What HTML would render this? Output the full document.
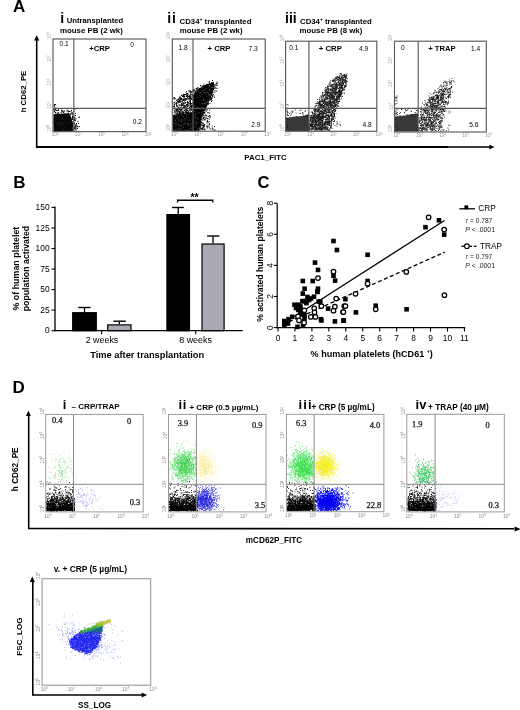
<!DOCTYPE html>
<html><head><meta charset="utf-8"><style>html,body{margin:0;padding:0;background:#fff;width:520px;height:710px;overflow:hidden}svg{display:block;filter:blur(0.3px)}</style></head>
<body>
<svg width="520" height="710" viewBox="0 0 520 710">
<rect width="520" height="710" fill="#fff"/>
<text x="13" y="12.4" font-family="Liberation Sans" font-size="17" font-weight="bold" text-anchor="start" fill="#000">A</text>
<line x1="36.7" y1="40" x2="36.7" y2="147.4" stroke="#000" stroke-width="1.6"/>
<polygon points="36.7,35.3 34.1,40.5 39.3,40.5" fill="#000"/>
<line x1="36" y1="147.0" x2="448" y2="147.0" stroke="#000" stroke-width="1.9"/>
<line x1="447.5" y1="147.0" x2="490" y2="147.0" stroke="#000" stroke-width="1.3"/>
<polygon points="494.5,147.1 489.3,144.7 489.3,149.5" fill="#000"/>
<text x="26" y="91.5" font-family="Liberation Sans" font-size="7.8" font-weight="bold" text-anchor="middle" fill="#000" transform="rotate(-90 26 91.5)">h CD62_PE</text>
<text x="265.5" y="159.6" font-family="Liberation Sans" font-size="7.9" font-weight="bold" text-anchor="middle" fill="#000">PAC1_FITC</text>
<text x="55.2" y="136.4" font-family="Liberation Sans" font-size="4.6" text-anchor="middle" fill="#999">10<tspan font-size="3.2" dy="-1.6">0</tspan></text>
<text x="78.5" y="136.4" font-family="Liberation Sans" font-size="4.6" text-anchor="middle" fill="#999">10<tspan font-size="3.2" dy="-1.6">1</tspan></text>
<text x="101.7" y="136.4" font-family="Liberation Sans" font-size="4.6" text-anchor="middle" fill="#999">10<tspan font-size="3.2" dy="-1.6">2</tspan></text>
<text x="125.0" y="136.4" font-family="Liberation Sans" font-size="4.6" text-anchor="middle" fill="#999">10<tspan font-size="3.2" dy="-1.6">3</tspan></text>
<text x="148.2" y="136.4" font-family="Liberation Sans" font-size="4.6" text-anchor="middle" fill="#999">10<tspan font-size="3.2" dy="-1.6">4</tspan></text>
<text x="51.0" y="128.3" font-family="Liberation Sans" font-size="4.6" text-anchor="middle" fill="#999" transform="rotate(-90 51.0 128.3)">10<tspan font-size="3.2" dy="-1.6">0</tspan></text>
<text x="51.0" y="105.1" font-family="Liberation Sans" font-size="4.6" text-anchor="middle" fill="#999" transform="rotate(-90 51.0 105.1)">10<tspan font-size="3.2" dy="-1.6">1</tspan></text>
<text x="51.0" y="82.0" font-family="Liberation Sans" font-size="4.6" text-anchor="middle" fill="#999" transform="rotate(-90 51.0 82.0)">10<tspan font-size="3.2" dy="-1.6">2</tspan></text>
<text x="51.0" y="58.9" font-family="Liberation Sans" font-size="4.6" text-anchor="middle" fill="#999" transform="rotate(-90 51.0 58.9)">10<tspan font-size="3.2" dy="-1.6">3</tspan></text>
<text x="51.0" y="35.7" font-family="Liberation Sans" font-size="4.6" text-anchor="middle" fill="#999" transform="rotate(-90 51.0 35.7)">10<tspan font-size="3.2" dy="-1.6">4</tspan></text>
<text x="174.5" y="136.0" font-family="Liberation Sans" font-size="4.6" text-anchor="middle" fill="#999">10<tspan font-size="3.2" dy="-1.6">0</tspan></text>
<text x="197.7" y="136.0" font-family="Liberation Sans" font-size="4.6" text-anchor="middle" fill="#999">10<tspan font-size="3.2" dy="-1.6">1</tspan></text>
<text x="220.9" y="136.0" font-family="Liberation Sans" font-size="4.6" text-anchor="middle" fill="#999">10<tspan font-size="3.2" dy="-1.6">2</tspan></text>
<text x="244.2" y="136.0" font-family="Liberation Sans" font-size="4.6" text-anchor="middle" fill="#999">10<tspan font-size="3.2" dy="-1.6">3</tspan></text>
<text x="267.4" y="136.0" font-family="Liberation Sans" font-size="4.6" text-anchor="middle" fill="#999">10<tspan font-size="3.2" dy="-1.6">4</tspan></text>
<text x="170.3" y="127.9" font-family="Liberation Sans" font-size="4.6" text-anchor="middle" fill="#999" transform="rotate(-90 170.3 127.9)">10<tspan font-size="3.2" dy="-1.6">0</tspan></text>
<text x="170.3" y="104.8" font-family="Liberation Sans" font-size="4.6" text-anchor="middle" fill="#999" transform="rotate(-90 170.3 104.8)">10<tspan font-size="3.2" dy="-1.6">1</tspan></text>
<text x="170.3" y="81.8" font-family="Liberation Sans" font-size="4.6" text-anchor="middle" fill="#999" transform="rotate(-90 170.3 81.8)">10<tspan font-size="3.2" dy="-1.6">2</tspan></text>
<text x="170.3" y="58.8" font-family="Liberation Sans" font-size="4.6" text-anchor="middle" fill="#999" transform="rotate(-90 170.3 58.8)">10<tspan font-size="3.2" dy="-1.6">3</tspan></text>
<text x="170.3" y="35.7" font-family="Liberation Sans" font-size="4.6" text-anchor="middle" fill="#999" transform="rotate(-90 170.3 35.7)">10<tspan font-size="3.2" dy="-1.6">4</tspan></text>
<text x="287.8" y="136.1" font-family="Liberation Sans" font-size="4.6" text-anchor="middle" fill="#999">10<tspan font-size="3.2" dy="-1.6">0</tspan></text>
<text x="310.6" y="136.1" font-family="Liberation Sans" font-size="4.6" text-anchor="middle" fill="#999">10<tspan font-size="3.2" dy="-1.6">1</tspan></text>
<text x="333.4" y="136.1" font-family="Liberation Sans" font-size="4.6" text-anchor="middle" fill="#999">10<tspan font-size="3.2" dy="-1.6">2</tspan></text>
<text x="356.2" y="136.1" font-family="Liberation Sans" font-size="4.6" text-anchor="middle" fill="#999">10<tspan font-size="3.2" dy="-1.6">3</tspan></text>
<text x="379.0" y="136.1" font-family="Liberation Sans" font-size="4.6" text-anchor="middle" fill="#999">10<tspan font-size="3.2" dy="-1.6">4</tspan></text>
<text x="283.6" y="128.0" font-family="Liberation Sans" font-size="4.6" text-anchor="middle" fill="#999" transform="rotate(-90 283.6 128.0)">10<tspan font-size="3.2" dy="-1.6">0</tspan></text>
<text x="283.6" y="105.5" font-family="Liberation Sans" font-size="4.6" text-anchor="middle" fill="#999" transform="rotate(-90 283.6 105.5)">10<tspan font-size="3.2" dy="-1.6">1</tspan></text>
<text x="283.6" y="83.0" font-family="Liberation Sans" font-size="4.6" text-anchor="middle" fill="#999" transform="rotate(-90 283.6 83.0)">10<tspan font-size="3.2" dy="-1.6">2</tspan></text>
<text x="283.6" y="60.4" font-family="Liberation Sans" font-size="4.6" text-anchor="middle" fill="#999" transform="rotate(-90 283.6 60.4)">10<tspan font-size="3.2" dy="-1.6">3</tspan></text>
<text x="283.6" y="37.9" font-family="Liberation Sans" font-size="4.6" text-anchor="middle" fill="#999" transform="rotate(-90 283.6 37.9)">10<tspan font-size="3.2" dy="-1.6">4</tspan></text>
<text x="396.7" y="136.8" font-family="Liberation Sans" font-size="4.6" text-anchor="middle" fill="#999">10<tspan font-size="3.2" dy="-1.6">0</tspan></text>
<text x="419.6" y="136.8" font-family="Liberation Sans" font-size="4.6" text-anchor="middle" fill="#999">10<tspan font-size="3.2" dy="-1.6">1</tspan></text>
<text x="442.6" y="136.8" font-family="Liberation Sans" font-size="4.6" text-anchor="middle" fill="#999">10<tspan font-size="3.2" dy="-1.6">2</tspan></text>
<text x="465.6" y="136.8" font-family="Liberation Sans" font-size="4.6" text-anchor="middle" fill="#999">10<tspan font-size="3.2" dy="-1.6">3</tspan></text>
<text x="488.5" y="136.8" font-family="Liberation Sans" font-size="4.6" text-anchor="middle" fill="#999">10<tspan font-size="3.2" dy="-1.6">4</tspan></text>
<text x="392.5" y="128.7" font-family="Liberation Sans" font-size="4.6" text-anchor="middle" fill="#999" transform="rotate(-90 392.5 128.7)">10<tspan font-size="3.2" dy="-1.6">0</tspan></text>
<text x="392.5" y="106.0" font-family="Liberation Sans" font-size="4.6" text-anchor="middle" fill="#999" transform="rotate(-90 392.5 106.0)">10<tspan font-size="3.2" dy="-1.6">1</tspan></text>
<text x="392.5" y="83.3" font-family="Liberation Sans" font-size="4.6" text-anchor="middle" fill="#999" transform="rotate(-90 392.5 83.3)">10<tspan font-size="3.2" dy="-1.6">2</tspan></text>
<text x="392.5" y="60.6" font-family="Liberation Sans" font-size="4.6" text-anchor="middle" fill="#999" transform="rotate(-90 392.5 60.6)">10<tspan font-size="3.2" dy="-1.6">3</tspan></text>
<text x="392.5" y="37.9" font-family="Liberation Sans" font-size="4.6" text-anchor="middle" fill="#999" transform="rotate(-90 392.5 37.9)">10<tspan font-size="3.2" dy="-1.6">4</tspan></text>
<polygon points="53.5,115 60,114 66,113.5 70,114.5 71.5,118 72.5,124 73,131.5 53.5,131.5" fill="#111" fill-opacity="1.0"/>
<path d="M67 120h1m7 9h1m-4.5 0h1m-13.5 -8h1m1 7h1m12 -7.5h1m-3 3h1m-1 -7h1m-9 2h1m-4 7h1m-0.5 2h1m-1.5 -13.5h1m1.5 12h1m1 2h1m0 -7.5h1m3 4.5h1m-5 -8h1m-9.5 2h1m-2 5.5h1m8.5 -9h1m-14 4h1m-1 4h1m10.5 1.5h1m-2.5 -9h1m4 3h1m-4 -1h1m-2 -0.5h1m-6.5 -3.5h1m-6.5 7.5h1m2 5.5h1m13 -1.5h1m-14 -10h1m2.5 -0.5h1m-6.5 4h1m15.5 7.5h1m-16 -4h1m1 7h1m15 -4h1m-11 -2.5h1m6 3.5h1m-6.5 0.5h1m3 -8h1m-14.5 -1h1m7.5 3h1m0 0h1m-6.5 -0.5h1m4.5 5h1m-5 -11h1m-2.5 1h1m-5 3h1m9 -3h1m0 5h1m-1 -7.5h1m0.5 7.5h1m-12 -3.5h1m3 0.5h1m-2.5 10.5h1m1 -12.5h1m-8.5 8.5h1m1.5 -3.5h1m10 7h1m-10.5 -12.5h1m13 15h1m-4.5 -0.5h1m-14 -4h1m18 -0.5h1m-2.5 -0.5h1m-9.5 3.5h1m-10 -12.5h1m-0.5 14.5h1m17 -1.5h1m-9 -15h1m-12.5 4h1m10 10.5h1m-0.5 2.5h1m-4 -6.5h1m-6.5 2h1m-3.5 0.5h1m16.5 -3h1m-10 6.5h1m-0.5 -6h1m-6 -5.5h1m9.5 5.5h1m-10.5 2h1m-8.5 0h1m2 -6h1m17.5 7.5h1m-8.5 -0.5h1m-5.5 -9h1m1 -4.5h1m-4.5 1.5h1m4 1.5h1m0.5 5.5h1m-9.5 8h1m5 -13h1m4 12.5h1m3 -4.5h1m-20.5 3.5h1m14 -1.5h1m1 -9.5h1m-16 -3h1m5.5 14h1m8.5 -2h1m-21 -10.5h1m14.5 0h1m2.5 14h1m-8 -14h1m3.5 9.5h1m-11.5 -10h1m-2.5 12h1m2.5 -13h1m-5 8h1m4.5 -10h1m2 15.5h1m-6.5 -15.5h1m-0.5 5h1m12.5 10h1m-10.5 -4h1m-1 0.5h1m0 -2.5h1m8.5 8.5h1m-4.5 -11h1m-5.5 6.5h1m-5 -1h1m9.5 2.5h1m-12 -8.5h1m12.5 8h1m-22 0h1m8 -6.5h1m-2 -8h1m11 18h1m-17 -3h1m11.5 -12h1m-2 11h1m-2.5 -8.5h1m-2 3h1m7.5 8h1m-17.5 -7.5h1m2 -4h1m-6 1h1m-2.5 -5h1m1.5 3h1m12.5 0h1m-17 -2h1m10 6.5h1m-4.5 -4h1m2.5 11h1m-7 -10h1m0.5 3.5h1m2.5 -6.5h1m-0.5 1h1m-12.5 5.5h1m6 7h1m7.5 -15h1m0 12h1m-4 4h1m-15 0h1m16.5 -7h1m0.5 -4h1m-9 8.5h1m-12.5 -9h1m-2 5h1m4.5 -1.5h1m-1 -2.5h1m6 -7h1m-12.5 10.5h1m12 -6h1m-11 -3h1m11.5 9h1m-10 1.5h1m13.5 0.5h1m-12 -5.5h1m6 3.5h1m-5 4.5h1m-2.5 -4h1m-11 5.5h1m10 -3.5h1m4.5 -1.5h1m-19.5 2.5h1m5.5 1.5h1m-2 -12h1m-4.5 6.5h1m10 5h1m4 -7h1m-12 -2h1m10 1.5h1m-1 3h1m-18.5 3h1m16 -1h1m-16.5 6h1m12 -15h1m-2.5 1h1m-12.5 -1h1m14 4.5h1m-10 -2.5h1m7 3h1m2 8h1m-18.5 -12.5h1m11.5 8.5h1m-10 2.5h1m7 -6.5h1m-6.5 -0.5h1m0 7h1m6.5 -13h1m-15.5 13.5h1m4.5 -10h1m-4.5 12h1m10.5 -17.5h1m3 17h1m-11.5 -13h1m-1.5 6h1m2 3h1m-9.5 -3h1m0 -6.5h1m1.5 0h1m3 1.5h1m-10.5 -4h1m16 5h1m-5 -3h1m-7.5 5.5h1m-6 -1.5h1m11.5 7h1m-12 -9h1m-2.5 2h1m-2 7h1m3 -5h1m0.5 7h1m11 -5.5h1m-6.5 7.5h1m-12 -0.5h1m7.5 -11.5h1m8.5 9h1m-14 -10h1m7.5 -2h1m0 -2.5h1m1.5 -0.5h1m-8 -1.5h1m-6 2h1m-1 -2h1m5 4h1m3.5 0h1m-12 -3.5h1m-4 -2h1m-5 6h1m2 -4h1m14 2.5h1m-6 1h1m7 -0.5h1m-20.5 0.5h1m5 -2.5h1m8 2.5h1m-3.5 -2.5h1m-13.5 -1.5h1m6 1.5h1m4 -1h1m0 3h1m-6 0.5h1m-6.5 -4.5h1m15.5 0h1m-11.5 1.5h1m4 0.5h1m-5 3h1m-10.5 0h1m2.5 0.5h1m-4.5 -2h1m1.5 0h1m-1 -2.5h1m3.5 0.5h1m-2.5 -2.5h1m-0.5 5.5h1m8.5 -3.5h1m-17.5 -1.5h1m0.5 1.5h1m14 0h1m5 18h1m-8 -0.5h1m1.5 -2.5h1m5.5 1h1m-1.5 -9h1m-3 8.5h1m-2 -7h1m-4.5 0h1m6 -2h1m-2.5 4.5h1m-3.5 -6h1m-4.5 10h1m-0.5 1.5h1m1 0.5h1m-1.5 -10.5h1m-4 8.5h1m2.5 3h1m-0.5 -13h1m-2.5 2.5h1m0 1.5h1m-1.5 3h1m-0.5 -4.5h1m1 5.5h1m-2 -3h1m-4 5h1m5 -2h1m-4 2.5h1m-1.5 -7h1m1.5 7.5h1m-0.5 0.5h1m-24 -2.5h1m-2 -2.5h1m0.5 -17.5h1m-1.5 5.5h1m-1.5 8h1m-1 5h1m-0.5 -8.5h1m-1 1.5h1m-1.5 10.5h1m-1 -22h1m-1 7h1m-0.5 0.5h1m-2 -2h1m-0.5 -4.5h1m-1 9.5h1m-1.5 6.5h1m0.5 -13.5h1m-2 18.5h1m-0.5 -17h1m-1.5 13.5h1m-1.5 -14.5h1m0.5 19.5h1m-1 -18.5h1m-2 14h1m-1 3h1m-1 -15.5h1m-1 -4.5h1m-0.5 13.5h1m-1 -2.5h1" stroke="#000" stroke-width="1" stroke-opacity="0.9" fill="none"/>
<polygon points="172.8,115 182,114.5 193,112 193,95 199,88.5 207,84 213.5,82.5 214.5,88 211,97 206,107 202,117 199,131 172.8,131" fill="#1c1c1c" fill-opacity="1.0"/>
<path d="M205.5 93.5h1m-13 35h1m-3 -2h1m-11 2.5h1m12 -9h1m-2 -17.5h1m-4 25h1m9 -25h1m-5 6h1m14 -14h1m-22.5 25.5h1m6.5 -24h1m-9.5 22h1m21 -31.5h1m-4.5 8.5h1m-26 28.5h1m3.5 -1h1m-6.5 6h1m-6 -8h1m33 -22.5h1m-10 -5h1m-16.5 32h1m11.5 4.5h1m-12.5 -15h1m-0.5 1.5h1m-12.5 0.5h1m32.5 -28h1m-10 6.5h1m-4.5 33h1m-6 -14h1m13.5 -17h1m0 5.5h1m-29.5 21.5h1m17 -22.5h1m-2 -4h1m-11.5 25h1m2 2.5h1m12 -27h1m-14.5 24h1m8 0h1m5.5 -26h1m2 -7h1m-5 21.5h1m-19 4.5h1m9 14.5h1m-20 -9h1m14.5 5h1m13.5 -19.5h1m-23.5 17h1m1.5 6h1m21 -38.5h1m1.5 -2.5h1m-25 35h1m18.5 -23h1m-2.5 2.5h1m-5.5 -13.5h1m-2 5.5h1m-4 16h1m16 -27h1m-18.5 46h1m11 -30.5h1m-5.5 13.5h1m3.5 -14h1m-12.5 5h1m11 1h1m-7.5 -8.5h1m4 0.5h1m-20.5 20.5h1m-10 11h1m25.5 -41h1m-15 34.5h1m5.5 -18.5h1m-9 20.5h1m3 6.5h1m4.5 -5h1m-3 -18h1m-2.5 2h1m17 -21h1m-19.5 8.5h1m9.5 0h1m1.5 7h1m-8.5 19.5h1m-0.5 -23.5h1m-3 29h1m-2.5 -15h1m-0.5 1h1m12.5 -27h1m-4.5 -2h1m-4.5 18h1m6.5 -15h1m-6.5 3.5h1m-2.5 12.5h1m-31 11.5h1m9 11h1m10.5 -0.5h1m3.5 -24.5h1m3 -2h1m-5.5 -1.5h1m9.5 -11.5h1m-19 41h1m-13 -11.5h1m23.5 -20.5h1m-20.5 20.5h1m11 -14.5h1m-4 4h1m8 -14h1m5 -1.5h1m-16.5 4.5h1m-18.5 22h1m15.5 11h1m8.5 -37.5h1m-2.5 4h1m-2 3h1m-9 19h1m-8 12h1m9.5 -7h1m2 3.5h1m-5 -7.5h1m10.5 -27h1m-21 38h1m21 -33.5h1m-35 20.5h1m8.5 0.5h1m-3.5 10.5h1m2 -12h1m12.5 -22.5h1m4 18.5h1m2 -7.5h1m-30.5 16.5h1m17 5.5h1m9 -18.5h1m-8.5 -6.5h1m5 -3.5h1m-4 3h1m5.5 -11.5h1m-7 36h1m10.5 -34.5h1m-14 16.5h1m8.5 -16h1m-9.5 26.5h1m1 -13.5h1m-23 12h1m18.5 -9h1m-14 14.5h1m7.5 3h1m-6 -10h1m5.5 -12h1m-23.5 27.5h1m31.5 -39.5h1m-31 39h1m24 -15h1m-11 0.5h1m7.5 0.5h1m4.5 -23h1m-11.5 4.5h1m5.5 -5h1m2 1h1m-6.5 17h1m-7.5 8h1m-15 7h1m25 -19.5h1m-9.5 4h1m7 2.5h1m3 -13h1m-7 -3.5h1m3 14h1m-2 1.5h1m-10 -2.5h1m5 -9.5h1m-8.5 32h1m4.5 -24.5h1m-6.5 20.5h1m13 -41.5h1m-13.5 26h1m8 -21.5h1m-11.5 25.5h1m9.5 -11.5h1m3.5 -4h1m-15.5 17.5h1m-16 8.5h1m18.5 -12.5h1m-16 13h1m17.5 -32h1m-6 21h1m-15 2h1m19 -24h1m-17 35.5h1m19.5 -41.5h1m1.5 0.5h1m-10.5 24h1m-5.5 -15h1m-19 30.5h1m-0.5 -8h1m17.5 -27h1m7 4h1m-19 26h1m16 -14h1m-17 12h1m-13 9h1m22.5 -11h1m4.5 -30.5h1m6 5h1m-1 4.5h1m-4 -6h1m-8 9h1m-1 -5h1m-7.5 31.5h1m-2 2.5h1m9.5 -20.5h1m-9.5 13.5h1m0.5 -5.5h1m-14 1h1m24.5 -26.5h1m-18.5 34h1m15.5 -36.5h1m-35 32h1m34 -24.5h1m-17.5 27.5h1m0.5 -4h1m-9 6h1m24 -35.5h1m-40.5 30h1m29.5 -9.5h1m-15 15h1m7 -13.5h1m2.5 -22h1m0.5 15.5h1m-10.5 6h1m3 -1.5h1m4 3.5h1m9.5 -23.5h1m-18 17.5h1m-18.5 19.5h1m26 -38h1m-30 27.5h1m25.5 -7h1m-30 19h1m26 -17.5h1m2.5 -17h1m-2.5 4h1m-5.5 6.5h1m-26 12.5h1m21.5 -23.5h1m-19.5 32.5h1m26 -33h1m1 -3.5h1m-13.5 23h1m1.5 -1h1m-14.5 7h1m30 -30h1m-13.5 15.5h1m-16.5 21.5h1m13.5 -31h1m-24.5 32.5h1m16 -9h1m6 4h1m0.5 -33h1m4.5 9h1m-25.5 21.5h1m8 9h1m6 -21.5h1m-10 14h1m13.5 -11.5h1m-10.5 12h1m-0.5 -8.5h1m-11.5 4.5h1m14 9h1m1.5 -36.5h1m-1.5 6h1m2 -7h1m-7.5 27.5h1m1.5 -14.5h1m8.5 -6h1m-36 32h1m28 -42h1m-21.5 38h1m-9 2.5h1m26 -16h1m5 -16.5h1m0 0h1m-9.5 21h1m2 -20.5h1m4.5 -1.5h1m0.5 -1.5h1m-28 33.5h1m14.5 -27h1m-27.5 26h1m30.5 -24.5h1m-4.5 17.5h1m5 -13.5h1m-29.5 20.5h1m17.5 -17.5h1m-6 15h1m4 -21h1m12 -10.5h1m-27.5 26.5h1m20.5 -22.5h1m4.5 -10.5h1m-23.5 45.5h1m20 -44.5h1m-14 12.5h1m-16 27.5h1m1.5 -1h1m-1 4.5h1m6.5 -5h1m-14.5 -4h1m17 7.5h1m-1 -1.5h1m12 -39.5h1m-4 22h1m1 -3h1m-7.5 -4.5h1m-0.5 6.5h1m3.5 -20.5h1m-26 42.5h1m13.5 -35h1m9.5 -4h1m-13 8h1m6 9.5h1m3.5 -6.5h1m-20.5 18.5h1m10 -24.5h1m7.5 -5h1m-6.5 12.5h1m1.5 -1h1m-21 15.5h1m-8.5 9.5h1m33.5 -30.5h1m-11 2.5h1m1 -8.5h1m-4.5 37h1m-11.5 -9.5h1m-6.5 0h1m10 -12.5h1m-20.5 11h1m24.5 8h1m6 -32.5h1m-9 15h1m1 -14h1m-3 -2h1m-19 27h1m17 6.5h1m-2 -16.5h1m12 -17.5h1m-28.5 35.5h1m16.5 -22.5h1m-19.5 23.5h1m20 -33h1m-21 34.5h1m18 -34h1m3.5 -6h1m-8.5 15h1m-22.5 19.5h1m24 -33.5h1m6.5 6h1m-11.5 24h1m-5 6.5h1m11 -21h1m-14 -3h1m14.5 -14.5h1m1.5 -3.5h1m-22.5 43.5h1m-13 4h1m26.5 -38.5h1m-17 36h1m-9.5 -0.5h1m16 -32.5h1m-1 29h1m-14 -1h1m22 -34h1m-5.5 0.5h1m-2.5 13.5h1m-5.5 -3.5h1m-15.5 27h1m6.5 -11.5h1m3.5 -16h1m-6.5 24h1m17.5 -26h1m-4.5 0h1m4 -2h1m-34.5 26h1m22 -28.5h1m-12.5 29h1m1 -1h1m-2 10h1m-16 -8h1m25.5 -25.5h1m-15.5 24h1m24.5 -36h1m-14 26.5h1m4.5 -1.5h1m7 -23h1m-20 9h1m-12 33h1m30 -44h1m-5 0h1m-12.5 41.5h1m-0.5 -10h1m-13 11.5h1m8 0h1m7 -18.5h1m-17.5 15.5h1m0 -8.5h1m5.5 12.5h1m15 -31.5h1m-1.5 1h1m-13 -1.5h1m-1 7.5h1m-20 18.5h1m-6 6h1m38 -43h1m-4 11h1m-16.5 12.5h1m1.5 -4h1m15 -19h1m-3.5 8h1m-33 29.5h1m15 6.5h1m-18 -10h1m7 8.5h1m16 -15h1m-0.5 -4h1m-3.5 3.5h1m-5 -10h1m-21.5 14h1m27 -21h1m-10 1.5h1m5 -1.5h1m-2 17.5h1m0.5 -23.5h1m-2 28.5h1m-5.5 6h1m5 -31h1m5.5 4.5h1m-33.5 17.5h1m15.5 9h1m5 1h1m3.5 -23h1m-12 21.5h1m14.5 -26.5h1m-21.5 29.5h1m3 1h1m-15.5 -5h1m23.5 -15h1m-16.5 7.5h1m14.5 1h1m-5.5 7h1m-15 4.5h1m16 -4.5h1m-14 6.5h1m4.5 -10h1m2.5 3.5h1m3 -6h1m-4 8h1m-4 -15h1m-1.5 -8.5h1m9 -1h1m-7 9h1m-20.5 17h1m14.5 -13.5h1m-18 11.5h1m21.5 -6.5h1m7.5 -24.5h1m-34.5 32.5h1m24.5 -2h1m-3 -8.5h1m-3.5 8h1m-6.5 -3h1m-1 4.5h1m-6 2h1m-2 2h1m11.5 -16h1m6.5 -1.5h1m-4.5 5h1m-13.5 7.5h1m22 -28h1m-11 25.5h1m-2 -2h1m-5 3h1m-19 -8h1m4 8h1m16 -1.5h1m-5.5 -10.5h1m-4 8.5h1m-3.5 2h1m14.5 -24.5h1m-2.5 -9h1m-8 31h1m2 -3.5h1m-3 -19.5h1m13.5 -12h1m-4 8.5h1m-3.5 6.5h1m-9 -6.5h1m-18 31h1m7 1.5h1m6 -10.5h1m-22 9.5h1m22 -27h1m0 15h1m-6 -17h1m1.5 9.5h1m2 -13h1m-14.5 36.5h1m22.5 -28h1m-35.5 17h1m26 -28h1m3.5 2.5h1m-32 28.5h1m25 -23.5h1m3 7.5h1m-13 -0.5h1m15.5 -7h1m-21.5 26h1m14.5 -14.5h1m-5 -9.5h1m-11 31h1m11 -36h1m-15 29h1m0 -8.5h1m16.5 -19.5h1m-7.5 -0.5h1m-5 20.5h1m0 -13h1m5.5 -3.5h1m6.5 -13.5h1m-13.5 38.5h1m-6 5.5h1m-5.5 -5h1m4.5 -26h1m4.5 1.5h1m-25.5 29h1m23.5 -10.5h1m1.5 -28.5h1m-11.5 28.5h1m-12.5 1h1m6.5 1.5h1m20.5 -28h1m-18.5 12h1m-19.5 23.5h1m2 -8.5h1m16 -16h1m-19.5 14h1m32 -24h1m-29 35h1m18.5 -37h1m-1 30h1m-15.5 5h1m10.5 -28h1m-1.5 16h1m-4.5 -14.5h1m-21.5 20h1m21 10.5h1m3 -37h1m-18.5 37h1m0.5 -14.5h1m5.5 -2.5h1m11 -10h1m-5 1.5h1m-2 17.5h1m-0.5 -21.5h1m-15.5 29.5h1m5 -3.5h1m10 -2.5h1m2.5 -12h1m-18.5 16.5h1m-8.5 -6.5h1m12 3h1m2 -10h1m-15.5 12h1m11 -4h1m0.5 -20.5h1m11 -9h1m-29 27h1m25 -15h1m-29.5 22.5h1m19 -31h1m5.5 7h1m-1.5 5h1m-6 6.5h1m-12 2h1m12.5 -6h1m-0.5 -5h1m-14.5 21h1m3.5 0h1m5 -11.5h1m-9.5 12.5h1m14 -33h1m9.5 -10h1m-7 10h1m-24 33h1m14 -33h1m8.5 1.5h1m-13 3.5h1m-6.5 17h1m11.5 -27h1m0.5 13.5h1m2.5 -6h1m-27 27h1m15.5 -8.5h1m-14.5 4.5h1m-5 -2.5h1m29.5 -33h1m-2 8h1m-10 21.5h1m0.5 -24h1m-9.5 24.5h1m-10.5 10h1m11.5 -26h1m-14 29.5h1m24 -40h1m-33.5 30h1m16.5 0.5h1m3 -12h1m-15 18.5h1m20.5 -41h1m-13.5 19h1m-12 11h1m10 15h1m-14.5 -6.5h1m15.5 -13h1m6 -13.5h1m-7 -7h1m-9 30.5h1m-16.5 3.5h1m1 3h1m23 -30.5h1m-13 31.5h1m9 -24h1m0 -13.5h1m-9.5 32.5h1m-8.5 -3h1m5 7h1m14 -32.5h1m-22 27.5h1m25.5 -26.5h1m-24 24h1m19.5 -33.5h1m-1 1.5h1m-26.5 42.5h1m1 -0.5h1m5.5 -12h1m3 -5h1m4 -10.5h1m-25 18h1m4.5 -3h1m-2.5 1h1m20.5 -28.5h1m11.5 -5h1m-14 28.5h1m-11.5 9.5h1m-5 7h1m20 -41h1m-1 12h1m-14.5 2.5h1m7 8h1m-19 4h1m22.5 -28h1m-27.5 31.5h1m19 -29.5h1m-26.5 30h1m29.5 -33h1m-31.5 37h1m20.5 7h1m1.5 -4h1m3.5 -17h1m-23 17h1m14 -4h1m2.5 -22.5h1m0.5 19.5h1m7 -30.5h1m-13 34h1m6 -16.5h1m-12 18.5h1m-20.5 -7.5h1m25 -22.5h1m-20 34h1m-1.5 -12.5h1m7.5 8.5h1m15.5 -35.5h1m-9 26h1m-13 11.5h1m7 -2h1m6.5 -2h1m-21 5h1m22.5 -30.5h1m-21.5 23.5h1m10.5 -11h1m1 18.5h1m0.5 -3.5h1m12.5 -40.5h1m-27 38h1m20 -34h1m-12 16.5h1m-20.5 16h1m15.5 4.5h1m9 -22.5h1m4 -4h1m-5.5 -5.5h1m-18.5 22.5h1m16 -25h1m0.5 6h1m6.5 -6.5h1m-16.5 21.5h1m3 13h1m-15 -2h1m-10 -1h1m20.5 -2.5h1m11 -33.5h1m-14 38h1m-2.5 -1h1m2 -9h1m8.5 -28.5h1m-8 14h1m-26.5 28.5h1m26 -35h1m-10 30.5h1m4 -24h1m2 -3h1m-7 20h1m-9 11.5h1m16.5 -24.5h1m1 -16h1m-6 15.5h1m-5 -3.5h1m-26.5 30h1m-0.5 -7h1m17 -5.5h1m13 -21.5h1m-18.5 22h1m4.5 -8.5h1m-1 -14.5h1m-0.5 2h1m-1.5 29h1m-14.5 -10h1m21 -17h1m-25 29h1m32.5 -42h1m-14 37.5h1m0.5 -4h1m-26 3h1m27.5 -30.5h1m6 -6.5h1m-18.5 34.5h1m8 -11h1m-2 5.5h1m-4 -1.5h1m5 -18.5h1m-16 36h1m-6.5 -1h1m14 -29h1m6.5 -2h1m-28 25.5h1m12 -3h1m16.5 -34h1m-6.5 0.5h1m-30.5 38.5h1m20 -8h1m1.5 -5.5h1m-4 3h1m1 -2.5h1m-15.5 11.5h1m21.5 -29.5h1m-28 21.5h1m18.5 3.5h1m9 -32h1m-24 31h1m-0.5 8.5h1m11.5 -36h1m-4 3h1m-0.5 30.5h1m-1.5 -25.5h1m-11.5 23.5h1m28 -33.5h1m-27.5 33h1m11 0h1m0.5 -19.5h1m7.5 -14h1m-5 0.5h1m-13 18.5h1m6.5 -15.5h1m-2 30h1m1 -31h1m2 5h1m-16.5 25.5h1m10.5 -11h1m-2.5 9h1m10 -24h1m-16.5 3h1m-1.5 31.5h1m-1 -12.5h1m12.5 -19h1m-35 23.5h1m2.5 4.5h1m13 3h1m-13.5 -8.5h1m14 -10.5h1m-6 4.5h1m15 -11.5h1m-13 27h1m1 -13.5h1m8.5 -15.5h1m7.5 -12.5h1m-13 11h1m-18 26h1m13 4h1m-7.5 -8.5h1m-16.5 4h1m8 -7.5h1m11 -24.5h1m0 36h1m4 -36.5h1m-14 21.5h1m5 -4.5h1m10 -15h1m-28.5 24.5h1m18 -21.5h1m-5 32h1m12.5 -35h1m-4 0h1m-5 5h1m-18.5 28h1m-4.5 -5h1m32 -38h1m-4.5 5.5h1m-18 25h1m15.5 -16.5h1m-23.5 24.5h1m12 -1h1m-21 -2h1m26 -16h1m-3.5 -10.5h1m-27.5 22h1m9 12.5h1m3.5 -14h1m13.5 -19.5h1m-8.5 1.5h1m2.5 4h1m-8 4.5h1m0.5 10h1m-14 13h1m5.5 -5h1m18.5 -22.5h1m-2 -9.5h1m-13.5 20.5h1m12 -26h1m3 4h1m-14 18.5h1m-28 21.5h1m15.5 -12h1m1.5 11.5h1m19.5 -43.5h1m-31.5 45h1m11 -7.5h1m-10 3.5h1m-12 -10.5h1m28.5 -26h1m-31 30h1m23 -22.5h1m1.5 -1.5h1m-4 0.5h1m-4.5 29.5h1m3.5 2h1m3.5 -32h1m-17 21h1m5.5 -15.5h1m-18.5 26h1m23.5 -29h1m-24.5 22h1m22 -27.5h1m-25 27.5h1m10.5 -1.5h1m0 10h1m11.5 -31h1m-18 12.5h1m7.5 -10.5h1m-8 12.5h1m8 -13h1m-8 5.5h1m-1.5 -8h1m-13.5 15.5h1m14 -8h1m-13 8h1m-2 -2h1m-1 1h1m1.5 -12.5h1m9.5 -2.5h1m-8.5 5.5h1m2 4.5h1m-6 12.5h1m0.5 -9h1m-1.5 -5h1m0.5 -8h1m-1.5 8.5h1m11 -9h1m-10.5 -1.5h1m10 5.5h1m-10.5 -7h1m7.5 18h1m-8.5 4h1m8 -16h1m-17.5 16.5h1m5.5 -21h1m6 0.5h1m-7.5 10h1m11 -11h1m-20 22h1m8.5 -25.5h1m-0.5 10.5h1m-0.5 -0.5h1m-10.5 17h1m4 0h1m-3.5 -10h1m-6 -6h1m17.5 -0.5h1m-14 12.5h1m13 -21.5h1m-13.5 8h1m8 -1h1m-9 13h1m6.5 -21h1m0.5 4.5h1m-8.5 13.5h1m-10 5h1m8.5 -8h1m-4.5 -8h1m-1.5 1.5h1m-6 16h1m5 -12h1m-1 -6.5h1m-4 5h1m2.5 -7.5h1m-10 15.5h1m6.5 -4h1m3 9h1m8.5 -23.5h1m-18.5 9.5h1m12.5 7.5h1m-12 7h1m1 -12.5h1m-3.5 1h1m8 -5.5h1m2.5 0.5h1m-13.5 14.5h1m1 -14.5h1m2 13.5h1m-7.5 -13h1m-1.5 0.5h1m3.5 1h1m1 -9.5h1m7 18.5h1m-12 -15.5h1m9 12h1m-14.5 -4h1m4.5 4.5h1m-10 8h1m6 -7.5h1m5 0.5h1m-2 -5.5h1m-3.5 15.5h1m-7 -5.5h1m14 -21h1m-19.5 9h1m-1 15h1m10.5 -21h1m-7.5 24h1m-2.5 -9h1m12 -6.5h1m-3.5 -11h1m2 5h1m-0.5 5h1m-18.5 1h1m17.5 -0.5h1m-6 7.5h1m-5 0.5h1m-8.5 4.5h1m-0.5 -13h1m10.5 15h1m-9.5 -8h1m3.5 4.5h1m-3.5 2h1m-1 -10h1m3 -10.5h1m2.5 14.5h1m-16 -3.5h1m12.5 3.5h1m2.5 7.5h1m0.5 -24h1m-13 12.5h1m1 -5h1m-5 14.5h1m5 -18.5h1m0 9.5h1m2 10.5h1m0 -21.5h1m-5.5 19h1m-12 -10h1m-1 1h1m20.5 -17h1m-6.5 23.5h1m-15.5 -4.5h1m6 -1.5h1m-7 6.5h1m14.5 -10.5h1m-4 -3h1m-2 3.5h1m-7.5 4h1m11 -14h1m-5 0h1m-13 19.5h1m0.5 6h1m6.5 -1h1m-8.5 -13h1m15 -6.5h1m-9.5 18h1m-2.5 -19h1m-10 5h1m3 10h1m9.5 -4.5h1m-9 6h1m-6.5 0.5h1m13 2.5h1m-10 -8.5h1m8 6h1m-12.5 -7.5h1m7 -1.5h1m-11.5 -2.5h1m9.5 -10.5h1m-11.5 21.5h1m16.5 -19.5h1m-8.5 5h1m2 15h1m-10 -12.5h1m-8.5 12.5h1m9 -14h1m2 18.5h1m-9 -19h1m10.5 1h1m0 11.5h1m-16 -8.5h1m11 3.5h1m-8 10h1m6 -13h1m-14.5 12h1m3 -2h1m9.5 -7.5h1m-8 -10.5h1m8.5 17h1m-4 -3.5h1m-8.5 -8h1m1 2h1m-3.5 9.5h1m8.5 5h1m-6 -23.5h1m-6 24h1m-5 -10h1m-3 -3.5h1m0 -2.5h1m13 5h1m-9 6h1m3.5 0.5h1m-11 -1h1m-3 2.5h1m11 -11.5h1m-0.5 10.5h1m-11 1.5h1m17.5 -25h1m-20 9.5h1m8.5 3h1m1.5 3h1m-16 10.5h1m11.5 -11h1m2 -2.5h1m-0.5 -11h1m-0.5 17h1m-16.5 1h1m18 -19h1m-18 12.5h1m3.5 14h1m12 -18.5h1m-6 18h1m-8 -13.5h1m3 2.5h1m5.5 -16h1m-15.5 24.5h1m-1 -12h1m5.5 7.5h1m7 3.5h1m-10 -1h1m-1.5 -1.5h1m1.5 -11.5h1m2.5 -4h1m-4 11.5h1m-5 -9.5h1m5.5 21h1m3.5 -21.5h1m-17 12h1m0 -8h1m13.5 11.5h1m-12.5 3.5h1m2.5 -3.5h1m-7.5 0.5h1m16 -24h1m-12.5 19h1m-2.5 10.5h1m12 -28h1m-20 19.5h1m16 -12h1m-8 6.5h1m-7.5 6h1m11.5 -18h1m-16 7.5h1m7 10.5h1m-2.5 -1.5h1m12 -21h1m-14.5 18.5h1m2 0.5h1m-7 -11h1m8 8h1m3.5 -4h1m-4 11h1m2 -14h1m-10 6h1m0.5 -5.5h1m3.5 18.5h1m-0.5 1.5h1m-3 -26h1m-13 11h1m17 -4.5h1m-17.5 0h1m13 6h1m-10 7.5h1m1 -4h1m-8 7.5h1m2 -9h1m6 7h1m0 4h1m-10 -3h1m-4 -8.5h1m12.5 -8h1m-12.5 8.5h1m-1.5 4.5h1m0.5 -0.5h1m-2.5 -10.5h1m-3.5 12h1m4.5 -14.5h1m5 21h1m-13 -2h1m4.5 -15h1m-3.5 -3.5h1m11.5 9h1m3.5 -14.5h1m-7.5 16.5h1m-14 11h1m14 -10h1m-0.5 -3h1m-3.5 0.5h1m1 -11.5h1m-13.5 3.5h1m12 7.5h1m-8 -9.5h1m-7 5h1m13.5 -3.5h1m-10 1.5h1m-10 14h1m3 -2h1m-1.5 -13h1m-1.5 18h1m9 -20h1m-9.5 12h1m2 8h1m5.5 -1.5h1m-10 -16h1m-5.5 10h1m4.5 -4h1m-2 -10h1m11.5 8.5h1m-7.5 13h1m2.5 -10.5h1m-14 10.5h1m-2 -7.5h1m10 3.5h1m-3 -2.5h1m0 -7.5h1m-5.5 9h1m4.5 2h1m-8.5 -13h1m-0.5 8h1m-4.5 -9.5h1m13 6.5h1m-4 10h1m2.5 -9.5h1m-10 -11.5h1m-6 13h1m1.5 -9.5h1m6 1h1m-4.5 9.5h1m-2 5h1m5.5 -2.5h1m-2 -12.5h1m2.5 -1h1m-5 5h1m-3 -9h1m-8.5 15.5h1m1.5 5.5h1m9.5 -23h1m-12 16.5h1m2.5 7h1m9.5 -16.5h1m-2 11.5h1m-19.5 0h1m4.5 0h1m8 -8.5h1m0 -2.5h1m-0.5 14.5h1m-4 -17h1m-1 8.5h1m-3 7h1m6 -22h1m-5 9h1m0 -0.5h1m-14.5 16.5h1m8.5 -10.5h1m8.5 -7.5h1m-15.5 2h1m8.5 -3h1m-1 3.5h1m-12.5 -1.5h1m3 -3h1m-4.5 4.5h1m5 0.5h1m-8 9h1m9 9h1m-3.5 -6h1m7.5 -7h1m-14 -6h1m9 13.5h1m-5 -3.5h1m-5.5 -13.5h1m9.5 -0.5h1m-10 14h1m-9 -9h1m13 10h1m-2 -3h1m-2 -10.5h1m-2.5 10h1m2.5 -13.5h1m-9 22h1m5.5 -17.5h1m-3 13h1m-1 -9h1m1 1.5h1m-8.5 1h1m8.5 -0.5h1m-3.5 12h1m5 -23.5h1m-12.5 7.5h1m-4 11h1m16 -21.5h1m-6 29.5h1m-11 -14.5h1m-4 5.5h1m13.5 -8.5h1m-8.5 7h1m3 -13h1m-1 -2h1m-13.5 23.5h1m8 -17.5h1m-11 6.5h1m16.5 -15.5h1m1.5 7h1m-16.5 8.5h1m1 -1.5h1m-5 9.5h1m6 -14.5h1m0 18.5h1m9.5 -28.5h1m-10.5 23h1m5 -3h1m-7 5h1m-6 -11h1m5 5h1m7 -13h1m-22.5 22.5h1m5.5 -5h1m3 -4.5h1m7.5 -6.5h1m-4.5 -2.5h1m-13.5 12.5h1m7 -17h1m-3 19h1m-8 1h1m17 -21h1m-1.5 2h1m-6.5 13.5h1m-9.5 2h1m-0.5 2h1m7.5 -1h1m-2.5 2.5h1m-1.5 2h1m7 -24h1m-9 22.5h1m3.5 -1h1m-14.5 -9h1m1.5 11.5h1m-3.5 -19.5h1m9.5 20h1m-3.5 -4h1m-10.5 -4h1m13 3.5h1m1 -14.5h1m-6 -6.5h1m4.5 23h1m-5 -10h1m-2.5 -11.5h1m3.5 12.5h1m-4.5 10.5h1m-5.5 0.5h1m-9 -8h1m12 -5.5h1m-7.5 1h1m5.5 2.5h1m-4 -11h1m-4 0.5h1m-6.5 4h1m15 -5.5h1m-15.5 19h1m8 -14.5h1m-11.5 18.5h1m6.5 -12.5h1m6.5 -9h1m-15 19h1m9.5 -8.5h1m-7.5 0.5h1m-6.5 4h1m-0.5 -3.5h1m8 -4h1m2 -6.5h1m-4 14.5h1m-10 3.5h1m2.5 -1h1m0.5 -15h1m-9.5 18.5h1m-1 -1h1m6 -16.5h1m-2 -1h1m10.5 6.5h1m-11 7.5h1m-4 1.5h1m-4 -1.5h1m16 -12.5h1m-4.5 -3h1m-15 13.5h1m14.5 -3h1m2 -12.5h1m-19 7.5h1m16.5 10h1m-6.5 -16h1m2 -3h1m-17 17h1m2.5 0.5h1m15.5 -23h1m-9 26.5h1m-5.5 2h1m8.5 -14h1m-3.5 -2h1m-14.5 15.5h1m7 -16h1m5.5 7h1m-11.5 5h1m10 -18h1m-16 15.5h1m14.5 -20h1m3 11h1m-9 11h1m4 -0.5h1m0.5 -16.5h1m-1 13h1m-2.5 -3.5h1m-17 6h1m15.5 -15h1m-4.5 20h1m-9 -13.5h1m1 -5.5h1m-9.5 7h1m5.5 14h1m8.5 -9h1m4 -12.5h1m-17.5 12h1m-1 8.5h1m11 -12.5h1m-18 9h1m9.5 -6.5h1m-7 -0.5h1m9 -9h1m-7.5 11h1m8 8.5h1m-16 -10.5h1m2.5 12h1m7 -3.5h1m-12 -1.5h1m14 -17.5h1m-9 19h1m2 3.5h1m0 -7.5h1m-8.5 -3.5h1m8 -6h1m-6 14h1m-9.5 -9h1m8 3h1m4 -12h1m6 -7h1m-9.5 24h1m1.5 -4h1m-7.5 -11.5h1m-1 14h1m5 -8.5h1m-5 -6.5h1m1 10.5h1m-1 -12.5h1m-14 7h1m6.5 -8h1m1.5 1h1m2.5 11.5h1m-14 6.5h1m1 -3.5h1m2.5 -14h1m5 3h1m-12 2h1m15 15.5h1m-3.5 -24h1m2 19h1m-8 1.5h1m7 -22.5h1m3 2.5h1m14 -6h1m-14 29h1m-7.5 -14.5h1m19.5 -15.5h1m-19 33h1m3.5 -25h1m-0.5 3.5h1m9.5 0.5h1m-10 28h1m2.5 -21h1m-11 13h1m16.5 -20.5h1m-11 0.5h1m-4.5 27h1m-5.5 -30.5h1m2.5 31.5h1m-0.5 -37.5h1m12.5 7.5h1m-14 -6h1m9.5 8h1m-2.5 0h1m4 -6h1m-18.5 26h1m0.5 -15h1m10 -10h1m1.5 3.5h1m-4.5 -10.5h1m-8.5 21.5h1m-0.5 -11.5h1m-2 -4h1m-1.5 -0.5h1m-2 34.5h1m1 -8h1m4.5 -28h1m-8 20h1m13.5 -24h1m-14.5 25h1m1.5 7.5h1m-4.5 -12.5h1m11.5 -22.5h1m-8.5 12h1m3 -8h1m-0.5 -6h1m-7 13.5h1m-1 -9h1m-3 2h1m6.5 13h1m-10.5 -3.5h1m3 -4h1m-3.5 -5h1m6.5 20h1m-13.5 -11h1m20 -12h1m-19 13h1m6 -10h1m0.5 30h1m-5 -9.5h1m-9 4.5h1m2 5.5h1m2 4h1m-8 -13.5h1m11 6h1m-9 -19h1m0 33.5h1m-2.5 -38.5h1m-2.5 21.5h1m6 4.5h1m1 -2.5h1m-11 4h1m9.5 -13h1m-1 -11h1m-9 8.5h1m18 -21.5h1m-21 18h1m5.5 13h1m0.5 -18.5h1m0.5 10.5h1m-12 -4.5h1m16 -17h1m-9 7.5h1m2.5 12h1m-6.5 17h1m0.5 9h1m2 -13h1m9 -31h1m-19.5 25.5h1m-3.5 2h1m8 -13.5h1m-2 -10.5h1m-3 16.5h1m1 -18h1m2 12.5h1m-11 27.5h1m6.5 -28h1m-3.5 2h1m-4.5 -5h1m10 -6.5h1m-4.5 21.5h1m0.5 -12.5h1m-13.5 31h1m6 -27h1m4 -10.5h1m1.5 7h1m-12.5 1h1m-4 9.5h1m2.5 -4h1m-2.5 -10.5h1m4.5 -9h1m-6 11.5h1m4.5 -8.5h1m-5 10.5h1m13 -16.5h1m-16 35h1m8 -16.5h1m-12.5 7.5h1m5.5 -21.5h1m-2.5 9.5h1m-5 2h1m-0.5 1h1m-0.5 13.5h1m6 -0.5h1m10.5 -29h1m-16.5 19h1m15 -12h1m-8 -7h1m-2 14.5h1m2 -10.5h1m-15 10h1m-0.5 2h1m2.5 -3.5h1m-0.5 18h1m-6 -17h1m-1.5 11.5h1m2 8h1m9.5 -17.5h1m-7.5 1.5h1m3.5 -11h1m0 -8h1m-5.5 22.5h1m1 -7h1m-5.5 -10.5h1m-6.5 16h1m0 -12h1m3 23.5h1m2.5 -19h1m-8 14h1m-2.5 -3.5h1m-4 -9h1m17 -11h1m0 -5.5h1m-1.5 6.5h1m0 2h1m-2.5 -6h1m-15 38h1m6.5 -21h1m6.5 -10.5h1m-7.5 21.5h1m-9 -10.5h1m17 -15.5h1m-13.5 42h1m-9.5 -25h1m5.5 1.5h1m-5 -4.5h1m-5 3.5h1m3.5 14.5h1m-1.5 3.5h1m4 7h1m-4 -19.5h1m13.5 -15.5h1m-17.5 8h1m3.5 -2h1m-5 2h1m16 -15.5h1m-15 34.5h1m4.5 -21.5h1m2.5 5.5h1m-11.5 16.5h1m7.5 -27h1m-5.5 3.5h1m-2.5 33h1m0.5 -2.5h1m1.5 -21h1m-4.5 17h1m-5 -24.5h1m1.5 -12.5h1m6.5 2h1m-1.5 4.5h1m8.5 -9.5h1m-17 39.5h1m-5.5 -20.5h1m5.5 8.5h1m-4 5h1m3 -20.5h1m-9.5 13h1m15 -7.5h1m-13 25.5h1m6.5 -35h1m5 -4.5h1m-17.5 32h1m11.5 -35.5h1m-11.5 7h1m1 28h1m7 -18.5h1m-12 -7.5h1m7 9h1m-10 22.5h1m8 -30.5h1m-8.5 30h1m17 -39.5h1m-17 21h1m2.5 0.5h1m10 -14.5h1m-11.5 0.5h1m3 -5h1m-12 38h1m4.5 -27.5h1m-4 28.5h1m-3 2.5h1m2.5 -22h1m-0.5 -7.5h1m12.5 -10h1m-9.5 -3.5h1m-3 32.5h1m6 -23.5h1m-13.5 6.5h1m5 -3h1m-8 3.5h1m-2.5 6.5h1m5 -15h1m-5 37.5h1m7 -31h1m-11 30h1m13.5 -27h1m-2 -11.5h1m-7.5 27.5h1m1 -8h1m4 -24.5h1m-8.5 33h1m0.5 -2.5h1m3.5 -28h1m-0.5 11h1m2.5 -4h1m-11.5 34.5h1m-6.5 -10.5h1m13 -20h1m-6.5 3.5h1m9 -14h1m-19.5 7.5h1m-2.5 27h1m6.5 -33.5h1m-2 9.5h1m5.5 -0.5h1m-6.5 8.5h1m-9 1h1m2 13.5h1m11 -33h1m-9 37.5h1m6 -36h1m-10 -4h1m4 4h1m5 3h1m-8.5 -8.5h1m0 1.5h1m-4 25.5h1m-2.5 -5h1m-4.5 15.5h1m5 -18.5h1m5 -16h1m-10 2.5h1m-3 10h1m-1.5 10h1m10.5 -17h1m-4 3.5h1m6.5 -13h1m-9 19h1m-3.5 9.5h1m-1 -23.5h1m-8.5 5h1m8.5 14.5h1m6.5 -12h1m-9.5 24.5h1m-6 -28h1m3.5 9.5h1m-4.5 22.5h1m-1.5 -19h1m-3.5 13.5h1m2.5 -8h1m-2 -22h1m4.5 -0.5h1m5.5 11.5h1m-7 7.5h1m10.5 -18.5h1m-16.5 30.5h1m4 -34.5h1m2.5 15h1m-10 28.5h1m-2.5 -29h1m2 5.5h1m1 -6h1m-6.5 18h1m3 -1.5h1m-9 2h1m8 -31.5h1m-8.5 22.5h1m3 -1h1m-1.5 17.5h1m-0.5 -2.5h1m-0.5 -15.5h1m-7 -9h1m8.5 -7.5h1m-7.5 6h1m3.5 14h1m-6.5 -18h1m7 17h1m-1.5 -20.5h1m6 -5.5h1m-5.5 22h1m-0.5 15.5h1m-8 -10h1m3 19.5h1m2 -8.5h1m-5 -6.5h1m-6 8h1m7.5 0h1m1.5 -4h1m-4 -1h1m2 -8h1m-7 15.5h1m-4.5 -16.5h1m1 0.5h1m5 13h1m0.5 5.5h1m-9.5 0.5h1m6 -15.5h1m-1.5 13.5h1m-8 -14.5h1m6.5 0.5h1m-6 6h1m-4.5 2.5h1m4.5 -1h1m-5 9h1m2.5 -9.5h1m4.5 -3h1m-11 2h1m3.5 -6h1m-1.5 12h1m-5.5 -12.5h1m5 7h1m-6 -9h1m8 14.5h1m-2 -8h1m-5 9.5h1m-5 -14h1m-2 7h1m0 9h1m3 -3h1m-0.5 -12h1m-6.5 -2.5h1m6.5 11h1m2 -4h1m-8.5 6.5h1m0 -0.5h1m-1.5 -6h1m3.5 -7.5h1m-4 0.5h1m-6.5 18.5h1m9.5 -16h1m-1.5 8.5h1m-11 1h1m2 6h1m2 -10.5h1m-7 -4h1m2.5 15h1m-5 -7h1m4.5 4h1m4.5 -2.5h1m-2.5 -4.5h1m-8 -11h1m4.5 19h1m2.5 -11h1m-12 -6.5h1m4.5 15.5h1m-4.5 0h1m2 -13h1m-7.5 4h1m5.5 0h1m-3.5 -1h1m-4 8.5h1m5 1h1m-5.5 -10h1m-1 2.5h1m8.5 -1.5h1m-7.5 -1.5h1m-29.5 4h1m-1 -12h1m-1 15h1m-0.5 -19h1m-1 2h1m-1 -5h1m-1.5 30h1m-1.5 -21h1m-0.5 -1h1m-0.5 4.5h1m-2 -6.5h1m-1 23h1m-1.5 -21.5h1m0.5 -8h1m-1.5 27h1m-2 -4h1m-0.5 -18.5h1m-1 7h1m-1 -7.5h1m-1 25h1m0 0.5h1m-2 -29h1m-0.5 5.5h1m-1 6.5h1m-1 7h1m-2 7h1m-0.5 2.5h1m-0.5 1h1m-2 -12h1m-0.5 5.5h1m-0.5 5.5h1m-2 -5.5h1m-0.5 -9h1m0 12h1m-2.5 -6.5h1m-0.5 -12h1m-1.5 -8.5h1m-1 25h1m0 -25.5h1m-1.5 26.5h1m37 2h1m-11 0h1m10 3h1m-6 -4h1m5.5 1.5h1m-16.5 0.5h1m2.5 2.5h1m9 -0.5h1m-6 -1h1m-7.5 2h1m5 -4h1m-3.5 0h1m-0.5 4h1m-5.5 -3h1m7.5 -1h1m2.5 2h1m-8.5 1h1m-2 -1h1m9 2h1m-6 -3h1m5 3h1m-14 -1.5h1m7.5 0.5h1" stroke="#000" stroke-width="1" stroke-opacity="0.9" fill="none"/>
<path d="M196.5 107.5h1m-14.5 17h1m19 -24h1m-14.5 28h1m0.5 -0.5h1m-16.5 -13h1m25 -27.5h1m-19.5 40h1m27 -40h1m-6 7.5h1m-2 -2.5h1m-7.5 -0.5h1m3 19.5h1m-25.5 13.5h1m22.5 -21.5h1m7.5 -9h1m-6 8.5h1m-6 -6.5h1m8.5 -1h1m-6.5 13.5h1m-8 9.5h1m-15 -2h1m17 1h1m-1.5 -9.5h1m-14.5 15h1m7.5 0h1m-19.5 -5h1m31.5 -28.5h1m-22 25h1m12.5 -20h1m-13.5 26h1m10.5 -2h1m-22 10h1m12 -21.5h1m4 -15.5h1m-15 32h1m27 -36h1m-23 36.5h1m15.5 -21.5h1m-12.5 15.5h1m-9.5 12h1m-6.5 -4h1m18.5 -17h1m6.5 -15h1m-34 26.5h1m29.5 -32h1m-2.5 4.5h1m-9.5 29.5h1m5.5 -31.5h1m6 -5.5h1m3.5 2.5h1m-5 7h1m-15.5 20h1m13 -29h1m-11.5 26.5h1m-21.5 7.5h1m28 -18h1m-13.5 15h1m1.5 -9h1m11 -18h1m-19.5 23h1m4 11h1m1 5.5h1m-17.5 -14.5h1m21.5 -25h1m-3.5 23h1m-14 12h1m6.5 -15.5h1m-3 2h1m7.5 -7.5h1m-15.5 20.5h1m5 -18.5h1m10.5 -2h1m-2.5 -12h1m-30 32h1m21.5 -26.5h1m-3.5 0.5h1m-9.5 17.5h1m8 -2h1m-2 -19h1m4.5 1h1m-26.5 27.5h1m22.5 -0.5h1m4.5 -23.5h1m-0.5 -9.5h1m-0.5 14h1m-31.5 26h1m32.5 -37h1m-8 0h1m8.5 6.5h1" stroke="#fff" stroke-width="1" stroke-opacity="0.25" fill="none"/>
<polygon points="286,118 295,116.5 303,116 309,114 309,131 286,131" fill="#383838" fill-opacity="1.0"/>
<path d="M334 112h1m-22.5 6.5h1m11 -17.5h1m6 -16.5h1m-16.5 31h1m24.5 -25.5h1m3 -10h1m-2.5 -3.5h1m-3 1h1m-31.5 51.5h1m20.5 -48h1m-9 39h1m-4.5 -1.5h1m-4.5 -8.5h1m-1 8h1m21.5 -29.5h1m-31 29h1m10.5 -12h1m22 -20h1m-15 30.5h1m-15 9.5h1m7 -31.5h1m6 -1h1m-6.5 19.5h1m-11.5 15.5h1m21.5 -36.5h1m5.5 -14h1m-30.5 31.5h1m15 3h1m-14 17.5h1m7 -36h1m-8 30h1m10 1.5h1m12.5 -36h1m-13.5 5h1m-18.5 36h1m26 -44h1m-14 25h1m-8.5 18.5h1m5.5 -37h1m9 0.5h1m-23.5 31h1m15 -27h1m3 -1h1m-8.5 33.5h1m19 -51h1m-34.5 37h1m-4 3.5h1m15.5 2.5h1m11 -30.5h1m-14.5 36h1m4 -32.5h1m5 1h1m-3.5 -5.5h1m3.5 -13h1m-24 44h1m24.5 -33.5h1m-2 -7.5h1m-17.5 14.5h1m4.5 26h1m2.5 -30h1m-1 0h1m-24.5 35.5h1m26.5 -24.5h1m-8 -8.5h1m8.5 -14.5h1m-19.5 49.5h1m5 -5h1m-10.5 -1.5h1m13 -1h1m-4.5 1.5h1m6.5 -23h1m3.5 -5h1m-29 33.5h1m11.5 -3.5h1m18 -48.5h1m-2.5 10.5h1m-1.5 6h1m-10 19.5h1m-7 -13.5h1m-8 11h1m7.5 -19.5h1m13 -10.5h1m-11 45h1m-22 2h1m30.5 -42.5h1m-16.5 16h1m-1.5 14h1m10 -14h1m-3 7h1m-11 12.5h1m3.5 -18h1m-15.5 20.5h1m2 -1h1m9 -30h1m0.5 7h1m-6 27h1m1.5 -6h1m18 -35.5h1m-15 13h1m9 -11h1m-32.5 33.5h1m19.5 -14h1m-17.5 5.5h1m0.5 8.5h1m7.5 -3.5h1m5 1h1m-14 3.5h1m8.5 0h1m10.5 -31.5h1m-12 42h1m-1 -38h1m2.5 -5.5h1m-5.5 38h1m8.5 -36.5h1m-25 31h1m-0.5 1h1m21.5 -8.5h1m8.5 -26h1m-23.5 7h1m-11.5 36.5h1m19 -14h1m0 -13h1m-9.5 6h1m16.5 -32h1m-10.5 4.5h1m-13 42h1m-9.5 1h1m3.5 -1h1m7.5 -17.5h1m8.5 -7h1m7.5 -17.5h1m-30.5 33.5h1m6 10.5h1m-9 -0.5h1m-1 -3h1m19.5 -42h1m-14.5 25.5h1m-2.5 16h1m-8.5 1h1m34.5 -41h1m-21 49h1m13 -37h1m-13.5 10h1m4 -7.5h1m-3.5 -11.5h1m-1.5 19h1m2.5 -2.5h1m-12.5 28.5h1m-0.5 -28.5h1m7.5 12.5h1m-16.5 9.5h1m13 -21h1m-15.5 19h1m28.5 -30.5h1m-7.5 -12.5h1m0 0h1m-21 27h1m6 24h1m-15.5 -4.5h1m29 -50h1m-22.5 28h1m3 5.5h1m7 -14h1m6.5 2.5h1m-4 -15h1m8.5 0.5h1m-16 24h1m7.5 -20h1m-12.5 13.5h1m-1 23.5h1m13 -27.5h1m-18.5 25h1m0.5 -8.5h1m13 -19h1m-18.5 28.5h1m-8.5 -7h1m26 -22.5h1m-25.5 14.5h1m15 6.5h1m11 -25.5h1m-9 -10h1m0.5 16h1m0.5 -4h1m-12 -3.5h1m-15 22h1m4 -1.5h1m18.5 -11.5h1m-24.5 28h1m-4 -4h1m19 -10h1m-9 20h1m-13 0h1m25.5 -52h1m-8 12h1m-16 11.5h1m8 22.5h1m13 -40h1m4.5 4.5h1m-16.5 10h1m-3.5 -5.5h1m-9.5 21.5h1m14 -3h1m1.5 -24h1m-4 17h1m-6 -13h1m8 9h1m-14.5 -3.5h1m-11 30h1m7 -13.5h1m-15 16.5h1m7 -11h1m12 0h1m-20 9h1m33 -49h1m-17 9.5h1m8.5 8.5h1m-7.5 25.5h1m-19 6.5h1m5.5 -10h1m13 -33h1m-19.5 40.5h1m23.5 -30.5h1m-1 -10h1m-17.5 17.5h1m4.5 -2.5h1m-12 29.5h1m-7.5 -7.5h1m17 -10h1m-17 7.5h1m-5 11.5h1m8.5 -14.5h1m6 -22.5h1m3.5 -3.5h1m-14.5 19h1m0 8.5h1m26 -41h1m-19 15h1m-5 34h1m16.5 -40h1m-26 26h1m-7 14h1m8.5 -20h1m0 22h1m-10 -1h1m20 -10.5h1m0.5 -2.5h1m6.5 -25.5h1m-13 7.5h1m13 -14h1m-2 4.5h1m-7 1.5h1m-12.5 41h1m7.5 -36h1m-10.5 5h1m-2 31.5h1m5.5 -18.5h1m4.5 -9.5h1m-4.5 14h1m-12 2.5h1m10.5 -19.5h1m2.5 -16.5h1m-7.5 40.5h1m5 0h1m-4 -6.5h1m-8 12.5h1m5.5 -5.5h1m-13.5 -11.5h1m16 -23.5h1m8 -0.5h1m0 -9h1m-27 45.5h1m12 -18h1m8.5 -29h1m-28.5 35.5h1m20 -26.5h1m-17.5 40.5h1m11.5 -33.5h1m-22 25.5h1m30 -34.5h1m-13 37h1m0 -27.5h1m-0.5 -7.5h1m-1 14.5h1m-16 6h1m-3.5 21.5h1m14 -31.5h1m12 -10.5h1m-19 29h1m1 -23.5h1m12.5 -5h1m-19 31.5h1m9.5 2.5h1m6.5 -18.5h1m-12.5 2h1m-13 21h1m5 -24h1m-3 3.5h1m13.5 -15.5h1m10 -0.5h1m-31.5 24h1m15.5 -14h1m-9 32.5h1m11 -51.5h1m-7.5 34h1m2 9h1m12 -46h1m-13 32.5h1m-17.5 21h1m5.5 -8.5h1m13 -22h1m-4 -6.5h1m-22.5 35h1m23 -35h1m7.5 -17.5h1m-18 42.5h1m1 8h1m13.5 -42.5h1m-4.5 11.5h1m1 -6.5h1m-25.5 15.5h1m4.5 4.5h1m13.5 -8.5h1m-10 23h1m-6.5 -16.5h1m-3.5 18.5h1m2.5 -20h1m10 1h1m-5 18h1m-10 -19h1m15.5 -9h1m-25 17h1m7 -6h1m9.5 4.5h1m3 -11h1m0 -20.5h1m-3 -0.5h1m-15 16.5h1m11 15h1m-8 18h1m11 -29h1m-16.5 9.5h1m-4.5 -5.5h1m18.5 -27h1m-20 42.5h1m14 -25h1m-12.5 13.5h1m-9.5 4h1m3.5 4h1m0 5.5h1m8 -14h1m-1 -16h1m-14 17.5h1m12.5 15h1m-16 0h1m9 -27h1m1 21h1m-7 6h1m15.5 -21.5h1m-8.5 20.5h1m14 -44.5h1m-8.5 0h1m-7 7.5h1m2 6h1m-5.5 3.5h1m-9.5 20.5h1m-0.5 -8h1m11 -4h1m-11.5 1.5h1m17.5 -23.5h1m1.5 2.5h1m-28 42h1m4.5 -1.5h1m-1.5 -27.5h1m18.5 -15.5h1m-13 21h1m6 1.5h1m-9 15.5h1m0.5 -23h1m-18 15h1m18.5 -30h1m-18 44h1m26 -49.5h1m-14 52h1m1.5 -10.5h1m-22 -3.5h1m28.5 -37h1m-26 39h1m28 -40h1m-4.5 14.5h1m-20.5 23h1m-1.5 8.5h1m8 -13.5h1m8.5 -15h1m-15 14.5h1m5 12h1m-13.5 0h1m8 -7h1m-3 12.5h1m-15.5 -8h1m30.5 -29.5h1m-8 12.5h1m-6 -13h1m-11 43h1m-3 -3.5h1m-4.5 -14.5h1m1.5 -4h1m2 -15.5h1m14.5 -15h1m-12.5 24.5h1m1 2.5h1m7 -17.5h1m5 -8.5h1m-13 20.5h1m6.5 -6h1m-20 32.5h1m23 -46.5h1m-17.5 36h1m-6 -19h1m1 17h1m-15 7h1m8 -17.5h1m-9 23h1m13 -13.5h1m9.5 -2.5h1m1.5 -23h1m-19.5 34.5h1m2 -16.5h1m17.5 -24.5h1m-20 34h1m-3 -16h1m1.5 2h1m4 29.5h1m-3 -12h1m16 -29.5h1m-31 35h1m31 -43.5h1m-18 14h1m11.5 6.5h1m-7 -9h1m9.5 -11.5h1m-20 9.5h1m6 28h1m-10.5 -15.5h1m16.5 -28h1m-1 21.5h1m-18 10.5h1m15 -8.5h1m0 -13.5h1m-12.5 29h1m-21 12h1m15 -18.5h1m12.5 -26h1m-14.5 49h1m-3.5 -28.5h1m4 9h1m4 -16h1m3 20h1m-14 -11h1m2 -11.5h1m5.5 21h1m-2 -9h1m-14.5 4h1m-5 19h1m11.5 -24h1m-9 6h1m-5 11.5h1m-3 -1.5h1m22.5 -40.5h1m-2 28.5h1m-5 -20.5h1m-11 23.5h1m2 21h1m1 -31.5h1m4 -5.5h1m-23 30.5h1m23.5 -28h1m12 -20.5h1m-13.5 10h1m7 -2h1m-1.5 10.5h1m-7.5 -10h1m-11 7h1m-9.5 19h1m2.5 13.5h1m11 -21.5h1m12 -25h1m-15 4h1m12 -4.5h1m-13 36h1m-5 -9h1m-3.5 -15.5h1m-7.5 34h1m25.5 -39h1m-4 5.5h1m2.5 -3h1m-5.5 -10.5h1m-6 11h1m-9.5 42.5h1m11 -33h1m-12 12h1m-4 18h1m-3.5 1h1m13.5 -32.5h1m-20.5 16h1m20.5 -22h1m-26.5 29.5h1m4 -2h1m-9.5 3h1m11 -25h1m-12 30.5h1m7 -23h1m2.5 3h1m11 -14.5h1m-13 16.5h1m-13 18.5h1m34 -47h1m-12.5 29.5h1m5 -13.5h1m-16 30.5h1m7.5 -27h1m-3.5 6h1m-4.5 -1h1m2.5 -16.5h1m-7 37.5h1m2.5 1.5h1m-4.5 -34h1m-4 5.5h1m5.5 34.5h1m1.5 -35h1m-7 15h1m-17.5 18.5h1m11 -24h1m9.5 15.5h1m3 -40h1m-9.5 49.5h1m-0.5 -36.5h1m-7.5 14h1m7 12h1m10 -41h1m-30.5 37.5h1m0 14.5h1m6 -27h1m9.5 -5.5h1m-13.5 18.5h1m13 10h1m12 -49h1m-35.5 50.5h1m8.5 -21.5h1m26.5 -25h1m-14.5 36.5h1m-11.5 -9.5h1m1 -12.5h1m9 4h1m-17 21h1m-0.5 8.5h1m18.5 -47.5h1m-19 38h1m12.5 -33.5h1m-5 43h1m-5 -14h1m5.5 -18.5h1m-0.5 20h1m7 -25.5h1m-15 11.5h1m6 -23h1m-16.5 31h1m11 -7h1m11 -24.5h1m-7 10h1m-22.5 27h1m28 -38.5h1m-15 9h1m-6 23h1m-0.5 -13.5h1m20.5 -21h1m-27.5 36.5h1m23.5 -31.5h1m-3 5.5h1m-17.5 20h1m11 -23h1m-3 1h1m-23 46.5h1m20 -51.5h1m4 10h1m-6.5 5.5h1m-18.5 21h1m5 -6.5h1m12.5 -2.5h1m1.5 -10h1m-5 10h1m-15 14h1m-8 -0.5h1m2.5 -5.5h1m1 -3.5h1m7 -19h1m-1 -4h1m-15 26h1m12.5 -9h1m-3.5 19h1m9.5 -41.5h1m-2 32h1m-23 6.5h1m14 -8.5h1m4.5 -12.5h1m7 -12.5h1m-27.5 27.5h1m6.5 2.5h1m6 13h1m-4.5 -9h1m15.5 -30h1m-26 25h1m22 -32h1m-1 5h1m-29 22.5h1m16 -6h1m-6.5 8h1m-9.5 7.5h1m0 3h1m11 -29h1m3 25h1m-3.5 3.5h1m-9 3.5h1m-8.5 -9h1m29.5 -24.5h1m-18 28h1m8.5 -25h1m-6.5 28.5h1m-5.5 3.5h1m11 -45h1m1.5 3h1m-33 36h1m25.5 -34.5h1m-9.5 15h1m-8 4.5h1m16 -21h1m-6 21h1m-9.5 15h1m14.5 -45h1m-17 28.5h1m17.5 -24.5h1m-5 20.5h1m5.5 -12h1m-16.5 12.5h1m0 -11.5h1m3.5 14.5h1m-3 -9.5h1m10 -6h1m-1 -15h1m-14.5 53.5h1m-3 -22h1m-6 18h1m-6 -22.5h1m2 1.5h1m-10 9h1m13.5 -8h1m-11.5 14h1m10 -17.5h1m-3 -1h1m-3 18h1m2.5 -28h1m-6.5 39.5h1m-5.5 -1.5h1m9.5 -29.5h1m5.5 -9.5h1m-16 28h1m8.5 6h1m5.5 -31.5h1m-14.5 24.5h1m1 10.5h1m18.5 -36h1m1 -15.5h1m-22 41.5h1m9 -35h1m-10.5 25.5h1m5 -8.5h1m-5.5 10h1m1.5 2h1m13.5 -35h1m-15 16.5h1m2 22.5h1m4.5 -28.5h1m-5 27h1m-0.5 -19h1m-3 0.5h1m-7 22h1m11.5 -17h1m-14 -7.5h1m11 4.5h1m-12.5 20.5h1m16.5 -34h1m-9 -2h1m-1.5 30.5h1m-10 11h1m9.5 -22.5h1m6 -11.5h1m-4.5 9.5h1m-12 26h1m3 -36h1m-7 19.5h1m-15 14h1m-1.5 -4h1m3.5 -12h1m12.5 -3.5h1m-1 -7h1m5 -0.5h1m3 2h1m-23.5 11.5h1m12.5 -14.5h1m-2.5 30.5h1m-7 -13h1m4 5h1m3 -23.5h1m-12 37h1m8.5 -2h1m4.5 -43.5h1m-15.5 38h1m2.5 -11h1m5.5 7.5h1m-3 -32.5h1m11.5 -2h1m-16.5 20h1m2 4h1m-7 5h1m11 -36h1m-22 39.5h1m18 -18h1m-9 -6h1m-4.5 25.5h1m16 -27.5h1m-11.5 24.5h1m5 -21h1m-16 29h1m22 -45.5h1m-9 16.5h1m9 -18.5h1m-33 45h1m7.5 -10h1m8.5 -4h1m-17 3h1m-3.5 3h1m-2.5 5.5h1m22 -16.5h1m-4.5 -19.5h1m8 -3h1m-28 40h1m31 -42.5h1m-15 21.5h1m10 -1h1m-14 15.5h1m-13 17h1m2.5 -11h1m4 -18h1m-3 15h1m-1 -8h1m-4.5 -8h1m14 8h1m2 -14.5h1m-17 24.5h1m8 -14.5h1m-8 15.5h1m-3.5 -19.5h1m-1 -2h1m-6.5 12.5h1m29.5 -33.5h1m-8 4.5h1m-3 25h1m-12 10h1m-10.5 13.5h1m14 -38.5h1m-4.5 25h1m4.5 -0.5h1m-10.5 13h1m8.5 -47h1m-8.5 30.5h1m14 -33h1m-6 -0.5h1m-0.5 18.5h1m-4.5 23h1m-4.5 -23.5h1m9 -6h1m-5 18.5h1m2.5 -6.5h1m-3.5 -4.5h1m-20.5 6.5h1m23 -20.5h1m-14.5 32h1m-0.5 -22h1m2 25h1m-14 -2.5h1m12.5 -9h1m4 -20h1m-7.5 15h1m6 -19.5h1m-8.5 13h1m8 -13.5h1m-16 34.5h1m7 -27.5h1m8 -10.5h1m-26.5 48h1m4.5 -21.5h1m16 1h1m-26 19.5h1m16.5 -36h1m3 -5h1m-16 38.5h1m17 -23.5h1m-9 6.5h1m-7 9h1m4 -26h1m-4.5 35.5h1m0.5 -5h1m-7.5 -4h1m18.5 -37.5h1m-27 46.5h1m15 -2h1m3 -9.5h1m-8 -6h1m5.5 -17h1m-5 17.5h1m-12.5 14.5h1m22 -40h1m1.5 6.5h1m-2.5 4h1m-9 -7.5h1m-13.5 16.5h1m-11.5 22h1m-2 4.5h1m13.5 -8h1m12 -15.5h1m-22.5 15.5h1m4.5 -6.5h1m14.5 -10.5h1m0 -18.5h1m-6 1.5h1m-5.5 44h1m-13.5 -4.5h1m-3 -12.5h1m-1 5.5h1m31.5 -38.5h1m-2 2h1m-14.5 33h1m-4.5 -13h1m10.5 -5.5h1m-18.5 10h1m17 -29.5h1m-15.5 47h1m2.5 -3h1m3.5 -9h1m-1 -5h1m-17.5 11h1m-7.5 6.5h1m11 -16.5h1m-5 12.5h1m-9 6h1m26.5 -25h1m1 -5.5h1m-16.5 31.5h1m0 -16.5h1m-12.5 6.5h1m7.5 5.5h1m-0.5 -2.5h1m8.5 -34.5h1m0.5 1h1m-1.5 17h1m-8.5 4.5h1m-14.5 17h1m0.5 -4h1m23 -24.5h1m-20.5 13h1m19.5 -3.5h1m-11 -1h1m3 -8.5h1m-1.5 7h1m-14 19.5h1m19.5 -26h1m-1 -19h1m-22 50h1m14.5 -36.5h1m-17.5 10h1m18 -22h1m-18 36.5h1m19 -25h1m-0.5 8h1m-24 16.5h1m16.5 -29.5h1m-12 22h1m13.5 -11h1m-3.5 -3.5h1m-11 7.5h1m0 21.5h1m-0.5 -35.5h1m-7.5 23.5h1m-10 18h1m17 -16h1m-3.5 13.5h1m7 -8h1m8.5 -31.5h1m-32.5 41h1m16.5 -34h1m-14 5.5h1m25.5 -17.5h1m-15.5 48h1m-5 -30.5h1m14.5 -21h1m-26.5 31.5h1m9 12.5h1m13.5 -33h1m-10 -3.5h1m6 17.5h1m-5 -9.5h1m-14 2h1m0 33h1m18.5 -30h1m-14 20.5h1m2.5 -28h1m-0.5 -10h1m-1 29.5h1m-7.5 17.5h1m9.5 -29h1m-22.5 29.5h1m-1.5 -18h1m7 5.5h1m-10.5 5h1m4.5 -18.5h1m9 -6.5h1m-16.5 19h1m13 -27.5h1m-4 36h1m-11.5 -6h1m12 -28.5h1m-6 18h1m14.5 -14.5h1m-16 13h1m-13.5 23.5h1m8 -15h1m1 3.5h1m19 -25.5h1m-0.5 -19h1m-14.5 18.5h1m8 10.5h1m-10 -13.5h1m-1.5 6h1m1.5 -1h1m12.5 -14h1m-18.5 14h1m4 32h1m2 -15.5h1m-12 7.5h1m-1 -18h1m1 23.5h1m11 -33.5h1m-9 17h1m2.5 0h1m-14.5 3.5h1m5 7h1m-3 10h1m-6 -24h1m17 -4.5h1m-14.5 19h1m12 -24h1m-4 10.5h1m-6 -8.5h1m-1 -1h1m3.5 -10h1m-22.5 44h1m19 -25.5h1m-17 19.5h1m30.5 -41h1m-11 28.5h1m-6.5 13h1m-13 -14.5h1m18 -22.5h1m-7 30h1m10 -35.5h1m-20 44h1m5.5 -14h1m-3.5 -13h1m17 -13h1m-2.5 -1.5h1m-16.5 21.5h1m-8 14h1m2.5 -13h1m-8 22h1m0 -9h1m0.5 2h1m19 -42h1m-12.5 42h1m-2 -32h1m-11 22.5h1m7.5 -18.5h1m-12 16.5h1m3.5 -5.5h1m19 -8h1m-1.5 -1.5h1m-18.5 2.5h1m-1 16h1m-9 -3h1m20 -29.5h1m-20 47.5h1m16.5 -11.5h1m-2 -22h1m-18 26.5h1m19.5 -10.5h1m-6 -2.5h1m1 2.5h1m0.5 -1.5h1m-12.5 2.5h1m9.5 -9.5h1m12 -20.5h1m-11 28.5h1m1 -14.5h1m-1.5 -19h1m-12 34.5h1m1 19h1m-3 -14.5h1m10.5 -35.5h1m-12 24.5h1m6 -16.5h1m-0.5 4h1m-1.5 5h1m-10.5 5.5h1m-3 12.5h1m-9.5 -6h1m16.5 -10h1m-15.5 12.5h1m-2 -8h1m4.5 12.5h1m13 -11h1m2 -8.5h1m-20.5 23h1m-4 0.5h1m13.5 1.5h1m-7 -11h1m18.5 -17.5h1m-22.5 29.5h1m4 -36h1m-9.5 30h1m-9 13.5h1m20.5 -39h1m-14.5 12.5h1m13.5 5.5h1m-1 15h1m-19.5 -11h1m24 -20.5h1m-20 29.5h1m-1.5 -8.5h1m7.5 -10h1m-10.5 -2.5h1m14.5 -14h1m-16.5 32.5h1m-4 -1h1m4.5 0.5h1m-12 6h1m28 -28.5h1m-12.5 -8h1m-1 15h1m-0.5 14.5h1m8 -13h1m-8.5 -2.5h1m3.5 -20.5h1m-16 40.5h1m-1.5 -18h1m-11 25h1m16.5 -32.5h1m7 -2h1m-12.5 1h1m12.5 -17.5h1m-2 14h1m-13 21.5h1m3 -18h1m-5 5h1m-9.5 8h1m19.5 -4.5h1m-7.5 17.5h1m10 -26h1m3.5 -15h1m-33.5 48h1m16.5 -44h1m-0.5 15.5h1m-6.5 5.5h1m5 20.5h1m10.5 -36.5h1m-30.5 31.5h1m15 4h1m3 -20h1m-7.5 -6.5h1m15 -17h1m-26.5 27h1m25.5 -25.5h1m-1.5 6.5h1m-13.5 2.5h1m-5.5 17h1m-14.5 8.5h1m-2.5 2h1m12.5 2h1m0 -14h1m7.5 -18.5h1m-19.5 26.5h1m8.5 -21.5h1m5.5 14.5h1m-7.5 -5h1m7 -5h1m-10 2h1m-9.5 9.5h1m-6 15.5h1m17.5 -14h1m-9 7.5h1m2 -12.5h1m6 1.5h1m-13.5 -6h1m15 -22.5h1m-20.5 47.5h1m8.5 -15.5h1m8.5 2h1m0.5 -20h1m-7 8h1m-5.5 21h1m-2.5 -5.5h1m10.5 -14.5h1m2 -14.5h1m-4 1h1m-16 12h1m12.5 2h1m-14.5 15.5h1m-7 -0.5h1m5.5 -1.5h1m19.5 -31.5h1m-20 12h1m23.5 -12.5h1m-25 36.5h1m11 -17.5h1m-5 2h1m-14 4.5h1m11.5 -22h1m-1 35h1m-4 5h1m-1.5 -39h1m-7 22.5h1m6.5 9.5h1m-3.5 0h1m-2.5 4h1m13 -37h1m-25 36.5h1m7.5 -9.5h1m16 -14h1m-11 16h1m0.5 -11.5h1m-17.5 10.5h1m10 -3h1m4 -18.5h1m-1 32.5h1m-7.5 -6h1m13 -39.5h1m1.5 -7h1m-29 49h1m16.5 -13h1m7.5 -31.5h1m-13 14.5h1m14 -11h1m-22 21.5h1m-0.5 7h1m8.5 -6h1m-9 -9.5h1m16.5 -13.5h1m-29.5 43.5h1m24 -24h1m-27 22.5h1m13.5 0h1m18 -42h1m-1 -7h1m-12 42.5h1m0.5 -3h1m10 -36h1m-16 35h1m-10.5 14h1m-3.5 0.5h1m7 -7.5h1m-12.5 -6h1m17.5 4h1m10.5 -33.5h1m-13.5 5h1m-17.5 15h1m12 0h1m-6.5 10.5h1m7 -2h1m-21.5 8h1m21 -29.5h1m-17.5 36.5h1m2 -14.5h1m0.5 5.5h1m18 -32.5h1m-5 5.5h1m-9.5 12.5h1m-9.5 14.5h1m5 -25h1m6 20.5h1m2.5 -29.5h1m0.5 -8h1m8.5 -2h1m-31.5 48.5h1m19.5 -17h1m-11.5 -18.5h1m-4 19h1m1 4.5h1m13.5 -32h1m-13 12h1m-6.5 32.5h1m7 0.5h1m2 -7.5h1m-8.5 -14.5h1m9 -3.5h1m-3 -3h1m0 23.5h1m-19.5 -10.5h1m5 19h1m14 -28h1m-17.5 5.5h1m1.5 17h1m-3.5 -18h1m5 14h1m-2 8.5h1m14 -42h1m-20.5 15.5h1m12.5 15h1m-19 0.5h1m16.5 -29h1m-10.5 20.5h1m20 -32h1m-18 39.5h1m0.5 -1h1m3 -30.5h1m-15 30h1m2.5 -15.5h1m9.5 -18.5h1m-7 40.5h1m8 -38h1m-10.5 11.5h1m11 -0.5h1m-28.5 28h1m32.5 -40h1m-19.5 14h1m-8.5 17.5h1m12 -16h1m1.5 -11.5h1m-17.5 20h1m23 -13h1m-4.5 1.5h1m1.5 -4h1m-7 -6h1m0 15.5h1m-8 22.5h1m4 -15.5h1m-6.5 15h1m17.5 -40.5h1m-9 14.5h1m-2.5 -11.5h1m-7.5 11h1m-14 29h1m-6.5 0h1m15 -2.5h1m-8 -4.5h1m-6 7h1m20 -25.5h1m-17.5 2.5h1m7.5 0.5h1m-9 24h1m-1.5 -20.5h1m-7.5 1h1m11.5 3h1m-11.5 11h1m11.5 -11h1m-3 11.5h1m8 -34.5h1m-22.5 40h1m23.5 -39h1m-14.5 38.5h1m-15 -9h1m-2.5 9h1m22.5 -17h1m-18.5 20h1m8 -18.5h1m7.5 -10h1m1 -22.5h1m-9 25.5h1m-17 23.5h1m27 -32h1m-22 17h1m22.5 -23.5h1m1.5 -9.5h1m-26.5 29h1m-4.5 17.5h1m3.5 -9h1m7 3h1m12 -27.5h1m-13.5 -7.5h1m8 4.5h1m-23.5 33h1m4 -20.5h1m-0.5 24h1m-1.5 -22.5h1m20.5 -9h1m-12 9.5h1m-6.5 1h1m2 -15h1m5.5 10.5h1m2 6h1m-7.5 13h1m12.5 -38.5h1m-31.5 42h1m19 -14h1m-12.5 -12.5h1m0.5 4h1m-6 16h1m22 -19.5h1m-15 19h1m11.5 -20h1m-9 -7.5h1m12 -10h1m-21 13.5h1m-2 8h1m2 23h1m9.5 -25h1m-25 29.5h1m28 -42.5h1m-1 -7h1m-1.5 5h1m-4.5 2h1m-30 35.5h1m26 -40.5h1m-17 41h1m-7.5 -8.5h1m12.5 7.5h1m6 -27.5h1m-11 5.5h1m18 -17h1m-15 29h1m-9.5 3.5h1m-3 14h1m24.5 -41.5h1m-12.5 17.5h1m-4.5 -13h1m-1.5 -8h1m-6.5 22.5h1m2 -18.5h1m-5.5 40.5h1m-8.5 3.5h1m-5 -8h1m18.5 -12h1m14 -36h1m-13 9h1m-8.5 38h1m-4 -3.5h1m-9.5 -4.5h1m4.5 6.5h1m-2 5.5h1m-0.5 -18h1m-6.5 19.5h1m6 -5.5h1m1.5 -10.5h1m-9.5 12.5h1m11.5 -13.5h1m-14 1h1m24 -31.5h1m-13.5 26.5h1m-11 24.5h1m6 -13.5h1m-3 -22.5h1m14 6h1m-12 -7.5h1m5.5 16h1m-16.5 17.5h1m13 -12.5h1m9.5 -36h1m-21.5 20.5h1m-4 16.5h1m-3.5 -11h1m9 16h1m4.5 -14h1m13.5 -27h1m-24.5 20.5h1m4.5 25h1m6 -44.5h1m-12.5 23.5h1m-5 11h1m12 -12h1m-7.5 -8h1m9.5 -10h1m-10 37.5h1m-2.5 -10h1m19 -29.5h1m-1 0h1m-21 40.5h1m-1.5 -31.5h1m-2.5 1.5h1m8 4.5h1m-10.5 5h1m-5.5 0.5h1m-4.5 24h1m24.5 -34.5h1m-14.5 6h1m-4 19h1m-0.5 -20h1m11 1.5h1m-8.5 24.5h1m-3.5 -23.5h1m-13.5 25.5h1m16.5 -26.5h1m6 -3.5h1m-2 6.5h1m-19 19.5h1m-2 -12.5h1m4.5 16.5h1m-3.5 5h1m11 -27h1m2.5 -18.5h1m-10.5 43h1m16.5 -41h1m-5.5 -1h1m-22.5 17h1m3 10h1m0.5 -3h1m3 15.5h1m-0.5 -28.5h1m9 -2h1m-21 17.5h1m5.5 -7.5h1m-10 11.5h1m16.5 -10.5h1m-6 16.5h1m-3 7.5h1m2 -30h1m-15.5 17.5h1m24 -25.5h1m-14 17.5h1m12.5 -31.5h1m-31 47.5h1m18 -30h1m-5 21h1m3.5 -29.5h1m-3 30h1m6.5 -19.5h1m-4 0h1m-0.5 9.5h1m0 -23.5h1m7.5 5h1m-18 17h1m-5.5 7.5h1m-13.5 15h1m2 -1.5h1m20.5 -45.5h1m-5 2.5h1m14 -5.5h1m-33 49.5h1m20 -19.5h1m5 -20h1m-15 4h1m0 23.5h1m7.5 -10h1m-18 19h1m9.5 -7h1m1 -9.5h1m-21 12.5h1m20 -35.5h1m-10.5 33h1m-8.5 2.5h1m4 5.5h1m-2.5 -16h1m10 -5h1m-17.5 24h1m9 -19.5h1m9.5 -7.5h1m-6.5 22.5h1m7.5 -34h1m1.5 6.5h1m-19 12h1m0.5 17h1m14.5 -33.5h1m-18.5 13h1m7 -12.5h1m11 -4h1m-21 38.5h1m1 -10h1m13 -29.5h1m-20.5 32h1m9 -13.5h1m10.5 -15.5h1m-5.5 23.5h1m-4 7h1m-13 -10h1m10.5 -6.5h1m-2.5 13h1m-6 -18.5h1m-7 13h1m8 7h1m1 -10.5h1m-14.5 18h1m5.5 -7.5h1m12.5 -28.5h1m-4.5 12h1m-6.5 10h1m4 1.5h1m4.5 -19h1m-1.5 -6h1m-14.5 12h1m0 16h1m8 -2.5h1m-18 6.5h1m7.5 -8h1m12.5 -10h1m-14.5 -2h1m4 -8.5h1m10 -12h1m-16.5 30.5h1m7 -18.5h1m5.5 4.5h1m-5.5 9.5h1m-9 8.5h1m8 -29.5h1m-3.5 25h1m-8.5 7h1m5 -9h1m7 -22h1m-24.5 43h1m23.5 -45h1m-4 12.5h1m-9.5 14h1m-7 1h1m-8.5 2h1m11.5 -15.5h1m4.5 0h1m-10.5 26h1m-2.5 -17.5h1m-6 22.5h1m20 -37h1m-14.5 31.5h1m9.5 -23.5h1m-5 -4.5h1m-4 20h1m-0.5 0.5h1m11.5 -37.5h1m-15 29.5h1m4.5 -12h1m2.5 -2.5h1m-14.5 7h1m-10 25.5h1m24 -34h1m-19.5 37.5h1m21 -45h1m-17.5 22.5h1m4.5 -9.5h1m8.5 -7h1m-21 22.5h1m3.5 15h1m-13.5 -8.5h1m23.5 -35h1m-15 25.5h1m17 -24.5h1m-6 18h1m-14 13.5h1m-5 1h1m-7 1h1m11 5h1m3.5 -23h1m3.5 7.5h1m3 -18.5h1m-24.5 29h1m0.5 -2h1m4 -0.5h1m5 -14h1m-2.5 15h1m9 -33.5h1m-19 32.5h1m-5.5 12h1m17 -30.5h1m4 3.5h1m-15.5 11h1m11 -15h1m-6 4.5h1m-1.5 5h1m-11 8.5h1m17 -24.5h1m-12.5 36h1m1.5 -8h1m3 -30h1m6 8.5h1m-7 -8.5h1m-3 10.5h1m-13.5 13h1m-1.5 8h1m14.5 -22h1m-7 24.5h1m0.5 -23.5h1m-1 10h1m8.5 -18h1m-12 3h1m12 -10.5h1m-13.5 25.5h1m2.5 -14h1m-3 23h1m-7 -13.5h1m-6 17h1m23 -36.5h1m-18.5 39.5h1m-7 4.5h1m12 -26.5h1m-5 -6.5h1m-9.5 17.5h1m2 -1.5h1m15.5 -21h1m-18 30.5h1m5 -27h1m-1 24h1m-3.5 -9.5h1m13.5 -25.5h1m1 1.5h1m-26.5 28h1m13.5 -17h1m-16.5 17.5h1m4 4.5h1m4 -8h1m13.5 -25h1m-4 -2h1m-9.5 30h1m10.5 -32h1m-24.5 42.5h1m24 -36.5h1m-23 21.5h1m4 8h1m6 -20.5h1m-3.5 21h1m-13.5 -2.5h1m21 -33.5h1m-23 29h1m13 -9h1m7.5 -10.5h1m-13 22.5h1m1 -20.5h1m-14 35h1m3 -7.5h1m8.5 1h1m4 -23.5h1m-3.5 -2.5h1m-1 12.5h1m-7.5 -5.5h1m-2.5 0h1m4 5h1m-6.5 6.5h1m4 -2.5h1m5.5 -9.5h1m-5.5 0h1m-2.5 13h1m6.5 -27h1m-16.5 32h1m12.5 -26.5h1m-5 9h1m6.5 -10.5h1m-17 13.5h1m5 18.5h1m3 -22h1m-4 6h1m-2 3.5h1m-10 11.5h1m9.5 -20.5h1m-8 22h1m15 -27.5h1m-4.5 5h1m-7.5 17h1m5 -16.5h1m-2.5 4h1m8 -16.5h1m-11.5 26h1m1.5 -14.5h1m-17 9h1m6.5 4.5h1m7 -27.5h1m-9.5 21h1m-2 -2.5h1m10 2.5h1m3 -14h1m-6 5.5h1m-7.5 -3h1m-7 8.5h1m16 -11.5h1m-18.5 17h1m-9 15h1m21.5 -39.5h1m-17 22h1m14.5 -19.5h1m-4 5h1m-11 16.5h1m2.5 6.5h1m6.5 -12h1m-9 1h1m-7.5 10h1m22.5 -37h1m-13.5 22h1m-8 3h1m16 -21h1m-19 46h1m18 -38.5h1m-6.5 12h1m-20 25.5h1m15 -33h1m6.5 1.5h1m-2 -5h1m-7 8h1m-1 2h1m-19 13.5h1m18.5 -27h1m-4.5 23.5h1m4 -6.5h1m-3 1h1m-3 0.5h1m-0.5 5h1m2.5 -23h1m-3.5 9.5h1m-8.5 31.5h1m-11 -5.5h1m13 -2.5h1m1 -34h1m-14.5 40.5h1m21 -32.5h1m-1 -5.5h1m-23 37.5h1m-1 -17h1m-3.5 9h1m2.5 7.5h1m10.5 -33h1m11.5 -14.5h1m-25 37.5h1m4 11.5h1m8.5 -36h1m4 -4.5h1m-18.5 30.5h1m-6 10h1m1.5 -18h1m17.5 -5.5h1m-10 19.5h1m-6.5 -15.5h1m8.5 -11h1m-8.5 3.5h1m-3 -0.5h1m5.5 9h1m5.5 -9.5h1m-10.5 25.5h1m-0.5 -23h1m0.5 20.5h1m-10 -13.5h1m10.5 5h1m-1.5 -17.5h1m2 -10.5h1m-10 21h1m-5.5 18.5h1m5 -3.5h1m-7 -17.5h1m2.5 -0.5h1m0.5 21.5h1m-3 -15h1m0 15.5h1m-2.5 -2.5h1m4 4.5h1m9 -30.5h1m-20 20h1m20.5 -27h1m-6 6.5h1m-6 -3h1m-0.5 -3.5h1m-12.5 35h1m11 -37.5h1m-9.5 19h1m-2 5.5h1m19.5 -28.5h1m-14.5 36.5h1m-4.5 -23.5h1m10 -5h1m-13.5 15h1m4.5 -15.5h1m-2 35h1m5.5 -23h1m-9.5 -2h1m7.5 6.5h1m0.5 -16.5h1m-7 9h1m-0.5 -8h1m-14 24.5h1m21.5 -33.5h1m-24 36.5h1m22 -28.5h1m-8.5 26.5h1m7.5 -24h1m-25 33.5h1m20 -44.5h1m-12.5 42h1m13 -30h1m-19 18h1m0 -4.5h1m-1.5 16.5h1m20 -46.5h1m-26.5 45h1m10.5 -26h1m2.5 11.5h1m-6.5 9h1m-3 -21.5h1m-7 17h1m12 -9h1m-21 22.5h1m21 -19.5h1m3.5 -23h1m-9.5 18.5h1m8.5 -12.5h1m-9.5 22h1m10 -33h1m-20 22h1m16 -9h1m-20.5 23.5h1m4.5 -10.5h1m-14 19.5h1m11.5 -30.5h1m10.5 1.5h1m-6 10.5h1m-12 0.5h1m0 16.5h1m1 1h1m-9 -3h1m24 -37h1m-9.5 22.5h1m-1 -11h1m7 -15.5h1m-0.5 5.5h1m-8.5 3h1m8 -11.5h1m-4.5 13h1m-25 29h1m2.5 6h1m-6 -9.5h1m21 -30h1m3 -2.5h1m-16 38h1m9.5 -33h1m-14 35.5h1m-2 -14.5h1m1.5 13h1m13 -39.5h1m-22.5 44h1m2.5 -21h1m1 -1.5h1m10.5 4.5h1m-0.5 -19h1m-3 14h1m-1 5.5h1m-4 -3h1m-7.5 9.5h1m11 -29h1m-11.5 14.5h1m9.5 -10.5h1m-13.5 19.5h1m0.5 16.5h1m12 -28h1m-2.5 4h1m-1 -8.5h1m-22.5 30.5h1m10.5 -13h1m-11.5 12h1m4.5 -5h1m14.5 -28h1m-6.5 17h1m5.5 -10h1m-9.5 18h1m-11.5 -1h1m13.5 -5.5h1m3.5 -18.5h1m-3 4.5h1m-10.5 32.5h1m15.5 -49.5h1m-12.5 20.5h1m1 17.5h1m-6.5 -19.5h1m-9.5 23.5h1m17 -22h1m-5 -11h1m-9.5 18.5h1m10 -6h1m2 -14h1m-11 35h1m-3.5 -9h1m3.5 -10h1m-13 11h1m7 -11.5h1m9 -14.5h1m-15.5 24.5h1m18 -23.5h1m-11.5 11.5h1m-0.5 1h1m-3 16h1m6.5 -27h1m-14.5 11h1m-8 26h1m6.5 -11.5h1m9.5 -18.5h1m2.5 -5h1m-9 19.5h1m-15 8.5h1m11 6.5h1m11.5 -34h1m-18.5 33h1m-9 -4h1m8 -3.5h1m-2.5 -14h1m5.5 7.5h1m-21 3h1m-8.5 -2h1m-8.5 -1h1m11.5 -1h1m2.5 1h1m-9.5 -2h1m2 2.5h1m3 3.5h1m-17.5 -1.5h1m13.5 1.5h1m-16.5 -3h1m10.5 -3.5h1m6.5 2.5h1m-13 4h1m6 -1.5h1m-12.5 -4h1m-3 6h1m0.5 -3h1m-5 -2h1m4.5 -0.5h1m11.5 -1h1m-18 5h1m13 -3h1m-3.5 1h1m-10 -1.5h1m3.5 -2h1m10.5 5.5h1m-12 -2.5h1m5.5 1h1m1.5 2.5h1m-19 -2h1m-1.5 3h1m0.5 1.5h1m-2.5 4h1m0.5 1.5h1m-1 -12h1m-2 -3.5h1m-0.5 18h1m-1 -16h1m-2 0h1m0.5 -6h1m-2 -0.5h1m-0.5 8.5h1m-2 -5h1m0 18h1m-1 -10.5h1m-1.5 3.5h1m-0.5 8.5h1m-1 -12.5h1m-1.5 13h1m34.5 -5.5h1m-12 -6.5h1m3.5 5.5h1m-7 7.5h1m1 -4h1m2 -7.5h1m-6 12h1m7.5 -14.5h1m0.5 2h1m-4.5 10h1m-6.5 -0.5h1m7 -7.5h1m1 3.5h1m-4.5 -3h1m-8.5 -3.5h1m0 13h1m7 -0.5h1m-0.5 -4.5h1m-7 0h1m1.5 -0.5h1m0.5 0.5h1m3.5 0.5h1m-2.5 5h1m-2 -6h1m-2 5.5h1m-3.5 -11.5h1m5.5 6.5h1m-12.5 -6h1m6.5 7h1m-2 -7h1m-8.5 9h1m10 2h1m-5 1h1m2.5 -7h1m-2 5.5h1m-9.5 -9h1m2.5 1h1m6 9.5h1m-0.5 -1.5h1m-7 -8h1m-5 5h1m3.5 -8h1m0.5 7.5h1m1.5 -5.5h1m-2.5 -4h1m-10 5h1m3.5 2h1m5.5 -5h1m-11 -0.5h1m7.5 13h1m-9 -14.5h1m0 -0.5h1m6.5 3.5h1m-10 -0.5h1m8.5 10h1m-9.5 -2.5h1m8.5 -8.5h1m-1.5 7h1m-6.5 -6h1m4.5 9.5h1m-4.5 -10h1m-6 5h1m7.5 7h1m-3 -8.5h1m-10 -3.5h1m1 8.5h1m0 -1.5h1m8.5 -2.5h1m-2.5 -4.5h1m-6 8h1m4 4.5h1m-2 -12h1m1 10h1m-3 2h1m-8.5 -8h1m6 -3h1m-10.5 1.5h1m3.5 -1.5h1m-3 0h1m2.5 3h1m-7.5 4h1m1 -4h1m5.5 0h1m-1 -4h1m-5.5 3h1m-0.5 -2.5h1m-1.5 -2h1m4 1h1m-8.5 7h1m2 4.5h1m-1.5 -13.5h1m0 4h1m-2.5 9.5h1m6 -12.5h1m-11 8h1m5 -1.5h1m-3 -4.5h1m-3 8h1m6.5 -8.5h1m2 -1h1m-1.5 -1h1m-7 14h1m4 -12h1m-1.5 -0.5h1m-0.5 3.5h1m-6 -3h1m5.5 4.5h1m-4 -6.5h1m1 2.5h1m-5.5 7.5h1m-1.5 -2h1m0.5 5h1m-6 -12.5h1m-3.5 8.5h1m9 -2.5h1m-11 -2.5h1m0.5 1.5h1m-3.5 7h1m5.5 -4h1m-6 0.5h1m1 -9h1m0.5 -0.5h1m3.5 8.5h1m-8.5 -8h1m5 1h1m2 0h1m-12 7.5h1m11.5 -2h1m-11 3h1m6.5 0.5h1m-5.5 -5.5h1m2 -2h1m2 4.5h1m-4.5 -5.5h1m4 5.5h1m-3 5h1m-1 -11.5h1m-0.5 8h1m-12 -9h1m5 12h1m5 -1.5h1m-3 2h1m-3 -0.5h1m18.5 -4.5h1m-1.5 3h1m-4 -10h1m5 6h1m-7 -8h1m5 10.5h1m-4.5 -0.5h1m-5 -4h1m-1.5 -7h1m1.5 2.5h1m-1 -1.5h1m-2 5.5h1m0 -3.5h1m-2 5.5h1m6 4h1m-10 0.5h1m-0.5 2.5h1m2 -11.5h1m-3 1h1m3 3.5h1m0 2.5h1m-4 1.5h1" stroke="#181818" stroke-width="1" stroke-opacity="0.8" fill="none"/>
<polygon points="395,116.5 405,115.5 412,114 418,113.5 418,131.5 395,131.5" fill="#383838" fill-opacity="1.0"/>
<path d="M439 127.5h1m3 -17h1m-21 9h1m3 -12h1m19 -17.5h1m-10 15h1m-19 20.5h1m28.5 -36.5h1m-8 17.5h1m-20 2h1m9 16.5h1m4 -17h1m11.5 -24h1m-11.5 24.5h1m-22 9h1m12.5 -2h1m-7 2h1m-4.5 -13h1m24 -8h1m-7.5 12.5h1m0 2h1m-6 19.5h1m1.5 -45.5h1m-0.5 42h1m-19 -17h1m-3 -3h1m21.5 2.5h1m-13.5 19.5h1m-11.5 1.5h1m23.5 -29h1m-16.5 16.5h1m9.5 8h1m-22 -5h1m4.5 -20.5h1m22.5 -11.5h1m-10 11.5h1m-14 25.5h1m13.5 1.5h1m2 -17h1m-8 4h1m5 -0.5h1m-15 8h1m-4.5 -1.5h1m13 -28.5h1m5.5 -6h1m-4 25.5h1m-20 4.5h1m10 -23.5h1m-1 38.5h1m7 -33.5h1m-14.5 4.5h1m5 19h1m3 0.5h1m-20.5 6.5h1m12.5 -2.5h1m15 -30.5h1m-21 3h1m-8.5 27h1m16 -9h1m-9 6h1m-2 -1h1m9.5 -11h1m-11.5 -12h1m12.5 -8.5h1m-13.5 37.5h1m11.5 -17.5h1m-20 1.5h1m-6.5 17h1m7.5 -2.5h1m-1 -2h1m5.5 -26h1m2 11.5h1m5.5 -5h1m-13.5 17.5h1m9.5 -21.5h1m-11.5 17.5h1m1 -19h1m5.5 17h1m-12.5 -16h1m6 2h1m-7.5 18.5h1m14.5 -15.5h1m-17 7h1m22.5 -25h1m-28 34h1m23 -24h1m-19.5 18.5h1m9.5 -18h1m-16 28.5h1m-1 -23.5h1m16 16.5h1m-19.5 0.5h1m-2 9h1m-6 -12h1m27 -34.5h1m-20 42.5h1m10.5 -23h1m-7.5 6.5h1m-13.5 15h1m15 -22.5h1m12.5 -18.5h1m-7 18h1m-9 16h1m1 -12h1m8 -11.5h1m-1.5 10.5h1m-3 -11h1m-15 6.5h1m0.5 11.5h1m14.5 -7.5h1m-16.5 21.5h1m16 -20.5h1m-6 -8h1m-8 35.5h1m3 -24.5h1m2 9.5h1m-7.5 8h1m14.5 -36.5h1m-23 26.5h1m7 -18h1m-8.5 31h1m-4 -18h1m6 -2h1m-4 -7.5h1m-7 24h1m24 -25.5h1m-13 19.5h1m-2.5 -1h1m1 11h1m2.5 -19h1m-1.5 13h1m-13 -10h1m2 11h1m6.5 -12.5h1m-9 17.5h1m0.5 -11.5h1m-7 -3h1m10.5 2.5h1m-8.5 -13h1m19 -21.5h1m-31 50.5h1m18.5 -33.5h1m-6 0.5h1m0 0.5h1m4 2h1m-6.5 -4h1m9.5 8.5h1m-5.5 -2.5h1m1.5 1.5h1m-18.5 1.5h1m6.5 12.5h1m-3 -2.5h1m17 -34h1m-14 11.5h1m8.5 -1h1m0 3.5h1m-22.5 20.5h1m4 6h1m11.5 -25h1m-13.5 10h1m2 5.5h1m13.5 -30h1m-11.5 4.5h1m4 15.5h1m-6.5 -12h1m2.5 5h1m-10 3.5h1m-5.5 -3h1m19 -7.5h1m-2 8h1m-25 15.5h1m1.5 6.5h1m13 -9h1m-14 4.5h1m-5 13.5h1m24.5 -30.5h1m-22.5 29h1m-4.5 -8h1m8 -3.5h1m-6.5 10h1m20 -27h1m-9.5 -2.5h1m-12 5.5h1m8.5 19h1m-3.5 -8h1m-7.5 4.5h1m6.5 -17.5h1m0.5 7h1m10.5 -11h1m-2.5 6.5h1m-22 3.5h1m10.5 3.5h1m7.5 -11h1m-24 27h1m14 -19.5h1m-12.5 18.5h1m10.5 6h1m-16 -24h1m3 22.5h1m-6 -13.5h1m13 -6h1m5 -10.5h1m-2.5 4h1m4 -19.5h1m-4.5 19.5h1m-4.5 22h1m-11 2.5h1m2.5 -21h1m2.5 -3h1m4.5 25h1m-7.5 1h1m0 -8h1m2.5 -3h1m-1 -23.5h1m-9.5 16.5h1m-6.5 7.5h1m23 -33.5h1m-8 19h1m-1 -10h1m-9 8.5h1m0 4h1m-16.5 12h1m16.5 -2.5h1m-7 9h1m-11 -1.5h1m18.5 -33.5h1m5.5 3h1m-1 5h1m-8 21h1m-5 -19h1m3.5 14.5h1m2 -25.5h1m2 1.5h1m-4.5 11.5h1m-5.5 22.5h1m10 -41h1m-11.5 16.5h1m9 -4.5h1m-18.5 9.5h1m-1.5 25.5h1m-9 -19.5h1m-5 13.5h1m14 -16.5h1m-10.5 20.5h1m13 -1.5h1m-6.5 -21h1m2.5 13.5h1m-3 8h1m0 -21h1m-13.5 6.5h1m23 -10h1m-15.5 5.5h1m-2.5 10h1m-7.5 9h1m16 -35h1m4 1h1m-2.5 -4.5h1m-18.5 37h1m15.5 -23.5h1m-4.5 16.5h1m-18 -10h1m8 12h1m10 -29.5h1m-6.5 22h1m-17.5 13h1m-0.5 -0.5h1m26.5 -44h1m-11.5 41h1m-18 2h1m16 -6h1m-1 -28.5h1m0 22h1m-13 -9.5h1m-8 25.5h1m17.5 -20.5h1m12.5 -25h1m-25 22h1m-11.5 17.5h1m1.5 7.5h1m18.5 -41h1m-7.5 11.5h1m1.5 -2.5h1m-1.5 8h1m-7.5 -6.5h1m-4 14h1m6 -22h1m-2 39h1m5 -4.5h1m10 -37h1m-19.5 23h1m-8.5 8.5h1m27.5 -38.5h1m-21 33h1m2.5 -16h1m0 17h1m0.5 8h1m-10.5 1.5h1m14 -22h1m-2.5 -7.5h1m1.5 6.5h1m-11 20.5h1m-4.5 -15h1m0.5 -3h1m0 -2.5h1m12 -7.5h1m-27.5 22.5h1m14 -17h1m9.5 3.5h1m-17 20.5h1m12.5 -41.5h1m-7 47h1m-14.5 -3h1m14 -31.5h1m-8.5 3.5h1m-9.5 31.5h1m15.5 -43.5h1m2.5 6h1m-25.5 38.5h1m13.5 -20.5h1m-7 -4h1m4 -2h1m-9 12h1m9 9h1m-8.5 2.5h1m-8.5 -7h1m20 1.5h1m0 -31.5h1m-19.5 35h1m25.5 -31.5h1m-12.5 6h1m-16.5 22h1m10 -29h1m4.5 36h1m4.5 -37h1m-10.5 38.5h1m-16 -15.5h1m17.5 2h1m2 -31h1m-13.5 34h1m-1.5 -13.5h1m11.5 -17h1m-2 31h1m-10 -14h1m11 -10.5h1m-24 15.5h1m26 -21.5h1m-25 36h1m16.5 -25h1m-3 16h1m-12.5 -12h1m13.5 -13.5h1m-6.5 26.5h1m11 -20h1m-6.5 -1.5h1m-2 9h1m-13 12h1m8.5 -28h1m1 8h1m-7.5 3h1m12.5 2.5h1m-21.5 -1h1m3 6h1m-12 18h1m19.5 -36.5h1m-4 2.5h1m5 19.5h1m0.5 -17h1m-16 12h1m-11 5h1m28 -21h1m-18 32.5h1m5.5 0.5h1m-13.5 5.5h1m14 -35h1m-21 30.5h1m10.5 -31h1m10.5 -8h1m-7.5 15.5h1m-7.5 -4.5h1m-7 7h1m12.5 7.5h1m0 -11.5h1m0 12.5h1m7.5 -23h1m-21 12.5h1m2 9.5h1m-1.5 -6.5h1m4 4.5h1m8.5 -5h1m-1 -16h1m-11.5 4.5h1m-15 16.5h1m-1.5 1.5h1m14.5 -3.5h1m6 -0.5h1m-11.5 10.5h1m0 -9.5h1m-6.5 -0.5h1m4 22.5h1m15 -35.5h1m-20.5 12.5h1m2 6.5h1m-2 -0.5h1m-7.5 13h1m3.5 -7h1m-11.5 10h1m15.5 -11.5h1m-19.5 13h1m20.5 -20.5h1m-8.5 17h1m12.5 -28.5h1m3 -2h1m-4 -13h1m2 11.5h1m-25 35.5h1m8 -31.5h1m-1.5 23h1m-1.5 -8.5h1m-3 -18.5h1m9 8h1m0.5 -4h1m-15.5 22h1m2.5 -11h1m-14 9.5h1m5 -7h1m0 -7.5h1m-9.5 26h1m22.5 -20.5h1m-7.5 -4h1m-3 9h1m12.5 -31.5h1m-5 11.5h1m5.5 -2.5h1m-20 1h1m-2.5 9h1m2 21.5h1m-1.5 -21h1m3.5 5.5h1m-2 11.5h1m-4 11h1m8 0h1m-14 -15.5h1m7.5 1.5h1m-0.5 -6h1m5 -9h1m-5 1.5h1m-18.5 9h1m27.5 -22.5h1m-3.5 -6h1m-23 37.5h1m-2 -13h1m17.5 10h1m-20.5 -1h1m18.5 -7.5h1m-22.5 -1h1m9.5 -2.5h1m11 -13h1m-8 21h1m4 12.5h1m-11 -17.5h1m-6 15.5h1m-6.5 -15.5h1m27 -14h1m-28 21.5h1m22 -17h1m-16 17.5h1m15.5 -28.5h1m-5.5 32h1m-11.5 5h1m8.5 -7.5h1m-4.5 1h1m-0.5 6h1m-17 -9h1m17 -25h1m6 -6h1m-16 32h1m11.5 -11.5h1m-14 17h1m1.5 3.5h1m7.5 -14.5h1m-10 -8h1m3.5 -6h1m5 -12h1m2.5 5h1m-5 -1.5h1m-23 34.5h1m15 -10.5h1m-4 -7h1m8 3h1m-6.5 -6.5h1m-2.5 23.5h1m-16 -9h1m18.5 -8h1m-11.5 -5h1m-6 24h1m7.5 -18.5h1m6 2h1m1 -21.5h1m-11 8h1m-1 31.5h1m7.5 -10h1m-14 -20.5h1m12 7h1m-4.5 -10.5h1m-16.5 7h1m-6 26.5h1m31 -49.5h1m-5.5 31h1m-8.5 -15h1m-8 12.5h1m-6.5 21.5h1m11 -4h1m-2.5 -26.5h1m-0.5 -4h1m-6 23h1m17.5 -34.5h1m-15 40h1m-6.5 -24.5h1m0 25h1m2 -8h1m1 3h1m5 -21h1m-19.5 31h1m-4 -11.5h1m12.5 -25h1m6 3h1m-10.5 10.5h1m5 -5.5h1m-16.5 24.5h1m-2 -16.5h1m6 -6.5h1m17.5 -4h1m-10 4h1m-11 5.5h1m5 -10h1m-5 3h1m5 5h1m-14 19h1m28.5 -46.5h1m-12.5 36h1m-18 11h1m6.5 -3h1m-6.5 -11.5h1m-5 15.5h1m10.5 -19.5h1m-7.5 6.5h1m12.5 9h1m-14.5 3h1m2 0.5h1m12 -32.5h1m-5 29h1m-14.5 -3h1m18 -13h1m-2.5 -4.5h1m-7.5 21.5h1m-15.5 -5h1m26.5 -22.5h1m-27.5 34.5h1m6.5 -24.5h1m0.5 -3.5h1m-1 -3h1m1.5 2.5h1m6 -5.5h1m-3.5 30h1m-13 -17.5h1m16 -25h1m-6 14h1m-2.5 -3h1m0.5 21.5h1m-18.5 -8.5h1m8 13h1m10.5 -28h1m-0.5 23h1m-24 13.5h1m17.5 -27.5h1m0.5 10h1m-8 -1h1m17 -22.5h1m-21 31h1m12.5 -5h1m-22.5 15h1m-1.5 0h1m14.5 -1h1m-15.5 -10.5h1m14.5 -10.5h1m-6 10h1m-1 -3.5h1m6.5 -2h1m1.5 -17.5h1m-2 15.5h1m7 -27.5h1m-1 0h1m-21.5 30h1m4.5 -7h1m-1.5 6.5h1m11.5 -18h1m-4.5 -11.5h1m-1 4h1m-2.5 11.5h1m-15 26h1m1 -23.5h1m5 9.5h1m15.5 -18h1m-36.5 37h1m11.5 -14h1m1 -5.5h1m2 4h1m-3.5 -15.5h1m5 8h1m-2.5 3.5h1m-5.5 2h1m-2.5 15.5h1m8.5 1h1m-17 -19h1m14 1h1m-16 18h1m25 -39.5h1m-19 34h1m-8 -1.5h1m19.5 -32h1m3.5 3h1m-14 0h1m13 -4.5h1m-21.5 18h1m14.5 -7.5h1m-1 10.5h1m-10 10.5h1m-6 -7.5h1m-2.5 -4h1m14 0.5h1m-2.5 -3.5h1m-13.5 5.5h1m7.5 -5.5h1m-2.5 -2h1m2.5 -15.5h1m-16.5 31.5h1m1.5 3.5h1m-5.5 6h1m12 -27h1m-4 6h1m-3.5 -3h1m-12.5 10.5h1m-2.5 13.5h1m16.5 -14h1m14 -26.5h1m-18 13.5h1m-0.5 -10h1m5 7.5h1m0.5 22.5h1m-19 7h1m6.5 -10h1m-7 5.5h1m8.5 -15.5h1m11.5 -5.5h1m1 -10h1m-29 35.5h1m10 -2.5h1m2 -21.5h1m-14.5 10.5h1m-5 14.5h1m9 -19h1m-3 9h1m9.5 -22h1m-4 31h1m-4 -21.5h1m9 16h1m-15.5 -10.5h1m18 -29.5h1m0.5 2.5h1m-26.5 29h1m16.5 5.5h1m-18 -4.5h1m13 7.5h1m6 -20h1m-6 22h1m-13.5 -12.5h1m0 -7h1m1.5 14.5h1m1 2h1m11 -13h1m-19.5 15h1m1.5 -14h1m22.5 -18h1m-4 11.5h1m-10.5 13.5h1m-1 -28h1m-12 31h1m13.5 -17.5h1m-20.5 24h1m23 -24.5h1m-2 -20.5h1m-12 19.5h1m-8.5 20h1m14.5 -7h1m2 -24.5h1m-13.5 11.5h1m-13.5 20.5h1m8 -3.5h1m14 -23h1m0 12.5h1m-18.5 3.5h1m20.5 -16h1m-20 33.5h1m10 -7h1m-20 -2.5h1m2 -8h1m6.5 9h1m-2 -6h1m3 -10.5h1m-12 26h1m9 -14h1m2.5 -18h1m-13.5 16.5h1m12 -12h1m-13.5 28.5h1m9 -14h1m1 -18.5h1m-17.5 23h1m8 -17h1m-4.5 11.5h1m1 -0.5h1m-4 -6.5h1m-4.5 14h1m3.5 -11.5h1m-0.5 14.5h1m-1.5 -4.5h1m15 -20.5h1m0.5 -8.5h1m-0.5 3.5h1m-24 20.5h1m8 -10h1m4 -2h1m-17.5 24.5h1m13.5 -6.5h1m1 -11.5h1m-3 11h1m-6.5 -3h1m-7 2h1m10 -20.5h1m-0.5 13h1m-7.5 -9.5h1m7 7h1m-6 18.5h1m7 -32.5h1m5.5 -7h1m-21.5 28.5h1m11.5 -10.5h1m4 -12.5h1m-14 22h1m3.5 -10.5h1m6.5 -15.5h1m-6.5 5h1m2.5 2.5h1m-3 20h1m-3.5 -18.5h1m-2 -1h1m-8 30.5h1m5.5 0.5h1m-6.5 -15.5h1m2.5 -14.5h1m-11.5 28.5h1m7 -9h1m-1.5 3.5h1m3 -19.5h1m-0.5 -3h1m-13 28.5h1m17.5 -28h1m-3.5 -3h1m-0.5 8.5h1m-10 18.5h1m7.5 -29.5h1m-4.5 10.5h1m2 -9h1m-2.5 27.5h1m-6 -24h1m2 30.5h1m-8 -23.5h1m8 -10h1m-4.5 20h1m2 8h1m-4.5 -10.5h1m1.5 -15.5h1m-12.5 24h1m2 0h1m10.5 -15.5h1m5.5 -8.5h1m-9.5 29h1m-6.5 -4.5h1m-3 3h1m11 -33.5h1m-0.5 15.5h1m-3.5 9.5h1m0.5 -20.5h1m-9 3.5h1m5.5 5.5h1m-10 1h1m1 7.5h1m9.5 -8h1m-3.5 8.5h1m-12.5 -2h1m-5.5 15h1m8.5 -3h1m4 -9.5h1m6 -25h1m-20.5 23h1m0.5 -3h1m6 -2h1m-1 -3h1m-10 9.5h1m13.5 -13h1m6 -8h1m-8.5 25.5h1m-6.5 5h1m13.5 -35h1m-26 37h1m5.5 3h1m4.5 -6.5h1m-4 6h1m-3.5 -21h1m-3.5 14.5h1m13 -30.5h1m-7 9.5h1m5.5 1h1m-5.5 15h1m6 -18.5h1m-16.5 6.5h1m6.5 11h1m-4.5 -14.5h1m7 10h1m-7.5 -1.5h1m2 17h1m-2.5 -19h1m-7.5 15h1m4 -2h1m5 -24.5h1m-7 27h1m-6 -14h1m10.5 -13.5h1m-1.5 13h1m-8 -12.5h1m7 11h1m2.5 -15.5h1m-20 35h1m8.5 -1h1m-3 -27.5h1m2.5 18.5h1m0.5 -1.5h1m-0.5 -1h1m-7 13h1m9 -29.5h1m-17 11h1m19.5 -16h1m-6 1.5h1m-7.5 1.5h1m-3.5 26h1m-0.5 -18.5h1m3 1h1m-7.5 21.5h1m-0.5 -18h1m11.5 -14.5h1m-14 27h1m-9.5 -1.5h1m20 -24.5h1m-8.5 0.5h1m-8.5 26h1m7 -18.5h1m-8.5 9h1m3.5 -0.5h1m3 8h1m6.5 -23h1m-16 17h1m6.5 1h1m-0.5 -19.5h1m-11.5 24h1m1.5 -3.5h1m-3.5 8.5h1m5 -9h1m-9.5 -3.5h1m14.5 -13h1m-6.5 26h1m1.5 -30h1m1 0h1m-12.5 23.5h1m-1.5 -9.5h1m3.5 10.5h1m-8 9h1m5.5 -18h1m14 -22h1m-20 23.5h1m4 8h1m-5.5 -16h1m4 25.5h1m1.5 -9.5h1m3 -23.5h1m-5.5 29.5h1m6.5 -21.5h1m0 -7.5h1m-4 0h1m-3 1.5h1m2.5 9h1m-0.5 -7h1m-17.5 17h1m-1.5 -7.5h1m-0.5 7.5h1m-2 2h1m8 -4.5h1m-3 11h1m2 -16.5h1m-8.5 0.5h1m0.5 20.5h1m9.5 -35h1m5 -5.5h1m-3.5 13h1m-12 0.5h1m-4 7h1m3.5 13h1m8.5 -30.5h1m-21 38h1m21.5 -33h1m-11.5 2h1m-10 18.5h1m6 10.5h1m-1.5 -1h1m5 -20.5h1m0.5 -3.5h1m-0.5 5h1m-11 2h1m1.5 19h1m1.5 -24.5h1m-10 14.5h1m6 3h1m4.5 -21.5h1m-11.5 21h1m13.5 -19h1m-8.5 -5.5h1m-0.5 20.5h1m4.5 -10.5h1m-7 14.5h1m-4.5 -21.5h1m3 12h1m-11.5 -4h1m-2 19.5h1m7.5 -8h1m6.5 -24h1m-7 29.5h1m-5.5 -0.5h1m-0.5 -2.5h1m3 -23.5h1m0.5 21.5h1m-2 -17.5h1m-14 20h1m8.5 1.5h1m-1.5 -11h1m8 -22h1m-6.5 36.5h1m1.5 -16h1m2 -14h1m0 -2.5h1m-13 33h1m4 -2.5h1m-10.5 -4.5h1m14 -16.5h1m3.5 -10.5h1m-10.5 11.5h1m1 20h1m-7.5 -15.5h1m1.5 16h1m-2.5 -12.5h1m3 -8.5h1m-10.5 14h1m7.5 -6h1m12.5 -24.5h1m-5.5 8.5h1m-17 32h1m0.5 -13h1m10 -21h1m-3 7.5h1m-2.5 5.5h1m-14.5 16h1m1.5 -5.5h1m6 -2h1m1.5 -15.5h1m-5 23.5h1m4.5 2.5h1m-13.5 -9h1m9 -21.5h1m9 2h1m-2 -2h1m3 -6h1m-6.5 8h1m-7 -2.5h1m5 -5h1m-7.5 15h1m-11.5 24h1m12 -5h1m-6.5 -8.5h1m12 -22.5h1m-22 24.5h1m6.5 -0.5h1m-5 -1.5h1m18 -26h1m-23 39h1m-10 -16h1m2 -1.5h1m-9 2.5h1m-1.5 -5.5h1m9 1h1m-12 -0.5h1m-2 0.5h1m-2 1.5h1m-8 0h1m13 3.5h1m-12 -3.5h1m4 -3h1m8.5 3h1m-18.5 2h1m8.5 0h1m-6 -5h1m12 -0.5h1m-14.5 0.5h1m13 5h1m-19.5 -4.5h1m10.5 -1h1m7 1.5h1m-5.5 5h1m5 -5h1m-19.5 3h1m-0.5 2h1m3.5 -2.5h1m5.5 -2h1m5.5 4h1m-7 -3.5h1m-16 13.5h1m-1 -11.5h1m-0.5 15h1m-1 -25h1m-2 -4.5h1m-1.5 20.5h1m0.5 11h1m-2.5 -16.5h1m-1 11h1m-1 -6h1m0.5 -23h1m-1 20h1m-2.5 -5h1m-0.5 2h1m-1 -12.5h1m0 -2.5h1m-1 11h1m-2 -11h1m-1 -1h1m-1 15h1m-1.5 -8h1m0.5 -3h1m-2 26.5h1m-1 -30h1m-1 17.5h1m49 -4h1m-7 5h1m2.5 14h1m2 0.5h1m-2.5 -21.5h1m-4.5 16h1m-2.5 -1h1m7 4h1m0 -15h1m-8 -4h1m-4 17h1m2 3.5h1m-0.5 -20.5h1m6.5 16.5h1m-10.5 1.5h1m2.5 3h1m-6 -9h1m1.5 -12.5h1m2 8.5h1m3 13h1m-1 -5h1m1 -13h1m-11.5 11.5h1m1 7.5h1m6 -20h1" stroke="#181818" stroke-width="1" stroke-opacity="0.8" fill="none"/>
<rect x="53" y="39" width="93" height="92.6" fill="none" stroke="#5a5a5a" stroke-width="1.15"/>
<line x1="73.8" y1="39" x2="73.8" y2="131.6" stroke="#5a5a5a" stroke-width="1.15"/>
<line x1="53" y1="108.4" x2="146" y2="108.4" stroke="#5a5a5a" stroke-width="1.15"/>
<rect x="172.3" y="39" width="92.89999999999998" height="92.19999999999999" fill="none" stroke="#5a5a5a" stroke-width="1.15"/>
<line x1="193" y1="39" x2="193" y2="131.2" stroke="#5a5a5a" stroke-width="1.15"/>
<line x1="172.3" y1="108.4" x2="265.2" y2="108.4" stroke="#5a5a5a" stroke-width="1.15"/>
<rect x="285.6" y="41.2" width="91.19999999999999" height="90.10000000000001" fill="none" stroke="#5a5a5a" stroke-width="1.15"/>
<line x1="308.9" y1="41.2" x2="308.9" y2="131.3" stroke="#5a5a5a" stroke-width="1.15"/>
<line x1="285.6" y1="108.3" x2="376.8" y2="108.3" stroke="#5a5a5a" stroke-width="1.15"/>
<rect x="394.5" y="41.2" width="91.80000000000001" height="90.8" fill="none" stroke="#5a5a5a" stroke-width="1.15"/>
<line x1="418.2" y1="41.2" x2="418.2" y2="132" stroke="#5a5a5a" stroke-width="1.15"/>
<line x1="394.5" y1="108.4" x2="486.3" y2="108.4" stroke="#5a5a5a" stroke-width="1.15"/>
<text x="59.6" y="46.4" font-family="Liberation Sans" font-size="6.6" text-anchor="start" fill="#000">0.1</text>
<text x="130.2" y="47.4" font-family="Liberation Sans" font-size="6.6" text-anchor="start" fill="#000">0</text>
<text x="132.8" y="123.8" font-family="Liberation Sans" font-size="6.6" text-anchor="start" fill="#000">0.2</text>
<text x="89.2" y="50.6" font-family="Liberation Sans" font-size="7.7" font-weight="bold" text-anchor="start" fill="#000">+CRP</text>
<text x="178.6" y="49.8" font-family="Liberation Sans" font-size="6.6" text-anchor="start" fill="#000">1.8</text>
<text x="248.6" y="50.7" font-family="Liberation Sans" font-size="6.6" text-anchor="start" fill="#000">7.3</text>
<text x="251.3" y="126.7" font-family="Liberation Sans" font-size="6.6" text-anchor="start" fill="#000">2.9</text>
<text x="207.5" y="50.6" font-family="Liberation Sans" font-size="7.7" font-weight="bold" text-anchor="start" fill="#000">+ CRP</text>
<text x="289.2" y="49.8" font-family="Liberation Sans" font-size="6.6" text-anchor="start" fill="#000">0.1</text>
<text x="359.1" y="50.7" font-family="Liberation Sans" font-size="6.6" text-anchor="start" fill="#000">4.9</text>
<text x="362.6" y="126.8" font-family="Liberation Sans" font-size="6.6" text-anchor="start" fill="#000">4.8</text>
<text x="318.7" y="50.7" font-family="Liberation Sans" font-size="7.8" font-weight="bold" text-anchor="start" fill="#000">+ CRP</text>
<text x="401" y="49.6" font-family="Liberation Sans" font-size="6.6" text-anchor="start" fill="#000">0</text>
<text x="471.1" y="50.7" font-family="Liberation Sans" font-size="6.6" text-anchor="start" fill="#000">1.4</text>
<text x="469.2" y="126.8" font-family="Liberation Sans" font-size="6.6" text-anchor="start" fill="#000">5.6</text>
<text x="428.2" y="50.7" font-family="Liberation Sans" font-size="7.7" font-weight="bold" text-anchor="start" fill="#000">+ TRAP</text>
<text x="60.2" y="23.2" font-family="Liberation Sans" font-size="14" font-weight="bold" text-anchor="start" fill="#000">i</text>
<text x="66.8" y="23.2" font-family="Liberation Sans" font-size="7.7" font-weight="bold" text-anchor="start" fill="#000">Untransplanted</text>
<text x="60" y="32.8" font-family="Liberation Sans" font-size="7.85" font-weight="bold" text-anchor="start" fill="#000">mouse PB (2 wk)</text>
<text x="167.3" y="23.1" font-family="Liberation Sans" font-size="14" font-weight="bold" text-anchor="start" fill="#000" letter-spacing="0.8">ii</text>
<text x="179.6" y="23.5" font-family="Liberation Sans" font-size="7.8" font-weight="bold" text-anchor="start" fill="#000">CD34<tspan font-size="5" dy="-3">+</tspan><tspan dy="3"> transplanted</tspan></text>
<text x="179.8" y="32.5" font-family="Liberation Sans" font-size="7.85" font-weight="bold" text-anchor="start" fill="#000">mouse PB (2 wk)</text>
<text x="285" y="23.1" font-family="Liberation Sans" font-size="14" font-weight="bold" text-anchor="start" fill="#000">iii</text>
<text x="300" y="23.5" font-family="Liberation Sans" font-size="7.8" font-weight="bold" text-anchor="start" fill="#000">CD34<tspan font-size="5" dy="-3">+</tspan><tspan dy="3"> transplanted</tspan></text>
<text x="299.5" y="32.5" font-family="Liberation Sans" font-size="7.85" font-weight="bold" text-anchor="start" fill="#000">mouse PB (8 wk)</text>
<text x="13.3" y="188" font-family="Liberation Sans" font-size="17" font-weight="bold" text-anchor="start" fill="#000">B</text>
<line x1="55" y1="206.5" x2="55" y2="331.3" stroke="#000" stroke-width="1.3"/>
<line x1="54.4" y1="330.7" x2="242.6" y2="330.7" stroke="#000" stroke-width="1.3"/>
<line x1="51.5" y1="330.7" x2="55" y2="330.7" stroke="#000" stroke-width="1.1"/>
<text x="49.6" y="333.4" font-family="Liberation Sans" font-size="8.4" text-anchor="end" fill="#000">0</text>
<line x1="51.5" y1="310.15" x2="55" y2="310.15" stroke="#000" stroke-width="1.1"/>
<text x="49.6" y="312.8" font-family="Liberation Sans" font-size="8.4" text-anchor="end" fill="#000">25</text>
<line x1="51.5" y1="289.59999999999997" x2="55" y2="289.59999999999997" stroke="#000" stroke-width="1.1"/>
<text x="49.6" y="292.3" font-family="Liberation Sans" font-size="8.4" text-anchor="end" fill="#000">50</text>
<line x1="51.5" y1="269.04999999999995" x2="55" y2="269.04999999999995" stroke="#000" stroke-width="1.1"/>
<text x="49.6" y="271.7" font-family="Liberation Sans" font-size="8.4" text-anchor="end" fill="#000">75</text>
<line x1="51.5" y1="248.5" x2="55" y2="248.5" stroke="#000" stroke-width="1.1"/>
<text x="49.6" y="251.2" font-family="Liberation Sans" font-size="8.4" text-anchor="end" fill="#000">100</text>
<line x1="51.5" y1="227.95" x2="55" y2="227.95" stroke="#000" stroke-width="1.1"/>
<text x="49.6" y="230.6" font-family="Liberation Sans" font-size="8.4" text-anchor="end" fill="#000">125</text>
<line x1="51.5" y1="207.39999999999998" x2="55" y2="207.39999999999998" stroke="#000" stroke-width="1.1"/>
<text x="49.6" y="210.1" font-family="Liberation Sans" font-size="8.4" text-anchor="end" fill="#000">150</text>
<line x1="101.7" y1="330.7" x2="101.7" y2="334.3" stroke="#000" stroke-width="1.1"/>
<line x1="195.7" y1="330.7" x2="195.7" y2="334.3" stroke="#000" stroke-width="1.1"/>
<text x="102" y="342.9" font-family="Liberation Sans" font-size="8.9" text-anchor="middle" fill="#000">2 weeks</text>
<text x="195.6" y="342.9" font-family="Liberation Sans" font-size="8.9" text-anchor="middle" fill="#000">8 weeks</text>
<text x="147.2" y="358.2" font-family="Liberation Sans" font-size="9.3" font-weight="bold" text-anchor="middle" fill="#000">Time after transplantation</text>
<text x="19.5" y="268.6" font-family="Liberation Sans" font-size="8.9" font-weight="bold" text-anchor="middle" fill="#000" transform="rotate(-90 19.5 268.6)">% of human platelet</text>
<text x="28.6" y="268.6" font-family="Liberation Sans" font-size="8.8" font-weight="bold" text-anchor="middle" fill="#000" transform="rotate(-90 28.6 268.6)">population activated</text>
<line x1="84.5" y1="312.1" x2="84.5" y2="307.5" stroke="#000" stroke-width="1.3"/>
<line x1="78.2" y1="307.5" x2="90.5" y2="307.5" stroke="#000" stroke-width="1.4"/>
<rect x="72.69999999999999" y="312.70000000000005" width="23.600000000000012" height="17.999999999999964" fill="#000" stroke="#000" stroke-width="1.2"/>
<line x1="119.35" y1="324.3" x2="119.35" y2="321.2" stroke="#000" stroke-width="1.3"/>
<line x1="113.4" y1="321.2" x2="125.8" y2="321.2" stroke="#000" stroke-width="1.4"/>
<rect x="107.69999999999999" y="324.90000000000003" width="23.3" height="5.799999999999978" fill="#a9a9b3" stroke="#000" stroke-width="1.2"/>
<line x1="178.2" y1="214.0" x2="178.2" y2="207.5" stroke="#000" stroke-width="1.3"/>
<line x1="172.1" y1="207.5" x2="183.8" y2="207.5" stroke="#000" stroke-width="1.4"/>
<rect x="166.9" y="214.6" width="22.599999999999984" height="116.1" fill="#000" stroke="#000" stroke-width="1.2"/>
<line x1="213.05" y1="243.4" x2="213.05" y2="236.0" stroke="#000" stroke-width="1.3"/>
<line x1="207.1" y1="236.0" x2="219.3" y2="236.0" stroke="#000" stroke-width="1.4"/>
<rect x="202.0" y="244.0" width="22.099999999999984" height="86.69999999999999" fill="#a9a9b3" stroke="#000" stroke-width="1.2"/>
<path d="M177.6 202.6V200.3H212.8V202.6" stroke="#000" stroke-width="1.4" fill="none"/>
<text x="194.6" y="201.2" font-family="Liberation Sans" font-size="10.5" font-weight="bold" text-anchor="middle" fill="#000">**</text>
<text x="257.6" y="188.4" font-family="Liberation Sans" font-size="16.5" font-weight="bold" text-anchor="start" fill="#000">C</text>
<line x1="277.2" y1="203.3" x2="277.2" y2="328.2" stroke="#000" stroke-width="1.2"/>
<line x1="276.6" y1="327.6" x2="465.2" y2="327.6" stroke="#000" stroke-width="1.2"/>
<line x1="278.0" y1="327.6" x2="278.0" y2="331.6" stroke="#000" stroke-width="1.1"/>
<text x="278.0" y="340.9" font-family="Liberation Sans" font-size="8.4" text-anchor="middle" fill="#000">0</text>
<line x1="294.95" y1="327.6" x2="294.95" y2="331.6" stroke="#000" stroke-width="1.1"/>
<text x="294.9" y="340.9" font-family="Liberation Sans" font-size="8.4" text-anchor="middle" fill="#000">1</text>
<line x1="311.9" y1="327.6" x2="311.9" y2="331.6" stroke="#000" stroke-width="1.1"/>
<text x="311.9" y="340.9" font-family="Liberation Sans" font-size="8.4" text-anchor="middle" fill="#000">2</text>
<line x1="328.85" y1="327.6" x2="328.85" y2="331.6" stroke="#000" stroke-width="1.1"/>
<text x="328.9" y="340.9" font-family="Liberation Sans" font-size="8.4" text-anchor="middle" fill="#000">3</text>
<line x1="345.8" y1="327.6" x2="345.8" y2="331.6" stroke="#000" stroke-width="1.1"/>
<text x="345.8" y="340.9" font-family="Liberation Sans" font-size="8.4" text-anchor="middle" fill="#000">4</text>
<line x1="362.75" y1="327.6" x2="362.75" y2="331.6" stroke="#000" stroke-width="1.1"/>
<text x="362.8" y="340.9" font-family="Liberation Sans" font-size="8.4" text-anchor="middle" fill="#000">5</text>
<line x1="379.7" y1="327.6" x2="379.7" y2="331.6" stroke="#000" stroke-width="1.1"/>
<text x="379.7" y="340.9" font-family="Liberation Sans" font-size="8.4" text-anchor="middle" fill="#000">6</text>
<line x1="396.65" y1="327.6" x2="396.65" y2="331.6" stroke="#000" stroke-width="1.1"/>
<text x="396.6" y="340.9" font-family="Liberation Sans" font-size="8.4" text-anchor="middle" fill="#000">7</text>
<line x1="413.6" y1="327.6" x2="413.6" y2="331.6" stroke="#000" stroke-width="1.1"/>
<text x="413.6" y="340.9" font-family="Liberation Sans" font-size="8.4" text-anchor="middle" fill="#000">8</text>
<line x1="430.54999999999995" y1="327.6" x2="430.54999999999995" y2="331.6" stroke="#000" stroke-width="1.1"/>
<text x="430.5" y="340.9" font-family="Liberation Sans" font-size="8.4" text-anchor="middle" fill="#000">9</text>
<line x1="447.5" y1="327.6" x2="447.5" y2="331.6" stroke="#000" stroke-width="1.1"/>
<text x="447.5" y="340.9" font-family="Liberation Sans" font-size="8.4" text-anchor="middle" fill="#000">10</text>
<line x1="464.45" y1="327.6" x2="464.45" y2="331.6" stroke="#000" stroke-width="1.1"/>
<text x="464.4" y="340.9" font-family="Liberation Sans" font-size="8.4" text-anchor="middle" fill="#000">11</text>
<line x1="273.8" y1="327.6" x2="277.2" y2="327.6" stroke="#000" stroke-width="1.1"/>
<text x="272.9" y="327.6" font-family="Liberation Sans" font-size="8.4" text-anchor="middle" fill="#000" transform="rotate(-90 272.9 327.6)">0</text>
<line x1="273.8" y1="296.5" x2="277.2" y2="296.5" stroke="#000" stroke-width="1.1"/>
<text x="272.9" y="296.5" font-family="Liberation Sans" font-size="8.4" text-anchor="middle" fill="#000" transform="rotate(-90 272.9 296.5)">2</text>
<line x1="273.8" y1="265.40000000000003" x2="277.2" y2="265.40000000000003" stroke="#000" stroke-width="1.1"/>
<text x="272.9" y="265.4" font-family="Liberation Sans" font-size="8.4" text-anchor="middle" fill="#000" transform="rotate(-90 272.9 265.4)">4</text>
<line x1="273.8" y1="234.3" x2="277.2" y2="234.3" stroke="#000" stroke-width="1.1"/>
<text x="272.9" y="234.3" font-family="Liberation Sans" font-size="8.4" text-anchor="middle" fill="#000" transform="rotate(-90 272.9 234.3)">6</text>
<line x1="273.8" y1="203.20000000000002" x2="277.2" y2="203.20000000000002" stroke="#000" stroke-width="1.1"/>
<text x="272.9" y="203.2" font-family="Liberation Sans" font-size="8.4" text-anchor="middle" fill="#000" transform="rotate(-90 272.9 203.2)">8</text>
<text x="262.6" y="264.2" font-family="Liberation Sans" font-size="8.6" font-weight="bold" text-anchor="middle" fill="#000" transform="rotate(-90 262.6 264.2)">% activated human platelets</text>
<text x="310.6" y="357.2" font-family="Liberation Sans" font-size="9.05" font-weight="bold" text-anchor="start" fill="#000">% human platelets (hCD61 <tspan font-size="5" dy="-4">+</tspan><tspan dy="4">)</tspan></text>
<line x1="283.085" y1="323.71250000000003" x2="444.5" y2="220.5" stroke="#000" stroke-width="1.3"/>
<line x1="283.085" y1="324.49" x2="444.8" y2="252.1" stroke="#000" stroke-width="1.3" stroke-dasharray="4,2.5"/>
<rect x="331.2" y="238.7" width="4.6" height="4.6" fill="#000" stroke="none" stroke-width="1"/>
<rect x="334.6" y="247.7" width="4.6" height="4.6" fill="#000" stroke="none" stroke-width="1"/>
<rect x="312.7" y="260.3" width="4.6" height="4.6" fill="#000" stroke="none" stroke-width="1"/>
<rect x="315.7" y="267.6" width="4.6" height="4.6" fill="#000" stroke="none" stroke-width="1"/>
<rect x="331.2" y="273.4" width="4.6" height="4.6" fill="#000" stroke="none" stroke-width="1"/>
<rect x="332.8" y="278.3" width="4.6" height="4.6" fill="#000" stroke="none" stroke-width="1"/>
<rect x="300.5" y="278.7" width="4.6" height="4.6" fill="#000" stroke="none" stroke-width="1"/>
<rect x="310.4" y="278.7" width="4.6" height="4.6" fill="#000" stroke="none" stroke-width="1"/>
<rect x="302.3" y="286.4" width="4.6" height="4.6" fill="#000" stroke="none" stroke-width="1"/>
<rect x="315.7" y="286.4" width="4.6" height="4.6" fill="#000" stroke="none" stroke-width="1"/>
<rect x="300.5" y="291.3" width="4.6" height="4.6" fill="#000" stroke="none" stroke-width="1"/>
<rect x="315.1" y="289.5" width="4.6" height="4.6" fill="#000" stroke="none" stroke-width="1"/>
<rect x="325.8" y="306.3" width="4.6" height="4.6" fill="#000" stroke="none" stroke-width="1"/>
<rect x="332.6" y="319.1" width="4.6" height="4.6" fill="#000" stroke="none" stroke-width="1"/>
<rect x="341.1" y="318.2" width="4.6" height="4.6" fill="#000" stroke="none" stroke-width="1"/>
<rect x="343.1" y="296.9" width="4.6" height="4.6" fill="#000" stroke="none" stroke-width="1"/>
<rect x="365.3" y="252.5" width="4.6" height="4.6" fill="#000" stroke="none" stroke-width="1"/>
<rect x="365.3" y="278.7" width="4.6" height="4.6" fill="#000" stroke="none" stroke-width="1"/>
<rect x="353.6" y="310.1" width="4.6" height="4.6" fill="#000" stroke="none" stroke-width="1"/>
<rect x="373.4" y="303.4" width="4.6" height="4.6" fill="#000" stroke="none" stroke-width="1"/>
<rect x="404.3" y="307.0" width="4.6" height="4.6" fill="#000" stroke="none" stroke-width="1"/>
<rect x="341.5" y="318.2" width="4.6" height="4.6" fill="#000" stroke="none" stroke-width="1"/>
<rect x="436.7" y="218.0" width="4.6" height="4.6" fill="#000" stroke="none" stroke-width="1"/>
<rect x="423.2" y="224.9" width="4.6" height="4.6" fill="#000" stroke="none" stroke-width="1"/>
<rect x="441.9" y="232.3" width="4.6" height="4.6" fill="#000" stroke="none" stroke-width="1"/>
<rect x="282.0" y="318.7" width="4.6" height="4.6" fill="#000" stroke="none" stroke-width="1"/>
<rect x="282.0" y="323.1" width="4.6" height="4.6" fill="#000" stroke="none" stroke-width="1"/>
<rect x="286.3" y="316.9" width="4.6" height="4.6" fill="#000" stroke="none" stroke-width="1"/>
<rect x="285.7" y="321.2" width="4.6" height="4.6" fill="#000" stroke="none" stroke-width="1"/>
<rect x="289.9" y="314.5" width="4.6" height="4.6" fill="#000" stroke="none" stroke-width="1"/>
<rect x="292.2" y="302.5" width="4.6" height="4.6" fill="#000" stroke="none" stroke-width="1"/>
<rect x="296.1" y="302.5" width="4.6" height="4.6" fill="#000" stroke="none" stroke-width="1"/>
<rect x="296.1" y="307.6" width="4.6" height="4.6" fill="#000" stroke="none" stroke-width="1"/>
<rect x="300.1" y="299.0" width="4.6" height="4.6" fill="#000" stroke="none" stroke-width="1"/>
<rect x="304.1" y="300.8" width="4.6" height="4.6" fill="#000" stroke="none" stroke-width="1"/>
<rect x="308.7" y="296.2" width="4.6" height="4.6" fill="#000" stroke="none" stroke-width="1"/>
<rect x="311.7" y="294.4" width="4.6" height="4.6" fill="#000" stroke="none" stroke-width="1"/>
<rect x="316.4" y="299.3" width="4.6" height="4.6" fill="#000" stroke="none" stroke-width="1"/>
<rect x="302.2" y="312.7" width="4.6" height="4.6" fill="#000" stroke="none" stroke-width="1"/>
<rect x="302.2" y="316.2" width="4.6" height="4.6" fill="#000" stroke="none" stroke-width="1"/>
<rect x="300.7" y="323.2" width="4.6" height="4.6" fill="#000" stroke="none" stroke-width="1"/>
<rect x="295.2" y="324.5" width="4.6" height="4.6" fill="#000" stroke="none" stroke-width="1"/>
<rect x="298.2" y="311.7" width="4.6" height="4.6" fill="#000" stroke="none" stroke-width="1"/>
<rect x="318.6" y="316.9" width="4.6" height="4.6" fill="#000" stroke="none" stroke-width="1"/>
<rect x="318.0" y="299.0" width="4.6" height="4.6" fill="#000" stroke="none" stroke-width="1"/>
<rect x="318.7" y="303.7" width="4.6" height="4.6" fill="#000" stroke="none" stroke-width="1"/>
<rect x="315.1" y="289.5" width="4.6" height="4.6" fill="#000" stroke="none" stroke-width="1"/>
<rect x="319.1" y="318.2" width="4.6" height="4.6" fill="#000" stroke="none" stroke-width="1"/>
<rect x="305.2" y="294.7" width="4.6" height="4.6" fill="#000" stroke="none" stroke-width="1"/>
<rect x="293.7" y="305.7" width="4.6" height="4.6" fill="#000" stroke="none" stroke-width="1"/>
<rect x="298.2" y="304.2" width="4.6" height="4.6" fill="#000" stroke="none" stroke-width="1"/>
<rect x="298.7" y="308.2" width="4.6" height="4.6" fill="#000" stroke="none" stroke-width="1"/>
<rect x="302.2" y="298.7" width="4.6" height="4.6" fill="#000" stroke="none" stroke-width="1"/>
<rect x="306.7" y="297.7" width="4.6" height="4.6" fill="#000" stroke="none" stroke-width="1"/>
<circle cx="333.5" cy="271.6" r="2.25" fill="#fff" stroke="#000" stroke-width="1.25"/>
<circle cx="318" cy="278" r="2.25" fill="#fff" stroke="#000" stroke-width="1.25"/>
<circle cx="336.2" cy="298.5" r="2.25" fill="#fff" stroke="#000" stroke-width="1.25"/>
<circle cx="333.5" cy="310.7" r="2.25" fill="#fff" stroke="#000" stroke-width="1.25"/>
<circle cx="334.9" cy="306.6" r="2.25" fill="#fff" stroke="#000" stroke-width="1.25"/>
<circle cx="343" cy="312" r="2.25" fill="#fff" stroke="#000" stroke-width="1.25"/>
<circle cx="344.3" cy="306" r="2.25" fill="#fff" stroke="#000" stroke-width="1.25"/>
<circle cx="367.6" cy="283.7" r="2.25" fill="#fff" stroke="#000" stroke-width="1.25"/>
<circle cx="355.5" cy="293.8" r="2.25" fill="#fff" stroke="#000" stroke-width="1.25"/>
<circle cx="345.4" cy="306" r="2.25" fill="#fff" stroke="#000" stroke-width="1.25"/>
<circle cx="343.4" cy="312" r="2.25" fill="#fff" stroke="#000" stroke-width="1.25"/>
<circle cx="375.7" cy="309.3" r="2.25" fill="#fff" stroke="#000" stroke-width="1.25"/>
<circle cx="406.3" cy="271.9" r="2.25" fill="#fff" stroke="#000" stroke-width="1.25"/>
<circle cx="428.6" cy="217.3" r="2.25" fill="#fff" stroke="#000" stroke-width="1.25"/>
<circle cx="444.2" cy="229.6" r="2.25" fill="#fff" stroke="#000" stroke-width="1.25"/>
<circle cx="444.4" cy="295.2" r="2.25" fill="#fff" stroke="#000" stroke-width="1.25"/>
<circle cx="304.4" cy="310.3" r="2.25" fill="#fff" stroke="#000" stroke-width="1.25"/>
<circle cx="314.2" cy="308.3" r="2.25" fill="#fff" stroke="#000" stroke-width="1.25"/>
<circle cx="314.5" cy="312.3" r="2.25" fill="#fff" stroke="#000" stroke-width="1.25"/>
<circle cx="310.8" cy="316.9" r="2.25" fill="#fff" stroke="#000" stroke-width="1.25"/>
<circle cx="315.4" cy="316.9" r="2.25" fill="#fff" stroke="#000" stroke-width="1.25"/>
<circle cx="304.1" cy="322.7" r="2.25" fill="#fff" stroke="#000" stroke-width="1.25"/>
<circle cx="298" cy="316.4" r="2.25" fill="#fff" stroke="#000" stroke-width="1.25"/>
<circle cx="299" cy="320.4" r="2.25" fill="#fff" stroke="#000" stroke-width="1.25"/>
<circle cx="321.4" cy="306" r="2.25" fill="#fff" stroke="#000" stroke-width="1.25"/>
<line x1="459.4" y1="208.8" x2="475" y2="208.8" stroke="#000" stroke-width="1.3"/>
<rect x="464.4" y="205.4" width="3.8" height="3.8" fill="#000" stroke="none" stroke-width="1"/>
<text x="478.2" y="210.6" font-family="Liberation Sans" font-size="8.3" text-anchor="start" fill="#000">CRP</text>
<text x="466" y="223.1" font-family="Liberation Sans" font-size="6.6" text-anchor="start" fill="#222">r = 0.787</text>
<text x="465.3" y="231.5" font-family="Liberation Sans" font-size="6.9" text-anchor="start" fill="#222"><tspan font-style="italic">P</tspan> &lt; .0001</text>
<line x1="461.3" y1="246.3" x2="472" y2="246.3" stroke="#000" stroke-width="1.3"/>
<line x1="473.8" y1="246.3" x2="476.5" y2="246.3" stroke="#000" stroke-width="1.3"/>
<circle cx="466.9" cy="246.2" r="2.3" fill="#fff" stroke="#000" stroke-width="1.1"/>
<text x="480" y="248.8" font-family="Liberation Sans" font-size="8.2" text-anchor="start" fill="#000">TRAP</text>
<text x="466" y="258.8" font-family="Liberation Sans" font-size="6.6" text-anchor="start" fill="#222">r = 0.797</text>
<text x="465.3" y="267.5" font-family="Liberation Sans" font-size="6.9" text-anchor="start" fill="#222"><tspan font-style="italic">P</tspan> &lt; .0001</text>
<text x="12.5" y="393.4" font-family="Liberation Sans" font-size="17" font-weight="bold" text-anchor="start" fill="#000">D</text>
<line x1="28.7" y1="415" x2="28.7" y2="528.8" stroke="#000" stroke-width="1.6"/>
<polygon points="28.4,410.8 25.9,416 30.9,416" fill="#000"/>
<line x1="28" y1="528.5" x2="514" y2="528.8" stroke="#000" stroke-width="1.6"/>
<polygon points="520.5,529 514.5,526.6 514.5,531.4" fill="#000"/>
<text x="18.3" y="469.3" font-family="Liberation Sans" font-size="8.2" font-weight="bold" text-anchor="middle" fill="#000" transform="rotate(-90 18.3 469.3)">h CD62_PE</text>
<text x="274" y="542.7" font-family="Liberation Sans" font-size="8.2" font-weight="bold" text-anchor="middle" fill="#000">mCD62P_FITC</text>
<text x="47.9" y="517.5" font-family="Liberation Sans" font-size="4.8" text-anchor="middle" fill="#888">10<tspan font-size="3.4" dy="-1.6">0</tspan></text>
<text x="72.3" y="517.5" font-family="Liberation Sans" font-size="4.8" text-anchor="middle" fill="#888">10<tspan font-size="3.4" dy="-1.6">1</tspan></text>
<text x="96.6" y="517.5" font-family="Liberation Sans" font-size="4.8" text-anchor="middle" fill="#888">10<tspan font-size="3.4" dy="-1.6">2</tspan></text>
<text x="121.0" y="517.5" font-family="Liberation Sans" font-size="4.8" text-anchor="middle" fill="#888">10<tspan font-size="3.4" dy="-1.6">3</tspan></text>
<text x="145.4" y="517.5" font-family="Liberation Sans" font-size="4.8" text-anchor="middle" fill="#888">10<tspan font-size="3.4" dy="-1.6">4</tspan></text>
<text x="43.7" y="508.6" font-family="Liberation Sans" font-size="4.8" text-anchor="middle" fill="#888" transform="rotate(-90 43.7 508.6)">10<tspan font-size="3.4" dy="-1.6">0</tspan></text>
<text x="43.7" y="484.2" font-family="Liberation Sans" font-size="4.8" text-anchor="middle" fill="#888" transform="rotate(-90 43.7 484.2)">10<tspan font-size="3.4" dy="-1.6">1</tspan></text>
<text x="43.7" y="459.8" font-family="Liberation Sans" font-size="4.8" text-anchor="middle" fill="#888" transform="rotate(-90 43.7 459.8)">10<tspan font-size="3.4" dy="-1.6">2</tspan></text>
<text x="43.7" y="435.5" font-family="Liberation Sans" font-size="4.8" text-anchor="middle" fill="#888" transform="rotate(-90 43.7 435.5)">10<tspan font-size="3.4" dy="-1.6">3</tspan></text>
<text x="43.7" y="411.1" font-family="Liberation Sans" font-size="4.8" text-anchor="middle" fill="#888" transform="rotate(-90 43.7 411.1)">10<tspan font-size="3.4" dy="-1.6">4</tspan></text>
<text x="170.7" y="517.5" font-family="Liberation Sans" font-size="4.8" text-anchor="middle" fill="#888">10<tspan font-size="3.4" dy="-1.6">0</tspan></text>
<text x="195.1" y="517.5" font-family="Liberation Sans" font-size="4.8" text-anchor="middle" fill="#888">10<tspan font-size="3.4" dy="-1.6">1</tspan></text>
<text x="219.4" y="517.5" font-family="Liberation Sans" font-size="4.8" text-anchor="middle" fill="#888">10<tspan font-size="3.4" dy="-1.6">2</tspan></text>
<text x="243.8" y="517.5" font-family="Liberation Sans" font-size="4.8" text-anchor="middle" fill="#888">10<tspan font-size="3.4" dy="-1.6">3</tspan></text>
<text x="268.2" y="517.5" font-family="Liberation Sans" font-size="4.8" text-anchor="middle" fill="#888">10<tspan font-size="3.4" dy="-1.6">4</tspan></text>
<text x="166.5" y="508.6" font-family="Liberation Sans" font-size="4.8" text-anchor="middle" fill="#888" transform="rotate(-90 166.5 508.6)">10<tspan font-size="3.4" dy="-1.6">0</tspan></text>
<text x="166.5" y="484.2" font-family="Liberation Sans" font-size="4.8" text-anchor="middle" fill="#888" transform="rotate(-90 166.5 484.2)">10<tspan font-size="3.4" dy="-1.6">1</tspan></text>
<text x="166.5" y="459.8" font-family="Liberation Sans" font-size="4.8" text-anchor="middle" fill="#888" transform="rotate(-90 166.5 459.8)">10<tspan font-size="3.4" dy="-1.6">2</tspan></text>
<text x="166.5" y="435.5" font-family="Liberation Sans" font-size="4.8" text-anchor="middle" fill="#888" transform="rotate(-90 166.5 435.5)">10<tspan font-size="3.4" dy="-1.6">3</tspan></text>
<text x="166.5" y="411.1" font-family="Liberation Sans" font-size="4.8" text-anchor="middle" fill="#888" transform="rotate(-90 166.5 411.1)">10<tspan font-size="3.4" dy="-1.6">4</tspan></text>
<text x="288.6" y="517.3" font-family="Liberation Sans" font-size="4.8" text-anchor="middle" fill="#888">10<tspan font-size="3.4" dy="-1.6">0</tspan></text>
<text x="313.0" y="517.3" font-family="Liberation Sans" font-size="4.8" text-anchor="middle" fill="#888">10<tspan font-size="3.4" dy="-1.6">1</tspan></text>
<text x="337.3" y="517.3" font-family="Liberation Sans" font-size="4.8" text-anchor="middle" fill="#888">10<tspan font-size="3.4" dy="-1.6">2</tspan></text>
<text x="361.7" y="517.3" font-family="Liberation Sans" font-size="4.8" text-anchor="middle" fill="#888">10<tspan font-size="3.4" dy="-1.6">3</tspan></text>
<text x="386.1" y="517.3" font-family="Liberation Sans" font-size="4.8" text-anchor="middle" fill="#888">10<tspan font-size="3.4" dy="-1.6">4</tspan></text>
<text x="284.4" y="508.4" font-family="Liberation Sans" font-size="4.8" text-anchor="middle" fill="#888" transform="rotate(-90 284.4 508.4)">10<tspan font-size="3.4" dy="-1.6">0</tspan></text>
<text x="284.4" y="484.1" font-family="Liberation Sans" font-size="4.8" text-anchor="middle" fill="#888" transform="rotate(-90 284.4 484.1)">10<tspan font-size="3.4" dy="-1.6">1</tspan></text>
<text x="284.4" y="459.7" font-family="Liberation Sans" font-size="4.8" text-anchor="middle" fill="#888" transform="rotate(-90 284.4 459.7)">10<tspan font-size="3.4" dy="-1.6">2</tspan></text>
<text x="284.4" y="435.3" font-family="Liberation Sans" font-size="4.8" text-anchor="middle" fill="#888" transform="rotate(-90 284.4 435.3)">10<tspan font-size="3.4" dy="-1.6">3</tspan></text>
<text x="284.4" y="411.0" font-family="Liberation Sans" font-size="4.8" text-anchor="middle" fill="#888" transform="rotate(-90 284.4 411.0)">10<tspan font-size="3.4" dy="-1.6">4</tspan></text>
<text x="409.0" y="517.5" font-family="Liberation Sans" font-size="4.8" text-anchor="middle" fill="#888">10<tspan font-size="3.4" dy="-1.6">0</tspan></text>
<text x="433.4" y="517.5" font-family="Liberation Sans" font-size="4.8" text-anchor="middle" fill="#888">10<tspan font-size="3.4" dy="-1.6">1</tspan></text>
<text x="457.8" y="517.5" font-family="Liberation Sans" font-size="4.8" text-anchor="middle" fill="#888">10<tspan font-size="3.4" dy="-1.6">2</tspan></text>
<text x="482.1" y="517.5" font-family="Liberation Sans" font-size="4.8" text-anchor="middle" fill="#888">10<tspan font-size="3.4" dy="-1.6">3</tspan></text>
<text x="506.5" y="517.5" font-family="Liberation Sans" font-size="4.8" text-anchor="middle" fill="#888">10<tspan font-size="3.4" dy="-1.6">4</tspan></text>
<text x="404.8" y="508.6" font-family="Liberation Sans" font-size="4.8" text-anchor="middle" fill="#888" transform="rotate(-90 404.8 508.6)">10<tspan font-size="3.4" dy="-1.6">0</tspan></text>
<text x="404.8" y="484.2" font-family="Liberation Sans" font-size="4.8" text-anchor="middle" fill="#888" transform="rotate(-90 404.8 484.2)">10<tspan font-size="3.4" dy="-1.6">1</tspan></text>
<text x="404.8" y="459.8" font-family="Liberation Sans" font-size="4.8" text-anchor="middle" fill="#888" transform="rotate(-90 404.8 459.8)">10<tspan font-size="3.4" dy="-1.6">2</tspan></text>
<text x="404.8" y="435.4" font-family="Liberation Sans" font-size="4.8" text-anchor="middle" fill="#888" transform="rotate(-90 404.8 435.4)">10<tspan font-size="3.4" dy="-1.6">3</tspan></text>
<text x="404.8" y="411.0" font-family="Liberation Sans" font-size="4.8" text-anchor="middle" fill="#888" transform="rotate(-90 404.8 411.0)">10<tspan font-size="3.4" dy="-1.6">4</tspan></text>
<path d="M50 505h1m-2 5.5h1m12 -5h1m-8 2.5h1m-3 -13.5h1m12 9.5h1m-6 6h1m11 -1.5h1m-14.5 -14.5h1m10 15h1m-16 1h1m-2.5 -6h1m-8.5 0h1m12 3h1m4.5 3.5h1m-15.5 -16.5h1m-3 11h1m0 -1.5h1m16.5 4.5h1m0 -8h1m-6 6.5h1m-10 0.5h1m-4.5 3.5h1m7 -1.5h1m4 -1h1m4.5 2h1m-15.5 -6.5h1m8.5 2.5h1m1.5 -0.5h1m-5 2.5h1m10 -5h1m-28 -3h1m14.5 7.5h1m-16 -1h1m1 2h1m7.5 -0.5h1m-7 1.5h1m17 -10h1m1.5 6.5h1m0 -6h1m-21 8.5h1m4.5 -5h1m14.5 5.5h1m-5 -14h1m-19 11.5h1m-5.5 -2.5h1m17.5 5h1m-5.5 -7.5h1m7 -12.5h1m-11.5 0.5h1m-3.5 8.5h1m-7.5 11h1m19 -8.5h1m-3 5h1m3.5 3h1m-7.5 0.5h1m-7.5 -1h1m13 -3h1m-22 2h1m-7.5 1h1m7.5 2h1m2 -0.5h1m15 1h1m-22 -4h1m-4 4.5h1m15 -12.5h1m-15 -1h1m4 13.5h1m-4 -5h1m16 -5.5h1m-3.5 -1h1m-21.5 0h1m3 2h1m21.5 6.5h1m-23 3h1m18.5 -7.5h1m-16 7h1m-4 -7.5h1m18.5 -2.5h1m-23 10h1m15.5 -4h1m-7.5 4.5h1m-1 -1.5h1m-12.5 -4h1m2.5 5h1m-4.5 -6.5h1m9.5 4.5h1m6 -1.5h1m-4.5 -4.5h1m4.5 5h1m-14.5 -0.5h1m16 -2h1m-20.5 5.5h1m0 -9h1m11 5h1m-2 -5.5h1m-11.5 8h1m-5 -9.5h1m20.5 8.5h1m-1 2.5h1m-5 -4h1m-3 4h1m2 -2.5h1m2.5 3h1m-14 -9.5h1m-1 5h1m9.5 3h1m2.5 -2.5h1m-28 -4.5h1m-1 4h1m26 -1.5h1m-2 2h1m-5.5 -6.5h1m3.5 -4h1m-8.5 -5.5h1m-16.5 17.5h1m18.5 -10.5h1m-22 11h1m18.5 -8h1m-2.5 3h1m1 6h1m-15.5 0h1m8.5 -7h1m-12 0.5h1m-0.5 5h1m7 -3h1m0 5h1m-6 -13h1m-0.5 0h1m14 13.5h1m-22.5 -2h1m12 -3h1m-2.5 -0.5h1m-12 -2.5h1m-0.5 2.5h1m2 4.5h1m4 -14.5h1m-1 11.5h1m4.5 -1.5h1m-5 -3.5h1m-4.5 6.5h1m6 0h1m-7 -13.5h1m8 2.5h1m-16.5 6.5h1m-3 6h1m7 -7.5h1m11 -1h1m-23.5 6.5h1m7.5 -5.5h1m-0.5 0h1m6 -2h1m2.5 8.5h1m-8.5 0.5h1m2 0h1m-15.5 -4.5h1m2 3h1m-2 -7h1m-4 10h1m11.5 -11.5h1m-0.5 10h1m1.5 -6.5h1m8.5 -1h1m-15 7.5h1m-10 -5.5h1m17 -7.5h1m4.5 8h1m-24.5 -4h1m7 -4h1m7 13h1m-12 -6h1m10.5 4h1m-0.5 1.5h1m-0.5 -1h1m-13 1h1m7 -10h1m-2 8h1m-8.5 -12.5h1m8.5 9.5h1m-15 -1h1m0 1.5h1m9 3.5h1m-10.5 1.5h1m11.5 -0.5h1m4.5 0.5h1m-16.5 -6.5h1m-1.5 6.5h1m16.5 -7.5h1m-15.5 0.5h1m6 6h1m-6.5 1.5h1m4.5 -0.5h1m-6 0h1m13.5 1h1m-20 -8.5h1m11 7h1m-11.5 -4.5h1m-1.5 5.5h1m2.5 -20.5h1m0 19.5h1m4 -3.5h1m9 -1h1m-14.5 -4.5h1m12 3h1m-3.5 1h1m0 7h1m-20.5 -0.5h1m6.5 -2h1m-3 -2.5h1m-3 -3h1m1 5h1m-10 -6h1m9 -10h1m-5.5 15h1m10.5 0h1m-14 1h1m18 -0.5h1m-17 -6.5h1m13 4.5h1m-14.5 4.5h1m2.5 -2.5h1m-13 2h1m23.5 -3h1m-20.5 1h1m9 -4.5h1m4.5 -3h1m-11.5 9.5h1m7 -4.5h1m6.5 4h1m-23.5 -1h1m8 2.5h1m-1 -7.5h1m-6.5 7.5h1m11 -9.5h1m-7 3.5h1m1 -9.5h1m-7.5 14h1m9 -10.5h1m-8.5 12h1m-7.5 -14h1m6.5 13h1m-0.5 -0.5h1m5 0.5h1m2 -1h1m-13.5 -14h1m-4.5 11h1m19.5 3h1m-6 0h1m-2.5 -3.5h1m-18.5 4h1m1 -7h1m9.5 2.5h1m-14.5 2.5h1m23.5 3h1m-17 -11.5h1m-11 10.5h1m13.5 -1.5h1m-4 -14.5h1m1.5 14h1m3 -2.5h1m-16.5 2.5h1m8.5 -9h1m1 9.5h1m-15 -1.5h1m-1 -7h1m19 11.5h1m-1.5 -5h1m-10 3.5h1m-9 -11h1m2 5.5h1m17.5 -6.5h1m-10.5 2.5h1m8.5 3.5h1m-9.5 2.5h1m10 -4h1m-6 0.5h1m-9 5h1m3 2.5h1m-17 -6.5h1m-2.5 3h1m9 -1h1m7.5 -1.5h1m-16.5 0h1m3 3h1m17 4h1m-26.5 -7h1m22.5 -2.5h1m-15.5 3h1m16 -3.5h1m-24 6.5h1m7 2.5h1m-3.5 -5h1m2 -1.5h1m-9.5 7.5h1m1.5 -1h1m16 0.5h1m-8.5 0h1m-11.5 -6h1m13 -5h1m-13.5 1h1m20.5 10h1m-24 0h1m2 -5.5h1m13 1.5h1m-15 -10h1m9.5 1h1m-14.5 2h1m-5 9h1m13.5 -0.5h1m-16.5 0.5h1m4.5 -4h1m20 6.5h1m-9.5 -1h1m-4 -10h1m3.5 -5.5h1m-4.5 15h1m2.5 -5.5h1m-9.5 -2.5h1m12.5 2.5h1m-21.5 0h1m13.5 1h1m-9 5.5h1m-10 -1h1m7 -0.5h1m1 2.5h1m-5 -6h1m13 1h1m-4 0h1m-3 -3.5h1m-12 6h1m14 1h1m-16 -10.5h1m9.5 -1h1m-7.5 10h1m8.5 3h1m4.5 -14h1m-12 5.5h1m-0.5 4h1m-5.5 0h1m12.5 -2h1m-20 -4.5h1m3.5 6.5h1m-2.5 -6.5h1m13 2.5h1m-17 5.5h1m16 -9h1m2 9h1m-19.5 -7.5h1m1 -2.5h1m-4 13h1m12.5 -9.5h1m-1.5 -14h1m3.5 23h1m2 -18h1m-22 10h1m-4.5 7.5h1m-1.5 -9h1m3.5 7h1m1 -8h1m-2 9.5h1m10.5 -10h1m-1 2.5h1m-13.5 4h1m10 4.5h1m-3.5 -12.5h1m6 0h1m-20.5 5.5h1m23 5h1m-24.5 -7h1m3.5 -1h1m11.5 10h1m-19 -7h1m6.5 -4.5h1m11.5 9h1m-1 1h1m2 1h1m-19 -1.5h1m10.5 0h1m-18.5 0h1m0.5 -1h1m4 -6h1m16.5 2h1m-17.5 2.5h1m-3 -2.5h1m-1 7h1m-5 -2h1m23.5 -1h1m-24.5 -1h1m7 -8h1m10 2h1m-9.5 0h1m3 6h1m0 -1h1m-3.5 -0.5h1m-14.5 3h1m10 1h1m-5 1h1m16 -3.5h1m-3.5 1.5h1m-5 -6h1m6.5 -5h1m-8.5 10h1m6 0h1m-1 -17h1m-10.5 17h1m-5.5 -2.5h1m-11 -3h1m20 8.5h1m-2.5 -4.5h1m-5.5 -2.5h1m5.5 6h1m-5.5 -13.5h1m-6 15h1m6.5 -6h1m-21 4.5h1m24.5 -9h1m-4 -4h1m-18.5 13.5h1m13 -1h1m-15.5 0.5h1m14 -9h1m-19 5h1m11 -2h1m-13 6.5h1m19 -4.5h1m-24 3h1m25 0h1m-8.5 -9h1m-11.5 12h1m11.5 -0.5h1m-14.5 -6h1m4.5 -4h1m-2.5 1.5h1m9.5 -5h1m-7 7h1m7 1.5h1m0.5 1h1m-22.5 2.5h1m12 -2.5h1m-10 2h1m16.5 -10.5h1m0.5 5h1m-10.5 5h1m-9 -17.5h1m-6 10h1m10.5 3h1m7.5 5h1m-12 -8.5h1m-11 -10.5h1m2 10h1m18 5h1m-25.5 -1h1m13.5 -6.5h1m-2.5 11h1m-4 -7h1m-9.5 9h1m3.5 -1h1m4 -4.5h1m6 0h1m1 -3.5h1m-12 9h1m5 0h1m4 -14.5h1m-1.5 12h1m-5 -10.5h1m-13.5 10h1m3 3h1m0.5 -8h1m-3 5h1m13 -13h1m-8.5 11.5h1m6 -1.5h1m-20 -8h1m22.5 14h1m-25.5 -5.5h1m16 -4h1m8.5 6.5h1m-19.5 -16h1m-2 17h1m-1.5 3h1m16 -3h1m-8 -1h1m8 -2.5h1m-21.5 -0.5h1m12 2.5h1m-1.5 1h1m6.5 -20h1m-4.5 20.5h1m-0.5 2.5h1m-17.5 -3.5h1m14.5 3h1m-21.5 0.5h1m12.5 -9.5h1m6.5 9h1m-21.5 -1h1m20.5 -9.5h1m-17.5 4.5h1m-4.5 0h1m9.5 6h1m10.5 -6.5h1m-11.5 -5.5h1m6.5 9.5h1m-22 -4h1m14 -12.5h1m-3.5 13.5h1m1 5.5h1m5.5 -15h1m-11.5 13.5h1m7 -4h1m3.5 -2h1m-12 -3.5h1m9.5 4h1m-8.5 -5h1m-13.5 6.5h1m20 5h1m-15 -7h1m-8 -1h1m-4.5 7.5h1m17 -5.5h1m-0.5 1h1m-11 0h1m0 6.5h1m6.5 -9.5h1m6 6.5h1m-24 -14.5h1m-1.5 5.5h1m18.5 1.5h1m4.5 9h1m-15 -5.5h1m-11.5 -2.5h1m17 8h1m-20 -16h1m22.5 11h1m-8 4.5h1m-4.5 -9.5h1m13 4h1m-14 5h1m5.5 -6h1m-6.5 4.5h1m4 -6h1m-8.5 3.5h1m-12 -1.5h1m3 1h1m19.5 7h1m-4.5 -7h1m-1 6.5h1m-1 -3.5h1m-7 -8h1m2.5 -7h1m-0.5 13.5h1m-16.5 3h1m14.5 -0.5h1m-17.5 -1.5h1m21 2h1m-26 -4.5h1m-1 -9.5h1m11 14h1m-3 -1h1m-4.5 2h1m-1.5 -7.5h1m17 6h1m-16.5 1h1m11 -1.5h1m-18 1.5h1m18.5 -5.5h1m-16.5 -1h1m16 -3.5h1m-19 8.5h1m17.5 0h1m-27 0h1m14 -1.5h1m-3.5 4.5h1m1 -5.5h1m10 4.5h1m-10 -1h1m3 -4.5h1m-16 -0.5h1m19 -12.5h1m-4.5 17h1m-2.5 -4.5h1m-16.5 -6h1m0 12h1m6 -4.5h1m0.5 -13h1m-12.5 13.5h1m3 0h1m14 2h1m-18.5 -10h1m-3.5 1h1m20.5 10.5h1m-18 -4.5h1m19 -0.5h1m-5 0h1m1 0.5h1m-12.5 2.5h1m-7 0.5h1m3.5 1.5h1m4.5 1h1m-13 -5h1m1 -0.5h1m-3.5 4.5h1m0.5 -1h1m14 -1h1m-16 -6.5h1m-2.5 -4h1m1 10h1m13.5 4h1m-18.5 -2.5h1m5 -2h1m-6 -6h1m14.5 8h1m-20.5 -2.5h1m11.5 5h1m-10 -1.5h1m13 -8h1m-15 8h1m-0.5 2h1m9 -3.5h1m-13 3h1m-1.5 -5h1m1 5.5h1m2.5 -0.5h1m2.5 -1.5h1m-1 1.5h1m4 -2.5h1m-13 -8.5h1m0.5 -0.5h1m-0.5 0h1m12.5 8.5h1m-17.5 2.5h1m13 -0.5h1m7.5 0.5h1m-24 -0.5h1m6 -10h1m12 6h1m-14.5 4h1m15.5 -3h1m-23 2.5h1m-1.5 -3h1m11 2h1m-9 -12.5h1m12 6.5h1m-0.5 2.5h1m2.5 6h1m-16 -17.5h1m15.5 10.5h1m-19.5 -2h1m5.5 8.5h1m11.5 -12h1m-19.5 1.5h1m-5.5 5h1m3 2h1m1.5 1.5h1m15 -16h1m-8 14.5h1m0 -3.5h1m4 -5h1m-20 10h1m-1 1.5h1m-5 -1h1m16 1h1m8 -11h1m-14.5 12h1m3 -2h1m-15.5 0h1m21 -1.5h1m-18.5 3h1m3.5 -1h1m2 -15.5h1m-14.5 -0.5h1m8.5 12h1m-5.5 -1.5h1m16 2.5h1m-4 -1h1m-5.5 2.5h1m-14 -7h1m16.5 -7.5h1m2.5 17h1m-13.5 -12h1m-12.5 10h1m17 -21.5h1m-6.5 5.5h1m-14 15h1m8 -5.5h1m10.5 8.5h1m4.5 -3.5h1m-6.5 -0.5h1m-2.5 -3.5h1m1.5 8h1m-5 -3.5h1m-4.5 0h1m-2 0h1m-6 2.5h1m8 -1h1m9 0.5h1m-27.5 1h1m22.5 -12h1m-19 5.5h1m3.5 1.5h1m0.5 3h1m-13 -6.5h1m11 3h1m0 4.5h1m-5.5 -1.5h1m5.5 -1h1m-1.5 4h1m-4.5 -1.5h1m-5.5 -12.5h1m9.5 9h1m3.5 -8h1m-6 2.5h1m-14.5 5.5h1m-0.5 0h1m6.5 -2.5h1m-3 -6h1m-2.5 0.5h1m-1.5 12h1m-2 1h1m14.5 -3h1m-13 -11h1m-5.5 4.5h1m-6 9.5h1m20 -1.5h1m-11.5 -2h1m-2 -5h1m8 1.5h1m4 2.5h1m-14 -4.5h1m3 6h1m10.5 -1h1m-20 1h1m5 3.5h1m9.5 -0.5h1m-1.5 -4h1m-5 3h1m1 0.5h1m4 -14h1m-25 14h1m20 -3h1m3.5 3.5h1m-17.5 -2.5h1m5.5 -1.5h1m-2 4h1m7 -4.5h1m-11.5 3h1m6.5 -7.5h1m-9.5 2h1m12.5 -10h1m-21 7h1m0.5 8h1m0 2h1m4 -3h1m-10.5 1h1m7.5 1.5h1m-5.5 -11.5h1m-1 3.5h1m-6.5 6.5h1m20.5 -2h1m-2 4h1m-17.5 -1.5h1m11 -1h1m-18.5 -6h1m1.5 5.5h1m2.5 0.5h1m17.5 -0.5h1m-16.5 1.5h1m-3 -0.5h1m0 -7h1m12 8h1m-1.5 -3.5h1m-4.5 0h1m-18 3h1m7 -0.5h1m9.5 -4.5h1m-11.5 -3.5h1m10 -3.5h1m-4.5 7.5h1m-16 4.5h1m0 -3h1m13.5 3.5h1m-1.5 -3.5h1m-10 -1h1m1 6h1m-10.5 -7.5h1m20 -6.5h1m-18 9h1m3.5 1h1m-4.5 -0.5h1m19.5 -5.5h1m0 6.5h1m-10 -3.5h1m5.5 4.5h1m-15.5 -1h1m-11 -0.5h1m25.5 -1.5h1m-21.5 -1h1m-4.5 0.5h1m-1 -10.5h1m-3.5 2h1m8.5 6.5h1m3.5 1.5h1m-7.5 3h1m11 -11.5h1m-13 12h1m11.5 -1h1m-14 -7.5h1m13 6.5h1m-3 -1h1m-6 -1.5h1m12 6.5h1m-24.5 1h1m8 -8h1m-3.5 5h1m12 1h1m-13.5 -2h1m-11.5 3.5h1m23.5 -7h1m-15 5.5h1m-9.5 1h1m12.5 -3.5h1m9 -0.5h1m-13 4h1m11 -1.5h1m-10.5 -5h1m4.5 -6h1m-15 10.5h1m3.5 -1.5h1m4.5 -2h1m-12 -5h1m9 2.5h1m8.5 4h1m-5.5 2.5h1m-3 -0.5h1m-21 -2h1m1 0.5h1m-1 -3.5h1m20 6h1m-3.5 0h1m0 -2.5h1m-14 -16.5h1m11.5 18.5h1m-20.5 -3.5h1m15.5 2.5h1m-4.5 -8h1m11.5 -0.5h1m-9 -9.5h1m-8.5 12h1m-7 9.5h1m-2 -8h1m1 6.5h1m5 -6.5h1m8 2.5h1m-4.5 -2.5h1m-5 2.5h1m10.5 2h1m-11.5 -4.5h1m4 -4.5h1m-4 2h1m3.5 9h1m5 0h1m-19.5 -5.5h1m11.5 5h1m-20.5 -4.5h1m-1.5 5.5h1m20.5 -8.5h1m1 5.5h1m-10.5 3h1m4 -1.5h1m-4 -3h1m6.5 -7.5h1m-1 10h1m-0.5 -4.5h1m-21 4.5h1m0 -2.5h1m-4 -0.5h1m7 3h1m-8.5 -1h1m7.5 -3.5h1m0.5 5.5h1m-12.5 0.5h1m-3 -1h1m20.5 -3.5h1m-7.5 4h1m5.5 -6.5h1m-16.5 1.5h1m-4 -3h1m16.5 3.5h1m-21 4.5h1m22.5 -5h1m-14 4.5h1m9 -5.5h1m-2 -7h1m-5.5 8h1m-10 5h1m8 -9.5h1m-0.5 7.5h1m-10.5 -0.5h1m-2.5 -1h1m4 3.5h1m2.5 1h1m-8 -2.5h1m10.5 -9.5h1m-16.5 11.5h1m23.5 -6.5h1m-14.5 -5h1m4.5 10.5h1m-11.5 -6.5h1m-7.5 2h1m9 5h1m13.5 -19.5h1m-21.5 17h1m7 2.5h1m6.5 -2.5h1m-15.5 3h1m-7.5 -1h1m3 2.5h1m9 -2.5h1m9 0.5h1m-7.5 -2h1m-4.5 -12h1m-3 12h1m10.5 2.5h1m-12.5 -2h1m13 1.5h1m-17 2h1m7 -10h1m8 2h1m-22.5 -2.5h1m12.5 9h1m-11 -4.5h1m-3.5 2h1m14.5 3h1m-11 0.5h1m-6.5 -2.5h1m12 1.5h1m-13 -7.5h1m2 7h1m-5 -2.5h1m-4 3.5h1m-5.5 -1.5h1m26.5 -10h1m-28 11.5h1m14.5 -4h1m-9.5 1.5h1m15.5 2h1m2.5 0h1m-21 -7h1m19.5 2h1m-7 -5.5h1m4.5 0h1m-5 11h1m2.5 -9.5h1m-20.5 9.5h1m-1.5 -0.5h1m0 -0.5h1m-2 -1.5h1m15 2.5h1m-23.5 0h1m0 -4h1m19.5 1.5h1m-18.5 1.5h1m18 1h1m-16 -3.5h1m-8.5 -5.5h1m2 8.5h1m10 0.5h1m-15.5 -8h1m8 7h1m-2 -9h1m16.5 6h1m0 -1h1m-11.5 5.5h1m-11.5 -1h1m14.5 -2.5h1m-9 -0.5h1m-2 3h1m-3 -10.5h1m4.5 -1.5h1m-11 12.5h1m-5 1h1m-1.5 -9.5h1m8.5 5.5h1m11 0.5h1m2.5 2.5h1m-4 -12.5h1m-14 11.5h1m12 -9h1m0.5 9.5h1m-10 -1h1m-4 -16h1m-3.5 14h1m14.5 4h1m-23.5 -3h1m11.5 -2.5h1m1.5 4.5h1m-4.5 -6h1m7.5 6.5h1m-15.5 -3.5h1m8.5 -1h1m3.5 0h1m-9.5 -1h1m-6 -1.5h1m16 3.5h1m0 -1h1m-21.5 -6.5h1m17.5 10h1m1 -2.5h1m-11.5 -3.5h1m1 3.5h1m1 -1h1m-7.5 4h1m10 1h1m-18 -2.5h1m3 -14h1m6.5 9.5h1m-4.5 5h1m-15 -10.5h1m19 1h1m-18 0h1m9 9.5h1m-16.5 -5.5h1m3.5 5.5h1m19.5 -1h1m-5.5 -9.5h1m-5 11h1m9.5 -7.5h1m-16.5 0h1m12 8h1m-21 -6h1m12.5 4h1m-1.5 -7h1m-2 -2h1m-3.5 12h1m10.5 -6.5h1m-21.5 -3.5h1m0 8h1m-1 -5.5h1m9 -4.5h1m10.5 9.5h1m-2.5 -6h1m-6 3.5h1m6 3h1m-3.5 2h1m-5.5 -2.5h1m-18 -2h1m4.5 -7.5h1m0 10.5h1m-4.5 -0.5h1m9.5 -2h1m-7 -7h1m10.5 2h1m3 5h1m-24 1.5h1m5 -7.5h1m16 6h1m-25 2.5h1m1.5 -8h1m6.5 3.5h1m2 0.5h1m4 -1h1m-14 6.5h1m11.5 -9.5h1m-11.5 -0.5h1m-5.5 0h1m16.5 7.5h1m-17 -2.5h1m5.5 0h1m7.5 -3.5h1m-3.5 -0.5h1m-8 -8.5h1m-12.5 17h1m4 -8h1m4 6.5h1m7.5 0h1m-1 -6h1m1 -11.5h1m-18.5 19.5h1m18.5 -3.5h1m-5 -4.5h1m-7 4.5h1m-12 2.5h1m3 -13.5h1m-0.5 7.5h1m19.5 4.5h1m-26.5 -4h1m17 -11.5h1m6.5 8.5h1m-14.5 6.5h1m7.5 -1.5h1m-14.5 -6h1m8 6.5h1m-18 3h1m1.5 -6h1m0 7h1m-3.5 -2h1m8 -9.5h1m-11.5 5h1m-1.5 -6.5h1m22.5 10h1m-8 0h1m9 2.5h1m-23 -8.5h1m8.5 1.5h1m0 -3h1m4.5 10.5h1m-12.5 -5h1m-8.5 1h1m11.5 2h1m4 -10.5h1m-2.5 10h1m-14.5 -6h1m10 -6.5h1m-2.5 15h1m10.5 -16h1m-22.5 11.5h1m17 -13.5h1m3.5 8h1m-11.5 8h1m4 -1h1m-14.5 0h1m-2.5 -1h1m6 0.5h1m6.5 -4h1m5 7.5h1m-3 -3h1m-8 2.5h1m-12.5 -2.5h1m21 3h1m-16.5 -1h1m-4 -4h1m-5.5 4.5h1m20.5 -0.5h1m-20.5 -4.5h1m-1.5 -2.5h1m-1.5 -4.5h1m9 -1.5h1m-3.5 9h1m-7 -2h1m15.5 -2h1m-7.5 0.5h1m-4 -6h1m-11 9h1m8.5 4h1m-14.5 -4.5h1m18.5 -7h1m-17.5 11.5h1m15 -1.5h1m-5.5 1h1m1 -10.5h1m0 9.5h1m-1.5 -1.5h1m-10 -7h1m9 4.5h1m-14 6.5h1m21.5 -10h1m-25.5 6.5h1m-3 -13h1m17.5 15.5h1m3 -4.5h1m-12.5 -4h1m6.5 5.5h1m-1 -4.5h1m-14.5 4h1m2.5 -4.5h1m11 -1.5h1m-8 11h1m-13 -6h1m21 0h1m-25 5.5h1m15 -8h1m-6 8h1m12.5 -11h1m-12 6.5h1m6.5 3.5h1m-9.5 -1.5h1m-3 2h1m12.5 -5h1m-25 -3h1m10.5 2h1m-3 5h1m-2.5 -9.5h1m-2.5 12h1m4.5 -9h1m-7.5 -9h1m7.5 17h1m-8.5 -6h1m8 -2.5h1m-9 5h1m14 2h1m-19.5 -8h1m9 7.5h1m-3.5 -8h1m-1 8.5h1m3.5 -1h1m-15.5 -3h1m11.5 -6h1m7.5 -0.5h1m-8.5 12.5h1m-0.5 -7h1m-12 -6h1m19 8h1m-15 4.5h1m13.5 -9.5h1m-8 8h1m-15.5 -3h1m1 2h1m-4.5 -0.5h1m-2.5 0h1m9.5 2.5h1m11.5 -5.5h1m-12.5 5.5h1m3.5 -6h1m-13 2.5h1m8 2.5h1m-7.5 -8.5h1m-3 0h1m13 3h1m5 4h1m-11 -3.5h1m1.5 -3.5h1m-14.5 4.5h1m3 -17.5h1m0.5 24h1m0.5 -15h1m11.5 -2.5h1m-16.5 -5.5h1m-9 -6h1m3.5 22.5h1m5 -20h1m-2.5 24h1m-1.5 -16h1m0.5 6h1m14.5 -8.5h1m-3.5 0h1m-11 16.5h1m5.5 3h1m-13.5 -24.5h1m5.5 15.5h1m5 -13.5h1m-8 19.5h1m-0.5 -13.5h1m8 -5.5h1m-16 6h1m-5 -5h1m15 18.5h1m0.5 -22.5h1m-14 12.5h1m8 -1.5h1m-7.5 -7.5h1m13 1.5h1m-14.5 8h1m11 1h1m-11 -12.5h1m-10 24.5h1m7 -2h1m8.5 -8h1m-6 5h1m-7.5 -17.5h1m3 0.5h1m10 16.5h1m-16.5 -8h1m6 13h1m-9 -23h1m11 9.5h1m-2.5 11h1m4 -13.5h1m-5 4h1m5.5 1.5h1m-4.5 -17h1m-7.5 17.5h1m4 1h1m0.5 -8.5h1m-6.5 17.5h1m4 -16.5h1m-20 15.5h1m-1 -16h1m14 15h1m3.5 -5.5h1m-15.5 7.5h1m-1.5 -20h1m2 10h1m-5 -10h1m-4.5 -7.5h1m14 26.5h1m-2 2h1m-13.5 -12.5h1m-4 -14.5h1" stroke="#000" stroke-width="1" stroke-opacity="0.75" fill="none"/>
<path d="M63 460h1m0 14h1m-5 -2h1m-8.5 3h1m6 -7.5h1m0 7h1m5.5 -8h1m-6 7.5h1m-1 1.5h1m-3 6h1m3 -17.5h1m1.5 12h1m-7 0.5h1m4.5 -9.5h1m2 -0.5h1m-7.5 -1.5h1m-5.5 8.5h1m4 -15.5h1m-3 16h1m-10 -5.5h1m-4.5 -1.5h1m10.5 14.5h1m-5.5 -15h1m-1.5 6.5h1m15.5 -12h1m-16 21.5h1m5.5 -1.5h1m4.5 -27h1m-8 19.5h1m3.5 3.5h1m-5 -15h1m-3.5 5h1m0.5 14h1m0 -13.5h1m-1.5 3.5h1m-1 8h1m-2.5 -10h1m10 -4.5h1m-23.5 13h1m20.5 -6h1m-12.5 -12h1m-5 19h1m-1 4.5h1m-0.5 -15h1m-1 7.5h1m15.5 -2.5h1m-15.5 6h1m-3.5 -2.5h1m-2 2h1m13.5 -0.5h1m-1 -16h1m3 21h1m-15.5 -5h1m7.5 2.5h1m-12.5 -7.5h1m7.5 5h1m-5 -2h1m11 -7h1m-12.5 1h1m0 -12h1m7 10.5h1m-5.5 -7.5h1m-3.5 10.5h1m-3 -9.5h1m3 10h1m-2.5 2h1m4.5 9h1m3.5 -8h1m-5.5 -8h1m-7 12.5h1m-11 -20h1m8.5 19.5h1m2.5 -9h1m5 -1.5h1m-11.5 5h1m-2 -12h1m5.5 7.5h1m-16.5 3.5h1m18.5 -14.5h1m-19 4h1m5.5 0.5h1m2.5 13h1m-4 -8h1m0.5 -1h1m1.5 1h1m-4.5 -3h1m-5 10h1m9 -5.5h1m-6.5 1.5h1m1.5 0.5h1m0.5 -19h1m5.5 8.5h1m-12 10.5h1m1 2h1m1.5 -11h1m-10.5 14.5h1m7 1h1m1.5 -0.5h1m-14.5 -5h1m-2 6.5h1m8 -6h1m-10.5 -18h1m3 -0.5h1m12 14h1m-7.5 -9.5h1m-2.5 12.5h1m-0.5 8.5h1m-0.5 -24.5h1m-2 10.5h1m2 5.5h1m-16 -9h1m19 19.5h1m-12 -22.5h1m2 6h1m5 -3.5h1m1 11h1m4 -1.5h1m-7 -8h1m-6.5 13.5h1m-2.5 -1.5h1m-0.5 -14h1m-7.5 16h1m2 0h1m5 -3.5h1m1 -1.5h1m-6 -1h1m-1.5 10.5h1m5.5 -10.5h1m-7.5 -5.5h1m2 7h1m-4.5 -2h1m6.5 3h1m-11 -13h1m6 10.5h1m1 7h1m-11 -10h1" stroke="#33bb33" stroke-width="1" stroke-opacity="0.35" fill="none"/>
<path d="M84.5 495h1m-9 2h1m24.5 12.5h1m-6 -10.5h1m-15.5 7.5h1m-1 -4.5h1m-5.5 -8.5h1m12.5 10h1m-9.5 -8h1m15.5 1.5h1m-23.5 2.5h1m4 -2h1m1 -3.5h1m2.5 10h1m-14.5 -4h1m13.5 -0.5h1m2 1.5h1m-8 1.5h1m1 1.5h1m6.5 -8.5h1m-8 -1.5h1m1.5 4.5h1m-13.5 4h1m12.5 -13h1m-11.5 12h1m3 -7h1m-3.5 0.5h1m6.5 7.5h1m4.5 -7.5h1m-19.5 6.5h1m14.5 0.5h1m-12.5 -13.5h1m-2 13.5h1m11 -12h1m-6 12.5h1m12 5.5h1m-19.5 -12.5h1m-3.5 -5h1m-0.5 3.5h1m0.5 2.5h1m2.5 4h1m-2.5 -2h1m9 1h1m-10.5 3.5h1m-1 -7.5h1m-4 -2h1m-2.5 -1h1m4 11.5h1m-3.5 -8h1m15 5h1m-19.5 5.5h1m15 -15.5h1m-8 1h1m4 9.5h1m2.5 -1h1m-10.5 5.5h1m-8.5 -14h1m0 -3h1m4.5 17h1m6.5 -11h1m-10.5 5.5h1m3.5 -5.5h1m3 -2h1m0 -2h1m-17 3.5h1m8.5 10.5h1m6 3.5h1m-13 -11.5h1m-0.5 5h1m-7.5 -12.5h1m7.5 12.5h1m-2 -11h1m1.5 15.5h1m-8 -17h1m8 -2h1m-11 7h1m3 3h1m9.5 8.5h1m-6.5 -0.5h1m-1.5 -4.5h1m-0.5 -4.5h1m2 3.5h1m-15 2.5h1m10 -7h1m-8.5 2h1m0 4h1m3 -7h1m-9.5 11h1m4.5 -5h1m2.5 5.5h1m-4 -3h1m-4.5 -6h1m8.5 9h1m-12 -14.5h1m14 12h1m-3.5 6h1m5.5 -12.5h1m-13 7h1m6 -6.5h1m-9 -8h1m8.5 5h1m-5.5 8h1m-2.5 -4h1m1.5 6.5h1m-14 -5h1m8.5 -6h1m0 14.5h1m6 -10h1" stroke="#4444dd" stroke-width="1" stroke-opacity="0.3" fill="none"/>
<path d="M196 488.5h1m-10.5 16.5h1m-5.5 0h1m10 5h1m-21 -1.5h1m19 -2.5h1m-5 -1h1m-7 -4h1m5.5 8.5h1m-8.5 -4.5h1m9.5 -5h1m-2.5 6h1m-19.5 0h1m8 -5h1m13.5 9.5h1m-22.5 -2h1m4 -0.5h1m14 -5h1m-26 -6.5h1m14 13h1m0.5 1h1m8 -5h1m-15 1.5h1m11 -3.5h1m-5 3.5h1m-7.5 2h1m-9 -5.5h1m7 2h1m2.5 1h1m-12.5 -7h1m4 8h1m-0.5 3h1m4.5 -5.5h1m0.5 -1h1m-6.5 2.5h1m9 -2.5h1m-5 -8.5h1m-11.5 12h1m16.5 -3.5h1m0.5 3.5h1m-12 -4h1m-11 4.5h1m12.5 -1.5h1m3.5 -3h1m-19.5 1.5h1m10 -1h1m5 -8h1m-19.5 14.5h1m12 -2.5h1m-11.5 -3.5h1m-4.5 6h1m12.5 -1.5h1m-16 -4.5h1m13 4.5h1m5 -2h1m-18 0h1m16 1h1m-12.5 -1.5h1m-8 2.5h1m8 0.5h1m-8 1h1m9 -9h1m1.5 8h1m6.5 -9.5h1m-17.5 4h1m-6.5 3.5h1m6.5 -0.5h1m-6 -12.5h1m-4.5 9.5h1m-0.5 4.5h1m21.5 2h1m-9 -8h1m8 1.5h1m-1.5 4.5h1m-16 0.5h1m5 -3h1m4.5 1h1m-1.5 4h1m-16 -4h1m5.5 3.5h1m-2 -8h1m-3 0h1m12 5h1m-6.5 0h1m-11 2.5h1m9 -2.5h1m-2 -9h1m2 2h1m1.5 -10h1m-11 9.5h1m-13 7h1m4.5 -15.5h1m20 18h1m-16 -1h1m13.5 1h1m-2 -10h1m-8 10.5h1m-11.5 -1.5h1m9.5 1.5h1m8.5 1h1m-9 -5h1m-9 0.5h1m-11.5 1.5h1m25 0h1m-2.5 -3.5h1m-4 5.5h1m-20 -8.5h1m1 9h1m13 -3.5h1m-15 -9h1m21 8h1m-23.5 4.5h1m1 0h1m12.5 -7.5h1m-2.5 3h1m-12.5 -7.5h1m-5.5 1h1m2 5.5h1m6 5h1m12.5 -5h1m-4 -6h1m2 7h1m-1.5 -4.5h1m-15 8h1m12 -10h1m-18.5 5h1m0.5 3h1m-2 -4.5h1m-8 -2h1m8 1h1m14.5 4.5h1m0.5 -13h1m-25 9h1m7.5 1.5h1m14.5 -1h1m-7.5 -5h1m-6 11.5h1m-9 -19.5h1m5 18.5h1m-4.5 -0.5h1m16 -1.5h1m-16.5 1h1m-7 2h1m-5 1h1m21 -12h1m-22 8h1m12.5 4h1m-12.5 0h1m2.5 -10h1m15.5 -9h1m1.5 12.5h1m-24 5h1m20 0h1m-20 -2h1m16 -2h1m-6.5 -3.5h1m-7 0h1m7.5 5.5h1m-6.5 -7.5h1m1 -12h1m-17.5 15h1m10.5 7h1m4.5 -10.5h1m7 8h1m-7.5 1h1m-14 -14h1m-6 4.5h1m21.5 2.5h1m-17 8.5h1m7 -9.5h1m3.5 9h1m1 0h1m-11.5 -20.5h1m15.5 18.5h1m-26 -4.5h1m12 3.5h1m-6.5 -0.5h1m-11 2.5h1m6 0.5h1m4.5 2h1m-7 -5h1m11.5 -9h1m0.5 13h1m5 -18h1m-13 6.5h1m0 4h1m-1 -5.5h1m4 11.5h1m3.5 1.5h1m-23 -0.5h1m0 -2.5h1m2 3.5h1m-2 -8.5h1m10.5 1h1m1.5 -5.5h1m4 2.5h1m-20 1.5h1m9.5 -3h1m-5.5 7.5h1m-2.5 5.5h1m-9 -2h1m13 -2h1m2.5 0h1m-15 -4.5h1m0.5 3h1m11.5 -5h1m3.5 1h1m-24 2.5h1m19 6h1m-22.5 -3.5h1m10.5 -7.5h1m14 -3h1m-25.5 8.5h1m13.5 5h1m-16 -3h1m24 -1.5h1m-8 3.5h1m-13.5 -3h1m-1 -0.5h1m0.5 4h1m9 -3.5h1m5.5 -5.5h1m-15.5 8h1m15 1h1m-26.5 -2.5h1m9 2.5h1m14.5 0h1m-0.5 -4h1m-1.5 4.5h1m-2.5 -6h1m-8 -1h1m-1 7h1m1.5 -4h1m-6 -2h1m11.5 -1h1m-16 5h1m-7.5 -1h1m2.5 -7.5h1m5.5 2.5h1m6.5 8.5h1m-4 -6.5h1m-19.5 6.5h1m12 -9.5h1m0.5 2h1m-5.5 0h1m2.5 5.5h1m-5 -2h1m-11.5 0.5h1m24 0.5h1m-27 -2.5h1m19 5.5h1m1.5 -2h1m-21 2.5h1m4.5 -1h1m-2 1.5h1m10 -13.5h1m-7.5 12.5h1m-8.5 -14h1m15 11h1m-15 4h1m4 -4.5h1m14.5 3h1m-5.5 0h1m4 -13h1m-25.5 12.5h1m-1 -3.5h1m13 1.5h1m-14 0.5h1m0 1h1m8.5 -1h1m3.5 -4.5h1m4 4h1m1 1.5h1m-8.5 -10.5h1m-15.5 8.5h1m16.5 -0.5h1m-10 0.5h1m9 4h1m-4 -3.5h1m-5 -1h1m-7 1h1m3.5 0.5h1m1.5 -8h1m10 3.5h1m-14.5 0h1m3 6.5h1m-5.5 0h1m3 -8.5h1m-10.5 6h1m12 -0.5h1m-9 1.5h1m-12 -4h1m24 5.5h1m-1.5 -3h1m-26.5 2h1m0.5 -4.5h1m15.5 1.5h1m-12 2.5h1m-2 2h1m15.5 -7h1m-21 4h1m1 -20h1m9.5 20.5h1m-14 -12.5h1m23 1h1m-1.5 3h1m-8 3h1m-17.5 2.5h1m7 5h1m-9 -1h1m21 -6.5h1m1 6h1m-24 -6.5h1m5.5 5h1m2 3.5h1m11.5 0.5h1m-3.5 -14.5h1m-2.5 13h1m-11.5 -0.5h1m-10.5 -5h1m3 4.5h1m3 -4.5h1m12.5 4.5h1m-2.5 -0.5h1m-17 2.5h1m-1 -9.5h1m18.5 9h1m-18 -0.5h1m-8.5 -11h1m12 5.5h1m8 3h1m-14.5 -9.5h1m1.5 12.5h1m10.5 -2h1m-12.5 -2.5h1m-6 1.5h1m2 3h1m-9.5 -2.5h1m17 2.5h1m4.5 0.5h1m-23 -7h1m21.5 5.5h1m-20 -2.5h1m-4 1.5h1m11 -13h1m-13.5 3.5h1m18.5 10.5h1m-18 -3.5h1m18.5 2h1m-12 1.5h1m-7.5 -0.5h1m8.5 -3h1m4 0.5h1m-19.5 -2h1m9 -1h1m-5 4.5h1m3.5 2h1m-1 1.5h1m-14 -3.5h1m16 2h1m-6.5 0h1m8.5 0.5h1m-9 0h1m-8.5 -7h1m5.5 1h1m-3 -14.5h1m-11.5 21.5h1m23 -2.5h1m-2.5 2h1m3 -2h1m-3.5 2h1m-11 0.5h1m-3 -6h1m-9.5 -1.5h1m0 0h1m3.5 -3h1m2 10.5h1m7 -5.5h1m-16 -2.5h1m-5 4h1m0.5 2.5h1m23 -5.5h1m-23 5.5h1m-0.5 -10h1m-4 9h1m13 -1.5h1m-1.5 -3h1m8 -0.5h1m-23.5 3h1m13.5 -5.5h1m-16 5.5h1m-2.5 -4.5h1m14 4.5h1m8.5 -6.5h1m-1 10h1m-3.5 0h1m-21.5 -10h1m1 10h1m19.5 -9h1m-23 8.5h1m23.5 1h1m-10 -18h1m-9 13.5h1m13 0.5h1m-17 1.5h1m6 3h1m8 -2h1m-7.5 -1.5h1m2.5 0.5h1m-7.5 0.5h1m-13 -1h1m4 -9h1m-2 9.5h1m-7 -3h1m11 3h1m0 -12.5h1m-10 2.5h1m-0.5 9.5h1m2 -12.5h1m0 15h1m7.5 -11.5h1m-9.5 3.5h1m-6 4.5h1m12.5 1h1m-12 -0.5h1m18 -8.5h1m-23 11h1m4.5 0h1m0.5 -4.5h1m-11.5 2h1m23 -9.5h1m1.5 2.5h1m-27 4.5h1m15.5 2.5h1m-3 2h1m4.5 1h1m-20.5 -15h1m7.5 13h1m15 -8h1m-23.5 0h1m4.5 -9h1m-8 16.5h1m7.5 -8h1m0 9h1m0.5 -2h1m13 4h1m-21.5 -7.5h1m-5 -4.5h1m17.5 7h1m-20 -0.5h1m3.5 -4.5h1m5 8h1m-2.5 -4.5h1m11 -6h1m3 13h1m-1 -10h1m-17 4h1m12 2.5h1m2 2h1m-2 -4.5h1m-26.5 -3h1m19 6h1m-8 -4.5h1m2.5 2.5h1m-2.5 3h1m7.5 2h1m-5.5 -2.5h1m-12 1h1m-6.5 -10h1m0.5 11.5h1m5.5 -7h1m-5.5 0.5h1m-5.5 6.5h1m25 -4.5h1m-4 4h1m-14.5 -1h1m-6 -6.5h1m5 5h1m-5 2h1m13 -3.5h1m-12.5 3h1m-4 -11h1m2 7.5h1m-9.5 -0.5h1m19.5 -2h1m-13 0h1m5.5 -3h1m4 2.5h1m-17 -2.5h1m3.5 -3h1m-3 12.5h1m18 0.5h1m-21 -0.5h1m7.5 -0.5h1m-0.5 0h1m-13.5 -12h1m-2 12.5h1m11 -10.5h1m2.5 7h1m-12 4.5h1m-0.5 -10h1m2.5 5h1m-10 1.5h1m10 3.5h1m7.5 -7.5h1m-15 5.5h1m-4 -10.5h1m19.5 12h1m-8.5 -3.5h1m-17.5 4h1m21 -1h1m3.5 1h1m-4 -4.5h1m-20.5 -1.5h1m16 -0.5h1m4 0.5h1m-1 -4.5h1m-6 8h1m1 -2.5h1m-24.5 4.5h1m5.5 -7h1m-2 8h1m14 -9h1m-1 -2.5h1m-13.5 -1h1m6 7.5h1m-15.5 -1.5h1m11.5 -10h1m-11 12h1m-4.5 3h1m15 -2h1m-5.5 -4h1m1 4h1m-10.5 2h1m19 -7h1m-3 2.5h1m-12 2h1m11 -6.5h1m-0.5 0h1m-22.5 7h1m6.5 -1h1m-3 1.5h1m11.5 0h1m-3.5 2h1m-18 -7h1m4.5 4h1m6 3h1m-7 -1h1m15.5 -1h1m-4 2.5h1m-10 -2h1m-12 -2.5h1m21 1h1m-18 -9h1m7 9h1m4 -3h1m-2.5 -3.5h1m8.5 2.5h1m-11 0.5h1m5.5 -1h1m-23 -8.5h1m18 10.5h1m-16.5 -10h1m21 13.5h1m-21.5 1.5h1m8.5 1h1m-15.5 -6.5h1m-1 6h1m-1 -7h1m6 6h1m-8.5 -9.5h1m-2 11h1m0.5 -2h1m18 -5h1m-18 2.5h1m16.5 2.5h1m-9 -3.5h1m5.5 1.5h1m4 -9.5h1m-21 9h1m8 -3h1m12.5 5h1m-22 -9h1m-4.5 8h1m0 -2h1m-1 1.5h1m7 -2.5h1m13 -5h1m-16.5 10.5h1m10.5 -8h1m-20.5 1.5h1m7.5 7h1m-10.5 -1h1m11.5 0h1m7 -4.5h1m-17 3.5h1m-3 -10.5h1m3.5 4.5h1m-8.5 3h1m16 4.5h1m-18 -7h1m24 5.5h1m-20.5 -1h1m4.5 -1.5h1m0 2.5h1m6.5 -5h1m2.5 -3h1m-19.5 -4.5h1m9.5 11.5h1m-11 1.5h1m6 -4h1m13 4h1m-7 -5.5h1m-6.5 -3.5h1m-15.5 7h1m12 -1h1m3.5 0.5h1m-18 5h1m10.5 -9h1m14 5h1m-2 -2.5h1m-11.5 3.5h1m-7.5 -5h1m16 7.5h1m-26 -6.5h1m11.5 6h1m-7 -1.5h1m12.5 -0.5h1m2 -0.5h1m-4.5 -0.5h1m-8 -4h1m-8.5 6h1m-3.5 -3.5h1m3.5 -5.5h1m14 -2h1m-14.5 9.5h1m-3.5 -7.5h1m10 6.5h1m-10 2.5h1m-6.5 -12.5h1m13 10h1m1 -8h1m-5 6h1m-3.5 -2h1m9.5 8.5h1m-3 -12h1m-2 1.5h1m5 10h1m-27.5 0h1m13.5 -4.5h1m-10 -1h1m-1 -6h1m14 5h1m-3.5 6.5h1m-11 -10.5h1m10.5 -2.5h1m-1 12.5h1m-18.5 -12h1m-2 1h1m18 6h1m4 -4.5h1m-17 0.5h1m-6.5 3h1m15 1h1m-13.5 1.5h1m-6 0.5h1m0.5 3h1m18.5 -3.5h1m1.5 -15h1m-18.5 16h1m17.5 3h1m-4 -5h1m-6 -5.5h1m-1.5 3.5h1m-6 -2.5h1m-2.5 6.5h1m5.5 -8h1m-9.5 3h1m14 4.5h1m-10.5 -4h1m-11.5 4h1m-3 3h1m4.5 -9.5h1m-4 6h1m17 -2h1m-4.5 -6.5h1m-8.5 6.5h1m-7.5 -12.5h1m3.5 17h1m-8.5 -3.5h1m17.5 -3.5h1m3.5 7.5h1m-10.5 -3h1m1 2h1m2 -5.5h1m-20 -5.5h1m8.5 10h1m9 -2.5h1m-19 -4.5h1m8.5 -1h1m-7.5 9h1m-2.5 0h1m-4 0.5h1m7.5 -4h1m-10 -4h1m3.5 8.5h1m-2 -1.5h1m4.5 0.5h1m8 -1h1m2.5 -7.5h1m-17.5 -4.5h1m17 12h1m1.5 -0.5h1m-11 -10.5h1m-3.5 12.5h1m7 -3.5h1m-15 2.5h1m3 0.5h1m-10 1.5h1m9 -7.5h1m3 5h1m-11.5 2.5h1m-3 -16h1m15.5 11.5h1m-5.5 4.5h1m-18.5 0.5h1m16.5 -2h1m-17 -8.5h1m21.5 6.5h1m2.5 -8h1m-14.5 3h1m-8.5 6h1m2.5 0h1m5.5 -10.5h1m-13 3h1m9 10.5h1m9.5 -5h1m-11 2.5h1m1 -0.5h1m-7.5 1.5h1m3.5 -0.5h1m10.5 -0.5h1m-15.5 1.5h1m-4 0.5h1m17 0.5h1m-15 -1.5h1m12.5 0h1m-22.5 0h1m21.5 1.5h1m-5.5 -4.5h1m-0.5 -4.5h1m-2 0h1m-1.5 9.5h1m-14.5 -1h1m-0.5 -5h1m-2.5 3.5h1m5.5 -8.5h1m-0.5 -0.5h1m-4.5 9h1m-6.5 -3h1m4.5 4h1m-4.5 -11h1m2 5.5h1m4.5 2h1m1 -3.5h1m-9 4.5h1m-1.5 -8.5h1m-10.5 8h1m6 0.5h1m18 0.5h1m-13.5 -1h1m-6 -8.5h1m11.5 9h1m-16.5 3.5h1m18.5 -9.5h1m-11 -6.5h1m-14.5 16h1m19 -5h1m-3 1h1m-3.5 0.5h1m-8.5 3h1m-8.5 -7.5h1m13.5 6h1m5.5 0h1m0 -4.5h1m1.5 6h1m-22 -3h1m-1 -0.5h1m12 -6.5h1m-15 8h1m18 -3h1m-21 5h1m16.5 -5.5h1m-4 3h1m-1 -0.5h1m8.5 3h1m-1.5 -4.5h1m-8.5 0h1m-19.5 5h1m21.5 -1h1m2.5 -6h1m-5 -8.5h1m-4.5 8.5h1m7 -2h1m-19 0h1m-2.5 5h1m17.5 3h1m-6 -10h1m-14 6h1m16.5 5h1m-18 -3h1m0 2h1m13.5 -2.5h1m-3.5 0h1m-10.5 -3h1m12.5 0.5h1m-20 3.5h1m8 -9.5h1m0 9.5h1m-17 -6.5h1m9.5 -3.5h1m11.5 7h1m1.5 4h1m-27.5 -4.5h1m2 -3h1m2 6.5h1m3 0.5h1m-11 -7h1m15.5 1.5h1m-13 5h1m22.5 -8h1m-26 8.5h1m22 1h1m-1.5 -12.5h1m-24.5 7.5h1m13 3h1m-15 2h1m4.5 1h1m0 -1.5h1m14 -2h1m-19.5 0h1m-0.5 0h1m4.5 0h1m5.5 3.5h1m-17.5 -2.5h1m8.5 -9.5h1m7 10h1m-5.5 -18h1m10 13.5h1m-5 0h1m-11.5 -3h1m-7 3.5h1m5 5.5h1m0.5 0.5h1m-4 0.5h1m10 -13.5h1m-3.5 12h1m-15.5 -2h1m9 -1.5h1m2 -3h1m-7.5 4h1m1 1.5h1m-10 -5h1m5 -1h1m12 3h1m-9.5 1.5h1m9.5 2h1m-7.5 -3.5h1m3.5 -8h1m-14.5 3.5h1m-3 5.5h1m1 -2.5h1m12.5 -4h1m-21 3h1m17 6h1m5 -7h1m-7.5 3.5h1m0 2h1m-5.5 2h1m-13 -1.5h1m12 -11h1m3 2h1m3 2.5h1m-4 6.5h1m-9.5 -7h1m13 3.5h1m-8.5 1.5h1m-13 4.5h1m-5.5 -2h1m1 2h1m-1 -5h1m16.5 4h1m-17.5 -2.5h1m13.5 2h1m-7 -3h1m-7 -3.5h1m11.5 1.5h1m-5 -2h1m-12 5.5h1m9 -4h1m-2 6h1m-13.5 -8h1m15.5 -2.5h1m-5 7h1m4.5 3.5h1m2 -3.5h1m-19.5 2h1m21 -10.5h1m-15 8.5h1m-9 -2.5h1m2 1h1m14.5 2h1m1.5 4h1m-9 -16h1m-5 7.5h1m7 -7h1m-3.5 13.5h1m-5.5 0h1m10 -4.5h1m-2.5 3h1m-10 3.5h1m-14.5 -1.5h1m20.5 1h1m-4 -4.5h1m-14.5 -3.5h1m-1.5 3.5h1m1 -5h1m6 2.5h1m-5 3h1m-2.5 -0.5h1m6.5 -9h1m-14.5 12.5h1m1.5 -4h1m19 -9.5h1m-19.5 7h1m14 -4h1m2.5 3.5h1m-13.5 7.5h1m-14 0h1m20.5 -1h1m-17.5 0h1m6 -4h1m4 -5h1m-3.5 2.5h1m1.5 9h1m5 -9.5h1m-11.5 3h1m2 -19h1m-0.5 24h1m-17.5 -8.5h1m25.5 7h1m-7.5 -0.5h1m-19.5 -4.5h1m-0.5 -2h1m7.5 6.5h1m-8 3h1m13.5 -13h1m0 13.5h1m-7.5 -5h1m-11.5 -12.5h1m15.5 5.5h1m6 8h1m-6 -4h1m4.5 5h1m-4.5 -1.5h1m-20 -3.5h1m7.5 2.5h1m-5.5 2.5h1m-7 1h1m19.5 -3h1m0.5 5h1m-20.5 -11h1m8.5 9h1m9 -4.5h1m-7 -6h1m-6 3h1m-3 6.5h1m-5.5 -5.5h1m6 -9.5h1m-5.5 17.5h1m-2.5 -6.5h1m1 0.5h1m15.5 -2h1m1 3h1m-17.5 -5.5h1m-3 7h1m6 3h1m3.5 -1h1m-14.5 1.5h1m3 -1.5h1m-9.5 -1h1m2 -4.5h1m16.5 -1.5h1m-10.5 7h1m3 -6h1m4.5 5h1m-16 -9.5h1m0 12h1m-0.5 -10.5h1m-8.5 5h1m10 0h1m11 -7h1m-17 11h1m-1.5 -7h1m-3 6.5h1m16.5 -0.5h1m-24.5 -9.5h1m11.5 9h1m2.5 -15h1m-13.5 15.5h1m20 0h1m-17 -1h1m1 -6h1m14 0.5h1m-26 1.5h1m-1 5h1m2.5 1.5h1m9.5 -4h1m-4 -1.5h1m13 5h1m-13.5 1h1m6.5 -1.5h1m-6 2h1m-9.5 -3.5h1m4.5 -0.5h1m-3.5 0h1m-9 -8.5h1m6.5 5h1m8 -8.5h1m-8.5 11.5h1m-7.5 2h1m10 -16.5h1m-1 7.5h1m-5.5 10.5h1m8.5 -14h1m-14.5 9h1m11.5 2h1m1 2h1m4 -7h1m-16 5h1m-5.5 -3h1m18 2.5h1m-8.5 -18h1m2.5 16h1m-1.5 -7.5h1m-5.5 11h1m-12.5 3h1m16.5 0.5h1m2 -5.5h1m-25.5 -12.5h1m18.5 17.5h1m-20 -6h1m23.5 6h1m-20.5 -11.5h1m6 9h1m8.5 -16h1m-21 2.5h1m7 13.5h1m-2 -1.5h1m2 0h1m-8.5 1.5h1m14 -1h1m-15 -3h1m4 -7h1m5 6h1m1.5 3.5h1m-16 -1h1m19 5h1m-26.5 -1h1m14.5 1h1m7 0h1m-5.5 -2h1m-2 -6h1m-18.5 7h1m-0.5 -4.5h1m23 -5h1m-21.5 5h1m12 3.5h1m6 2h1m-3.5 -3h1m-22.5 -9h1m8 9h1m-4.5 2.5h1m14 -2.5h1m-18.5 -7h1m-3 3h1m8 7h1m4 0h1m10 -4h1m-25 -5.5h1m23 5.5h1m-26.5 3h1m23.5 -1.5h1m-19 -1h1m9.5 -9h1m-20 -10h1m6 21.5h1m-0.5 -0.5h1m11 -2h1m-5.5 -4.5h1m-2 6h1m-9 0h1m14.5 -9.5h1m-4 11h1m8.5 -7.5h1m-3 -3.5h1m-4 11.5h1m-7.5 -16h1m-11 12.5h1m5.5 3.5h1m13 -3.5h1m-4 2.5h1m-18 -6h1m-6 4h1m6.5 2.5h1m-1.5 -10h1m1.5 10h1m-0.5 -2.5h1m-12.5 3.5h1m6.5 -3h1m-8.5 -4h1m2.5 -0.5h1m2 4h1m-6 2.5h1m12.5 -4.5h1m-11 -4h1m-1 6h1m9 3h1m5.5 -3.5h1m-5 -0.5h1m-10.5 3.5h1m-3 -6.5h1m1 3h1m12 -2h1m3.5 -7h1m-10 3.5h1m2.5 -0.5h1m-15.5 8h1m-6.5 -5h1m16.5 -4.5h1m-2 5h1m2.5 4.5h1m-1.5 -5h1m-13.5 -8h1m-4 -3.5h1m18.5 15.5h1m-0.5 -6.5h1m-17 7.5h1m15 2h1m-2.5 -8.5h1m-11.5 -3h1m3.5 2.5h1m-18 6.5h1m20.5 -6h1m3.5 6h1m-21 -5.5h1m0.5 3h1m-8.5 -1h1m3 4h1m6 -5.5h1m9.5 2h1m-21 0.5h1m1.5 -2h1m14.5 0.5h1m6 -18h1m-26 22h1m16.5 1.5h1m-13.5 -0.5h1m7 -5h1m-9.5 -2.5h1m6 3h1m-0.5 -5.5h1m-8.5 1h1m-2.5 5.5h1m7 0.5h1m2.5 1h1m11 -3h1m-26.5 4.5h1m10.5 -8h1m2.5 7.5h1m8.5 -6h1m-5.5 0.5h1m-14 -2.5h1m5.5 9h1m-12 -1.5h1m15.5 -0.5h1m-7.5 -5.5h1m-6 9.5h1m13 -3.5h1m-21.5 1.5h1m-4 -9h1m7 10.5h1m9.5 -1.5h1m6 -7h1m-19 7h1m16 -2.5h1m-19 -5.5h1m1 7h1m7 -12.5h1m6 1.5h1m-8 10.5h1m-4.5 -1.5h1m3.5 -4h1m-12 8.5h1m0.5 -1.5h1m10.5 -0.5h1m-19 -3.5h1m8.5 5.5h1m11 -13.5h1m-8 13.5h1m-15 0h1m15.5 -4h1m-15 -6h1m18.5 10h1m-23.5 -7.5h1m15.5 3h1m-12 0h1m0.5 -7.5h1m12.5 10h1m-15.5 -1h1m-4.5 -5h1m11.5 5h1m-3.5 -2h1m12 2.5h1m-10.5 0h1m-15 -3.5h1m13 1.5h1m5.5 3h1m-22 0.5h1m-3.5 -2.5h1m-1 -1.5h1m2 1h1m3 3h1m-5 0.5h1m0 0h1m1 -11h1m10.5 6h1m0.5 -0.5h1m-5.5 -12h1m10.5 15.5h1m-5 2h1m-7 0.5h1m0 -4h1m-6 0h1m-0.5 -2h1m-13 -3.5h1m-1 -3.5h1m22.5 9h1m-11.5 0.5h1m1 -6h1m7.5 1.5h1m-7.5 6h1m-12 -9h1m13 5.5h1m-12.5 -1.5h1m-2.5 -5h1m12 12h1m3 -3h1m-16.5 -7.5h1m-1 2h1m17 -9.5h1m-20.5 15h1m7.5 3.5h1m-14.5 -14.5h1m6 11h1m-6 -3h1m0.5 5.5h1m11.5 0.5h1m-15 -2.5h1m2.5 -3h1m-3 0.5h1m5.5 -3.5h1m-3.5 5.5h1m12 -9.5h1m-9 3h1m-1 5.5h1m-0.5 1.5h1m-5 -12h1m1 4.5h1m-1.5 -5h1m-12.5 15h1m18 -1.5h1m-7.5 -24h1m-13.5 20h1m14 2h1m3 0h1m-6.5 -4h1m-5 -10h1m-12 16.5h1m19.5 -4.5h1m-4 1h1m-7.5 -5.5h1m11.5 9h1m-22 -3h1m20 3.5h1m-9.5 0.5h1m2 -6h1m-2 -8.5h1m-16 11h1m13.5 -4.5h1m0 -10.5h1m-17 11h1m22 -17.5h1m-18 0h1m5 1.5h1m-3 14.5h1m-12 -4h1m19.5 -11.5h1m-6 9.5h1m2.5 0h1m-5 3h1m0.5 -17h1m-5 22.5h1m-14.5 -21h1m4.5 27h1m3.5 -6.5h1m8.5 -22h1m-10.5 23.5h1m10.5 -12.5h1m-22.5 1.5h1m4.5 -2h1m1 15h1m-0.5 -23.5h1m-0.5 27h1m17 -5h1m-2.5 -11h1m0 -3.5h1m-8.5 7.5h1m-20 -3.5h1m22.5 3.5h1m-19.5 10h1m18.5 -9.5h1m-13 -12.5h1m-12.5 2.5h1m1.5 13.5h1m2.5 -12h1m-2.5 11.5h1m-1 0.5h1m8.5 7h1m4.5 -22h1m-16 19.5h1m0.5 -15h1m9 -5.5h1m-17 20h1m17.5 -14h1m5.5 3h1m-16 1h1m5 -9.5h1m-13 18.5h1m1 2.5h1m-4.5 -3h1m14 -4h1m-15 -13h1m14.5 4.5h1m-9.5 0.5h1m12 12.5h1m-5 -7.5h1m-10 -7.5h1m4.5 15h1m-5 -6h1m5 2.5h1m-18 -18.5h1m-2 2h1m11.5 25h1m-1.5 -26.5h1m7.5 12.5h1m-5 -1.5h1" stroke="#000" stroke-width="1" stroke-opacity="0.75" fill="none"/>
<path d="M186 467h1m6 -10h1m-17.5 13h1m5.5 -8h1m-7 -2.5h1m-4 -1h1m9.5 17h1m-7.5 -24.5h1m7 14.5h1m-1.5 8.5h1m3 3h1m-8.5 -8h1m2.5 -3h1m3 4h1m-18 -2.5h1m1.5 2.5h1m14.5 1.5h1m-6.5 -2.5h1m-8 -7.5h1m9 -9h1m-8.5 21h1m6.5 -1.5h1m-16 -5.5h1m10 3.5h1m1.5 11.5h1m7.5 -19.5h1m-14.5 4.5h1m1.5 -3.5h1m-4 6h1m-3.5 -4.5h1m5 -5.5h1m0.5 3.5h1m-10.5 0.5h1m7.5 -1h1m-1.5 15h1m-1 -20h1m1.5 -5.5h1m6 -2h1m-7 20.5h1m-9 0.5h1m10.5 -1h1m-12.5 -1h1m9 7.5h1m3.5 -12h1m-10 10h1m4.5 -19h1m-6.5 2h1m-11 -3.5h1m5.5 16h1m-4 -11.5h1m5 16h1m7 -9.5h1m-12 1.5h1m6.5 -10h1m-5.5 0h1m4.5 8.5h1m-13.5 1.5h1m3.5 7h1m-4.5 2.5h1m-0.5 -4h1m2 -15h1m7.5 9.5h1m-8 0.5h1m-1 -11h1m-5.5 17.5h1m1 -9h1m12.5 9h1m-9.5 -11.5h1m-13.5 6h1m7 6h1m-5.5 -5.5h1m-5 4h1m19 1.5h1m-18.5 -8h1m4.5 11.5h1m-2 -18.5h1m3 6.5h1m-6 -12h1m5.5 14.5h1m-10 -8h1m0 4.5h1m-3 3h1m14 -5h1m-0.5 6.5h1m-3 7h1m-6.5 -9.5h1m-14.5 14h1m7 -2h1m2 -21h1m-3 3.5h1m14 11.5h1m-14 -4.5h1m-10 -14.5h1m16 16h1m-6 5.5h1m-15.5 -11.5h1m8.5 -2h1m8 2h1m-1 -3.5h1m-0.5 10h1m-8.5 -2.5h1m10 12.5h1m-9 -9h1m-0.5 -6h1m-4.5 9h1m-2 2.5h1m8 -5.5h1m-1.5 -5.5h1m-10.5 5.5h1m4 -10.5h1m0.5 -1h1m-1.5 17.5h1m-4.5 0.5h1m-1 -16.5h1m2 3.5h1m-9.5 -20.5h1m3.5 21.5h1m2 15h1m2.5 -17.5h1m-15.5 17.5h1m8 -16h1m8.5 1.5h1m-4 3h1m-9 4.5h1m1 -17.5h1m-2.5 9.5h1m0.5 -2.5h1m3 5h1m-2 7h1m-3.5 -10.5h1m0 2h1m5.5 2.5h1m-2.5 -7.5h1m-2 -7h1m-11 20h1m6.5 0.5h1m-1.5 -7.5h1m-9.5 3.5h1m-1.5 -3.5h1m10.5 -6h1m0.5 -8h1m-11.5 17.5h1m0.5 -10h1m12 4.5h1m-12 16.5h1m-3 -21h1m2.5 6h1m10.5 4h1m-11 -13.5h1m-6 -9h1m-6.5 13h1m3 11.5h1m4.5 -6.5h1m-5.5 3.5h1m12.5 -17.5h1m-13.5 13h1m-9 13h1m-1.5 -10h1m13.5 1h1m-10.5 -12h1m7 8.5h1m-3.5 2.5h1m1.5 -3.5h1m2.5 0.5h1m-8.5 -1.5h1m0.5 18h1m6 -1.5h1m-13.5 -4h1m3 -12.5h1m2 2h1m8.5 -13h1m-4.5 12.5h1m-3.5 16h1m0 -22.5h1m-4.5 5h1m-1.5 4h1m-13 -10h1m5.5 13h1m0 -0.5h1m10.5 -7h1m-12 -9.5h1m4 14.5h1m-4 -7.5h1m11.5 -8h1m-8.5 6h1m-8.5 -2.5h1m-3 3.5h1m9 -1h1m-14.5 4h1m13.5 11.5h1m-3.5 -7h1m-10 0.5h1m7.5 5h1m0.5 -6h1m-10 0.5h1m-1 5h1m11 -18h1m-8 6h1m-0.5 15.5h1m-7 -6.5h1m-3 -11.5h1m3.5 11h1m4.5 -8h1m0 -5.5h1m1.5 19h1m-7 2.5h1m-1 -17.5h1m-9 2.5h1m5.5 10.5h1m7.5 -1h1m-15 -27.5h1m7.5 17h1m0 -2h1m-6 8h1m-7.5 -0.5h1m11 -9.5h1m-3 -1.5h1m-8 13h1m11 -14h1m-1.5 15.5h1m-10.5 -14h1m-1.5 14h1m12.5 -2.5h1m-11 -4h1m3 -0.5h1m-1.5 8.5h1m-10 -12.5h1m8.5 2h1m3.5 -9.5h1m-13.5 18h1m0 -12h1m1 11.5h1m-4.5 -6h1m5 4.5h1m-11 -2.5h1m1 11h1m8 -9h1m-5 -3h1m-6 10h1m-4.5 1.5h1m12.5 -15.5h1m-9 -8.5h1m12 18.5h1m-12.5 0h1m-2 -15h1m6.5 15.5h1m-4 -28h1m-3 23h1m-10 -0.5h1m-3.5 4h1m5.5 -10.5h1m10 11h1m-13.5 0.5h1m10.5 0h1m5 -8.5h1m-3.5 8h1m-5.5 -2h1m0 -2h1m-10.5 9.5h1m7.5 -7.5h1m-6.5 -8h1m4.5 4.5h1m-4 -8h1m2.5 16h1m-7 -8h1m7 -4h1m-19 -5.5h1m13.5 1h1m-7.5 22h1m-3 -14.5h1m6 3.5h1m-5.5 6h1m7.5 -12h1m-8.5 -0.5h1m0.5 14.5h1m-6.5 -1h1m12 -4.5h1m-6.5 -13.5h1m10.5 -5h1m-16.5 13h1m14.5 -5h1m-4.5 10.5h1m-8.5 0h1m-1.5 0h1m-11 -0.5h1m14 -2h1m-2.5 -2.5h1m-10.5 5.5h1m12.5 -7h1m-3.5 -20.5h1m-3 34h1m0.5 4h1m3.5 -7h1m-20.5 -7.5h1m18 -0.5h1m-15 -4h1m17 -3.5h1m-18.5 5.5h1m7 -2h1m0.5 2h1m-6 0h1m11 5.5h1m-22 -9h1m18.5 19.5h1m-4.5 -15.5h1m-1.5 4h1m-4 -13h1m-5 27h1m3 -23h1m5 1h1m-5 13.5h1m-9.5 3.5h1m1.5 -15.5h1m-3 17.5h1m6.5 -11.5h1m1 -4h1m-19 12h1m12.5 5.5h1m7.5 -11.5h1m-2.5 -4.5h1m-12 12h1m11 0.5h1m-5.5 -13h1m-18.5 7.5h1m12.5 -12.5h1m4 1h1m-7 -2.5h1m4.5 2.5h1m-6.5 12h1m9 -2h1m-4.5 -4.5h1m-12.5 10.5h1m-4.5 -18.5h1m8.5 12h1m-3.5 11h1m2 -8h1m-3.5 -14h1m-12 20h1m10 -1.5h1m-3 -10.5h1m4.5 3.5h1m-4.5 -3.5h1m2 -25h1m1 25h1m-4.5 9.5h1m3 -5h1m5 2.5h1m-7.5 3.5h1m7 -16h1m-2 13h1m-17 -14.5h1m8.5 -4.5h1m6.5 9h1m-8 -1.5h1m-4.5 11h1m1 -2h1m0.5 -5h1m2.5 -7h1m0 11.5h1m-8 -17.5h1m-3 11h1m-5 -10h1m7 10.5h1m-13 -2.5h1m4 3h1m3.5 -2h1m-7.5 8.5h1m12 -1h1m-3.5 -5.5h1m-9 -3h1m-5 3h1m0 -3.5h1m5.5 2.5h1m-3 10.5h1m6.5 -11h1m-11.5 9h1m0.5 -12.5h1m4 7.5h1m-3 -16h1m5 11.5h1m-16.5 -1h1m17.5 10h1m-12 8.5h1m-0.5 -13.5h1m6.5 -11h1m-2.5 4h1m1 7.5h1m-14.5 -7h1m9 -1.5h1m-18 -9h1m14.5 11.5h1m-5 8.5h1m6.5 -11h1m-16.5 7h1m4 0h1m5 -10.5h1m-12.5 17h1m11.5 -9.5h1m-9 16h1m3.5 -11h1m8 10.5h1m-11.5 -5.5h1m4 7h1m-13 -21h1m6 8h1m7 4.5h1m5 1.5h1m-14.5 -13h1m-4.5 -5h1m-4.5 5.5h1m3 18.5h1m2 -10h1m9.5 -11h1m-6.5 5.5h1m-5.5 7h1m-3 3h1m0 -4.5h1m-0.5 1.5h1m0.5 -3h1m-4.5 6h1m-0.5 -3.5h1m3.5 -6h1m3 -5h1m-0.5 -6h1m-10.5 9h1m4.5 7h1m-5.5 -1.5h1m10 4h1m-7.5 0.5h1m7 -6h1m-4 1h1m3.5 -2h1m-20 -6h1m7.5 21.5h1m0.5 1.5h1m1.5 -26.5h1m0.5 10h1m-6 -2h1m-8 1h1m7.5 9.5h1m-3.5 2.5h1m7 -2.5h1m-9 -12.5h1m-12 15.5h1m8 -8.5h1m8.5 -7h1m-2 13h1m-15.5 -0.5h1m0 -5h1m12 4h1m-0.5 -4h1m-2.5 -19h1m0 18.5h1m-9.5 3h1m5 -10.5h1m-16 2.5h1m16 1.5h1m-5.5 8h1m-6 -5.5h1m9 3.5h1m-2 -6.5h1m-11.5 0h1m10 8.5h1m-4 -15h1m0.5 1.5h1m-17 7h1m0 -1h1m10 -6.5h1m-11 1h1m11.5 -2.5h1m-10 15h1m6.5 -4.5h1m-7 -11.5h1m10.5 -1h1m-9 -12h1m-5 19h1m3 -0.5h1m5.5 10.5h1m0 -8.5h1m3 -9h1m-15.5 14.5h1m9 -17.5h1m-14 23h1m3 -9.5h1m1.5 4.5h1m1.5 -6h1m-0.5 16.5h1m-4.5 -4h1m-3 -9h1m0 -2.5h1m-9.5 2h1m18 0h1m-10 -10h1m0.5 12.5h1m1.5 2h1m-0.5 -7.5h1m-1 8h1m-5.5 -7h1m9.5 -16h1m-5.5 13h1m-8.5 -4.5h1m4.5 10.5h1m-12 7.5h1m13 -16h1m0 -7.5h1m-10.5 18h1m3 -10h1m1.5 0h1m-4.5 -1h1m0.5 10h1m-2.5 3h1m-6 3h1m3.5 -3h1m1 -15h1m-5.5 4.5h1m7.5 -3h1m-12.5 -6h1m2.5 11.5h1m-1 -19.5h1m2 19.5h1m0 -11h1m-2.5 3h1m-14 9.5h1m5.5 -9h1m12.5 -7.5h1m-7 8.5h1m-11 3h1m8.5 10h1m-4 -15.5h1m-6.5 14.5h1m6 0.5h1m10 4h1m-6 -18h1m-13 11.5h1m-1.5 6.5h1m5 -7.5h1m0.5 -20h1m1 20h1m-6 -9h1m6.5 13h1m1.5 -0.5h1m-11 -12h1m4.5 6h1m2.5 5.5h1m-6.5 -2h1m-1 -10h1m-8 -0.5h1m8 4h1m-10 15.5h1m16.5 -19h1m-5.5 15.5h1m-11 -1.5h1m1 -1.5h1m9 -8.5h1m-10.5 2h1m4.5 -1.5h1m-6 0.5h1m0.5 3.5h1m-0.5 0h1m-9.5 0h1m3.5 7h1m-5 -9h1m2 -2.5h1m-2 4h1m-9.5 -1h1m20.5 8.5h1m-18 -15h1m6.5 16h1m8 -29.5h1m-3.5 9.5h1m-5 27h1m-7.5 -18.5h1m5 -9h1m-9 8h1m5.5 8h1m3 -9.5h1m-4 -7h1m-4 7h1m7 -0.5h1m-14.5 16h1m9.5 -5.5h1m4 -5h1m-20 14.5h1m14 -13h1m-13 -2.5h1m-2 -0.5h1m13 2h1m-9.5 13h1m4 -10h1m5.5 -4.5h1m-5.5 -4h1m0 16.5h1m-6.5 -22.5h1m0.5 17h1m-4 -10h1m8 -2h1m-3 2h1m3 9h1m-11.5 10.5h1m1.5 -24.5h1m3 22.5h1m6.5 -14h1m-12.5 2.5h1m-5.5 16h1m10.5 -18h1m-7.5 0h1m-4.5 2h1m12 -5.5h1m-22.5 6h1m5 -0.5h1m15 -8h1m-9 13.5h1m-11 -6.5h1m9.5 -3h1m-16.5 7h1m9 -8.5h1m-4.5 8h1m-6 -5h1m11 -8h1m-1 11.5h1m-11.5 -4.5h1m7 -3h1m-2.5 2h1m-1.5 8.5h1m4 -7h1m4 7.5h1m-1 -17h1m-4 14h1m-9.5 2.5h1m15.5 -26h1m-15 15h1m5 11h1m0 -14.5h1m-18.5 11.5h1m15.5 -7.5h1m-9.5 12.5h1m3.5 -5h1m3 -11.5h1m-4.5 7h1m-9 -9.5h1m4.5 13.5h1m7 9h1m-5.5 -6h1m-2.5 -1h1m10 -2h1m-18.5 -7h1m11.5 3.5h1m-4.5 5h1m-9 9.5h1m4.5 -6h1m4.5 -9h1m-5 -4.5h1m-8.5 0.5h1m3.5 15.5h1m-5 3h1m3 -15.5h1m-10 6.5h1m-0.5 -7.5h1m10 -6h1m8.5 10.5h1m-8.5 13.5h1m5 -14.5h1m-3.5 1.5h1m-21 -4.5h1m7 6.5h1m7.5 0h1m-1 1.5h1m-5.5 -0.5h1m2 4h1m-2.5 -16.5h1m3 19.5h1m-1 -4h1m-14.5 -18h1m18 9h1m-3 14h1m-5.5 -4h1m-0.5 -11.5h1m0.5 3.5h1m-9 7h1m5 -15.5h1m-1.5 1.5h1m-8.5 12.5h1m7 -3h1m8 -9.5h1m-22 -4h1m15 8h1m-5 6.5h1m-3.5 -9.5h1m5.5 11.5h1m-10 -6h1m3 9.5h1m-1 -16.5h1m-5.5 5.5h1m3 -6h1m0 7.5h1m-6 -9h1m11 3.5h1m-19 0h1m13.5 -4.5h1m-20.5 14.5h1m12 -10.5h1m3 -3h1m7.5 12h1m-9.5 -8h1m5.5 7.5h1m-10.5 12h1m-3 -15h1m5 9h1m-3.5 -1.5h1m-3 -8h1m-11.5 3.5h1m3 -5.5h1m11.5 16.5h1m-12 -8h1m11 -14h1m-9.5 18.5h1m7.5 -2h1m-11.5 -5h1m-3.5 -5h1m-8 -13.5h1m17.5 19h1m-6 -7h1m1.5 19h1m7 -5.5h1m-4.5 -17.5h1m-3.5 -3h1m1.5 4h1m-11.5 -1h1m0.5 16.5h1m9 -10h1m-11 8.5h1m7 -1h1m-3 -6h1m-1.5 4.5h1m6.5 3.5h1m-14 -1h1m8.5 -6.5h1m-9.5 -1h1m-6 -9h1m10 4.5h1m-1 0.5h1m-8 1h1m7 14.5h1m2.5 -12h1m-8 -6h1m4 -1.5h1m-9.5 14h1m9 -7.5h1m-14 4h1m12.5 -13.5h1m-2.5 24.5h1m-7 -6h1m-7.5 -7.5h1m4 7h1m0 -0.5h1m4.5 -4h1m-8.5 10h1m9.5 -10h1m-21 -1.5h1m8.5 3.5h1m7 -1h1m-11.5 -11h1m-0.5 11h1m-6 -6h1m7 -11.5h1m-11 14h1m6 4.5h1m-6 -6h1m13 -6.5h1m-8 5h1m8.5 8h1m-11.5 -4h1m-10 4h1m11 -7.5h1m-6 1h1m4 7h1m-5.5 -8h1m-1.5 2.5h1m7.5 11.5h1m-8 -18.5h1m5.5 -1h1m-5.5 13.5h1m2.5 -3.5h1m5 1h1m-3 -2h1m-15.5 15.5h1m-2 -21.5h1m7.5 2.5h1m-11.5 7h1m7.5 -3.5h1m-5 9h1m14.5 -6h1m-7.5 1.5h1m-10 -14h1m15 -3.5h1m-8 14.5h1m6.5 2.5h1m-7.5 -6h1m4.5 -5.5h1m-18 5h1m-7.5 -1.5h1m12 -4h1m-0.5 4.5h1m-6.5 1h1m-4 10.5h1m4 -14.5h1m4 11h1m-5 -9h1m11.5 13h1m-15.5 -9h1m15 3h1m-9.5 -7h1m-4 -3.5h1m2 14.5h1m-5.5 -13h1m4.5 3.5h1m-5 -5.5h1m7.5 17.5h1m-0.5 -6h1m-5 1.5h1m-10.5 10.5h1m-7.5 -8h1m11 -12.5h1m8 6.5h1m1 1h1m-12 -7h1m-15 1h1m13.5 1h1m-6.5 -1.5h1m-2.5 -0.5h1m-4.5 1h1m6.5 -11h1m-1 18.5h1m-0.5 -15h1m3 0h1m-1.5 24.5h1m0.5 -21h1m-11.5 18.5h1m3.5 -4.5h1m6 -3h1m-14 -10.5h1m10.5 19.5h1m0 -9.5h1m-5 -4.5h1m3 6.5h1m-7.5 -6h1m0 14h1m1.5 -18h1m-13 2h1m17 -10h1m0 7.5h1m-3 -6.5h1m-10.5 3h1m7 5.5h1m-8 -2.5h1m7 -1.5h1m-16 9h1m5 -9h1m0.5 5h1m0 4.5h1m-6 6.5h1m13 -6h1m-5 3h1m-12 -7.5h1m1 -11h1m12.5 7h1m-6.5 -3h1m4.5 1.5h1m-5.5 -3.5h1m-9 23h1m9.5 -9h1m-14.5 -9h1m5.5 -5.5h1m10.5 3.5h1m-5 8.5h1m-10 10.5h1m-12.5 -10h1m6 2h1m10.5 4h1m0.5 -13h1m-13.5 -3h1m0.5 -6h1m7 9.5h1m-7 12.5h1m9.5 1.5h1m-11.5 -26h1m12.5 16h1m-10 7.5h1m0 -11h1m-5 16h1m6 -19h1m-9.5 -4h1m-4.5 20h1m-4 -9h1m7.5 14.5h1m-4.5 -8.5h1m12 11h1m-6.5 -15h1m-3 -14h1m-6 23.5h1m0 -12.5h1m3 6h1m2 -17h1m-6 10h1m-4.5 0h1m-5 5h1m5.5 -13h1m-2 20.5h1m0 -11.5h1m-2.5 3h1m4 11h1m-0.5 -11h1m4 5.5h1m-7.5 -7h1m-6 3h1m2 -7h1m-0.5 8h1m-8.5 -22.5h1m4 20.5h1m-1.5 -1.5h1m5 8.5h1m-11.5 -2h1m2.5 2.5h1m0.5 6.5h1m-10 -16.5h1m5 3h1m10 -7h1m-20.5 -4.5h1m15.5 4.5h1m-9.5 -5.5h1m12.5 22h1m-15 -1.5h1m-1 -16h1m4 3.5h1m5.5 6.5h1m-0.5 1h1m-8 3h1m-3.5 -10h1m2.5 19h1m-5.5 -23.5h1m4.5 4h1m-0.5 2h1m-6 14h1m12.5 -12h1m-16.5 -11.5h1m-1.5 19.5h1m0 -5.5h1m-1 -9h1m-2 6h1m0.5 -10.5h1m15 8h1m-4.5 8.5h1m-10 1h1m5.5 -16.5h1m3.5 2h1m-15 4.5h1m6 6.5h1m-6 0.5h1m-7 -1.5h1m-2 0.5h1m11.5 -1h1m-0.5 6h1m-6 -16h1m6.5 14h1m-3.5 -11h1m-8.5 16h1m7 -7h1m-2 -5h1m-0.5 12.5h1m-4.5 -10h1m-8 -4.5h1m-3 -5.5h1m2.5 6h1m12.5 -11h1m-2 11.5h1m2.5 12.5h1m-11.5 -7h1m6.5 4.5h1m1.5 2h1m-7 -0.5h1m2.5 -6.5h1m-6.5 1h1m-5.5 1h1m0 -11h1m4.5 14h1m-4 -7.5h1m-5 0h1m-8 7.5h1m14.5 -7.5h1m-1.5 12.5h1m0.5 -22.5h1m-6 16h1m-9.5 -11h1m8.5 2h1m-13.5 4h1m6 -11h1m2 8.5h1m10 9.5h1m-15.5 1.5h1m-2 -13.5h1m-4 -8.5h1m2 15.5h1m2.5 1.5h1m1.5 -9h1m0.5 -1.5h1m-5.5 -5.5h1m5.5 23h1m-16 3h1m11 -22h1m-6.5 -1.5h1m8 -2.5h1m-6 8h1m-3.5 -7.5h1m6.5 24h1m-11.5 -13.5h1m5.5 -2.5h1m-0.5 18h1m-3.5 -17.5h1m2 -6.5h1m-7.5 0h1m2.5 22.5h1m1.5 -7.5h1m-2.5 -1.5h1m8 -5.5h1m-4 0.5h1m-2.5 -8.5h1m-9.5 2h1m11.5 9.5h1m-11 2h1m-5.5 -14.5h1m8.5 -5h1m-3 14h1m0 -2h1m2 7h1m3 -6h1m-9.5 -3h1m-0.5 -9.5h1m-4.5 13h1m5 -4.5h1m-0.5 1h1m4 9.5h1m-14 -9h1m-1 4h1m-1.5 0.5h1m11 0.5h1m-5.5 0h1m1.5 5.5h1m-17 -3h1m19 -12.5h1m-11.5 3h1m-6 14.5h1m-1 -25h1m11.5 23h1m-20 3.5h1m10 -25h1m6.5 0h1m-7 -1.5h1m2.5 8h1m-4.5 24.5h1m-6 -36.5h1m4 13.5h1m-4.5 19h1m-7.5 -18h1m0 -7.5h1m11.5 11.5h1m-8.5 3h1m-2 1.5h1m-5 5.5h1m8 -22h1m7.5 8.5h1m-7.5 0h1m4.5 8h1m-17.5 7.5h1m2.5 -26.5h1m9.5 21h1m3 -5.5h1m-19.5 0h1m14 -3.5h1m-5.5 13h1m2 -3h1m-12.5 -7.5h1m6 3.5h1m2 -4.5h1m4 1.5h1m-11 9.5h1m2 5h1m-9.5 -24.5h1m11.5 8.5h1m2.5 -1h1m-14 6h1m-7 9.5h1m8 -3.5h1m3.5 -6h1m-8.5 -6h1m8.5 20h1m5 -12h1m-5 -8.5h1m-17.5 4h1m10.5 -4.5h1m-8.5 -1.5h1m6.5 13h1m-12.5 -9.5h1m17 8.5h1m-4.5 -3.5h1m3 -2.5h1m-7 10h1m-3.5 -0.5h1m7 4h1m0 -13h1m-10.5 3.5h1m-3 -0.5h1m1.5 3h1m-3 -24.5h1m-3.5 30h1m13 -21h1m-12.5 24h1m-1 -11.5h1m5.5 -9.5h1m-4.5 13h1m-0.5 -14h1m-5.5 3.5h1m3 6.5h1" stroke="#33cc44" stroke-width="1" stroke-opacity="0.45" fill="none"/>
<path d="M208.5 457h1m-7.5 7h1m-3.5 -5.5h1m2.5 -2.5h1m-3 5h1m-2.5 14.5h1m-2 -2h1m7.5 -6h1m-10 -24.5h1m5.5 26.5h1m-3.5 -8h1m2.5 9h1m1 -16.5h1m-4.5 6.5h1m-3.5 7h1m5 8h1m5.5 -5.5h1m-12.5 -7h1m-0.5 10.5h1m2.5 -14h1m-8 11.5h1m4 -4.5h1m0 10.5h1m-4.5 -2h1m-3 -6h1m2.5 7.5h1m5 -14h1m-4 10h1m-2 -3h1m-3 -0.5h1m1.5 -5h1m5.5 0h1m-10 3h1m-3 -13.5h1m-3.5 8.5h1m8 3.5h1m-3 -12h1m3 21h1m-7 -3.5h1m2.5 0.5h1m-7.5 -2.5h1m7 -16h1m-11.5 11h1m11.5 1.5h1m-1 0h1m-9.5 5.5h1m-4.5 -15h1m-1.5 18h1m-2 -10.5h1m1 3h1m-2.5 4h1m9 -5h1m-5.5 7.5h1m-4.5 -0.5h1m8 -6h1m1 2h1m-15 -12h1m0 8h1m0.5 -7h1m2.5 -2.5h1m2 10h1m-5 11h1m-3.5 2.5h1m-1 -17h1m9.5 -3h1m-6 -8h1m-2 18h1m1.5 -3.5h1m-6.5 10.5h1m7.5 -8.5h1m-2 -16h1m-9 8h1m5.5 14h1m-7.5 -6.5h1m2 -5.5h1m4.5 10h1m-6 -3h1m-4.5 6h1m3 -8.5h1m2.5 -1.5h1m-8 0h1m3 8h1m-0.5 -11.5h1m-8 -9h1m4.5 9h1m0 -9h1m-4.5 9.5h1m11 4h1m-7.5 0h1m-8.5 -4.5h1m0 10h1m-1 -7h1m6.5 2.5h1m-1.5 -11h1m-8.5 4.5h1m15.5 12.5h1m-6 -20.5h1m-10.5 17h1m1.5 13h1m3 -16h1m-4 3.5h1m-1 -1.5h1m8 4.5h1m-14 -12h1m-3 12.5h1m3 -20h1m5.5 8h1m-1 15.5h1m-1 1h1m5 -6.5h1m-5 -0.5h1m-7.5 3h1m-2.5 -16h1m-3 18h1m-4.5 -20h1m9.5 0h1m-5 16.5h1m-3 -9.5h1m-2 17h1m-3.5 -9h1m5.5 -5.5h1m-5.5 -12.5h1m4 -2.5h1m-2.5 14h1m-2.5 -11.5h1m8.5 20.5h1m-16 -9.5h1m16.5 6.5h1m-3 -13h1m-15.5 12.5h1m12.5 -7.5h1m-5 0h1m-1 7.5h1m-12 0.5h1m4.5 -11.5h1m4.5 5.5h1m5 0h1m-14 -9h1m10 17h1m-1 -3.5h1m-8.5 -5h1m10 16.5h1m-19.5 -4.5h1m7 -11.5h1m-5.5 11.5h1m2 -12.5h1m-5 14h1m2.5 1h1m-3 -16h1m2 -0.5h1m-7.5 2.5h1m0 4h1m8.5 -2.5h1m-6.5 7.5h1m-1.5 -6h1m-4 -24.5h1m7 21.5h1m-8.5 12h1m5.5 -6.5h1m2 -8h1m-8.5 12.5h1m-3 -10.5h1m0.5 -10.5h1m6.5 15.5h1m1.5 -20h1m-7 3.5h1m-5.5 16.5h1m2 -4h1m1 -12h1m-4.5 5h1m1.5 1.5h1m-6.5 8h1m1 7.5h1m-3 -8h1m3.5 -16h1m3 23h1m-1.5 -19h1m-4.5 10.5h1m-7 -2h1m5.5 10h1m0.5 -1h1m-5 4h1m2.5 -4.5h1m-3.5 -2h1m5 -13h1m-5 22.5h1m-5 -4.5h1m12.5 -19h1m-18 11h1m-1.5 3.5h1m9 2.5h1m-2 -7.5h1m1 -8.5h1m-11.5 9.5h1m3 2h1m5.5 0h1m-6.5 1.5h1m-1 -4h1m1.5 5.5h1m-6.5 -18h1m11 13.5h1m-13 1.5h1m5.5 1h1m11.5 0.5h1m-21.5 5.5h1m7.5 5.5h1m-4 -15h1m6 3h1m-7 4h1m-1 -13.5h1m-1 14h1m-2 8.5h1m-1 -14.5h1m-5.5 -3.5h1m5 1h1m7 -1h1m-14.5 10.5h1m14 -14.5h1m-13.5 4.5h1m6.5 12.5h1m-6 -9.5h1m-2 0h1m4 -4h1m-4 5h1m-1.5 6.5h1m-2 -12.5h1m-2.5 -8.5h1m2.5 21h1m-4.5 -10.5h1m-1.5 0h1m0 -4.5h1m4 7.5h1m-5 2.5h1m2.5 -12h1m-8.5 -2.5h1m-3 12.5h1m11 7h1m-14 -15.5h1m5 9.5h1m3.5 14h1m-10.5 -24.5h1m6.5 21.5h1m0.5 -5.5h1m-8.5 -7h1m12.5 6.5h1m-3 -19.5h1m-13.5 17h1m3.5 -13.5h1m2.5 7h1m-7.5 3h1m9 7.5h1m-1.5 -5.5h1m-8.5 -2.5h1m12 7h1m-16.5 2.5h1m3.5 -1.5h1m-4.5 -4h1m9 -6.5h1m1 6h1m-6 -8.5h1m-5.5 9h1m5 4.5h1m-2.5 -10h1m0 6h1m3.5 -13.5h1m-4 16h1m-8.5 1.5h1m-4.5 -1h1m3.5 -2.5h1m1.5 -14h1m-4.5 10.5h1m0.5 -2.5h1m-4 13.5h1m0 -20h1m5 0h1m-4 9.5h1m-4.5 -8h1m1.5 -2.5h1m4.5 0.5h1m-0.5 15.5h1m-5 -3.5h1m-5 -6.5h1m6 3h1m-0.5 -15.5h1m-7 22.5h1m3 6h1m-4 -12h1m-7.5 4.5h1m4.5 -11h1m-2.5 11h1m3.5 -4h1m-8.5 -12.5h1m15.5 12h1m-17 0.5h1m6 4h1m4.5 2.5h1m-8.5 -3h1m-5 -17.5h1m-1 9h1m2.5 6.5h1m3 -8.5h1m-10 6h1m1 2h1m9.5 1.5h1m-8 -16h1m0 9.5h1m9 12h1m-17.5 -10h1m9 14.5h1m0.5 -11.5h1m-3 -10.5h1m-5 11.5h1m1 -11.5h1m-1.5 19.5h1m-6 -6.5h1m-1.5 -9h1m9.5 11.5h1m-13 -14h1m11 12h1m-3 -7.5h1m-10.5 -19h1m5.5 15h1m4.5 4.5h1m-10 -1.5h1m8 -8.5h1m1.5 1.5h1m0.5 10h1m-17.5 -3h1m4 -3.5h1m-5.5 7h1m7 -6.5h1m-7 4h1m2 17.5h1m0.5 -19h1m1.5 9.5h1m5.5 -5h1m-12.5 -1.5h1m-5 -8.5h1m-3 6.5h1m1.5 6.5h1m7.5 8h1m-12 -11h1m2 -9h1m4.5 20h1m3.5 -6h1m-9 -3.5h1m-2.5 -2.5h1m4.5 -8h1m-3 0.5h1m-8 -4.5h1m11 6.5h1m-6 17.5h1m-1 -4.5h1m1 -9.5h1m-7.5 10.5h1m1.5 -16h1m-4.5 -4.5h1m6 16.5h1m-1 -3.5h1m3.5 -5.5h1m-12.5 -5h1m13.5 9h1m-6.5 0h1m-6.5 -5.5h1m-4 -1.5h1m9.5 -10h1m-6 25h1m-1.5 -5.5h1m3 1.5h1m-7.5 5h1m6.5 -9.5h1m-2.5 2.5h1m-1 1h1m-7.5 -7h1m0 2h1m0.5 10.5h1m1.5 -3.5h1m10 1.5h1m-20.5 -7h1m4 -5.5h1m-4.5 13.5h1m1.5 -5.5h1m-2 -11.5h1m-1.5 12.5h1m0 9.5h1m3 -12.5h1m-2.5 6.5h1m-2 -6.5h1m-6.5 8h1m11.5 -13h1m-2.5 8h1m-7 2h1m-6.5 6h1m3.5 -11h1m-1.5 -7h1m4.5 9h1m0 -6h1m-0.5 3.5h1m-2.5 -12h1m-4 11.5h1m-3 6.5h1m-2.5 -16h1m14 1.5h1m-10.5 -5.5h1m0 4.5h1m0.5 5.5h1m5 16h1m-10.5 4.5h1m-0.5 -12h1m-6.5 -4h1m3.5 -1.5h1m-5.5 -6h1m4.5 0.5h1m-1 7h1m1 1.5h1m-7.5 -11.5h1m13 10h1m-13 -12h1m7 -1h1m-8 9.5h1m-1 4.5h1m4.5 4h1m-6.5 -15h1m2.5 11h1m-5.5 -9h1m2 3.5h1m8 0.5h1m-14 5h1m9 0.5h1m-7.5 1h1m0.5 -5h1m-3.5 9.5h1m4 5h1m-12 -6h1m18.5 9h1m-21.5 -11.5h1m13 -5.5h1m-4.5 -1h1m-0.5 6.5h1m-5.5 2h1m-2 -7h1m5 -11.5h1m-9.5 7h1m1 -4.5h1m2.5 3.5h1m-0.5 1.5h1m-2.5 3.5h1m-1.5 -7.5h1m-1.5 -1h1m-1.5 -3.5h1m3.5 13.5h1m-1.5 1h1m-10 3.5h1m13 1h1m-10.5 -15.5h1m-5.5 9.5h1m9.5 -4.5h1m-4.5 2h1m-7.5 -2h1m5.5 5.5h1m12.5 -1h1m-15.5 -5h1m-1 -2.5h1m1.5 -1.5h1m2.5 5.5h1m-7.5 -18h1m-3.5 14.5h1m2 13h1m-7 -3h1m6.5 -7.5h1m-4.5 -2.5h1m2 10.5h1m-3.5 -9h1m-5.5 2h1m4 8.5h1m10 1h1m-3 -5.5h1m-12 1h1m1.5 5h1m4 -8.5h1m-5 -0.5h1m-6.5 9h1m0 -7.5h1m0.5 -10h1m-3 11h1m1.5 -0.5h1m8 7.5h1m-8 -1h1m0 -1.5h1m-6.5 -2h1m9.5 2h1m-6.5 -13h1m-1.5 8h1m-3 1.5h1m4.5 2h1m0 -3h1m-11 9h1m12 -13.5h1m-8.5 12h1m-1.5 -8h1m15 -4.5h1m-23 2h1m10.5 2.5h1m-8.5 8h1m-3.5 -0.5h1m11 -4.5h1m-2 3h1m-5 -6.5h1m-7.5 3h1m4.5 6.5h1m-1 -0.5h1m1.5 -12h1m-7 1.5h1m5 6.5h1m3.5 11h1m-13.5 -12h1m3.5 1h1m3.5 10.5h1m-12 -18h1m12.5 11.5h1m-8.5 -10.5h1m5 -5.5h1m-4 -1h1m-1 1h1m-9 19.5h1m15 -26h1m-4.5 20.5h1m-4.5 -14.5h1m2.5 1.5h1m-13.5 5.5h1m9 -6h1m-8 5.5h1m10 -4.5h1m-4.5 15h1m-7.5 -20h1m5.5 11.5h1m6 -1h1m-5 0.5h1m-7.5 2.5h1m0 -0.5h1m-3.5 4.5h1m5.5 -8h1m-9 -1h1m-6 4h1m2.5 -2.5h1m9.5 4h1m-8 5h1m7 -0.5h1m-6 -14h1m-8 1h1m2 7h1m3 -4.5h1m-4 4h1m-7 -14.5h1m12.5 26.5h1m-3 -13.5h1m-3 1.5h1m-4 -10h1m-6 14.5h1m10 -9.5h1m-10.5 4h1m1 -1.5h1m-4 -7h1m-0.5 21.5h1m3 -5h1m1.5 -7.5h1m-0.5 6.5h1m-5.5 -10h1m-4 10h1m-1 -2h1m-0.5 3h1m-2.5 -11.5h1m11.5 6h1m-8 -3.5h1m-5 -2.5h1m5.5 9h1m-9 -10.5h1m-2.5 9.5h1m14.5 1.5h1m-8 -10h1m-1.5 -3h1m-3.5 11.5h1m0 2h1m-2.5 -2h1m2 -1.5h1m4 -1.5h1m-12 -2h1m9 -1.5h1m5 8.5h1m-5 1.5h1m-1.5 -12h1m-7.5 3h1m-1 3.5h1m-4 -1.5h1m0.5 -5.5h1m3.5 15.5h1m4.5 -15h1m-11 11h1m0 -8.5h1m8 3.5h1m-11 -7h1m7.5 5h1m-8.5 -6.5h1m-6.5 12h1m0 -4.5h1m-2 10.5h1m1.5 -1h1m1.5 -19h1m-8 1.5h1m9 13.5h1m-5 8.5h1m-5 -15.5h1m0 9.5h1m3.5 -9h1m-3.5 -12.5h1m3 15h1m-1.5 -7h1m-6 -13h1m7 20.5h1m-2 10h1m-1 -12.5h1m-3.5 13h1m4 -5.5h1m-10 -15h1m9.5 6.5h1m-10 3.5h1m2 -4.5h1m-9.5 2h1m12.5 -6h1m-4.5 6.5h1m-6 4h1m5.5 -13h1m-12 7.5h1m3 -16.5h1m9 32h1m-2 -25h1m-5.5 13h1m7 -7h1m-13.5 2.5h1m0 -7h1m10.5 16h1m-12 -0.5h1m5 -7.5h1m-8.5 1.5h1m-4 -14h1m2.5 13h1m7 0.5h1m-5.5 -15.5h1m-3.5 18.5h1m-0.5 -15.5h1m-3 16.5h1m-3 1h1m2.5 -3.5h1m0 10.5h1m5 -10.5h1m4.5 7.5h1m-10 -26.5h1m-1.5 25.5h1m2.5 -1h1m-8 -0.5h1m-4 -15.5h1m10.5 15.5h1m-5.5 5.5h1m0 -18h1m-1 -1h1m0 1h1m-9.5 12.5h1m6 -1.5h1m-3 -6h1m12.5 -1h1m-12 6.5h1m-0.5 -1.5h1m7 7h1m-12 2.5h1m-0.5 -5h1m6 -6h1m-8.5 -5.5h1m-2 -2.5h1m-2 5.5h1m5 7h1m-9.5 -18h1m3.5 16.5h1m-2.5 -15h1m7 6h1m0 11h1m-6 -11h1m-1 0.5h1m-11 4.5h1m4 -4.5h1m2 6.5h1m-3.5 -4h1m5.5 5.5h1m-6 -6.5h1m-3.5 4h1m6 4.5h1m-11 -3h1m6 -4.5h1m-2.5 8h1m-5 -14.5h1m-0.5 7h1m8 8.5h1m1 -14h1m-12 19.5h1m-2 -13h1m3.5 -19h1m-6 24.5h1m1.5 -3.5h1m3.5 3h1m1 1h1m-12.5 5h1m12.5 -14h1m-2 -2.5h1m0 8h1m-8.5 0.5h1m0.5 2h1m1.5 4h1m-4.5 -15h1m-0.5 11h1m-1 3.5h1m6 -1.5h1m-14 -10h1m16 2.5h1m-11.5 15.5h1m-6 -21h1m-2.5 -1.5h1m6.5 13h1m-0.5 -7.5h1m7.5 7h1m-1.5 -9h1m-15 14.5h1m0 -4.5h1m4.5 4.5h1m3.5 -12h1m-13 5.5h1m10.5 -2.5h1m-10.5 2.5h1m6.5 -3.5h1m-8.5 12.5h1m7 -6.5h1m3 3.5h1m-10 -15.5h1m3 9.5h1m0 5.5h1m-12.5 -13.5h1m9 6h1m-6.5 -11h1m1.5 13h1m-7.5 5h1m4 -4.5h1m1 0.5h1m-7 -12.5h1m9 10.5h1m3.5 -5h1m-4 -6.5h1m-11.5 5.5h1" stroke="#eedd55" stroke-width="1" stroke-opacity="0.2" fill="none"/>
<path d="M202.5 501.5h1m4 -6h1m-7.5 8h1m-3 -11h1m1.5 11h1m7 -4h1m-11.5 -7.5h1m13 3h1m-11.5 3h1m5.5 -7.5h1m-5 11h1m5 1.5h1m-7 -5.5h1m-6 7h1m11.5 -3.5h1m2 -8.5h1m-9.5 -1h1m-8 10h1m10 8h1m5.5 -11.5h1m-12.5 -7h1m2.5 13h1m0.5 -6.5h1m-10.5 8.5h1m7.5 -1.5h1m-11 -8.5h1m4.5 3.5h1m6 -0.5h1m-15 -2h1m-1.5 3.5h1m-0.5 -7h1m12.5 7.5h1m-10.5 0h1m-2 -10h1m7.5 9.5h1m-1.5 6.5h1m-11.5 -8.5h1m6.5 -4h1m-4.5 -2h1m2.5 12.5h1m-9.5 -4.5h1m8 2.5h1m-5 1.5h1m-6.5 -6.5h1m6.5 -6.5h1m-3 8.5h1m9 -5h1m-6.5 -3h1m-3.5 5.5h1m-6 3h1m3.5 5h1m-1.5 -4.5h1m14.5 -6h1m-19.5 3h1m16 6.5h1m-12 -1.5h1m3.5 2.5h1m-13 -4.5h1m12 3h1m-13.5 -2h1m-1 0h1m7 -12.5h1m-5 13h1m4 -1h1m-4.5 -3.5h1m2.5 5.5h1m-10 -9h1m14.5 12.5h1m-11 -5h1m5.5 -12.5h1m-12.5 13h1m0 2h1m2 -5.5h1m10.5 5h1m-17.5 -2.5h1m0 1h1m-3.5 -8.5h1m1 7h1m0.5 -2h1m3.5 6.5h1m-7.5 -2.5h1m-1 -4h1m-2 -3.5h1m3 1h1m2 -7.5h1m-3.5 8.5h1m19 12.5h1m-24 -22.5h1m-2.5 10.5h1m4 4h1m2.5 -0.5h1m-1.5 3.5h1m-6 -3.5h1m6.5 0.5h1m-5.5 -3.5h1m0 2.5h1m-2.5 -10h1m0 9h1m9.5 -11h1m-5 13.5h1m-7 -4h1m-4 -4.5h1m4 5h1m2.5 -0.5h1m2 11h1m-9 -3.5h1m-4.5 -5.5h1m6.5 4.5h1m1 -12.5h1m-7 5.5h1m-0.5 1.5h1m6 1.5h1m-8 -3.5h1m4.5 9.5h1m0.5 -17h1m-5 17.5h1m-4 -6.5h1m-4.5 -11.5h1m0 9h1m-5 0h1m12.5 7h1m-11.5 5h1m-0.5 -16.5h1m2 1.5h1m-4 -4h1m-4 5.5h1m-3.5 7.5h1m2.5 -1.5h1m-4.5 -2.5h1m3 -3.5h1m0 2.5h1m6.5 -8h1m-7.5 19.5h1m-3 -9.5h1m1 -3h1m7.5 4h1m-6.5 3h1m-10 -5.5h1m10.5 -3.5h1m-10.5 6.5h1m12.5 -3h1m-7.5 4.5h1m-3 5h1m-2.5 -17h1m4 6h1m-7 0.5h1m-3.5 1h1m3.5 4h1m1.5 -5.5h1m-10.5 12.5h1m1.5 -2.5h1m-3 -11.5h1m13 -9.5h1m-11.5 2h1m1 7h1m-4.5 4h1m2 1h1m7.5 -6h1m-10 5.5h1m-2 -1.5h1m2.5 3.5h1m-5.5 -5h1m-3.5 -10.5h1m6 13.5h1m7 -5.5h1m-14 11h1m-4 -1h1m5.5 -2.5h1m6.5 -14.5h1m-6 0h1m3 10.5h1m-5.5 7h1m4.5 -12h1m-8.5 14.5h1m5 -5.5h1m-8.5 2.5h1m12.5 1h1m-4.5 -16h1m-16 10h1m3 -2h1m7.5 10h1m-4 -15.5h1m-6.5 14h1m-4 -7.5h1m4.5 -1.5h1m2.5 0h1m0 3h1m2 6.5h1m-12.5 0.5h1m-0.5 -12h1m-0.5 8h1m1 -7h1m12.5 2.5h1m-15 0.5h1m-3.5 0.5h1m4 -6h1m-4 9.5h1m7.5 -7.5h1m5 3.5h1m-3.5 -2.5h1m-5.5 13h1m-8.5 -14.5h1m2 12.5h1m3.5 -1.5h1m-7.5 -8.5h1m13.5 7h1m-11.5 -5.5h1m-7 -2.5h1m5 -1h1m-4 7.5h1m-2 -17.5h1m2 15h1m3 3.5h1m3.5 -4.5h1m-10.5 -2h1m-0.5 8h1m-9 -5h1m9 -3.5h1m0.5 -9.5h1m-9 15.5h1m7.5 -1h1m0.5 2.5h1m-10 -10h1m3.5 9h1m1 -13h1m-7 12h1m6.5 -6h1m-10.5 2h1m8 5h1m-0.5 4h1m-8 -18h1m-5.5 4h1m-1.5 8.5h1m9 4h1m-5 1h1m-6.5 -3.5h1m7 -9h1m1.5 5.5h1m-3.5 2.5h1m7 -18h1m-5 9.5h1m-2 -1.5h1m-8.5 12.5h1m0.5 -9h1m-7 -2h1m2.5 -9.5h1m12 15h1m-11 -1h1m5.5 10h1m-5 -8h1m0.5 -1.5h1m0.5 -2.5h1m-12.5 6.5h1m7 -8.5h1m-3 9.5h1m2 -10.5h1m-5 2h1m7 5.5h1m1.5 -14.5h1m-9 15h1m3.5 -7.5h1m-11 2h1m11 -7h1m-11.5 5h1m5.5 7.5h1m-8 7.5h1m0 -18h1m-3 2.5h1m5.5 -1h1m0.5 12.5h1m-10 -0.5h1m19.5 -8h1m-18.5 6.5h1m4.5 -8.5h1m0 13.5h1m-3 -0.5h1m-7 -10.5h1m-0.5 1.5h1m18.5 -11.5h1m-16.5 22.5h1m3 -4.5h1m-12.5 -6.5h1m9 8h1m0 -14.5h1m8 5.5h1m-14 -4.5h1m0.5 -6h1m-1.5 14.5h1m4.5 -9.5h1m-7.5 5.5h1m3.5 2h1m4.5 -9.5h1m-16 13.5h1m2 5h1m-5 -13.5h1m4 8h1m1.5 -2.5h1m-2.5 -3h1m2.5 0h1m-10.5 4h1m-1 -6h1m13 4.5h1m0.5 -1.5h1m-9.5 -10h1m-8 17.5h1m4 -8.5h1m-4 -0.5h1m-2 4h1m4 -1h1m-3.5 0.5h1m-1 -1h1m-0.5 -0.5h1m9 0h1m-12 9.5h1m8 -15.5h1m-7.5 12h1m3 -7h1m-5.5 9.5h1m1.5 -11.5h1m-3 -7.5h1m8.5 13h1m-15.5 4h1m10 -8h1m-10.5 6.5h1m9.5 -15h1m-6 10.5h1m-2.5 2.5h1m3.5 4.5h1m-4 -12.5h1m-3.5 3.5h1m0 5.5h1m7.5 -10h1m0 4h1m-5 4h1m-7 -2.5h1m-3 2.5h1m6 -6h1m-11 9.5h1m8 -11h1m-1 9.5h1m5.5 -5h1m-13.5 1.5h1m6 -7.5h1m-3 4h1m-5.5 8.5h1m8 0.5h1m-14 -6h1m-1.5 -9.5h1m2.5 3h1m3.5 10.5h1m3.5 -6.5h1m4.5 1.5h1m-10 -0.5h1m0 -5h1m-2 10h1m5.5 0h1m-12 5h1m-1 -14.5h1m8 4.5h1m-13.5 -5h1m1 9h1m-1.5 -4h1m4.5 11.5h1m1.5 -15h1m1 8h1m-6 -4h1m1 -5h1m-2.5 -2h1m3 15.5h1m-6 -17.5h1m-1.5 11h1m8.5 3h1m-2.5 0h1m-2 -11h1m-13.5 15h1m6 -8.5h1m-4 -3h1m0 10.5h1m-6.5 -7h1m3 4h1m-0.5 -8.5h1m1 3h1m6 7h1m-0.5 -1h1m-8 -9h1m10 5.5h1m-19 4.5h1m6.5 -20h1m-8 6h1m3 0.5h1m11 4h1m-6.5 3h1m1 -11.5h1m-8.5 6h1m5.5 5h1m-2.5 -1h1m-3.5 1.5h1m7.5 10.5h1m-11 -14h1m-3.5 7.5h1m3.5 -4h1m-8.5 6.5h1m5 -13.5h1m-8.5 14.5h1m0.5 -8.5h1m3.5 -4.5h1m0 -1h1m-1.5 13h1m3 0h1m-9 -8h1m1.5 3.5h1m5.5 9.5h1m-2 -6.5h1m-3 5.5h1m-1 -3.5h1m-5 -3h1m8 -14.5h1m-11.5 7h1m7.5 7.5h1m-2 -1h1m-10 1h1m0.5 -9h1m4.5 -2h1m4 8h1m-3 -0.5h1m0 -3.5h1m5.5 -4h1m-9 10.5h1m-5.5 3.5h1m-4 -6h1m3.5 -1h1m-5 4h1m7 -7.5h1m4.5 -6h1m-10 7h1m11 10h1m-16 -2.5h1m4 -5h1m-8.5 5.5h1m0 -13h1m-3.5 0h1m-1 -3h1m0.5 10h1m-0.5 7h1m7 -8.5h1m-5 7h1m-7 -5h1m5.5 -9h1m4.5 16.5h1m-7 -5h1m-1.5 -6.5h1m3.5 1.5h1m3.5 -5h1m-11.5 -0.5h1m1.5 -4h1m-1.5 17h1m3.5 -11h1m-13.5 5h1m9.5 4h1m-5 4.5h1m-2.5 -11.5h1m3.5 -2h1m-5.5 3.5h1m4.5 4h1m-1.5 8h1m3.5 -16h1m-15.5 5h1m9 -1.5h1m-9.5 -4h1m17 3.5h1m-18 8h1m5.5 -15h1m3.5 2h1m-2.5 8h1m-5.5 1.5h1m0.5 -1.5h1m3.5 5.5h1m-14.5 -4h1m11 -3h1m6.5 4.5h1m-16.5 -2.5h1m0.5 -2h1m4.5 6h1m3 -2h1m-11 -12.5h1m-0.5 12.5h1m0 9.5h1m-1.5 -19h1m9.5 14.5h1m-6 -5h1m-6.5 0.5h1m4.5 -14.5h1m-1.5 6h1m-4.5 10.5h1m-0.5 6.5h1m-6.5 -1.5h1m18.5 -9.5h1m-17.5 6h1m2.5 -0.5h1m-9 -4h1m13.5 -1.5h1m-14 10h1m12 -9.5h1m-13 7h1m2 0h1m-5.5 -7h1m6.5 4.5h1m-0.5 2h1m-9.5 -7h1m7 -4h1m-1.5 2h1m-3.5 -7.5h1m-3.5 10h1m-3 -2.5h1m15 -8h1m-8.5 9h1m8 7h1m-15.5 1h1m-0.5 -11.5h1m20 13h1m-21 -12.5h1m-3.5 13.5h1m10.5 0.5h1m-7 -11.5h1m-7.5 0.5h1m10.5 -4.5h1m-9 4h1m5 6.5h1m-6 -4.5h1m-2.5 8h1m-1 -3.5h1m1.5 0h1m-1.5 3.5h1m10.5 -18.5h1m-6.5 12.5h1m-8.5 1h1m-6 -5h1m4.5 5.5h1m8.5 -9.5h1m-14 5.5h1m-3.5 4h1m2.5 4h1m-1.5 -2.5h1m0 -7h1m-1 5.5h1m3 7h1m-9 -13h1m13.5 -8h1m-15.5 12.5h1m2.5 2.5h1m-2 1h1m7.5 -7h1m-12 -1h1m2.5 3h1m9 8.5h1m-5 0.5h1m3.5 -3h1m-1.5 -1.5h1m-11.5 -13h1m1 4.5h1m4 4h1m4.5 6.5h1m-4 4h1m-6.5 -2h1m-1.5 -9.5h1m-4.5 -6h1m4 5h1m4 2h1m-13.5 5h1m10 1.5h1m-7.5 -0.5h1m-2.5 -12h1m5.5 11h1m-7 2.5h1m13.5 -2.5h1m-15.5 -18h1m5.5 13h1m1 -3.5h1m-4.5 -6h1m-10 10h1m12.5 1.5h1m-14.5 -4h1m2 3.5h1m11 -4h1m-4 6.5h1m-13.5 -18.5h1m2 8.5h1m3 0.5h1m7 11.5h1m-9.5 -7h1m2 6h1m-1 0h1m3 -4.5h1m-6 -2.5h1m4 -9.5h1m-11.5 19.5h1m4.5 -4.5h1m3.5 -4.5h1m-6 -6h1m-2.5 6h1m-2.5 0.5h1m-1.5 0h1m-3.5 -7.5h1m0 7.5h1m9.5 2.5h1m-13 -2.5h1m12.5 -8h1m-16 6h1m6 1h1m-2 3h1m0.5 -4h1m9 -0.5h1m-7 8h1m1.5 -6h1m-10.5 -8h1m1.5 8.5h1m-2 5h1m1 -6h1m0.5 -6.5h1m-3 9.5h1m-8 7h1m15 -9h1m-8 -0.5h1m-10.5 8.5h1m2.5 -9.5h1m7.5 -1.5h1m-0.5 6.5h1m-9 -6.5h1m-3.5 10h1m-1.5 2.5h1m0.5 -10.5h1m3 2h1m-1.5 -10h1m-4.5 10h1m3.5 -6.5h1m8.5 8.5h1m-9.5 -2h1m1.5 -10.5h1m-4.5 12h1m3 -5.5h1m-1.5 8h1m2 -10h1m3.5 9.5h1m-13 -11.5h1m2.5 6.5h1m-7 4.5h1m1.5 4h1m-2.5 -9h1m2.5 0h1m-4 -1.5h1m2 -6.5h1m-3.5 15h1m-0.5 -10h1m-3.5 12.5h1m2 -11.5h1m1.5 9.5h1m-10 -6.5h1m7.5 6.5h1m6.5 -18h1m-6.5 19.5h1m-9.5 -3h1m9.5 2.5h1m-9.5 2.5h1m13.5 -13h1m-12.5 -1.5h1m-8.5 11.5h1m1.5 -8h1m-2.5 1h1m-0.5 6h1m7 -7h1m-3.5 -1.5h1m8 0.5h1m-8.5 -2.5h1m-6 2.5h1m2 -6.5h1m0.5 7.5h1m-7.5 1.5h1m9 3h1m-9.5 -5h1m-2 8.5h1m-2.5 -8h1m2.5 1h1m3.5 1.5h1m8.5 -7.5h1m-10.5 1.5h1m0.5 11.5h1m-8 -10h1m11.5 9h1m2 2h1m-12.5 -12h1m2.5 5h1m5.5 2.5h1m-9.5 -1.5h1m-9.5 -6h1m1.5 5.5h1m5 1.5h1m0.5 4h1m9.5 -11h1m-19 7.5h1m14 -5h1m-10.5 6h1m-3.5 -5.5h1m3 10.5h1m-10.5 -4.5h1m8.5 -11h1m-2.5 6.5h1m-5 -2.5h1m2 7h1m-1.5 0.5h1m3.5 -19.5h1m-12.5 22h1m14.5 -16h1m-9.5 4h1m0.5 -3h1m6 4.5h1m-8 -5.5h1m3.5 8h1m-0.5 3.5h1m-2.5 4.5h1m-10 -9.5h1m5 8h1m-3 0.5h1m-3 -13.5h1m1 13h1m-4 -9.5h1m6.5 12h1m-8.5 -6h1m5 -15h1m3 -2h1m-3 24.5h1m-3 -13.5h1m-9 -1h1m6.5 3h1m-10 5h1m11 -1.5h1m-4 4h1m7.5 -10.5h1m-1 8h1m-4 1h1m-14 -14.5h1m9.5 13h1m-11.5 7h1m16.5 -2.5h1m-19.5 -10h1m12 2h1m-6 -8.5h1m-5 1h1m1.5 -0.5h1m-8 1h1" stroke="#2222dd" stroke-width="1" stroke-opacity="0.6" fill="none"/>
<path d="M312.5 499h1m-2.5 8.5h1m-22.5 -2h1m-1.5 0h1m19 4.5h1m-16.5 -2.5h1m-2 -5.5h1m15 -6h1m-11.5 9.5h1m-8 -3.5h1m13 6.5h1m-2 0.5h1m-14 -5h1m0 -6.5h1m9 11h1m0.5 -0.5h1m7 -3h1m-19.5 4h1m-4 -8.5h1m2.5 7h1m-2.5 -0.5h1m10 -13.5h1m0 9.5h1m8.5 -1.5h1m-13.5 -3.5h1m-7.5 11.5h1m12 -6.5h1m-16 2.5h1m6.5 2.5h1m-11.5 -4.5h1m10 -7.5h1m7 14h1m-15 -5.5h1m0 3h1m3.5 0h1m-9.5 -13.5h1m17 6h1m-23.5 7.5h1m18 -11h1m-6 10.5h1m-3.5 3.5h1m-7.5 -6h1m21 2.5h1m-16 -5.5h1m10 1h1m-3 4h1m-7 -3h1m7 0.5h1m-14 5.5h1m-4.5 -10.5h1m19 4.5h1m-11.5 0h1m4 4.5h1m4.5 0h1m-21 -11h1m-7 12.5h1m15.5 -6h1m-1.5 4h1m7 -11h1m-9.5 13.5h1m-12.5 -19h1m17.5 16h1m-13.5 2h1m-8 -8.5h1m4.5 7h1m-4 -2h1m14 3h1m-1.5 -1.5h1m-11 -3h1m0.5 0h1m-8 -1.5h1m5.5 0.5h1m-9.5 2h1m21.5 4.5h1m-21 -5.5h1m8 5h1m11 0.5h1m-19 -20h1m6.5 11h1m-14 3h1m9.5 -15h1m-2 12.5h1m4.5 9.5h1m5 -5.5h1m-19 2h1m17 -2h1m-9.5 5h1m-5 -1h1m6.5 -4.5h1m-6.5 4.5h1m-9.5 -2h1m19 -2.5h1m-14 3h1m-10.5 1h1m7.5 1h1m13.5 -8h1m-21.5 3.5h1m9.5 2h1m-10 2.5h1m-3 1h1m6.5 -1.5h1m10.5 -1.5h1m-7.5 -6h1m-1 -4h1m9.5 4h1m-9.5 -3h1m-17.5 5h1m5.5 2h1m5.5 1h1m3 1.5h1m-6.5 1h1m4 -2.5h1m-9 2.5h1m-3 1.5h1m7 -8.5h1m-0.5 5h1m8 -0.5h1m-27 3.5h1m23.5 -1.5h1m-24.5 -5.5h1m8.5 5h1m-4.5 -8h1m14 -2.5h1m-2.5 11.5h1m-19 -2.5h1m14 -1h1m-16 -10.5h1m18 9h1m-12.5 -1.5h1m9.5 5.5h1m-19.5 -5.5h1m11 7h1m7.5 -10.5h1m-1.5 2h1m2.5 -8h1m-17 15.5h1m-3.5 -4.5h1m18.5 -2h1m-12 -4.5h1m7.5 9.5h1m-15 -1h1m-3.5 -1h1m-6.5 -6.5h1m11 -2h1m-9 12h1m18 -15h1m0.5 6h1m-8 8.5h1m2 -7.5h1m-8 1.5h1m-12.5 6h1m-1 2.5h1m11.5 -7h1m3.5 5.5h1m-1.5 1h1m-11.5 -7h1m8.5 2.5h1m2.5 3.5h1m-13.5 -6h1m14 -5h1m-22 -3.5h1m18 2h1m-22.5 12.5h1m21.5 -3.5h1m-25.5 0h1m5 3h1m9.5 -1h1m-11.5 -8h1m5.5 2h1m-10.5 2.5h1m10 -1h1m-7 7h1m11 -4h1m-4 -9h1m-15 6h1m2.5 4.5h1m18 1.5h1m-26.5 -3h1m14 -4.5h1m6 5h1m0.5 -2.5h1m-22.5 -0.5h1m9.5 4h1m-2.5 2h1m-4 -0.5h1m3.5 -1.5h1m-7.5 -1h1m-4 4h1m1.5 -3.5h1m19.5 -7.5h1m-14 10.5h1m8.5 -6h1m-2 -1.5h1m-5.5 -1h1m-6.5 7h1m10 -2.5h1m-10 0h1m10.5 0.5h1m-1 -5h1m-23.5 8.5h1m4.5 -13.5h1m-9 6.5h1m3 6.5h1m5.5 0h1m-5 -5.5h1m7 -5.5h1m-16 1.5h1m15.5 4.5h1m6 0h1m-14.5 -3.5h1m7 8.5h1m-9 0h1m-9 -1h1m8 -6.5h1m-11.5 -3h1m20.5 4.5h1m-2.5 7h1m-5.5 -13.5h1m-5 9h1m-2 2h1m5.5 -0.5h1m8 0.5h1m-24.5 -7.5h1m21 8h1m0.5 0.5h1m-1 -4.5h1m-21 2h1m2 3.5h1m14 -8h1m-20.5 5.5h1m14 -5.5h1m-2.5 8.5h1m-10 -6h1m7 4h1m5 -6.5h1m-23 8h1m17 -8h1m5.5 6h1m-14 -2.5h1m-11.5 -12h1m9 11h1m-1 -2.5h1m2.5 -2.5h1m3 8.5h1m5 -2h1m-23 1.5h1m16 1.5h1m5 -10.5h1m-8 3.5h1m5 4h1m-9.5 -9h1m-18.5 2h1m2 0.5h1m11.5 0h1m2.5 9h1m-19.5 -9h1m21.5 5h1m-4.5 4.5h1m-4.5 -12h1m2.5 7.5h1m1.5 4.5h1m-7 1.5h1m5 -4h1m-20.5 -6.5h1m-0.5 10.5h1m9.5 -5h1m2.5 1h1m-10.5 -2h1m14 6h1m-17 -7h1m0 -7.5h1m4.5 7h1m-5 1.5h1m2.5 -6.5h1m5 4h1m2 7h1m3.5 -9h1m-0.5 -12h1m-0.5 15.5h1m-9 4h1m-12 -6h1m2.5 3h1m2 2.5h1m3.5 -1.5h1m-6.5 -2h1m-12.5 7h1m15.5 -2h1m-10.5 2h1m-7 -1h1m21 -1h1m-19.5 -5.5h1m-3.5 4h1m7.5 -3.5h1m5 5.5h1m-10 -2.5h1m3.5 0h1m-1.5 4h1m5.5 -10h1m-13 6h1m14.5 1.5h1m-13 -0.5h1m-4.5 -5h1m18.5 -1h1m-17.5 2.5h1m6.5 0h1m-1.5 -5h1m-17.5 1h1m12.5 -2.5h1m-9 11.5h1m1.5 -5h1m10 2h1m-12 -4.5h1m11.5 4h1m-16.5 -0.5h1m16.5 -1h1m-16.5 6.5h1m2.5 -21.5h1m-3.5 18.5h1m4.5 -7h1m-7 8.5h1m9 -4h1m-7.5 -4.5h1m-10.5 3h1m1.5 3.5h1m9 0.5h1m10 -6h1m-10.5 -1h1m-1 7h1m-13.5 -8.5h1m16.5 9h1m-6.5 -5.5h1m4 7.5h1m-14.5 -5h1m11 2h1m-11 3.5h1m2 -0.5h1m6 -7h1m-20 4.5h1m23 1h1m-25 -2h1m4.5 -0.5h1m3 0.5h1m-3 3h1m-8.5 -12.5h1m19 13h1m-6.5 -3h1m2 3h1m-18 -11.5h1m7.5 4h1m11 3.5h1m-7.5 0.5h1m-11 0.5h1m-5.5 -4.5h1m4.5 6.5h1m5.5 -3.5h1m9 -15h1m-14 8.5h1m15 9.5h1m-10 -8.5h1m8.5 -8h1m-23 16.5h1m11 -2h1m-0.5 2.5h1m-1.5 -1h1m3 -1.5h1m-1.5 -3h1m-18.5 -3.5h1m8.5 7.5h1m1.5 2h1m3.5 1h1m-7 -4.5h1m0 -18h1m-6.5 16.5h1m3 -2.5h1m2.5 1h1m-5.5 6h1m3.5 -3.5h1m2.5 0h1m-3 -7h1m-8 7.5h1m-6 -2h1m8.5 -3h1m-7 -1.5h1m2.5 -6.5h1m9.5 16h1m-23 -1.5h1m24.5 -0.5h1m-7.5 -11h1m4 7h1m-4 6h1m-8.5 -3.5h1m6 3h1m0 -1h1m-16 -3.5h1m8 3.5h1m-3.5 1h1m-11 -4.5h1m19 -2.5h1m-14 1h1m-2.5 0h1m0.5 2h1m9 -3.5h1m-10 2h1m-2 -5.5h1m-8.5 4.5h1m-2 4.5h1m23.5 -18h1m-20 12.5h1m-4 5.5h1m-1.5 3.5h1m-2.5 -16h1m22.5 16h1m-9 -11h1m-19.5 10h1m4.5 -10.5h1m4 10.5h1m15.5 -1.5h1m-21 1h1m17.5 -6.5h1m-14 7h1m-9 -8.5h1m16.5 5h1m-7.5 -4h1m-0.5 7.5h1m7 -11.5h1m-22 9h1m13.5 -13.5h1m-4 15.5h1m-7 -3.5h1m0.5 2h1m9 0.5h1m-5.5 0.5h1m-2 -0.5h1m-8.5 -4h1m3 5h1m-4 -5h1m11 -3h1m-6.5 -5h1m0.5 3.5h1m-14.5 3h1m21 2.5h1m-9 2h1m-2.5 0h1m0 -0.5h1m10.5 -6h1m-6.5 7.5h1m-5.5 2h1m-3.5 -0.5h1m6.5 -10.5h1m1 6h1m-5 -4h1m-3 8.5h1m6 0h1m-19.5 -3h1m10.5 -4h1m-6 6.5h1m-14 -4h1m20 4h1m-7.5 -13.5h1m3 13.5h1m-6.5 -4h1m-12.5 1h1m15 -1.5h1m4.5 4h1m-8.5 -6h1m-11 5.5h1m-0.5 1h1m4.5 0h1m3.5 -7.5h1m-2.5 4.5h1m-0.5 -7h1m10 6h1m-11.5 3.5h1m-3.5 -7h1m-13 2h1m14 2.5h1m2.5 -1h1m-7 3h1m7.5 -4h1m-23 5h1m5.5 0h1m17 1.5h1m-21.5 -1.5h1m16.5 -13h1m-5 14.5h1m3.5 -1h1m-0.5 -7.5h1m-22 8.5h1m18 -7h1m-10 2.5h1m2 0.5h1m-6.5 -7.5h1m-3.5 5.5h1m7 3h1m2 -8h1m-4.5 8h1m-4 3.5h1m12.5 -6h1m-0.5 6h1m-10 -3.5h1m-13 0h1m18.5 2h1m-8 -12.5h1m-18 12h1m25.5 -4h1m-2 4.5h1m-1.5 -0.5h1m-16.5 0.5h1m-8.5 0.5h1m8.5 0h1m-2.5 -2.5h1m12.5 0.5h1m-9 2h1m-6 -1h1m-8.5 -2.5h1m12.5 2h1m8 -9.5h1m-15 7h1m8 -1.5h1m1.5 2.5h1m-0.5 -3h1m-13.5 3.5h1m-10.5 2h1m1 1.5h1m5.5 -2.5h1m10 1.5h1m-6.5 -8h1m-5.5 5h1m-6.5 4h1m-0.5 -9.5h1m0 6h1m9 -4h1m3 6h1m1 -1.5h1m-20.5 0.5h1m21 -2h1m-17 -0.5h1m-9 -7.5h1m4 2.5h1m-5 2.5h1m21.5 7h1m-2 -8.5h1m0.5 4h1m-10 -9h1m-7.5 9h1m9 -2.5h1m-17.5 -12.5h1m4.5 11h1m-8.5 5h1m0.5 -4h1m18 4h1m-19.5 -3h1m15 4.5h1m-4 2h1m-16.5 -3h1m15 -6h1m-1.5 5.5h1m-10 -2.5h1m8 3h1m6 0h1m-10.5 -2h1m1 2h1m-8 3.5h1m17.5 0h1m-19.5 -5.5h1m16.5 0h1m-21 5.5h1m18.5 0h1m-16 -5.5h1m-9 -12h1m3.5 -1h1m6 12h1m-7 -3h1m10.5 -3.5h1m6 9h1m-8.5 0h1m7 -5.5h1m-27.5 8.5h1m25 -2h1m-9 0h1m-8.5 3h1m-2.5 -0.5h1m5.5 -5.5h1m-10.5 -3h1m13 8.5h1m1 -4h1m-19.5 -10.5h1m13.5 -2h1m-15 6.5h1m7 -1h1m8.5 1h1m-20.5 6h1m2 3h1m11.5 -3h1m-12.5 4.5h1m1 -0.5h1m-9 -7.5h1m15 -5h1m-13.5 1.5h1m11 6h1m-2.5 -8h1m3 12.5h1m-7 -1h1m-9 -2h1m11 1.5h1m8 -11h1m-15 5h1m-9 5h1m1.5 -6.5h1m7 8h1m-3.5 -4.5h1m8 -1.5h1m-18.5 7.5h1m4 0.5h1m9.5 -5.5h1m-12 -2.5h1m1 -6.5h1m14.5 13h1m-14 -5.5h1m-13.5 0h1m10.5 -6.5h1m-11.5 10.5h1m20 2h1m-6 -4.5h1m0.5 0.5h1m-6.5 -17h1m-2 11h1m-13 7.5h1m23 -1h1m-20.5 -5.5h1m11.5 7h1m-1 1h1m-13 -5h1m15.5 5h1m0.5 0h1m-3 -13h1m-13.5 8h1m8.5 1h1m-17 2h1m18 -10.5h1m3.5 4.5h1m-18.5 1h1m12 4.5h1m-21.5 4.5h1m14 -4.5h1m0.5 0h1m3.5 2h1m-11.5 2h1m6 -3.5h1m-8 0h1m3.5 -6.5h1m-4.5 4h1m1.5 5h1m-10 -11h1m3.5 2h1m7.5 -5h1m-8 7h1m13.5 -5h1m-17 5.5h1m-4 6h1m8 0.5h1m4 -3.5h1m-4 -5.5h1m8.5 5.5h1m-21.5 1h1m18 -5.5h1m-16 8h1m-3.5 -10h1m4 9.5h1m10.5 -15h1m-2 12.5h1m2 2h1m-2.5 -2h1m-15.5 -0.5h1m0 0h1m-6.5 1.5h1m12 0.5h1m-8 0h1m8.5 -11h1m-21.5 13.5h1m1.5 -8.5h1m11 0h1m4.5 0h1m-21.5 9h1m9 -1.5h1m5 -20.5h1m-9 19h1m10.5 2h1m3 -3h1m-20 -1.5h1m-2.5 1.5h1m5.5 -3h1m5 -3.5h1m-7.5 2.5h1m-6 0h1m-3 5.5h1m6.5 -5h1m-11 7h1m13.5 -10.5h1m-13.5 6h1m11.5 1h1m-14.5 3.5h1m-0.5 0h1m23 -4.5h1m-25.5 -4.5h1m13 5h1m-10.5 0h1m17.5 1.5h1m-1 -2h1m-24 -6.5h1m13.5 4.5h1m-5 3h1m11 2.5h1m-9.5 -3h1m-10.5 2.5h1m5.5 -2.5h1m-11.5 -1h1m16.5 4.5h1m-5 -5h1m9 -1.5h1m-15.5 1h1m1 -9.5h1m5.5 8.5h1m-2.5 3h1m-14 0.5h1m9.5 -18.5h1m-7 20.5h1m7.5 -10.5h1m-6 7.5h1m-0.5 -3.5h1m-4 4h1m11.5 -1h1m-9.5 5h1m10.5 -4h1m-24.5 -6.5h1m22 5h1m-21.5 1.5h1m13 1.5h1m-16 1.5h1m-4 -2.5h1m0 -2h1m7.5 1.5h1m16 -8.5h1m-5 11h1m-24.5 -8.5h1m9 -2h1m11 11.5h1m-15.5 -0.5h1m3 -4h1m3 0.5h1m9.5 -1.5h1m-20.5 -7h1m6 10.5h1m-0.5 -1h1m7.5 -7h1m-3.5 5h1m-14 -0.5h1m8 -1.5h1m-13 -2.5h1m5 7h1m-10.5 3.5h1m19.5 -4h1m-8 -8.5h1m-3.5 7h1m5 -2h1m-3 2.5h1m-4.5 0.5h1m11 -9h1m-14 -4h1m4.5 13.5h1m-4.5 3h1m-8.5 -3h1m20.5 3.5h1m-7 -3.5h1m5 -6h1m-19.5 -4.5h1m13 11h1m-23 3h1m23.5 -0.5h1m-18.5 -2h1m-8 0.5h1m8.5 -5h1m3.5 4.5h1m-5 1.5h1m2 -13h1m-7 7h1m15.5 0h1m-5.5 0h1m-14 0.5h1m1.5 3h1m-6 -6h1m4 8h1m-6 -0.5h1m5.5 -0.5h1m11.5 -8h1m-17.5 1h1m-4 3h1m9.5 4h1m9 0.5h1m-21 0h1m5 -2.5h1m-2.5 -8h1m3.5 -0.5h1m-1 1.5h1m-1 1.5h1m9 7.5h1m-15 -3h1m6 4h1m5.5 -0.5h1m-5 -3h1m-12 -3.5h1m9.5 0h1m-11 8.5h1m5 -9.5h1m10.5 9h1m-18 0.5h1m13.5 -4h1m-9.5 -6h1m-4 1h1m-1.5 4h1m9.5 0.5h1m4.5 2h1m-12.5 -1h1m-4.5 3h1m8 0.5h1m-16.5 -2.5h1m6 2.5h1m-8 -3h1m2 -1h1m-2 3h1m12 1.5h1m-16 -8.5h1m1.5 1.5h1m14 2h1m-23.5 -5.5h1m24 9.5h1m-1.5 -0.5h1m-20.5 -14h1m10.5 15h1m-2.5 -2h1m1 -1.5h1m1 -7h1m-5 6h1m-2.5 -0.5h1m-6 3h1m2 -2.5h1m7 1.5h1m-13.5 -5h1m9 -2h1m-7 -1h1m11 7h1m1 -0.5h1m-26.5 -2.5h1m13 4.5h1m8.5 1.5h1m-20 -1.5h1m-1.5 -7h1m19.5 8.5h1m-1 -10.5h1m0 10h1m-24 0.5h1m10 -8.5h1m-12.5 3h1m6 3.5h1m7.5 0.5h1m-1.5 1.5h1m3.5 -1h1m-5 -12.5h1m8.5 1h1m-16 11h1m12.5 -3.5h1m-13.5 -3h1m1.5 3.5h1m11 2.5h1m-6.5 3.5h1m-8 -1h1m-4 -3.5h1m-1.5 0.5h1m0.5 0.5h1m-0.5 1h1m-10 -4h1m17 0.5h1m-13 -0.5h1m-8.5 1h1m7.5 -1h1m-6 4h1m18.5 -10h1m-6 4.5h1m-7 -2h1m-13 -1h1m10.5 10h1m-10 -11.5h1m9 -1.5h1m-14.5 13h1m-0.5 -4.5h1m11.5 -2h1m-1 -1h1m7 -2h1m-12 5h1m13.5 -0.5h1m-17 -2.5h1m3 8.5h1m-15 -2.5h1m24.5 -4.5h1m-9.5 -2h1m-4.5 7.5h1m-7.5 -7.5h1m4.5 6h1m7.5 2.5h1m-19.5 0h1m17.5 -5.5h1m-7.5 -6h1m4.5 9.5h1m-12 1.5h1m7 1h1m-16 -1.5h1m11.5 -4h1m-4 -4.5h1m-4.5 8.5h1m13.5 0h1m-19.5 0.5h1m12 -6h1m-14.5 3.5h1m18 -6h1m-23 9.5h1m25 -0.5h1m-6 -9.5h1m-5.5 5h1m-11 -9.5h1m3.5 3h1m13.5 10.5h1m-23.5 -7.5h1m-3.5 5.5h1m0.5 -2.5h1m15.5 0.5h1m-9 5h1m11 -7.5h1m-14 0.5h1m2.5 6.5h1m-5 -3.5h1m6.5 1.5h1m4.5 -0.5h1m-21.5 2.5h1m10 -2h1m-1 -4h1m-12 3h1m4 -0.5h1m10.5 -6h1m-7.5 1h1m-1.5 2h1m-0.5 -4.5h1m14 11h1m-11.5 -5.5h1m-14 -2h1m3 7h1m10.5 -1.5h1m-1.5 -7h1m-12.5 8h1m4.5 -18.5h1m8 9h1m-19.5 2h1m21 -2h1m-0.5 10.5h1m-2 -3h1m-12.5 2h1m11 -0.5h1m-9.5 -9.5h1m5.5 4h1m-3 0.5h1m-5.5 -10h1m1.5 13.5h1m-7 3.5h1m-9 -3h1m8 -10.5h1m-10.5 10.5h1m2.5 2.5h1m7.5 -9h1m-4 9h1m-13 -2h1m4 -1.5h1m-4.5 -1h1m23 0.5h1m-21 -6h1m8 -1h1m1.5 -13.5h1m0 15h1m-10.5 4.5h1m10.5 -5.5h1m-3.5 9h1m4 -1.5h1m-25 2h1m24.5 -11h1m-15.5 -1h1m-5.5 10h1m-3.5 3.5h1m15.5 -3h1m-11.5 -8.5h1m-11 9.5h1m5 -0.5h1m0.5 -7.5h1m8.5 1.5h1m-4.5 -1h1m0 9h1m-15.5 -13.5h1m0 2h1m-1 -2.5h1m9 11h1m-1 0.5h1m-11 -2.5h1m17 -2h1m1.5 7h1m-19.5 -2.5h1m10.5 0.5h1m9.5 0.5h1m-22 -10h1m17 8.5h1m-0.5 2h1m-24 0h1m25 -2h1m-10 1.5h1m-7.5 -3h1m-11.5 1h1m1.5 4h1m16.5 -3h1m-11 -4.5h1m12.5 1.5h1m-12.5 1h1m-1.5 -1.5h1m1 1.5h1m-10.5 2h1m0 -3.5h1m7.5 -6.5h1m-4.5 9.5h1m-5.5 -0.5h1m12.5 -0.5h1m-0.5 -2.5h1m-9.5 -3h1m14 9.5h1m-21 -2.5h1m-5 -4h1m24.5 2.5h1m-16.5 0.5h1m12 -0.5h1m-7.5 0h1m-17.5 -1h1m21 -3.5h1m1 4h1m-8 1h1m-16.5 -5.5h1m18.5 5.5h1m-21.5 -7h1m15 -0.5h1m-12 4.5h1m15 1h1m-20 5h1m19 -11.5h1m-7 8h1m-18.5 -10h1m20.5 8.5h1m-9.5 -0.5h1m9 5h1m-21 -1h1m1 -3h1m16 4h1m-8 -3.5h1m-14.5 3h1m6.5 1h1m5 -7.5h1m-3 6h1m2.5 0h1m8 -13h1m-3 5.5h1m-6.5 8.5h1m0.5 -9h1m-13.5 7h1m-6.5 -3h1m8.5 3h1m0 2.5h1m-12.5 -4h1m22.5 2.5h1m-21.5 0.5h1m18 -3.5h1m-22.5 -5h1m1 9h1m10 -9h1m5.5 8.5h1m-17.5 0.5h1m-4.5 1h1m14.5 -1h1m-16.5 -10h1m1.5 8h1m17.5 -2.5h1m-21 -6.5h1m7 -0.5h1m8 9.5h1m-6.5 0.5h1m10.5 3h1m-12.5 -7h1m-2.5 5.5h1m-9 -8h1m11.5 2.5h1m-2.5 3.5h1m-2 -8h1m12 1h1m-14.5 1h1m-15 -13.5h1m5.5 22.5h1m10.5 -1h1m-13.5 0.5h1m10.5 -4h1m-10.5 3.5h1m17 -1h1m-22 -2h1m-4 -2.5h1m22 -3.5h1m0.5 10.5h1m-5 -12h1m-19.5 10.5h1m4 1h1m4.5 -2h1m-13 -0.5h1m15.5 -0.5h1m7.5 3h1m-8 -13.5h1m-19 -2h1m9.5 11.5h1m-7.5 2.5h1m20 -19h1m-2.5 16.5h1m-13 0h1m3.5 -4.5h1m-18 4.5h1m9.5 -5h1m-6 8.5h1m1 -8.5h1m8 -2.5h1m-4.5 9h1m5.5 -10h1m-5 8.5h1m-17 4h1m2 -4h1m-1 2.5h1m1 -6.5h1m18.5 4h1m-6 0.5h1m-17.5 1h1m-2.5 2h1m16.5 -2h1m-0.5 -6h1m-1 7.5h1m3.5 0.5h1m-2 -2h1m-11.5 2.5h1m6.5 -4h1m-8 2.5h1m-9 1.5h1m19.5 -0.5h1m-1.5 -7h1m0 2h1m-12 -5h1m4 10h1m-16 -1h1m-0.5 -8h1m13 2.5h1m-4 5.5h1m-2 -12.5h1m10.5 3.5h1m-25 1.5h1m8 1h1m-11.5 -4.5h1m19.5 2h1m-10.5 6h1m-6.5 -1h1m-3.5 5.5h1m18.5 -4h1m-7.5 -7.5h1m-18 9.5h1m4.5 -1h1m14.5 -4.5h1m-10.5 -1.5h1m-1.5 3h1m14.5 5.5h1m-6.5 -7.5h1m-16 4h1m13 3h1m-9.5 -5.5h1m10 5.5h1m-18.5 -1.5h1m-2 -8h1m9 6h1m6.5 -1h1m-4 3.5h1m-11.5 1.5h1m8 -2.5h1m-13 -6h1m-6 4.5h1m17.5 3h1m-2 -0.5h1m7.5 0h1m-11 -1h1m-5 1.5h1m12.5 -5.5h1m-24.5 6h1m-3 1h1m0.5 -10h1m14 8.5h1m-0.5 -1h1m1 -6h1m-14 8h1m-7 -5.5h1m8 6.5h1m2.5 -4h1m-11 -1.5h1m15 4h1m-2.5 -14h1m-9 6.5h1m-10 0h1m22 2.5h1m-17 1.5h1m7.5 1.5h1m-3.5 0h1m-11 -6.5h1m18.5 1h1m-18 9h1m14 -8.5h1m-1 7.5h1m-2 -7h1m-3 7.5h1m-1 -7.5h1m-14.5 6.5h1m21.5 -2h1m-3 -2.5h1m-5.5 -1h1m0 -1.5h1m-16 0.5h1m14 5h1m-7 -2.5h1m-8.5 0h1m12.5 0h1m-21.5 -2.5h1m1 3h1m15 -1.5h1m-5.5 5.5h1m1 -4h1m7 3h1m0.5 -11h1m-7 10.5h1m-19.5 -1h1m16 -5h1m-10.5 0h1m1.5 -9.5h1m13 9.5h1m-10 7h1m-16.5 -1.5h1m19.5 -4h1m-2 4h1m-1.5 -12.5h1m-16.5 10h1m17 -1.5h1m-1 4.5h1m-3.5 2.5h1m1 -2h1m2.5 -3h1m-3 2.5h1m-15 -16.5h1m-7 14.5h1m14.5 -7.5h1m-6.5 1h1m2 1.5h1m-2 5h1m9.5 3h1m-12 -13.5h1m11 9.5h1m-10.5 -4.5h1m3.5 3.5h1m-18 1.5h1m19.5 -5.5h1m-13.5 0.5h1m-4 8.5h1m6 -5.5h1m-15.5 0h1m5 3h1m-9 3h1m-1 -7.5h1m0 -2.5h1m24.5 8.5h1m-14 -2.5h1m-2 0h1m-2.5 -3.5h1m-2 6.5h1m6 -8.5h1m0 8.5h1m-18 -9h1m6.5 4.5h1m2 2h1m-5.5 2.5h1m-7 -12.5h1m11.5 11h1m5.5 -4h1m-0.5 -1.5h1m4.5 6h1m-15 -7h1m-3.5 -9h1m6 -0.5h1m6 2.5h1m-3.5 13.5h1m-23 -16h1m21.5 18h1m-17 -1.5h1m2.5 2.5h1m13 -3h1m-2 -5.5h1m-10 9h1m12 -4h1m-2 1.5h1m-2.5 -7h1m-10 -9h1m9.5 -9h1m-13 20.5h1m-10 -12h1m19 -7.5h1m-4 15.5h1m-20 -9.5h1m-2 7h1m23 -10h1m-25.5 5.5h1m16 13.5h1m-10 4h1m-4.5 -1.5h1m-7 -22h1m14.5 4h1m-13.5 18h1m20 -11.5h1m-18 -13.5h1m14.5 4h1m-15 18h1m-1 0.5h1m-1 -7h1m-5 -16h1m12 6.5h1m-17 16h1m21 -9h1m-21 -2h1m-2.5 -12h1m17 7h1m3 18.5h1m-17 -2.5h1m-8 -17h1m19.5 14.5h1m1 -21h1m-3.5 17h1m-3 -1h1m0 2h1m4 -9.5h1m-13.5 13h1m2.5 -1.5h1m-6.5 -19h1m-9 24h1m16.5 -18h1m-8 10.5h1m-8.5 -3.5h1m2.5 -8h1m10.5 20h1m-19.5 -24.5h1m10.5 24.5h1m-1 -22.5h1m1.5 15.5h1m-9.5 -15.5h1m11 -2.5h1m-9 3.5h1m10.5 15h1m-9 -11.5h1m-8.5 6.5h1m6.5 8h1m4 -15.5h1m-2 -4.5h1m-0.5 -1.5h1m-12 7h1m1.5 17h1m6 -18.5h1m-18.5 19.5h1m15 -23h1m0.5 -2.5h1" stroke="#000" stroke-width="1" stroke-opacity="0.75" fill="none"/>
<path d="M293 467h1m2.5 2h1m4 0h1m3 4.5h1m3 -14h1m-6 12.5h1m-3.5 -0.5h1m-1 1h1m-1 5.5h1m-4 -19.5h1m11.5 24.5h1m-9.5 -24.5h1m0 11h1m-13 0.5h1m7.5 -4h1m-8.5 -1.5h1m13.5 7.5h1m-1.5 -7h1m0.5 9.5h1m-20 -8h1m12.5 -15h1m2.5 7.5h1m-4 -1.5h1m-1.5 19h1m-7.5 -23.5h1m4.5 20.5h1m3 -23h1m4 9h1m0 14h1m-11 -5.5h1m-8.5 -11h1m5.5 13.5h1m4 -3.5h1m-6.5 -16h1m10.5 23.5h1m-11.5 -10h1m-0.5 0h1m-6 0h1m5 -4.5h1m-1.5 1h1m-1 8h1m5.5 -1.5h1m-9 -12.5h1m6 17h1m-7.5 -3.5h1m-12.5 2h1m0.5 6h1m17.5 -14.5h1m-5 -2.5h1m-11.5 11h1m-6.5 5h1m6.5 -8h1m6.5 -2.5h1m-3 9.5h1m5 -9h1m-14.5 -10h1m12 1h1m-4 3.5h1m-7.5 6.5h1m5 -1h1m1.5 7.5h1m-7.5 -19.5h1m9 19h1m-17.5 2h1m6.5 -15h1m2.5 4h1m-17 -0.5h1m3.5 -4h1m3.5 7h1m1 9.5h1m-6.5 -25h1m4.5 15h1m-8.5 -3h1m14 0h1m-0.5 6h1m-8.5 -10.5h1m2.5 4.5h1m-6 14.5h1m-9 -9.5h1m10 3.5h1m1 0h1m2 2.5h1m-5 -15.5h1m7 11h1m-9.5 -10.5h1m-2.5 9.5h1m-8 -8.5h1m4 15.5h1m-1.5 -18h1m-2 -3h1m0.5 9h1m2 -4.5h1m-2.5 4h1m-3.5 0.5h1m6 6.5h1m-12 -2.5h1m-6 5.5h1m15 5.5h1m5.5 -2h1m-15 -29h1m12.5 27h1m-14.5 -19.5h1m0.5 20.5h1m2.5 -7h1m3.5 6.5h1m-3.5 -2.5h1m-13.5 -10.5h1m18.5 -5.5h1m-4.5 0.5h1m-5 -2h1m-7 13h1m12.5 7h1m-13 0h1m4 -6h1m-4.5 -7.5h1m-5 12.5h1m7 2h1m-7 -2.5h1m3.5 -12.5h1m-1 1h1m-0.5 5.5h1m-10 10h1m3.5 -30.5h1m3.5 21h1m-11 -1.5h1m11.5 -1.5h1m-8 -6.5h1m7.5 7.5h1m-8 3h1m-3.5 1.5h1m4.5 11h1m-6.5 -13.5h1m4.5 3.5h1m-5 -9.5h1m0 -18.5h1m-12 23h1m20.5 -4h1m-1.5 0h1m-7.5 -10.5h1m-10.5 7.5h1m10 11h1m-15 -17h1m6.5 18.5h1m3 2.5h1m6 2.5h1m-4.5 -18h1m-5 9h1m3 3h1m-2.5 -22.5h1m4.5 16h1m-9.5 19h1m1.5 -17.5h1m5 -3h1m-11 9.5h1m8.5 -14.5h1m0 12h1m-5 -16.5h1m-9.5 12h1m2 -1h1m2 -7.5h1m-1.5 4.5h1m2.5 14h1m-13 -13h1m7 12.5h1m2 -19.5h1m-17 27h1m3.5 -13.5h1m12 9.5h1m0 -8.5h1m-6.5 -10.5h1m-10.5 4.5h1m3 18h1m-2.5 -19h1m1.5 10h1m0.5 -0.5h1m-9.5 -11.5h1m13 1h1m1.5 11.5h1m-18.5 -13.5h1m7.5 9h1m1 3h1m-7 -2h1m-2 1h1m4.5 11h1m-6 -16.5h1m8 -5.5h1m-2 19h1m-7.5 -13h1m5 -5h1m2 5.5h1m-16 -4h1m5 0h1m-8 1h1m0.5 6h1m17 10.5h1m-5.5 -6.5h1m-1.5 -4h1m-8.5 -4h1m-7.5 2h1m8.5 -16.5h1m-0.5 6.5h1m2.5 1h1m-18.5 16h1m14 1.5h1m7 -3.5h1m-13 -12.5h1m4.5 17.5h1m7.5 -16h1m-1 1.5h1m-7 16h1m-2.5 0.5h1m-5 -15.5h1m3 3h1m-5 -4h1m-2 11.5h1m10.5 0.5h1m-14.5 -14.5h1m6.5 6h1m-9 -3.5h1m3 -9.5h1m3.5 20h1m1.5 -11h1m-8 8h1m3.5 8.5h1m-3 -10h1m4.5 7h1m-5 -2.5h1m2 8h1m-8.5 -19.5h1m0.5 13.5h1m4.5 -1.5h1m2.5 -16h1m-9 17.5h1m-2 -2h1m-8 4h1m3.5 -8.5h1m2.5 8.5h1m5 -13.5h1m-12 -4h1m6 0.5h1m-11.5 7.5h1m8.5 -5.5h1m4 6h1m-5.5 -1h1m-3.5 -3h1m3.5 14h1m-8 -5.5h1m-3.5 -19h1m12.5 11.5h1m-10.5 4h1m4 -0.5h1m3 1.5h1m-13.5 0h1m-2 -13.5h1m6 13h1m2.5 -0.5h1m-4.5 -6h1m-5 10h1m7 -4.5h1m-1 -5h1m-14 2h1m-6 1h1m4 -2.5h1m-4.5 11.5h1m16.5 -7.5h1m-15 4h1m14.5 -17h1m-11 9h1m0 5h1m-2.5 -3.5h1m4.5 -3.5h1m-6 -1h1m-3.5 12.5h1m10.5 -0.5h1m-2.5 0.5h1m-13 -13.5h1m7.5 14.5h1m-0.5 -2.5h1m-1 -5.5h1m-2.5 -1.5h1m2 6.5h1m-13.5 -2h1m2.5 -13.5h1m-2.5 -3.5h1m-3.5 9h1m4.5 1h1m3 -8h1m0 3h1m-6 -1h1m-3 15.5h1m-3.5 2.5h1m-3 5h1m13.5 -8h1m-6.5 -6.5h1m9 1h1m-4 -4.5h1m-14 12.5h1m14.5 -16h1m-2.5 14.5h1m-7.5 8.5h1m1.5 -3.5h1m-4.5 -14.5h1m-3.5 10h1m8.5 -7.5h1m-7 9.5h1m-4.5 -8h1m9 -7.5h1m-10 16h1m4 3.5h1m-8 -22h1m-9.5 16h1m16.5 -1h1m-14.5 5h1m16.5 -1h1m-5 -15.5h1m-14 8h1m8 3h1m2 -15h1m0.5 10.5h1m-8.5 4h1m10 -12h1m-14 19h1m6.5 -4.5h1m2 -6h1m-4 -4.5h1m-0.5 -9.5h1m0 12h1m-4 -3.5h1m-1 2h1m1 -14h1m-4 8h1m-2.5 8.5h1m-6 6.5h1m9.5 5h1m2.5 -7.5h1m-16.5 -7h1m1.5 2.5h1m-4 4.5h1m7.5 -3.5h1m2 8.5h1m-9.5 -9.5h1m5 16h1m-1.5 -12h1m-4.5 -1.5h1m10.5 -2h1m-13.5 0.5h1m-4 6h1m12 3.5h1m0.5 -6.5h1m-5.5 -8h1m-6 10.5h1m6 -11.5h1m-17 4h1m1.5 0.5h1m0.5 1h1m-1 -3.5h1m6 15h1m-3 -10h1m-2.5 -0.5h1m-6 0h1m7 8h1m4 -11.5h1m2.5 5.5h1m-13 -9.5h1m-11.5 -1.5h1m4 4.5h1m-6.5 5.5h1m19 1.5h1m-0.5 -14h1m-4 8.5h1m7 -7h1m-14.5 12.5h1m2.5 -4h1m0.5 4.5h1m4.5 -6.5h1m-13 8.5h1m-2.5 -7h1m-5.5 2h1m8 3.5h1m-12.5 -12.5h1m5.5 -7h1m10 8.5h1m-10 -2.5h1m8.5 3.5h1m-3.5 4h1m6 6.5h1m-13 -3.5h1m8.5 0h1m-11 6h1m-1 -5h1m7.5 0h1m0 -3.5h1m-8 -19.5h1m-14 20.5h1m5 -2.5h1m4.5 -2h1m-4.5 18h1m11 -23h1m-1 18h1m-6 -21.5h1m6 14h1m-6 -5h1m-11 -20.5h1m-0.5 23h1m-0.5 6.5h1m8.5 -7h1m-5 0h1m5.5 1h1m-8 2.5h1m-4 15.5h1m-1.5 -9.5h1m1.5 -5.5h1m1 5h1m-0.5 4.5h1m-1.5 -14.5h1m4.5 14h1m1.5 -20h1m-5.5 -10.5h1m-4 25h1m-2 -2.5h1m-10 -6.5h1m5.5 -2h1m-11 4h1m20.5 13h1m-8 5h1m-5.5 -6h1m3 -6.5h1m-3.5 -12h1m-6.5 8h1m7.5 4h1m-11 -9.5h1m13 14.5h1m-2.5 -10.5h1m-12 5h1m4.5 -2h1m-4.5 3h1m-2.5 -14h1m7.5 0.5h1m1.5 -2.5h1m3.5 12h1m-14.5 8.5h1m12 -1.5h1m-5.5 -1h1m-4 -8h1m-8 17.5h1m4 -9h1m5.5 -17h1m2.5 26h1m-9 -2.5h1m-1 -13.5h1m-2.5 2h1m1 -2h1m-10.5 0h1m6 -10h1m1 11h1m-15 7.5h1m-2.5 6h1m5.5 -10.5h1m11 12h1m-18 -5h1m21 -12.5h1m-10 5h1m-2.5 -0.5h1m1.5 -18.5h1m-13.5 23h1m9 -6.5h1m-5.5 -3.5h1m-3.5 -5.5h1m5 3h1m-1 18h1m5.5 -11h1m-9 4.5h1m-0.5 -3h1m-6.5 4h1m-5.5 -12h1m8.5 18.5h1m4.5 -20.5h1m7.5 5.5h1m-12.5 3h1m-2 -9.5h1m2.5 9h1m-11.5 -7h1m3.5 3.5h1m-4.5 1.5h1m-7 7.5h1m12.5 -20h1m-2 11h1m6 11.5h1m-2 0h1m-4.5 6h1m8.5 -7h1m-5 -5h1m-5 -4h1m-3.5 -12h1m-2.5 12.5h1m-9 -13h1m9.5 7h1m-7 -2.5h1m11.5 15.5h1m-19.5 -5.5h1m7 -10h1m4 1.5h1m-1.5 14h1m-0.5 1.5h1m-7.5 -10.5h1m4.5 10.5h1m0.5 -3h1m1.5 3h1m-18 -12.5h1m15.5 7.5h1m-14 -1.5h1m8.5 7.5h1m-3 4h1m-4.5 -6.5h1m-6 -14h1m18.5 8h1m-18.5 6h1m10 1.5h1m0.5 -2.5h1m-2 2h1m-17 -12h1m11 2h1m-7 -13.5h1m1.5 19.5h1m2 -10.5h1m-1 2h1m3 10.5h1m1.5 -3h1m-9.5 4.5h1m8 -2h1m-8 0.5h1m7 2h1m-18.5 -9.5h1m14 -0.5h1m-8 -3h1m-6.5 9h1m6 8h1m7 -3h1m-9 -11h1m6 15h1m-9 -17.5h1m-3.5 5.5h1m10 12h1m-1 0.5h1m0.5 -9h1m-13.5 -5h1m0.5 -6h1m-6 7h1m2.5 -11.5h1m6.5 6.5h1m2.5 11h1m-8.5 -17h1m-8 15.5h1m-0.5 -3.5h1m-4 2h1m11.5 -7h1m-8 8h1m9 -1h1m-17.5 -2h1m7.5 -13.5h1m-0.5 16h1m-1 -9h1m2.5 -2h1m2.5 5h1m-8.5 5h1m2 5.5h1m-15 -14.5h1m20 0.5h1m-0.5 3.5h1m-13 -6.5h1m2.5 -4h1m-5 -3h1m-3 30h1m4.5 -9.5h1m6 -6h1m3.5 11.5h1m-10.5 -21h1m7.5 16h1m-11.5 -3h1m5.5 1.5h1m-1 -1.5h1m0 7h1m-5.5 -24.5h1m-1 20h1m-5.5 -6h1m3.5 -3.5h1m-3.5 3.5h1m-1 -3.5h1m3 5.5h1m-14 -3.5h1m7.5 5h1m-8.5 -0.5h1m-4.5 -13.5h1m8.5 4.5h1m-6.5 -10.5h1m1.5 16h1m2 7h1m6 -4h1m-19 -7.5h1m11.5 16.5h1m-3 -5.5h1m1 -1.5h1m-3.5 -12h1m4.5 22.5h1m-6 2.5h1m-0.5 -15h1m4 -5h1m-8.5 17h1m-8 -32.5h1m7.5 4h1m-11.5 15.5h1m15.5 -20.5h1m-10 21.5h1m3.5 -3.5h1m8.5 8h1m-16 -26.5h1m10 27.5h1m-6 -12.5h1m-5 2.5h1m-4 -3.5h1m5.5 -5h1m5.5 6.5h1m-21 -1h1m7.5 8.5h1m5 -2h1m-10 -10.5h1m-1 15.5h1m14 -3h1m-11.5 -9h1m2 4h1m-7.5 2h1m4.5 -3.5h1m4 7h1m-1.5 -14.5h1m-10.5 1.5h1m7.5 5.5h1m5 5.5h1m-8.5 1.5h1m-1.5 -1h1m1.5 -5.5h1m2.5 9h1m-9.5 -7h1m1 -6.5h1m8 15.5h1m-15.5 -7h1m9 2.5h1m4 -3h1m2 10.5h1m-11 -10h1m-8.5 0.5h1m11.5 2.5h1m-9 -6h1m3.5 -2h1m-3.5 14h1m5 -2.5h1m1 -9h1m-6 13.5h1m0.5 -4h1m-3 2h1m-9 -11.5h1m14.5 1h1m-13.5 10h1m-4.5 -7h1m-0.5 -6h1m-3 -9.5h1m1.5 5.5h1m3.5 14h1m5 -12h1m-16.5 6.5h1m8.5 6.5h1m-1 -6.5h1m2.5 -4.5h1m-13.5 4h1m12.5 6.5h1m-3.5 -18.5h1m3.5 4h1m2 -3h1m-5 3h1m-3.5 11h1m6.5 2h1m-5 -2h1m4 -1h1m-8 3h1m-13.5 -1h1m10 -1.5h1m7.5 8.5h1m-14 -22h1m4.5 8h1m3 1.5h1m-3.5 -14h1m-2 20h1m-12.5 6h1m6 -18.5h1m6 14h1m-6 -11h1m-11.5 4.5h1m15.5 12h1m-16 -3h1m5 -8.5h1m-10 6h1m11 -0.5h1m-5 4.5h1m-0.5 -7h1m-1.5 -17h1m9.5 20h1m-10.5 -8.5h1m2.5 1.5h1m-5 1h1m10 3h1m-6 -17h1m5 21h1m-6.5 -6.5h1m-4 -14h1m4 4.5h1m-21.5 8h1m6 -19.5h1m10 25h1m-9.5 -17h1m6 23h1m1.5 -6h1m2 4.5h1m-7 -10.5h1m1 -2.5h1m-4.5 8.5h1m-10 1.5h1m14 -1h1m-21 -5h1m12 2h1m7.5 -2h1m-2 6.5h1m-14 -8h1m9 6h1m-10 3.5h1m3 -17.5h1m-6.5 17.5h1m14.5 -11h1m-6 1.5h1m4.5 -6h1m-11.5 14.5h1m3.5 -14.5h1m-2.5 7.5h1m1.5 7.5h1m-8.5 -8.5h1m11 -5h1m-14 20.5h1m2 -22h1m-7.5 17.5h1m4.5 -5.5h1m-5.5 5h1m10 6h1m-2.5 -12h1m-4.5 -11h1m-1.5 5.5h1m-5 0h1m5.5 19h1m7.5 -24.5h1m-9.5 14.5h1m1 -7h1m-3.5 4h1m-7.5 12h1m1.5 -18h1m-1 4.5h1m11.5 13.5h1m-12.5 -5h1m0.5 -6h1m-2 6.5h1m-6 -18.5h1m10.5 9h1m-10.5 -4.5h1m-0.5 11.5h1m12 -16.5h1m-12.5 7h1m2 -5.5h1m9 3.5h1m-5.5 5.5h1m-21.5 -3.5h1m21.5 5h1m-3.5 -8.5h1m-9.5 13.5h1m-3 -15h1m-3 16.5h1m5.5 -9.5h1m1.5 -6.5h1m8.5 4.5h1m-14.5 9.5h1m-7.5 -9h1m-3.5 -1h1m12.5 -4h1m1 8h1m-6 -4.5h1m8 6h1m0.5 -7.5h1m-3.5 7.5h1m-5.5 11.5h1m-2 -17h1m-14.5 -1.5h1m13 -8h1m3 3.5h1m-5.5 8h1m3.5 9h1m-13.5 -2.5h1m3.5 -12h1m-6 -3h1m11.5 9h1m-6 -5h1m3.5 -5h1m-2.5 12h1m-9 6h1m0.5 -17h1m-1.5 -2h1m4 -3h1m-8.5 11.5h1m11.5 -5h1m3 6.5h1m-5 12h1m-12.5 0h1m5 -19.5h1m-14.5 9h1m9.5 -8.5h1m-3 18.5h1m3 -15.5h1m-14.5 4.5h1m8.5 -6.5h1m5.5 9h1m4.5 -10h1m-9.5 6.5h1m-10 -11h1m5.5 27h1m7.5 -18.5h1m-2 7h1m3.5 -2.5h1m-2.5 -0.5h1m2.5 -5.5h1m-15 8.5h1m4 -7.5h1m-10.5 16.5h1m2 -8.5h1m11.5 -3h1m-18.5 -18h1m3 21.5h1m7 -6h1m-7.5 -2h1m0 11.5h1m2 -11h1m1 1h1m6 9h1m-9 -15.5h1m-5 8h1m-6 -13h1m5.5 12h1m1.5 -16h1m-3 17h1m5 -8h1m-14 -4h1m4 16h1m5.5 7.5h1m6 -3.5h1m-17 -8.5h1m2.5 -8h1m9 16h1m0.5 -12h1m-0.5 3h1m-10.5 -3h1m1 -1.5h1m-2 2.5h1m3 3.5h1m1.5 -4h1m-13 14h1m6.5 -2.5h1m2.5 -20.5h1m-3 11.5h1m-3.5 0.5h1m3 8h1m-17 -10.5h1m11.5 2.5h1m-9 1.5h1m-2 -17.5h1m12 17h1m-0.5 7.5h1m-9.5 -6h1m6.5 -15.5h1m-6.5 24.5h1m-3 -2h1m-4.5 -6h1m6.5 -13.5h1m-2 12h1m-3.5 7.5h1m-1.5 -2.5h1m4 -14h1m-8.5 0h1m3.5 6.5h1m0 3.5h1m4.5 -2h1m-2 0.5h1m-2.5 3.5h1m-8.5 -14h1m2.5 16.5h1m5 -14.5h1m-4.5 14h1m2 -8.5h1m-9 2h1m-2.5 5.5h1m2 1.5h1m-9.5 -1.5h1m3 -8h1m14 -7h1m-7 7h1m-8 -5.5h1m6.5 11h1m0.5 -14.5h1m0 19h1m-11 -4h1m-3.5 -10.5h1m11 1h1m-17.5 18.5h1m6.5 -16h1m6.5 -0.5h1m-3 12.5h1m-2.5 -13h1m-10 -3h1m10 9.5h1m-2.5 -5.5h1m5.5 9h1m-13 -6.5h1m6 1.5h1m-5 -6h1m-9 7.5h1m0 1.5h1m-2 1.5h1m16 -13.5h1m-16.5 2.5h1m-2 12.5h1m14 -4.5h1m-9.5 -5.5h1m8.5 5h1m-15 -5h1m6.5 3.5h1m-7 9h1m-4 -8.5h1m2 5h1m8.5 1.5h1m-17 -7.5h1m16.5 4h1m-9.5 -14h1m-11 4.5h1m15 -4h1m-3 -7.5h1m-3.5 8.5h1m-3.5 12.5h1m-13.5 -14h1m7 20.5h1m-0.5 -16.5h1m11.5 20.5h1m-14 -20.5h1m4.5 7h1m-3.5 5.5h1m3 -1.5h1m0.5 -15h1m-1 20h1m-10.5 -14.5h1m4 6.5h1m-2 1.5h1m3 10h1m-6.5 -8h1m0.5 -5.5h1m10.5 -2.5h1m-18 12h1m17 -14.5h1m-7.5 -0.5h1m0 5.5h1m0 -6h1m-6.5 10h1m8 -3h1m1 5h1m-15.5 -9h1m6.5 6h1m5 -15.5h1m-14.5 14h1m-9.5 0.5h1m13.5 -5.5h1m0 10h1m-7.5 -11.5h1m14.5 8.5h1m-18.5 -4h1m6.5 -7h1m-8.5 -8.5h1m11.5 12h1m-1 5h1m-14 8.5h1m0 -5h1m7 -4h1m-7 9h1m-2.5 -14h1m9.5 8h1m1.5 -3.5h1m0 -9h1m1 19h1m-14 -22h1m2 23.5h1m0 -24.5h1m-8.5 13h1m-1 1h1m-5 11h1m18.5 -5h1m-6.5 -15.5h1m5 -6.5h1m0 19.5h1m-4.5 -6h1m-4.5 13h1m3 -5h1m-12 -7h1m10 8h1m-13 -9.5h1m10 -8.5h1m-12 19.5h1m1.5 -7h1m2 2h1m-3 -7h1m1 -4h1m0.5 5h1m-8.5 -3.5h1m0 1h1m-10.5 2h1m5 10h1m12.5 -1h1m-3.5 -11.5h1m-12 20h1m5.5 -26.5h1m1.5 7.5h1m-4.5 1.5h1m-10 9.5h1m6.5 -4.5h1m-2 -5h1m7.5 -9h1m3 11.5h1m-18 -1.5h1m7 -4h1m-9.5 -1.5h1m0 9h1m7.5 -17.5h1m-7 7h1m-7.5 21h1m11.5 -12.5h1m4 6h1m-13.5 -8h1m6.5 5.5h1m-4 -16.5h1m6.5 19.5h1m-4 -6.5h1m0 0.5h1m-15.5 6h1m6 3h1m12 -10.5h1m-18.5 9.5h1m6.5 -6.5h1m-5.5 2h1m10 3.5h1m-2.5 -10h1m5 5h1m-3 5.5h1m-16.5 -11.5h1m7 8h1m5.5 -12.5h1m-7 12h1m4 -1h1m-11 5h1m3.5 -13.5h1m8.5 -11h1m-12 7.5h1m5.5 10.5h1m-10.5 -0.5h1m-2 11h1m4 -9h1m-1.5 -2.5h1m5.5 -1h1m-8.5 10.5h1m5.5 4h1m-15 -18.5h1m15.5 8h1m-4 -13.5h1m-5 14h1m-4 1h1m2 -0.5h1m-3.5 -4h1m-1.5 7h1m-1.5 -10.5h1m-3 8.5h1m-8.5 -5h1m12.5 4h1m-1.5 -7h1m-12 7.5h1m13.5 -11h1m4.5 6.5h1m-13 0h1m13 -1h1m-15 -9.5h1m-5 16.5h1m2 -29.5h1m11.5 31.5h1m-15.5 -13h1m9 22h1m-9.5 -8h1m10 -4h1m-3.5 -0.5h1m-9 3h1m-0.5 -19h1m-3 27h1m8 -23h1m-9.5 5h1m-2.5 8.5h1m-2 -7.5h1m0.5 7h1m9 9.5h1m1.5 -24h1m0 13.5h1m0.5 -6.5h1m-7 6h1m-16 10h1m12 -4h1m-5 -9.5h1m12 -8h1m-8.5 6h1m-5.5 8.5h1m-3 -6h1m-1 -7.5h1m6 22h1m-4.5 -16.5h1m-4 -2h1m-5.5 -4.5h1m17 15h1m-3 -1.5h1m-10.5 -8.5h1m-1.5 13.5h1m-14 -2.5h1m23 -2.5h1m-13.5 -9.5h1m-4 17.5h1m2 -17.5h1m3.5 7.5h1m2 2.5h1m-9 -11.5h1m-3 3h1m-4.5 -9h1m14 8.5h1m-10.5 -5.5h1m1 7h1m0.5 -4h1m-2.5 -3h1m6 12h1m1 9h1m-13 -5.5h1m-7.5 -6.5h1m6 -2h1m3 11.5h1m-1.5 -9.5h1m7.5 4.5h1m2 -8h1m-6 -4h1m-5.5 14h1m-7.5 -18.5h1m11 11.5h1m-3.5 12.5h1m-4 -8.5h1m-5.5 5h1m10.5 -14.5h1m-2 -11h1m-14.5 24h1m4 -14.5h1m11.5 12.5h1m-10 -2h1m7 -8.5h1m-13.5 10h1m7.5 -6.5h1m1 -7.5h1m-11 8.5h1m-1.5 10.5h1m-10 2h1m20.5 -8h1m-9.5 -14.5h1m2 12h1m-6 -12.5h1m10 6h1m-8 3h1m-1.5 4.5h1m4.5 -7h1m-5 -4h1m1.5 11.5h1m-6.5 -13.5h1m6 9.5h1m-7 12h1m-8 -22h1m9 16.5h1m-2.5 -1h1m-5 4h1m9.5 -14h1m-12.5 8h1m-2.5 -0.5h1m-3.5 2h1m7.5 -9.5h1m-0.5 6.5h1m4 1h1m-13.5 2.5h1m-3 8h1m3.5 -8h1m0 -25h1m1.5 25h1m7.5 -8h1m-9.5 11.5h1m-8 4.5h1m4 -1.5h1m-2.5 -1h1m8 -10.5h1m-10 7.5h1m-8 -9.5h1m16 -4h1m-4.5 14.5h1m-9.5 -11h1m12 15.5h1m-23.5 -4.5h1m7.5 -3h1m-0.5 3h1m6.5 -14.5h1m0.5 -0.5h1m-6.5 9h1m6 -2.5h1m-3 5h1m3 -6.5h1m-8 4h1m-0.5 6h1m-3.5 -5h1m1 -1.5h1m3.5 9.5h1m-7.5 -14h1m-11 6h1m9 -8.5h1m-14 15h1m14 -9h1m-11.5 -5.5h1m3 4h1m14 2h1m-17.5 6.5h1m13 -5.5h1m-9 -11.5h1m4 2.5h1m-7.5 11.5h1m0 0h1m-0.5 -4h1m-2 -1h1m-3 10h1m4 -8h1m-3.5 4.5h1m3 -1h1m6 -3.5h1m-7.5 3h1m-6 0.5h1m-3.5 0h1m5.5 -14.5h1m2.5 1h1m-8.5 10h1m-11.5 -0.5h1m3 -4.5h1m2 6h1m0 -13.5h1m10 11h1m0 -7.5h1m0 7.5h1m-9.5 2h1m-5.5 10h1m9.5 -13.5h1m-6.5 -1h1m7.5 -8h1m-12.5 18.5h1m4.5 -22.5h1m-3 24h1m-8 -25h1m15 23h1m-20.5 -8.5h1m7 2h1m-10 -12h1m4 19.5h1m6.5 3.5h1m3 -10.5h1m-4 -3.5h1m2 18.5h1m-7.5 -27h1m-4.5 -11.5h1m-1 23h1m1.5 11.5h1m0.5 -14h1m-7 6h1m4 -4h1m3.5 12h1m-8 -16.5h1m1.5 7h1m-15 5h1m16 -17.5h1m-6 -8.5h1m-12 26.5h1m7.5 -13.5h1m1 -4h1m-6 11.5h1m-3 -8h1m15 -7.5h1m1 11h1m-11 2.5h1m-6 -16h1m11.5 10.5h1m-3 7h1m-4.5 -8.5h1m3.5 18.5h1m-2.5 -23.5h1m-6 -4h1m-3 18h1m-7.5 -6h1m13 1h1m5.5 1.5h1m-4.5 -1.5h1m-12 4.5h1m6.5 3h1m-18 -7h1m22 6h1m-6 -18h1m0 20.5h1m-15 0h1m11.5 -2h1m-4.5 8.5h1m3.5 -9h1m-3.5 4.5h1m-1 -5.5h1m1.5 0h1m-6 -12.5h1m2 9.5h1m-14 1h1m5.5 5h1m6 -12.5h1m-1 14h1m-0.5 -2.5h1m-3.5 0.5h1m-1 -13.5h1m1 3.5h1" stroke="#33dd44" stroke-width="1" stroke-opacity="0.5" fill="none"/>
<path d="M322.5 466.5h1m11 -11h1m-16.5 -9.5h1m3.5 24h1m0.5 -3.5h1m-10 3h1m11.5 -9.5h1m-3 14.5h1m-11.5 3h1m10 -10h1m-12.5 6h1m-0.5 -10.5h1m4 -4.5h1m2 -7.5h1m7 15h1m1 -8.5h1m-8 6.5h1m-3.5 2h1m1 -6.5h1m4 10.5h1m-13 -14h1m6.5 11.5h1m-9 0.5h1m1 1.5h1m-0.5 -13.5h1m-2.5 5h1m2 8.5h1m0 -1.5h1m2 -2h1m-4.5 0.5h1m-4 -6.5h1m2 -3.5h1m-1.5 1.5h1m1.5 9h1m-3 2.5h1m-6 1h1m1 -13.5h1m5 10.5h1m2.5 5.5h1m-5.5 -15h1m-4.5 12h1m3 -6.5h1m7 9h1m-18.5 -0.5h1m25 2.5h1m-20.5 -12h1m-1.5 1h1m-1 6h1m-2 -11.5h1m1.5 6h1m7.5 14h1m-5.5 -11.5h1m-11 -4h1m3 -4h1m-6 -9h1m-1.5 28h1m4.5 -12.5h1m2 -6.5h1m0.5 8.5h1m-7 -2h1m-0.5 -4h1m-3.5 7.5h1m8.5 8h1m6 -11h1m-17 4.5h1m11 2.5h1m-5 -4.5h1m0 -13.5h1m-3 12.5h1m4 1.5h1m-9.5 -9h1m1 2.5h1m-6.5 -2h1m5 13h1m-3 -5.5h1m0 4.5h1m-5.5 -9h1m1 8.5h1m-3 -20h1m-3.5 14.5h1m8 6h1m9.5 -7.5h1m-19 1.5h1m10 0.5h1m-6.5 5.5h1m6.5 -13.5h1m-9 11h1m10.5 3h1m-3 -7h1m-10.5 7.5h1m0 -7h1m-3 -5.5h1m0 3h1m-3.5 -5h1m8 3.5h1m-15 3.5h1m1.5 2.5h1m7 -5.5h1m-7.5 6.5h1m3 5.5h1m4 -14.5h1m-11.5 12h1m-0.5 -11.5h1m5 11.5h1m-3.5 -11.5h1m0.5 -1.5h1m0.5 -1h1m1 7.5h1m-7 7h1m-4.5 -4.5h1m0 1h1m13 0.5h1m-2.5 1h1m-10 -4.5h1m-3.5 -5h1m4 8h1m-4.5 5.5h1m8.5 -9h1m-4 7h1m-8.5 -7.5h1m11 3h1m-8 3h1m4 -2.5h1m-0.5 -2.5h1m-5 1h1m-8 7.5h1m4.5 -11h1m-5.5 4.5h1m-1 -0.5h1m1.5 -5.5h1m0 13.5h1m3 3.5h1m5 -9.5h1m-11.5 -1h1m-5.5 -5h1m7.5 12.5h1m1.5 -14h1m2 11h1m-5.5 5h1m-3.5 -7h1m1.5 -2h1m-5.5 -8.5h1m-4.5 18h1m-6.5 -8h1m3.5 -2.5h1m-1 -4h1m11.5 -5h1m-5 5.5h1m2 9.5h1m-7.5 0h1m-8 -2.5h1m17.5 -2h1m-9 -4h1m-8 -13.5h1m-6 0.5h1m8.5 7.5h1m3 -4h1m-0.5 16h1m-16 -4h1m-0.5 -12.5h1m11 13h1m-0.5 -16h1m-11 9.5h1m8.5 2.5h1m3.5 11.5h1m-17.5 -13.5h1m9.5 5.5h1m2.5 5.5h1m-9 -9h1m-4 4h1m11.5 -6h1m-13 5.5h1m-3.5 2h1m-3 -5h1m4.5 -4.5h1m4 1h1m-10.5 -6h1m5 5h1m3 13h1m-9 -22h1m18 16h1m-6.5 -5.5h1m-3.5 9.5h1m-8 -23h1m5.5 13.5h1m-1.5 -6h1m3 11h1m-15 -1.5h1m4 8h1m-0.5 -15.5h1m-1.5 3h1m6.5 -1.5h1m-10 6h1m-4.5 -2h1m-4 10h1m8 -2h1m12 -6.5h1m-5.5 2.5h1m-16.5 -10h1m16 12.5h1m-5.5 -7.5h1m0.5 6.5h1m-11 4h1m6.5 -11.5h1m3.5 -9h1m-16 13.5h1m6 4.5h1m-6.5 -14.5h1m2.5 17h1m-2 -0.5h1m0.5 -2h1m0 -12.5h1m-5 11h1m2.5 3h1m2.5 -10h1m-2 4.5h1m-2.5 -10h1m-3 6h1m6.5 -3h1m-12 12.5h1m5 -6h1m-5.5 3h1m17 -1h1m-13 -3h1m-7 -4.5h1m-3 4h1m13.5 -5.5h1m-10.5 2h1m-2.5 -0.5h1m3.5 -8.5h1m1.5 9.5h1m-9 8h1m4 -12h1m-7.5 6h1m6 1h1m0 -5.5h1m-3 8h1m-11.5 0.5h1m9.5 -4h1m-6 -1h1m2.5 14h1m1 -4.5h1m1 -1h1m-10 -10.5h1m3.5 4h1m-2 -9h1m3.5 5.5h1m-5 17h1m0 -7h1m-4.5 -11h1m7 6.5h1m-5 2.5h1m0.5 2h1m9.5 5h1m-12.5 -9.5h1m0 5.5h1m-8.5 -4h1m7 -5h1m-9.5 5h1m1.5 -11h1m1 7h1m0.5 0h1m-3 15.5h1m7 -14.5h1m-4.5 5.5h1m-3 -16h1m1 16.5h1m-12 -10.5h1m13 13.5h1m-5 -7.5h1m5 -6h1m2.5 7.5h1m-9.5 -1h1m-3 -1.5h1m5.5 8h1m-4.5 -8h1m-0.5 6h1m-10.5 -6.5h1m3 -2h1m7 3.5h1m-4 -12h1m-12.5 5.5h1m8 6h1m-2 -0.5h1m5.5 -10h1m-9.5 11.5h1m-5 1.5h1m0 -10h1m-3.5 5.5h1m1.5 -1h1m12 -0.5h1m-11.5 1h1m1.5 8h1m-4.5 3h1m-4 -7h1m9.5 -1h1m-3 -2.5h1m2 -1.5h1m-7 3.5h1m-0.5 0h1m-2.5 -4h1m8.5 4.5h1m-14 -1.5h1m9 -0.5h1m-10 4h1m3 -1h1m4.5 1h1m-11.5 -1h1m1 -11h1m3.5 14h1m-11.5 -13h1m8 9.5h1m-1.5 -11h1m-3 4.5h1m-5.5 7h1m14 5h1m-2.5 -10h1m-10 -13.5h1m-1.5 5h1m5 18.5h1m0 -19h1m-8.5 5.5h1m7.5 14h1m-4.5 -16h1m-2.5 7.5h1m-0.5 10h1m-3 0.5h1m-4.5 -5h1m-1.5 -7h1m-0.5 4h1m2.5 -6.5h1m5.5 -0.5h1m-11 -7h1m14 15h1m-11 2h1m0.5 -2.5h1m-3 -3h1m5 -6.5h1m0 5.5h1m-10.5 7.5h1m1 -16h1m16.5 17.5h1m-15.5 -9h1m2.5 -0.5h1m0 -20h1m-9 27.5h1m0 -12.5h1m1 14h1m8 -12.5h1m-7 8.5h1m-3.5 -4.5h1m0.5 9h1m-7 -12h1m10.5 5h1m-4.5 3h1m-13 -14h1m12 14h1m-4.5 1h1m-3 5.5h1m-4 -28h1m-3.5 14.5h1m3 14.5h1m-7 -21h1m1.5 11.5h1m6.5 2.5h1m-5 -4.5h1m-9.5 -8h1m10 8.5h1m-11 1h1m5 -6.5h1m5 4.5h1m-6.5 -5h1m-4.5 -4h1m6 10h1m7 1.5h1m-4.5 -8.5h1m-14 5.5h1m10.5 -5h1m-3 11h1m4 -5.5h1m-14.5 3.5h1m3.5 -10.5h1m0.5 22h1m-5 -17h1m3 1.5h1m2.5 5h1m6.5 -3.5h1m-21 -1.5h1m10 7h1m-3.5 0h1m-4.5 -1h1m0 -5h1m4.5 13.5h1m2 -12h1m-15 0h1m4 -9.5h1m8 23.5h1m-15 -7.5h1m4.5 -4.5h1m-4 -11h1m-3 11.5h1m9 7h1m-6.5 -7h1m3.5 2h1m1.5 2.5h1m-6.5 0h1m2.5 3h1m5.5 -8.5h1m-14 -8.5h1m6.5 5.5h1m1.5 -4.5h1m-3 3h1m-7.5 8.5h1m3.5 -9h1m-7 0h1m6.5 -4.5h1m-7.5 11h1m-6.5 -3h1m14 -2h1m-15.5 2h1m14.5 -1h1m-15 2.5h1m3 2.5h1m7 -13h1m-1.5 17.5h1m-9 -5.5h1m6.5 2h1m-2 0.5h1m-5.5 -3.5h1m-1 -4.5h1m-5 -2h1m11.5 10.5h1m-5.5 -7h1m-6 2h1m1 5h1m14.5 6.5h1m-21.5 -20h1m8 -1.5h1m-1 7.5h1m-7 -13h1m-0.5 20h1m2.5 -3h1m5.5 -2h1m-5 11.5h1m10.5 -16.5h1m-15 10.5h1m2.5 -12.5h1m-12 3.5h1m2.5 4.5h1m-0.5 -1h1m3.5 -0.5h1m-3 -11.5h1m4.5 1h1m-9.5 11.5h1m2.5 1.5h1m-5 -11h1m6.5 5.5h1m-3 5.5h1m-9 -7h1m11 7h1m-13 -12h1m10.5 14h1m-8.5 0h1m8 -9.5h1m-17 2.5h1m10 5.5h1m-5 0h1m8 -1h1m-8.5 -11.5h1m-2.5 22h1m-5.5 -17h1m13.5 8.5h1m-8.5 -5.5h1m-1.5 5h1m4.5 -1.5h1m-4.5 -4h1m-6.5 -4h1m12.5 8h1m-12 1.5h1m-2 2.5h1m0 -14h1m8 9h1m-5 -8h1m-6.5 11.5h1m4 -11.5h1m-6 13.5h1m8 0h1m-10.5 4h1m5 -16.5h1m-10.5 3.5h1m9 6.5h1m-9 -5.5h1m0 8h1m5 -5h1m-8 -0.5h1m-4 11h1m5.5 -17.5h1m-7.5 8.5h1m2 -5h1m9.5 -1.5h1m-0.5 -3.5h1m-7 8.5h1m-4.5 -6.5h1m-3 -1h1m18 5.5h1m-17 -4h1m-2 5.5h1m4 -15h1m0.5 16.5h1m-6.5 -4.5h1m1 -4h1m-8 8h1m-3.5 0.5h1m5 -2h1m1.5 -3h1m10 8.5h1m-20.5 -10h1m7 4.5h1m3 0h1m1 -2h1m-2.5 -2h1m-8 8.5h1m5.5 -8.5h1m-1.5 4.5h1m2 3h1m-3.5 -3.5h1m-0.5 1.5h1m-2.5 -2.5h1m-6 -2.5h1m10 11h1m-1.5 -14h1m-2 9h1m-3.5 -0.5h1m-2.5 -7h1m-0.5 4.5h1m1.5 -2h1m-5 7h1m-4.5 -3.5h1m2 -3.5h1m-4.5 -6.5h1m1 2.5h1m8 10.5h1m-16.5 -6.5h1m4 12h1m11 -2.5h1m-12 -17.5h1m-3.5 7.5h1m3 -2h1m1.5 1h1m-4 4h1m-3 1h1m-1 -1.5h1m4.5 -3h1m2 9.5h1m-10 -1h1m2 -16.5h1m-3.5 -4h1m1 12h1m-2.5 -6.5h1m-7 6.5h1m5 -5.5h1m1 12.5h1m8.5 -1h1m-7 1.5h1m-2.5 -11.5h1m3 8.5h1m-0.5 5.5h1m-9.5 -5.5h1m-9.5 -8.5h1m6.5 8.5h1m2 -1h1m-2.5 -2.5h1m1 -0.5h1m-2 7.5h1m4.5 -12.5h1m-11.5 4h1m9 10.5h1m-8.5 -14.5h1m-0.5 6h1m-3.5 -3h1m4.5 -9h1m9.5 11.5h1m-15.5 2.5h1m2.5 6h1m7.5 -10h1m-9.5 7.5h1m0.5 -0.5h1m2 0.5h1m-4 -1h1m-8.5 0h1m8.5 -9h1m-8.5 8.5h1m2.5 -8h1m-0.5 5h1m-4.5 5.5h1m2.5 -4.5h1m-2 5h1m6 -8h1m-6 -7h1m8.5 8h1m-3 -1.5h1m-13.5 5h1m-2.5 -5.5h1m-1.5 7h1m10 2h1m-12 -10.5h1m8.5 -1h1m0 5.5h1m-6.5 -8h1m-4.5 1.5h1m8 9.5h1m-10 5h1m2.5 -6.5h1m1 -1h1m-2 3.5h1m-0.5 2.5h1m-5 -9h1m5.5 -6.5h1m0 9h1m-5 0.5h1m6.5 3h1m-9 -4.5h1m-1 5h1m-2 -4.5h1m3 -1h1m-6 6.5h1m-9 1h1m18.5 -6h1m-20.5 0h1m15 7h1m-1 -2h1m6.5 -2h1m-16 7.5h1m0 -9.5h1m-3.5 -5.5h1m4 2.5h1m-4.5 -8.5h1m3 18h1m-2 -7h1m-4 -3.5h1m7.5 5.5h1m-11.5 -6h1m5 1h1m-9 4.5h1m19 -3h1m-12.5 -3.5h1m-4.5 -4.5h1m3.5 17.5h1m-7.5 -9.5h1m5 -4h1m-6.5 14.5h1m0.5 -13.5h1m-6 11h1m10 -8h1m-2.5 9h1m-2.5 -14h1m-0.5 10.5h1m1 1h1m-2.5 -16.5h1m0 4.5h1m-3.5 6h1m0.5 3h1m-11 -1.5h1m-3.5 -1.5h1m11.5 -1h1m-2 11h1m-0.5 -11h1m-6.5 1.5h1m1.5 -0.5h1m0.5 -2h1m-0.5 -2.5h1m-8 1.5h1m-0.5 3h1m-1 -8.5h1m4.5 13.5h1m-6 -12h1m7 4.5h1m-13 3.5h1m6 5.5h1m-4.5 4.5h1m-2 -6h1m-4 -7h1m1 8.5h1m-2 -3h1m6.5 4.5h1m-8 -10h1m21 0h1m-15 9h1m-7.5 6h1m6.5 -14.5h1m-12 -1h1m5 0.5h1m-5.5 8h1m8 -9h1m-7.5 3h1m11 -4.5h1m-11.5 2h1m-5.5 1.5h1m5 -0.5h1m0.5 0h1m2.5 -0.5h1m4 6h1m-11 -18h1m-3.5 18.5h1m5 -11.5h1m10 9h1m-8.5 0h1m-10 12.5h1m-7 -3h1m11.5 -18.5h1m2.5 4.5h1m-9 4.5h1m7 -9h1m-8.5 7.5h1m1 4.5h1m-2 -5h1m1.5 3.5h1m0.5 -10.5h1m10.5 -2.5h1m-12.5 5.5h1m-10.5 6.5h1m7.5 -0.5h1m-0.5 6.5h1m2 -3.5h1m-5 -7h1m3.5 4h1m-7 -6.5h1m5.5 1h1m-2 3h1m-13 -3.5h1m8.5 7.5h1m1.5 -8h1m-7 0.5h1m-10.5 -1h1m12 2h1m-11 5.5h1m2.5 1.5h1m9.5 -4.5h1m-4.5 -2h1m0 -4h1m-12.5 13.5h1m8.5 -3.5h1m-12.5 -11h1m5 6.5h1m3 2.5h1m-5 5h1m-0.5 -6.5h1m11 16.5h1m-14 -19h1m5 4h1m-1.5 -6.5h1m6 5.5h1m-19 6h1m8.5 -11h1m-10.5 0h1m0 6.5h1m5.5 -1.5h1m0 7.5h1m4.5 9h1m-4 -11.5h1m-6 -3h1m5 -0.5h1m-4 -8.5h1m1 20h1m-6.5 -9h1m-5.5 -2h1m7.5 -5.5h1m-5.5 1h1m11.5 17.5h1m-18 -7h1m-0.5 -6.5h1m8.5 -2h1m-1.5 1h1m-8 3.5h1m3.5 -8h1m-7.5 6h1m3.5 -14.5h1m5 10.5h1m-10 4h1m16 2h1m-7.5 1h1m-9.5 0h1m6 -3.5h1m4.5 4h1m-13 -0.5h1m0.5 -9h1m-2.5 14.5h1m-3 4h1m14.5 -21.5h1m-14.5 -1.5h1m6 4h1m3.5 8h1m-9 -5.5h1m-7.5 5h1m-1.5 -4.5h1m13 -8h1m-13 10h1m-6 2.5h1m9.5 1h1m-4 -4h1m2 -2h1m3.5 6h1m-1.5 -0.5h1m6.5 7h1m-7 -13.5h1m-3 18h1m-12.5 -5h1m2 1.5h1m5 -19h1m2 1h1m-4 5.5h1m-4 1h1m-4.5 1h1m-5 -3h1m15 -1.5h1m-13 12.5h1m1.5 -4.5h1m0 -13h1m3 -3h1m-13.5 11h1m6 8.5h1m-3 -6.5h1m-0.5 -8h1m9.5 0h1m-13 5.5h1m5 -2h1m4.5 -10.5h1m-11 21h1m1.5 -4h1m1 1.5h1m-1.5 -1.5h1m-3.5 0h1m5 -2h1m1 -1h1m-13 1.5h1m13 -7.5h1m-7.5 8h1m-5 -3h1m5.5 -8h1m-11.5 1h1m8 4.5h1m-6 -4h1m-6.5 8h1m4.5 14.5h1m-0.5 -16h1m4.5 1.5h1m-12 0.5h1m10 4h1m-8.5 -11h1m9.5 16.5h1m-1 -10h1m-7 1.5h1m8.5 0.5h1m-13.5 0h1m0.5 -2.5h1m8 14.5h1m-16.5 -17.5h1m10 2h1m8 4.5h1m-13.5 -5.5h1m-9.5 9.5h1m14 -9h1m-6.5 5h1m-3 -8.5h1m-1.5 11.5h1m4.5 -14h1m-12 0.5h1m4.5 6h1m-1.5 9h1m6 -21.5h1m-10.5 16.5h1m16.5 -12h1m-15 13h1m-4 3h1m2 -7h1m2 -2.5h1m-5.5 9h1m5 -8h1m-6.5 -8h1m7 4h1m-1 4h1m1.5 -11h1m-16.5 13.5h1m15.5 1.5h1m-11.5 2.5h1m4 -6h1m2.5 -3h1m-4.5 8h1m-4 1.5h1m1.5 -12.5h1m0 12.5h1m-13 -8.5h1m18.5 6h1m-7.5 1.5h1m-7.5 -7.5h1m10.5 -5h1m-9 16h1m-3 -14.5h1m2.5 6.5h1m-4 -3h1m0 8h1m-7.5 2.5h1m6 -14.5h1m4 12h1m-10 -9.5h1m-7 5h1m6 -4h1m-4 5h1m-2 1h1m4 -11h1m-6 2h1m1 7.5h1m7.5 0h1m-9.5 -6.5h1m3 5.5h1m-6.5 -1h1m2 0.5h1m-0.5 -3h1m0 -1h1m0 -1h1m-11 15.5h1m0 -8.5h1m2 -2h1m5.5 -3.5h1m-3.5 5h1m6 -1h1m-6 1.5h1m-5 1h1m-2 4h1m7.5 -6h1m-2.5 -3h1m-5 -1h1m5 -13.5h1m0.5 23.5h1m-3.5 3h1m3 -11.5h1m-11.5 11h1m2.5 -18.5h1m-7 18.5h1m7.5 0h1m-6.5 0.5h1m-2 -8.5h1m2 -2h1m-7.5 -3h1m8.5 6h1m-10.5 -10.5h1m8.5 12h1m-0.5 -5.5h1m-0.5 1.5h1m-8 -7.5h1m-5 6.5h1m11.5 6.5h1m3 -16h1m-9.5 5h1m-6 3.5h1m12 0.5h1m-11.5 -1.5h1m2 9.5h1m-4.5 -12h1m1 -1h1m-4 -5h1m0 12h1m-3 -1h1m3.5 5.5h1m1.5 5h1m-3.5 -11h1m1 14h1m-13 -14h1m14.5 -8.5h1m-15 10h1m2 -1h1m-4.5 -4.5h1m3.5 10.5h1m0 -14.5h1m10.5 4.5h1m-5.5 10.5h1m-5.5 -15.5h1m-3.5 6h1m-7.5 6.5h1m11 -2.5h1m-13 -11h1m8.5 14h1m-6 -2.5h1m-3 1.5h1m7 -1.5h1m-5 7.5h1m-1.5 -20.5h1m-1 15h1m7 -1.5h1m-2.5 -5h1m-13.5 4h1m6 -1.5h1m3.5 11h1m-9.5 -7.5h1m9 -2h1m-7 -12h1m1 3.5h1m3 7.5h1m-5 9.5h1m3 -10.5h1m-6 -5.5h1m3 1.5h1m-13 7h1m14 -12h1m-6.5 12.5h1m-3.5 2.5h1m4.5 -5h1m4 5.5h1m-9 -10h1m13.5 1.5h1m-16.5 -2.5h1m-3 19h1m4 -6h1m3.5 -6h1m-11.5 -3h1m5 0h1m-5 6.5h1m-9 -5.5h1m2.5 1h1m16.5 2h1m-6.5 8.5h1m-5 -9h1m1.5 -1h1m-15 0h1m17.5 0.5h1m-18.5 -4.5h1m11 4h1m2 3.5h1m-1 -9.5h1m-9.5 8.5h1m8.5 5h1m-11 -4.5h1m-2 2h1m2 3h1m-2.5 -7.5h1m2.5 0h1m3.5 -2h1m-10.5 -12h1m16 14.5h1m-11 8h1m-2.5 -10h1m1 12h1m-12.5 -13.5h1m5.5 11.5h1m6.5 -8.5h1m-9 5h1m7 -2.5h1m-7.5 -12.5h1m-9 10.5h1m15 -4.5h1m-14.5 5.5h1m10 1.5h1m-13.5 -6h1m3.5 1.5h1m-5 0.5h1m9.5 2.5h1m-12 5.5h1m5.5 -2h1m-3.5 2.5h1m2 -11h1m-4 -6.5h1m4 11.5h1m4 3h1m-5.5 -19.5h1m-9.5 15.5h1m3 -3h1m0.5 15h1m7.5 -12.5h1m-2.5 -2h1m0 -7h1m-9 4.5h1m0.5 7h1m-0.5 -12h1m-3 13.5h1m-1 -6h1m3.5 5.5h1m-12 -6h1m0.5 -6.5h1m7 15.5h1m2 -5h1m-5 3.5h1m-7.5 -8h1m4 11.5h1m-0.5 -20h1m-6 13.5h1m12 8h1m-11.5 -16h1m-1.5 3.5h1m4 4.5h1m0.5 -1.5h1m-6 -9.5h1m10 17h1m-8.5 -5.5h1m-0.5 -6.5h1m-3.5 9.5h1m11 -6h1m-13.5 7.5h1m-1 -7h1m1 -4h1m-6 7.5h1m0.5 -4.5h1m0 8.5h1m-6 -4h1m12 -6.5h1m-7 3h1m-1.5 -10h1m2.5 12.5h1m-4 -14h1m0.5 14h1m-4.5 -8h1m-6 7.5h1m2 -1.5h1m-5 15h1m5.5 -14.5h1m1.5 -2.5h1m3.5 5h1m-14.5 -8h1m1 2.5h1m11.5 4.5h1m-7.5 -4h1m-3 -2h1m11 4.5h1m-3 -11.5h1m-10.5 3h1m-1.5 13h1m-3.5 -7.5h1m3.5 -1h1m-5 9h1m0.5 -5.5h1m3 2h1m-7 -17h1m14 23.5h1m-0.5 -14h1m-21 7.5h1m14 -4.5h1m-7.5 9.5h1m-10 -10h1m-1.5 0.5h1m7.5 2h1m7 0.5h1m-3 -9h1m-2 0.5h1m2.5 2.5h1m-14.5 3.5h1m11.5 11h1m-7 -15h1m6.5 3.5h1m-2 3.5h1m-17.5 1.5h1m6.5 -2.5h1m-1.5 3.5h1m-7 0h1m5.5 -2.5h1m7.5 -6h1m-5.5 1h1m2 2h1m-3.5 10h1m-3 -18h1m7.5 18.5h1m-17.5 -10h1m7 -6h1m-7.5 12.5h1m2.5 -12.5h1m7.5 14h1m-6 -8h1m-5.5 -3.5h1m-4 8h1m6.5 5h1m-3 -6.5h1m4 4h1m-8 -9h1m-4 9h1m5.5 -1h1m-6 4h1m3 4.5h1m-3 -20.5h1m0.5 13.5h1m-6 -14.5h1m-5.5 18.5h1m14 -20h1m-9 12.5h1m14 -3.5h1m-10.5 -8h1m6 6h1m-14 -10.5h1m5.5 14.5h1m-1 -7h1m-2 6.5h1m-5.5 5.5h1m-6.5 -14.5h1m8.5 5h1m-7.5 -1.5h1m5 -2h1m-4.5 13.5h1m0.5 -4.5h1m-4 -10.5h1m-2.5 4.5h1m-1 12.5h1m-2 -4.5h1m7.5 -3.5h1m-3 4.5h1m7 -7h1m-12.5 5h1m1 -4h1m10 4h1m-4 -8.5h1m-6.5 6.5h1m3 -2h1m-14.5 -0.5h1m3 3.5h1m-2.5 5.5h1m1 -4.5h1m12.5 -11h1m-12 12h1m-9 -8.5h1m1.5 5.5h1m5.5 -14.5h1m-4 4.5h1m5 9.5h1m-2.5 -7h1m7 1.5h1m-3 5h1m0.5 1h1m-12 -7.5h1m-1 11.5h1m2 -10h1m-3 9.5h1m-6.5 3h1m10.5 -20h1m-3 -4.5h1m1.5 26.5h1m2 -14.5h1m-12 0h1m-3 5h1m7.5 4.5h1m-3.5 -1h1m-1.5 -6.5h1m0 -2.5h1m11 14.5h1m-3 -6h1m-7.5 -4.5h1m2.5 -9h1m-14 2h1m10.5 16.5h1m-1 -9h1m1 -5h1m-14 4.5h1m5.5 13.5h1m-6 -4.5h1m-3.5 -6.5h1" stroke="#f4ee20" stroke-width="1" stroke-opacity="0.45" fill="none"/>
<path d="M338.5 509.5h1m-4.5 -2.5h1m-0.5 -5.5h1m-4.5 -2.5h1m1 6.5h1m-8.5 0h1m5 -2h1m2 3h1m-4.5 -6.5h1m-5.5 7.5h1m8.5 -13.5h1m-4 8h1m-7.5 -4.5h1m-4 0.5h1m-7.5 1.5h1m4 -3.5h1m13.5 6h1m-16 -4.5h1m9 6h1m-8.5 1.5h1m2.5 1.5h1m12 -1h1m-15 4.5h1m-2.5 -4.5h1m-2 2h1m13.5 -6.5h1m-16.5 3h1m1.5 -4h1m-7 3.5h1m18 -5.5h1m-23 6h1m3 1.5h1m12 -3h1m-9.5 -3.5h1m0 3.5h1m14.5 5.5h1m-12 -0.5h1m-4 -8.5h1m2 -4.5h1m-5 -0.5h1m-0.5 11h1m-0.5 0h1m6.5 1.5h1m-10 -1h1m-4.5 -6h1m8 6.5h1m-18.5 -10.5h1m17.5 4h1m-9.5 5h1m5 -3.5h1m-11 8h1m8.5 -6.5h1m-16.5 3h1m7.5 -10h1m2 8h1m-4.5 1h1m6.5 0h1m-3.5 -8h1m-5 1.5h1m-3.5 -2.5h1m8.5 12h1m-10 -12h1m0.5 3.5h1m4.5 -4h1m-7.5 13h1m-3 -2h1m-2.5 -4.5h1m10.5 -9h1m-6.5 11h1m-5.5 1.5h1m5.5 -1h1m-10.5 -7h1m3.5 -3.5h1m9.5 16.5h1m-11 -7.5h1m13.5 -1.5h1m1 2h1m-12.5 2h1m3.5 -0.5h1m13.5 -0.5h1m-10 -6h1m-8.5 8.5h1m-6 2h1m-5.5 -4.5h1m6 -1h1m-4 -8h1m2.5 8.5h1m2 0h1m-11 0.5h1m15.5 -6h1m1.5 7h1m-7 -2.5h1m-11 7.5h1m4.5 -12h1m0 -1h1m-4 5.5h1m-12 -5h1m3 13h1m12 -11.5h1m-6 2h1m-13 1h1m12.5 0h1m0 7.5h1m-13.5 -11h1m10 -0.5h1m-2 0.5h1m23 -5.5h1m-31 3h1m15 -2h1m-0.5 5.5h1m-19.5 0.5h1m9 7h1m-12 -5.5h1m10.5 -3.5h1m3.5 4h1m-21.5 -0.5h1m4.5 0.5h1m-3.5 2.5h1m15.5 -16.5h1m-8 19.5h1m1 2.5h1m6 -18.5h1m-8 16h1m-4 -3h1m-0.5 4h1m-6 -12h1m11.5 -5.5h1m-4 9.5h1m-5 6.5h1m8.5 0h1m-7.5 -3.5h1m-11 4.5h1m-3.5 -9h1m14 3.5h1m-2 -7h1m-10.5 6h1m5 -5h1m4.5 13h1m0 -7.5h1m-18.5 -1.5h1m11.5 3h1m-14 -3.5h1m2.5 1.5h1m17 -10.5h1m-20 18.5h1m-1 -1.5h1m17.5 -0.5h1m-2 -9h1m-15 1.5h1m6 0.5h1m1 1.5h1m-6.5 8h1m-4 -6.5h1m-7 7h1m8.5 -9h1m7 -6h1m-14.5 4.5h1m16 1h1m-16 9h1m-5 -12.5h1m14.5 4.5h1m-12 -0.5h1m2 -5.5h1m17.5 4h1m-13 -3h1m-2.5 2.5h1m15 -1h1m-20.5 4.5h1m-1.5 4.5h1m5 -8.5h1m-12.5 2.5h1m7.5 -6h1m-2 9.5h1m0 -2h1m-3 0h1m2 5h1m-3.5 -8h1m-7.5 9h1m13.5 -3.5h1m8.5 -5h1m-14 2.5h1m-5.5 -5h1m4 5.5h1m8 -4h1m-23.5 2.5h1m9.5 4.5h1m-9 -16h1m-0.5 5h1m2 1h1m11.5 -0.5h1m-11.5 8.5h1m-6 -5h1m-7.5 -6h1m20 10.5h1m-14.5 1.5h1m-2 -5h1m18 4.5h1m-14 -3.5h1m-3.5 1.5h1m8 6.5h1m4 -17h1m-22.5 7.5h1m-6 4.5h1m12.5 -1.5h1m-3.5 6h1m-3 -1.5h1m0.5 -8.5h1m-0.5 2h1m3 5h1m1.5 -10.5h1m-7.5 7.5h1m-3 3h1m-6 -6h1m0 6h1m2 -7h1m6.5 7h1m-3 -3h1m-9 -4.5h1m-1 7.5h1m5 -1.5h1m3 2.5h1m-14 1h1m3 -8.5h1m3.5 -1h1m0 10h1m5 -4h1m-6.5 -3.5h1m-9.5 -1h1m-2.5 0h1m7 3.5h1m-2 1.5h1m-6.5 -6h1m-3 0.5h1m-0.5 -1.5h1m13 6.5h1m-9.5 -7.5h1m15 -2h1m-0.5 6h1m-10 -4h1m-0.5 7h1m-4.5 -8h1m8 7.5h1m-15 -0.5h1m13 4.5h1m-12 -5.5h1m-12 4.5h1m15 -13.5h1m-5.5 11.5h1m15 -4h1m-13.5 6.5h1m-5 -15h1m11.5 17.5h1m-9 -9.5h1m7 -1.5h1m-3.5 5h1m-8 -3.5h1m0 -6.5h1m-2.5 -2h1m-6.5 3.5h1m-3.5 7.5h1m7 1h1m9 -2h1m4.5 3.5h1m-19.5 -2.5h1m8.5 -8h1m-4.5 5.5h1m-2 -1h1m3.5 9.5h1m-8 -5h1m4.5 3h1m-8 1h1m-4 -7.5h1m4.5 -3h1m-9 7h1m10 1.5h1m-15 1.5h1m-1.5 0h1m21 -7.5h1m-3 -5.5h1m-5.5 -2h1m-5.5 7h1m-4.5 1.5h1m0.5 -0.5h1m4 1.5h1m-5.5 -3.5h1m11 -8h1m-16 8.5h1m5 2.5h1m6 5h1m-14.5 -12.5h1m9 13.5h1m4 2h1m-10 -5h1m-7 -3h1m17.5 1h1m-24.5 -1.5h1m8.5 -2.5h1m-9 11h1m4 -8h1m9.5 4h1m-16.5 -9.5h1m15 4h1m-16 2.5h1m-0.5 7.5h1m13 -6h1m-17 1h1m10.5 -10.5h1m3 1.5h1m-6 9.5h1m-4.5 -13.5h1m9 9.5h1m2 3.5h1m-4 -7.5h1m-4.5 5.5h1m-3 -2.5h1m1.5 10.5h1m9 -10.5h1m-13.5 -0.5h1m-1 -3h1m-6 10.5h1m6.5 -3h1m-1 -3.5h1m-2.5 6h1m-6.5 3h1m6 -7h1m-2.5 5h1m3.5 -16.5h1m-4 16h1m-9.5 -5.5h1m-2 -2.5h1m2.5 0.5h1m-1.5 5.5h1m-2 -9.5h1m13.5 1h1m-16 6h1m-4.5 1h1m0 -14.5h1m-6.5 6.5h1m6 0.5h1m10 3.5h1m-17.5 7h1m14 -2h1m7 -5h1m-19 7.5h1m1 -10h1m-7 11.5h1m8 -5h1m9.5 5h1m-9 -17.5h1m-7 9.5h1m-3.5 3h1m11 -10h1m-9.5 12.5h1m-6.5 -2.5h1m2.5 1.5h1m0.5 -5.5h1m-6.5 -8h1m4.5 4h1m12.5 7h1m2 -6h1m-8 5h1m-16 0h1m-4.5 0h1m18.5 3h1m-1 6h1m-14 -6.5h1m6.5 -2h1m-4.5 -0.5h1m-1 7.5h1m12 -11h1m-5 1h1m-9.5 2.5h1m-5 3.5h1m12 2h1m-13.5 -4.5h1m2 5.5h1m4.5 -4.5h1m-2 -2h1m-5.5 9h1m8 -13.5h1m-10 9.5h1m0.5 -6h1m5.5 4h1m-16 6h1m12.5 -0.5h1m0.5 -10.5h1m-13.5 5.5h1m12.5 -15.5h1m4 -1h1m-11.5 12h1m-4.5 4h1m3.5 -5.5h1m-7.5 8.5h1m-2 -8h1m3.5 3h1m-8 6h1m11 -9.5h1m-11 3.5h1m-1 -3.5h1m-1.5 -11h1m-8 18h1m0 -11.5h1m-3 2.5h1m5 12h1m9 -7h1m-3 -4h1m-3 -2.5h1m1.5 8.5h1m0.5 -3h1m3 -5h1m8 9h1m-20 -3.5h1m3 5h1m-7.5 -10.5h1m16.5 11h1m-8.5 -12h1m-7 1.5h1m-0.5 2.5h1m-12 3h1m7.5 -6.5h1m-8.5 3h1m-2.5 -9h1m12 11.5h1m-1 8h1m5.5 -9.5h1m-16 6.5h1m13.5 -7.5h1m-14.5 11.5h1m3.5 -5h1m-3.5 -13.5h1m9.5 4.5h1m-13 14.5h1m11 -10h1m-2.5 -0.5h1m-6 3h1m3 6h1m3 -2h1m-10 -10.5h1m-2.5 -2.5h1m-2 4h1m10 4.5h1m2.5 6h1m-17.5 0h1m9.5 -13.5h1m-12.5 5.5h1m12.5 4h1m-6 1h1m-1.5 -4.5h1m1 -7.5h1m-9.5 7h1m5.5 -8.5h1m2 5.5h1m-13 -4h1m11.5 5h1m-3 6.5h1m-1 1h1m-9.5 -3.5h1m9 2h1m-1 -7.5h1m-1 4h1m4.5 6.5h1m-16 -7.5h1m-3 -3.5h1m4 7h1m6 -7.5h1m12.5 -10.5h1m-15.5 16h1m-6.5 -1h1m5 5h1m-9.5 -4.5h1m-8.5 9h1m0.5 -17h1m0 17.5h1m10 -11.5h1m-4 -2.5h1m4.5 -6.5h1m-13 17.5h1m13.5 -13.5h1m1 6h1m-14.5 3h1m-1.5 7h1m-4 -13h1m9 4h1m-3.5 4h1m-2.5 -2h1m1.5 -1.5h1m3.5 -8h1m-7 12.5h1m-8 -2.5h1m7.5 -0.5h1m-7 2h1m0 -4h1m0 -14h1m1.5 14h1m3 1h1m-15 -2h1m17 -1h1m-10.5 -8.5h1m-5 13.5h1m6.5 6h1m3 -5.5h1m6 -5h1m-2 0h1m-7.5 0h1m-12 -7.5h1m0 13h1m4.5 0h1m5.5 3h1m-3.5 -7h1m3 -10h1m-7.5 8.5h1m-12 -1h1m6 1h1m6 2h1m0 3h1m0 -0.5h1m-18.5 -13h1m10 18h1m-1.5 -7.5h1m-4 -5.5h1m2.5 3h1m-11.5 -4.5h1m17.5 13h1m-0.5 -0.5h1m-6 -5.5h1m-11.5 6h1m12.5 -15.5h1m-2 16h1m-3 -8.5h1m-4.5 -1h1m-2 3.5h1m-3 -2h1m1 2.5h1m-7.5 -1h1m4 3h1m-1 -6h1m3 10h1m8.5 -7h1m-6 -9.5h1m-4 11h1m3.5 -4.5h1m6 4h1m-18 4.5h1m12.5 -1.5h1m-9.5 -3h1m1.5 -12h1m5 13.5h1m-15.5 -3h1m1.5 5.5h1m0.5 -5h1m-3 4.5h1m-8.5 -13.5h1m14 6.5h1m-8.5 4.5h1m-7.5 -9h1m6 5.5h1m-3.5 6h1m7 -13h1m-12 10h1m-6 -5h1m3 2.5h1m11.5 0.5h1m-2.5 3.5h1m-13.5 -9.5h1m1 3.5h1m4 10.5h1m7 -8.5h1m-12 -5h1m3 -2.5h1m9 5h1m-9 5.5h1m6.5 -1h1m6.5 -4.5h1m-4 2h1m-15 -2.5h1m-6 7h1m-7 -4h1m10 -8h1m16.5 2h1m-21 7.5h1m13.5 -2h1m-15.5 8h1m1 0h1m0 -6h1m8.5 -6h1m-16 11h1m0 -6.5h1m3 -4h1m-3.5 14h1m7.5 -14h1m-11 4.5h1m1 -1.5h1m-6.5 -1.5h1m8.5 -4h1m-10 8h1m17.5 -5h1m-7 5h1m14 -0.5h1m-19.5 0h1m-4.5 2h1m-8.5 7h1m5 -10h1m1.5 9h1m1.5 -1h1m3 -11.5h1m-13.5 11.5h1m6 -5h1m-9.5 1.5h1m13 -6.5h1m-13.5 3h1m-2.5 0.5h1m10 4.5h1m1 -6.5h1m-2.5 -4.5h1m8.5 7h1m-14.5 1.5h1m-3 -0.5h1m10.5 2.5h1m4.5 -5.5h1m-15 -8h1m-5 12h1m5.5 0.5h1m7 2h1m-5.5 0h1m4 2.5h1m-19 -9.5h1m5 0h1m5 5.5h1m4.5 -6.5h1m-11 5h1m4.5 -7h1m-8.5 8h1m12.5 -17h1m-10.5 14h1m-1.5 -3.5h1m1.5 3h1m-7 4h1m-2.5 -4.5h1m12.5 4.5h1m-16.5 -9.5h1m5.5 6h1m10 1.5h1m-18.5 4h1m10.5 -5.5h1m-10 0h1m2.5 -3.5h1m-0.5 6.5h1m-9.5 -12.5h1m15.5 5h1m-6.5 4h1m-3.5 -4.5h1m13 1h1m-23.5 -5.5h1m14.5 7.5h1m-3 4.5h1m-9.5 -7.5h1m-5.5 -1.5h1m3.5 7h1m8 -9.5h1m3 12.5h1m-20 -2h1m14.5 5.5h1m7 -19.5h1m-21 13h1m0.5 8h1m6.5 -2.5h1m-3 -19.5h1m-3 10h1m-9 3.5h1m9.5 0h1m0.5 4h1m-3 -5.5h1m-8.5 -2.5h1m7 -5h1m-2 9h1m-4 1h1m1.5 -1h1m-2.5 -0.5h1m-2.5 8h1m-5.5 -7h1m2.5 2h1m23 -13h1m-11.5 13.5h1m-2.5 -10.5h1m0.5 13h1m-13 -0.5h1m11.5 -12.5h1m-2 13.5h1m-11.5 -10.5h1m-4.5 11h1m0.5 -1h1m1 -7.5h1m3 8h1m-3.5 -3h1m-3.5 -7.5h1m5.5 8.5h1m-17.5 -4.5h1m18 -2.5h1m-18 1h1m15 7.5h1m-2.5 -2h1m2 -5h1m-8.5 -7h1m8 4h1m-8 -4h1m-3.5 5.5h1m6.5 9h1m-10.5 -19h1m0 2.5h1m10.5 3h1m-5 7.5h1m-11.5 -9h1m3.5 -1.5h1m12 12h1m-6 -3h1m-14.5 4.5h1m11 -12h1m-1 11.5h1m-6.5 -4.5h1m-8 -13h1m10 14.5h1m-13.5 1h1m5.5 -0.5h1m1 -6.5h1m-10.5 6.5h1m12 -12.5h1m8.5 0h1m-10 11h1m-10.5 4.5h1m-2.5 5.5h1m14 -21.5h1m-8 1h1m-11 4h1m5.5 13.5h1m2 1h1m3 -3.5h1m10.5 -5h1m-27.5 6.5h1m10.5 -13.5h1m-8 3h1m6 4h1m-11.5 -5.5h1m0 16h1m-3.5 -14.5h1m11.5 0.5h1m-3.5 3h1m7.5 3h1m-14.5 -16.5h1m7.5 13h1m4 6h1m-10 2h1m4 -14.5h1m-6.5 10.5h1m-3 -5.5h1m1.5 5.5h1m1 -0.5h1m-4.5 1h1m1.5 -10h1m-4 14.5h1m-5 -2.5h1m8 -1h1m-8.5 -2.5h1m-0.5 0.5h1m3.5 -14h1m-6 18h1m-3.5 -0.5h1m4 0.5h1m-6 0h1m6.5 -1.5h1m-9 -3h1m8.5 1.5h1m-7 -4.5h1m2 2h1m-3.5 -2h1m0 10.5h1m2.5 -15h1m0.5 5.5h1m7 -2.5h1m-9 -1h1m8 -2.5h1m-16 9h1m10 4h1m-8 -15h1m3.5 15.5h1m-8 -13.5h1m-8 8h1m4.5 -0.5h1m10.5 -6h1m-1.5 11.5h1m-18 -10h1m18.5 5h1m-11 8.5h1m1 -8.5h1m-2.5 -4h1m-7.5 8h1m-0.5 -7.5h1m10.5 -6.5h1m3.5 5.5h1m-5.5 -2h1m-2 1h1m1 -6h1m-2 10.5h1m0.5 -3h1m-9 4h1m4 -8h1m-12 4.5h1m11 8h1m-7 -10h1m-2.5 -6.5h1m-1 10h1m1 1.5h1m0.5 -1h1m-5 3.5h1m-7 -0.5h1m6 2h1m3.5 -9.5h1m-5 10.5h1m0.5 -3.5h1m0 1h1m-9.5 -6.5h1m7 4h1m10 -2h1m-7 8h1m0.5 -8h1m-2 0h1m-6 0.5h1m3.5 1h1m-8.5 4h1m-3.5 -1h1m8.5 2.5h1m-12.5 -4h1m10.5 1h1m0 5.5h1m-12 -11h1m13.5 10.5h1m-4.5 -9h1m-10 -5h1m6.5 5h1m-6.5 1h1m-0.5 -1.5h1m-9 1h1m17.5 -2.5h1m-8.5 -0.5h1m-0.5 8h1m-13 1h1m0.5 -5h1m-2.5 -4h1m5 8h1m2 -5.5h1m2.5 -0.5h1m-1 0h1m2 6h1m-9 -3h1m-3.5 -4h1m7 7.5h1m-11 -4h1m-1 5h1m9 -6h1m-3 8h1m6.5 -12h1m-15 3h1m-6 -3.5h1m8.5 2h1m0.5 3.5h1m6.5 3h1m-4.5 -7.5h1m-4 1h1m-9 5.5h1m7 0.5h1m2.5 -8h1m-8 -5h1m0 7h1m-1 1h1m12.5 7.5h1m-12 1h1m-5 -4.5h1m2.5 -4h1m-4 8.5h1m-1.5 -15h1m-2.5 -4h1m-8.5 7.5h1m16 -3.5h1m0.5 9h1m-13 0.5h1m3 6.5h1m5 -9h1m-14 2h1m20 -1h1m-15.5 5h1m6.5 -4.5h1m-20.5 -0.5h1m14 -4h1m8 11h1m-5.5 1h1m-4.5 -1.5h1m4 -0.5h1m-14.5 -7h1m14.5 4.5h1m-4.5 -1.5h1m-0.5 7.5h1m-6 0h1m-7 -8.5h1m-3 0h1m7.5 -4h1m14.5 -4h1m-20.5 10h1m6.5 -7h1m-6 9h1m4.5 4h1m-5 -16h1m-4.5 12h1m-4 -5.5h1m13 6h1m-11.5 0h1m-3 -7h1m4 3h1m-2.5 -3.5h1m-10 -10h1m4 12h1m1.5 -8h1m-9.5 7.5h1m12 -4h1m-14.5 10h1m3.5 -14.5h1m12.5 6h1m-9.5 3.5h1m-3 2h1m6.5 6.5h1m-15.5 -10.5h1m18 10.5h1m-10 -7h1m7.5 -4.5h1m-6.5 7.5h1m1.5 -6h1m-9 1h1m-2.5 1.5h1m-4.5 7h1m5 -9h1m1 7.5h1m-7 -3h1m17.5 -6h1m-23 -1h1m7.5 11.5h1m3.5 -4h1m-6 5h1m11.5 -16.5h1m-18.5 -2.5h1m6 8.5h1m-3.5 4.5h1m-6.5 1h1m4.5 -3h1m0.5 7h1m0 -1h1m-12.5 -9h1m16.5 5.5h1m-3.5 0.5h1m-1.5 2h1m7 -9.5h1m-23 2.5h1m7 -9.5h1m3 4.5h1m-9 5.5h1m3 -0.5h1m-3 0.5h1m4 10h1m-2.5 -6.5h1m4 5.5h1m-17.5 -17.5h1m8.5 7.5h1m4 -3h1m-2 3.5h1m-5.5 8.5h1m21 -21h1m-30 16h1m-0.5 -1h1m2 -5.5h1m12 -7h1m-17 12.5h1m2 -2.5h1m3 0h1m-10.5 0.5h1m20.5 2.5h1m-14.5 3.5h1m2 3.5h1m-10 -6.5h1m11.5 -4h1m-2.5 -1h1m4.5 3.5h1m-9.5 -3.5h1m19.5 6h1m-20.5 -4.5h1m-7.5 9.5h1m6.5 -6.5h1m6 3h1m-9 0h1m0.5 2h1m-15 -12.5h1m16 0h1m-1 3.5h1m-6 5h1m-8.5 -2h1m18 -7h1m-6 2.5h1m-2.5 4.5h1m5 2h1m-19 4h1m8.5 -12.5h1m-8.5 12h1m-4 -3.5h1m8 -2.5h1m0 -0.5h1m6 -6h1m-7.5 11h1m-6 -14h1m12 17h1m-21.5 -19h1m21.5 7.5h1m-9.5 8h1m-5.5 -15h1m-6 12h1m7.5 -7h1m4.5 4.5h1m-14.5 -4.5h1m2 -3h1m-1 3h1m10 3h1m-16.5 -2h1m11.5 5h1m-1.5 -4.5h1m-2 -6.5h1m14.5 4h1m-24 6.5h1m10 -2.5h1m-5.5 -8.5h1m-12.5 14.5h1m1 -10h1m13.5 4h1m-21.5 6.5h1m4.5 -12.5h1m13.5 7h1m-0.5 -1.5h1m-20.5 -1.5h1m9 1h1m14 6.5h1m-20.5 -4.5h1m18 5h1m-8.5 -8.5h1m-6 14h1m8.5 -15.5h1m-11 9.5h1m-2 -15h1m-4 12.5h1m4 2.5h1m-2.5 -8h1m-2.5 4h1m0 -0.5h1m3.5 0.5h1m-0.5 7.5h1m5.5 1h1m-11 -8.5h1m7 -7h1m-14.5 14h1m3.5 -19.5h1m-3 17h1m3 -2.5h1m15.5 1h1m-23 -5h1m0 12.5h1m21 -6.5h1m-19.5 1.5h1m5 -2.5h1m-12.5 -5h1m3 -0.5h1m0 12.5h1m9 -7h1m-6 6h1m-13.5 -10.5h1m3.5 -7h1m10.5 6.5h1m-12 -2h1m14.5 -3h1m-13 7h1m7 -5.5h1m-11 -2h1m-7 8h1m6 9h1m4 -0.5h1m5 -0.5h1m-2 -13h1m-12.5 8.5h1m-4 -2h1m12 -9h1m4 -0.5h1m-11 7h1m-11.5 9h1m8 -9h1m1.5 -3.5h1m6 2.5h1m0 1h1m-14.5 -8h1m-1.5 6h1m8 1.5h1m-14 10h1m7 -14h1m-1 9h1m-2.5 -8h1m-1.5 6.5h1m4.5 3h1m-5 -0.5h1m-10.5 -13.5h1m11 3.5h1m4.5 10h1m-14 -2h1m5.5 5h1m-14 0.5h1m4.5 -11h1m-0.5 9h1m4.5 1h1m4.5 -13.5h1m6.5 2h1m-29 -6.5h1m8.5 13.5h1m-3.5 3h1m4 -6.5h1m8 5h1m-14 1h1m5 0h1m11 -8.5h1m-21.5 -4h1m3.5 14h1m-4 -6h1m3 -3h1m-5.5 3.5h1m5.5 6h1m3.5 2h1m15 -12h1m-28 5.5h1m7.5 2.5h1m5 -8h1m-9.5 7h1m4.5 -14.5h1m-2.5 10h1m-11.5 -4.5h1m17.5 3h1m-11 6.5h1m-5.5 3.5h1m11 -21h1m-11 12.5h1m-3 -6h1m-4.5 -0.5h1m12.5 16h1m11 -16.5h1m-29.5 11h1m17 -1h1m-19 0h1m7.5 -2.5h1m17 4.5h1m-27.5 -6.5h1m8 -4.5h1m-11.5 3.5h1m2.5 3.5h1m-0.5 0.5h1m9 1.5h1m-0.5 1h1m-3 -0.5h1m6.5 -2.5h1m-20.5 2.5h1m11 5h1m-2 -1h1m-9.5 -5.5h1m11 0.5h1m-3.5 4h1m6.5 -4h1m-21 3h1m4.5 -3.5h1m4 -7h1m19 10h1m-19 -1h1m-9.5 -8h1m1.5 1.5h1m12.5 -5h1m-5 12h1m-6 -1h1m-8 2.5h1m2 -2.5h1m-2 3.5h1m2.5 -14.5h1m-5.5 1.5h1m6.5 10.5h1m1.5 3h1m-7.5 -10h1m3.5 7.5h1m-11 -0.5h1m9.5 3h1m-0.5 -17h1m-7.5 4h1m3 8.5h1m-11.5 -6.5h1m3.5 6h1m13.5 -13.5h1m-11 6.5h1m-1 6.5h1m9 -5.5h1m-6.5 8h1m1 -9h1m-14 3.5h1m3 2h1m-2.5 -2.5h1m-2.5 -7.5h1m-4.5 8.5h1m11.5 -1.5h1m-14 7h1m17 3h1m3.5 -8.5h1m4 -1.5h1m-15.5 4.5h1m-13 4.5h1m-2 -18.5h1m14.5 19.5h1m11.5 -10h1m-15 7.5h1m-13.5 0.5h1m-0.5 -3h1m5 7h1m9 -4.5h1m-17.5 -3h1m11.5 1h1m17.5 3h1m-23 -7.5h1m-0.5 4.5h1m-0.5 -13h1m-13 3.5h1m10.5 10.5h1m7 -9.5h1m-21.5 6h1m6.5 -4.5h1m18.5 9h1m-23 -3.5h1m1.5 -6.5h1m4.5 5h1m1.5 -3h1m5.5 12h1m1 -21.5h1m-3.5 5h1m-14.5 10.5h1m0.5 -3h1m-1 -2h1m3 -5.5h1m-8 12.5h1m3.5 -14h1m-2 4h1m3 1.5h1m-3 -3.5h1m6.5 5.5h1m-14 -2.5h1m10 12.5h1m6 -5.5h1m-23 1h1m-0.5 -3.5h1m14 -4.5h1m-5.5 10.5h1m-1.5 -10.5h1m-2 4h1m-7 -4h1m14 6h1m-13.5 3h1m-7 -6.5h1m2.5 2.5h1m8 -5.5h1m1.5 0.5h1m-7.5 1h1m17.5 -6.5h1m-14 11h1m-3 -1h1m-10 8h1m9.5 -7h1m-3.5 1.5h1m3 6h1m-5.5 -2.5h1m-7.5 -8.5h1m5.5 -2h1m7 13.5h1m-18 -8h1m6.5 3.5h1m2.5 -10h1m1 6.5h1m-8.5 3h1m8 -2.5h1m-4 -13.5h1m-3 2.5h1m3.5 1h1m-13.5 14.5h1m2 -7h1m-2 -0.5h1m11.5 5h1m-14.5 -1.5h1m4 -4.5h1m-3.5 6.5h1m7.5 1h1m0.5 -2.5h1m-3 4.5h1m10.5 -3.5h1m-18 -7h1m-7 8.5h1m-5.5 -4.5h1m1.5 7h1m9.5 -3h1m-0.5 0h1m-5.5 4.5h1m-10.5 -9.5h1m5 8h1m22.5 -8h1m-30.5 2h1m13.5 8h1m1.5 -4.5h1m-2 -9h1m-4 11.5h1m-2 -3.5h1m-13 -3.5h1m14.5 2h1m-10.5 -1h1m2 6h1m-2 -6h1m-2 -4h1m4.5 -2.5h1m0 7h1m6.5 1h1m-11 2h1m-4.5 -0.5h1m-5.5 -2.5h1m7.5 1.5h1m2.5 -5.5h1m2 2h1m-5.5 -4.5h1m-0.5 5h1m3 -7h1m3.5 5.5h1m-15.5 0h1m0.5 4h1m5.5 0.5h1m0 -6h1m3 -2h1m-13 5h1m-8.5 -7.5h1m10 1h1m-3 6h1m-2.5 -9h1m-1 18.5h1m7 -2h1m2 -11h1m-11.5 10h1m6.5 0h1m-2.5 -19h1m0.5 17h1m-18 -7.5h1m24 8.5h1m-11.5 -5h1m-12 -2.5h1m8 2h1m-14.5 -5.5h1m11.5 8.5h1m-1.5 -8.5h1m8 5h1m-16.5 -8h1m8 9.5h1m-11.5 7.5h1m22 -5.5h1m-24.5 0.5h1m20 -4.5h1m-12.5 8.5h1m0.5 -8h1m-12.5 4.5h1m14 3h1m-4 -16h1m16 3h1m-25.5 11h1m1 -8h1m0.5 6h1m-4.5 -1h1m5 -3.5h1m-15.5 5.5h1m8 -3.5h1m15.5 4.5h1m-19.5 -1.5h1m7.5 -4h1m16.5 -0.5h1m-28 3.5h1m-1.5 -1.5h1m0 -5h1m12.5 1h1m0 3.5h1m-1 -3h1m-7 7.5h1m-6 -6.5h1m-3 3h1m-4.5 6.5h1m17.5 -9.5h1m-17.5 2.5h1m-2.5 -0.5h1m7.5 -3h1m-4.5 10.5h1m6 -12h1m-3.5 9h1m9 -8h1m-10 0h1m-6.5 3.5h1m-4.5 -1h1m11.5 4h1m-15.5 -3h1m17.5 3h1m-12.5 -3.5h1m-1.5 -5.5h1m4 2.5h1m-5.5 0h1m5.5 -2.5h1m-1 5h1m-12.5 -8h1m13 5.5h1m-15 5h1m7.5 1h1m-13 1h1m13 2.5h1m-14 -1h1m14 -3h1m-1.5 -7h1m-5.5 2h1m2.5 6.5h1m-9.5 -7h1m4 4h1m8 -4h1m-16.5 10h1m7.5 -9h1m1 -1h1m-13 6.5h1m-2.5 0.5h1m9 -4.5h1m-3.5 -6.5h1m-5 10h1m1.5 4h1m0 -7.5h1m15 -11.5h1m-16.5 18h1m-7.5 -3.5h1m6 -3.5h1m8.5 9.5h1m-4 -11h1m-0.5 4h1m-2.5 3h1m4 -5h1m-18.5 4.5h1m14.5 4.5h1m-7.5 -13.5h1m-12.5 7.5h1m13 -3.5h1m-9 7.5h1m-4.5 1.5h1m23 -2.5h1m-24 2.5h1m3 -8.5h1m5 0.5h1m-3.5 8.5h1m-4 -11.5h1m-10.5 4.5h1m9 -1h1m1.5 1h1m-5 -1h1m4.5 -7h1m8.5 2h1m-9.5 7h1m-8.5 -1h1m5.5 2h1m-12.5 0.5h1m-3.5 4h1m9 -9h1m10 5.5h1m-17.5 -1.5h1m15.5 1h1m-7 4.5h1m-4 -14h1m-4 -3.5h1m6.5 12h1m-15.5 4h1m4 -5h1m-2 4h1m6.5 -5.5h1m-1.5 -13h1m-4.5 9.5h1m-5 -2.5h1m1.5 1.5h1m0 -1.5h1m1.5 7.5h1m2.5 -4h1m-4 0h1m-2 3.5h1m-6 3.5h1m0.5 -2h1m3 5.5h1m1 -14.5h1m-0.5 8h1m-2.5 -5h1m4.5 -5h1m6.5 10.5h1m-24 -13h1m8.5 15h1m-14 3h1m9.5 -1h1m-6.5 -8h1m5 0h1m8.5 -11h1m-2 12h1m-18 2.5h1m13.5 1.5h1m4.5 -3h1m-12 -3h1m10 0h1m-15 1.5h1m-1 0h1m3.5 1h1m0.5 -0.5h1m3.5 4h1m-13 -0.5h1m2.5 -13h1m-2.5 5h1m-0.5 13.5h1m-0.5 -20.5h1m1 7h1m-1.5 9h1m16 -1.5h1m-25.5 2h1m2 -10h1m2 9.5h1m7 -13.5h1m-2.5 8.5h1m3 -8h1m-9.5 14.5h1m0.5 1h1m-11.5 -0.5h1m17 -7h1m-10.5 2.5h1m-5.5 -2h1m-2 0h1m15.5 3h1m-13.5 0h1m-5.5 -4.5h1m-5.5 -1.5h1m9 5h1m4 1.5h1m-12 2.5h1m11 -8.5h1m-7 -3h1m7.5 4.5h1m-1 -3h1m0 3.5h1m3 -1h1m-9.5 11.5h1m-1 -17.5h1m-12.5 15h1m18.5 -7.5h1m2 -4h1m-13.5 12.5h1m-15.5 -2h1m13.5 -1h1m1.5 -8h1m-8 7h1m-3 -2h1m5 -2h1m-5 -0.5h1m-2 -7.5h1m5 7.5h1m7 8h1m-20 -7h1m2 5h1m6 -1.5h1m12 -10h1m1 12.5h1m-19.5 -10h1m15.5 10h1m-12.5 -4h1m-4 -1h1m11.5 -3h1m1 -6h1m-5.5 2.5h1m-1.5 11.5h1m-8 -8.5h1m-10.5 -9.5h1m16 3.5h1m-7.5 1h1m-1.5 -1h1m5 3h1m-5.5 0.5h1m-9.5 5h1m13.5 0h1m-3.5 2.5h1m11.5 2h1m-28.5 0h1m4.5 -5h1m2.5 4h1m-4.5 0.5h1m-7 -2.5h1m9.5 -7h1m-9 12h1m5 -5h1m5.5 2.5h1m-2 0.5h1m-5.5 0h1m0 -6h1m-4 8.5h1m-7 -4h1m-7.5 -8h1m17 10h1m-11.5 -7.5h1m13.5 4.5h1m-7.5 -8.5h1m17.5 14h1m-18.5 -7.5h1m-14.5 -14.5h1m8 7.5h1m6.5 8.5h1m-19 -9.5h1m10.5 8.5h1m6 4h1m-16 -12.5h1m-1 11h1m-2.5 -1h1m1.5 -1h1m-6.5 0h1m5.5 4.5h1m6.5 2h1m-0.5 -13h1m4 3h1m-17 3.5h1m15 -2h1m-11 1.5h1m9 -2h1m-10 8.5h1m1.5 -11h1m-10.5 -7h1m24.5 18.5h1m-25 -9.5h1m7 7.5h1m-4 -1.5h1m3 3h1m-4 -18h1m-0.5 14h1m-6 -1.5h1m9.5 -13.5h1m-1.5 20h1m-16 -13h1m14.5 9h1m-12 -3h1m-5 6.5h1m3.5 -9h1m6.5 3.5h1m3.5 1h1m-2 0.5h1m-16 -8.5h1m22 0.5h1m-16 8.5h1m-0.5 -3h1m12 0.5h1m-21 -1.5h1m19 8.5h1m-6 -6h1m-17.5 0.5h1m9.5 0h1m-1.5 -1h1m-5.5 -0.5h1m16.5 -8.5h1m-10.5 8.5h1m-1 2h1m2 -2h1m-17 1.5h1m14.5 2h1m5 -2.5h1m-11.5 -6h1m-4.5 7.5h1" stroke="#0000ee" stroke-width="1" stroke-opacity="0.7" fill="none"/>
<path d="M431 495h1m-13.5 10.5h1m3.5 3.5h1m8 0h1m-7.5 1h1m-14 -4.5h1m22 -2.5h1m-29 0.5h1m5.5 -7h1m13.5 10h1m-19.5 3.5h1m-2 -9h1m12.5 0h1m7 -1.5h1m-23.5 8h1m20 -2.5h1m-13 -10h1m9.5 5.5h1m-17 4h1m0.5 1.5h1m21.5 -3.5h1m-7.5 7h1m-3 0h1m-19.5 -2h1m10 -0.5h1m5.5 -1h1m-11 1.5h1m10.5 -4h1m6.5 3h1m-9 -3.5h1m-5.5 -1.5h1m-8 3.5h1m-7.5 -5.5h1m13.5 10h1m1 -12h1m-1.5 11h1m-4.5 -13h1m7.5 11h1m-12 2h1m-1.5 -1h1m-2 -1h1m13.5 -7.5h1m-16 8.5h1m1.5 -2h1m7.5 4.5h1m-1 -6.5h1m-15.5 6.5h1m14 -1.5h1m-3 -5h1m-7 -2.5h1m-8 0.5h1m14.5 4.5h1m-20.5 0h1m21 -0.5h1m0 2h1m-21.5 2.5h1m15.5 -0.5h1m-4.5 -11h1m-12.5 11.5h1m4.5 -1.5h1m15 -9.5h1m-26 -5h1m14.5 13.5h1m-1 -9h1m3 5h1m-3 2h1m-0.5 -2h1m1 7h1m-14.5 -3h1m-9 3.5h1m9.5 -3.5h1m-11 -0.5h1m12 1h1m-3.5 0h1m0.5 -3.5h1m-4 2h1m-2.5 1.5h1m13.5 0.5h1m-15 -4.5h1m-10.5 5h1m7 -1.5h1m3.5 -3.5h1m10 3h1m-17.5 -4h1m-1.5 4h1m10 0h1m-15.5 0.5h1m22 -5.5h1m-7.5 7h1m-9 -6h1m6 7h1m-9.5 -1.5h1m-8 -8.5h1m-2 10h1m1 -2.5h1m7 -8.5h1m3 10h1m4 -5.5h1m-16 7h1m-0.5 -5.5h1m8.5 -5.5h1m-9.5 7h1m18.5 2.5h1m-1.5 -8.5h1m-8.5 0h1m4.5 6h1m-7 -2.5h1m-9.5 -8.5h1m-11 14.5h1m5.5 -0.5h1m12.5 0.5h1m-15 -12h1m12.5 7.5h1m4.5 2.5h1m-11 -3h1m0.5 -7.5h1m-8.5 10.5h1m5.5 1.5h1m-0.5 1h1m-13 -8h1m19 -3.5h1m-11 9.5h1m3.5 -1.5h1m-7.5 -2.5h1m-12.5 -2h1m5.5 6.5h1m3 -1h1m14 -5.5h1m-13 -11h1m-13.5 12.5h1m14 -19h1m-9.5 21h1m6 -7.5h1m-3.5 0.5h1m10 7.5h1m-5.5 3h1m-17 0h1m3 -0.5h1m3.5 -1.5h1m-7 1h1m1 -5h1m14.5 3h1m-13 3h1m9.5 -2.5h1m2.5 -4.5h1m-24 0.5h1m11.5 1.5h1m1.5 1.5h1m-11.5 -10h1m19 13.5h1m-26 -5.5h1m2.5 6h1m-5 -1.5h1m21 -1h1m-4 0.5h1m-21 -8h1m3 3h1m-5 -0.5h1m6.5 7.5h1m-7.5 -6.5h1m-1 5.5h1m14 -3h1m-5.5 4h1m6 -14h1m-7 12.5h1m11.5 -3.5h1m0.5 5.5h1m-14 -9.5h1m-6.5 6.5h1m3 0h1m-4.5 1.5h1m13.5 0h1m-8 -6.5h1m-1.5 -2.5h1m-12.5 1.5h1m0.5 -1.5h1m4 6.5h1m-3.5 -2.5h1m0.5 5h1m16 -6.5h1m-24 -4h1m21.5 3.5h1m-10 5.5h1m-5 3h1m2 -8.5h1m-12.5 -0.5h1m-4.5 -4.5h1m23 14h1m0.5 -6.5h1m-11 6.5h1m-15.5 -7.5h1m17 -2h1m-2.5 0.5h1m-11 4h1m11.5 -3h1m-18 5h1m4.5 -3h1m14 3.5h1m-21.5 1.5h1m1.5 -6h1m-7.5 1.5h1m0 0.5h1m25 2h1m-25 -11.5h1m8.5 13.5h1m0 -1h1m-5 -8.5h1m-0.5 8.5h1m4.5 -3.5h1m-2.5 1h1m-1.5 1.5h1m-6.5 1.5h1m10.5 -4h1m-13 -2h1m17 4.5h1m0 1h1m-26.5 -0.5h1m9 -7h1m-3.5 2.5h1m-2.5 5h1m8.5 -1h1m-8.5 1.5h1m13.5 -1h1m-23 -0.5h1m6 1.5h1m-1 -4.5h1m9.5 2.5h1m-16 0h1m-1 -14h1m16.5 13.5h1m-1.5 -5h1m-5.5 4h1m-4 1h1m-4 2h1m7.5 0h1m0.5 -2.5h1m-12.5 -1h1m-9.5 -3h1m26.5 7.5h1m-1.5 -10.5h1m-25.5 9h1m21.5 1.5h1m-8.5 0h1m-12 -14.5h1m8 9.5h1m-3.5 3.5h1m5 -10.5h1m-15.5 10h1m-0.5 2.5h1m-4.5 -4.5h1m22.5 2.5h1m-12.5 -5h1m-12.5 -4.5h1m-2 1h1m8 5.5h1m-11.5 3h1m3 -6.5h1m2 -6h1m-0.5 14h1m13.5 -3h1m-17 1.5h1m-2 -9.5h1m8.5 1.5h1m10.5 5h1m-4.5 4h1m4 -14h1m-16 5h1m-1 10h1m5 -3.5h1m-8.5 0h1m-11 2.5h1m2.5 -1h1m20.5 -6.5h1m0.5 7.5h1m-25 -7h1m12.5 -9h1m-3.5 8h1m-0.5 5h1m11 -13h1m-25 15h1m-2.5 -3h1m14 2.5h1m-8 -0.5h1m9 3h1m-16 -7.5h1m-5.5 4.5h1m0.5 -8h1m23.5 -3h1m-4 6h1m-11.5 7h1m1 1.5h1m4.5 -17.5h1m-16.5 15.5h1m0 0.5h1m11.5 -4h1m3.5 0.5h1m-0.5 2.5h1m-16 -2.5h1m-2 3.5h1m19 -1.5h1m-2.5 -3h1m-17.5 -11h1m14.5 13.5h1m-25 -3.5h1m15 7h1m9.5 -1h1m-2 -1.5h1m-4 -5h1m-7 -8.5h1m-14 -0.5h1m10.5 13h1m4 2h1m-15.5 -3.5h1m6.5 3.5h1m0.5 -0.5h1m-2 1.5h1m9 -6h1m-12 1h1m13 3.5h1m-5 -11h1m-3.5 6.5h1m-12 5h1m-10 -8.5h1m5 6.5h1m5 -4h1m-12 5h1m6 -2h1m13 2.5h1m-4 -1.5h1m1.5 -1h1m-6.5 1h1m-11 -2h1m6.5 1h1m10 -9h1m-15.5 10.5h1m16 -6.5h1m-4 4h1m-9 2h1m-7.5 -6h1m0 3h1m-3.5 -13.5h1m8 9h1m5 9.5h1m-8.5 -2.5h1m-4.5 1h1m2 -1h1m-5 -3.5h1m14 -1.5h1m-4 0h1m-16 3h1m6.5 -3h1m-1.5 -5h1m7 2h1m-7.5 -0.5h1m-12.5 1h1m5.5 -1.5h1m0.5 10.5h1m10 -1.5h1m-18 -5.5h1m-3.5 1h1m6 7.5h1m5.5 -5.5h1m-18.5 -1h1m22 1h1m-23.5 -1.5h1m9.5 -2.5h1m1.5 -1.5h1m-5 10h1m-6 -4.5h1m19 5.5h1m0.5 -5.5h1m-19.5 5h1m17 -6h1m-16 3.5h1m8 -5h1m-10.5 6.5h1m0 0h1m-6 2h1m2 -4h1m-11 -2h1m3.5 -1.5h1m17 -5h1m-9.5 -7.5h1m-4 19.5h1m10 -4h1m2.5 2.5h1m-18 2.5h1m7.5 0h1m2 -9h1m-1.5 7.5h1m-1.5 0h1m-16 -5.5h1m2 -2.5h1m17 1.5h1m-15.5 5h1m4 -3.5h1m2.5 5.5h1m-12.5 -18h1m9 12.5h1m-11.5 -5h1m19.5 5.5h1m-5 -3.5h1m-6 4h1m5.5 1h1m-10.5 3.5h1m-11.5 -25.5h1m13 26.5h1m-19 -10h1m13 6.5h1m-7.5 2.5h1m7 -17h1m-9.5 8.5h1m2 4h1m1.5 2h1m2 1h1m-13 -16h1m20 14.5h1m-13.5 3.5h1m1 -2h1m-6 -2h1m7.5 3h1m-12.5 -11.5h1m5 7h1m1.5 -1.5h1m6 3h1m-22.5 1h1m-1 -22.5h1m13 25.5h1m-1 -1.5h1m12 0h1m-23.5 1.5h1m20.5 -9.5h1m-28 8.5h1m21.5 -11h1m-7 -0.5h1m-1.5 -2h1m5 7.5h1m2.5 -2.5h1m0 10h1m-24.5 -6h1m6 3.5h1m-2 -3.5h1m-5 1.5h1m-5.5 3h1m23 -7h1m-0.5 5h1m-20 -5h1m13 0h1m-6 1.5h1m-3.5 3h1m-4.5 -8.5h1m-6.5 3h1m-2.5 8.5h1m5 -4.5h1m12.5 1.5h1m0 3.5h1m-12 -5h1m15 -6h1m-3 10h1m-13 -7.5h1m-2 4h1m2 -1h1m-1 -0.5h1m6 1h1m-11.5 -4h1m-12.5 4.5h1m7.5 1.5h1m-6 -2h1m7 4h1m-6.5 -3h1m18.5 -6.5h1m-17.5 -4h1m16.5 14.5h1m-11.5 -22.5h1m-9 18.5h1m10.5 -3.5h1m-12.5 4.5h1m-9 -5.5h1m18 -6h1m-20 2h1m26.5 8h1m-7.5 -6.5h1m-17 9.5h1m19.5 -5h1m-18 -2h1m11.5 2.5h1m-19.5 -3h1m17.5 4.5h1m-5 5h1m2.5 -5h1m-5 1h1m-0.5 1h1m-6 1h1m8.5 -6h1m2.5 -4.5h1m-13 -9h1m11.5 19h1m-7.5 -6h1m-2.5 5.5h1m2.5 -16h1m5 17.5h1m-27.5 0.5h1m25 0h1m-20.5 0.5h1m10 -17.5h1m-2.5 16.5h1m-7.5 1h1m-3 -8.5h1m0.5 -10h1m1 11h1m13 2h1m-15 2.5h1m-11.5 1h1m-0.5 1.5h1m9 -1.5h1m-12.5 1h1m22 -2h1m3.5 -3.5h1m-28.5 2.5h1m11.5 -1h1m-8 5h1m9 -2.5h1m4 2.5h1m-10 -11.5h1m-1.5 -2h1m13 -3.5h1m-3.5 9.5h1m-5.5 4h1m-17.5 2.5h1m7.5 -5.5h1m13.5 -11.5h1m-22.5 1.5h1m20.5 6h1m-10 3.5h1m0.5 0.5h1m2 -0.5h1m-16 -7.5h1m12.5 8.5h1m-15 3h1m-3.5 -1h1m4.5 -2.5h1m17.5 1h1m-19 -6h1m5 9h1m-1.5 -11h1m-10 11h1m15 -5.5h1m-19 6h1m3.5 -5.5h1m7.5 7.5h1m-7 -6h1m0.5 5h1m-10.5 -7h1m22 -7h1m-7 12.5h1m-16 -2h1m19.5 -1h1m0.5 -8.5h1m-6.5 5h1m3.5 2.5h1m-16.5 0h1m13 -0.5h1m-13 3.5h1m13.5 -4h1m0.5 1.5h1m-14.5 -1h1m11.5 5.5h1m-17.5 0.5h1m7 -10h1m0.5 4h1m-5 4h1m-3.5 0h1m-4 -5h1m2.5 6h1m11.5 -0.5h1m-3 -5.5h1m-13 -7h1m-8 12.5h1m7 -3.5h1m4.5 -5.5h1m-15 10.5h1m-5 -11.5h1m15.5 11.5h1m-0.5 0h1m-1 0.5h1m6 -3h1m-15.5 -6.5h1m-0.5 2.5h1m-3 -1.5h1m-2 4h1m10.5 4.5h1m-5.5 -5.5h1m-13.5 5h1m15 -1h1m-12.5 -5.5h1m-4.5 3h1m-3 -3h1m12 4.5h1m11.5 1h1m-19.5 -3h1m19 2h1m-5 -1h1m-3 -5.5h1m-11.5 -2h1m-0.5 7.5h1m-3.5 0h1m2.5 2h1m-6 1h1m-6.5 -12.5h1m2 8.5h1m2 2h1m3 0.5h1m-1.5 -7h1m9 3h1m2.5 -11h1m-0.5 17h1m-18.5 -9h1m1.5 1h1m9.5 1.5h1m-19 -7h1m20.5 12.5h1m-15 0.5h1m0.5 -12h1m-2.5 8h1m3.5 5h1m-11.5 0h1m6.5 -6.5h1m5.5 5h1m-10 -13.5h1m-10.5 7h1m2 5.5h1m20.5 -15h1m-14 16.5h1m5.5 -4.5h1m-2.5 -10h1m-13 9h1m-3 6.5h1m23 -3h1m-5.5 3.5h1m-20 -6h1m6.5 1h1m11 -1h1m-13.5 2h1m-3 1h1m9.5 -2.5h1m4.5 3h1m-4.5 1.5h1m-14 -3h1m-3.5 -5.5h1m11 -2.5h1m-6 0.5h1m-8 5h1m7.5 -4.5h1m-15 1.5h1m14 -1h1m10 -1.5h1m0.5 8h1m-14.5 -7.5h1m5.5 8h1m-4.5 -3h1m-4 4.5h1m9 0.5h1m-7 -9.5h1m4.5 -3.5h1m-7.5 13h1m9 -5h1m-0.5 -16h1m-19.5 19h1m-9.5 -11h1m1.5 -6h1m9.5 15h1m3 -19h1m1 10h1m-5 1h1m-5 6.5h1m-9.5 4.5h1m-2.5 -13.5h1m13 4h1m2.5 7h1m6.5 -3.5h1m-5 1.5h1m0 -9.5h1m-13.5 15h1m3 -11.5h1m-16 10h1m5.5 -18h1m-0.5 19.5h1m19 -11.5h1m-12.5 0.5h1m-16.5 3h1m19.5 -8.5h1m2.5 17.5h1m-21.5 -9.5h1m1.5 8h1m13 -5.5h1m-8 6.5h1m5 -9.5h1m0 5.5h1m-5 5h1m-6.5 -5h1m9.5 3h1m-16.5 -5.5h1m8 6.5h1m-2 -4.5h1m10 -5.5h1m-24.5 5.5h1m2 -4h1m1.5 -7h1m8.5 6.5h1m-10.5 3.5h1m11.5 -2.5h1m2 -3h1m-19.5 8.5h1m21.5 -1h1m-1.5 -1.5h1m-7 -1.5h1m-10 4h1m-1.5 -4h1m-6 -9.5h1m16 16h1m2 -1.5h1m-0.5 -7h1m-22 9h1m21.5 -4.5h1m-3 5h1m-9.5 -4.5h1m-0.5 3.5h1m-2 -14.5h1m4 7h1m-17 4.5h1m-4.5 -1h1m2.5 2.5h1m9 -9h1m-13.5 -1h1m6 10.5h1m6 -13.5h1m-10 14.5h1m1.5 0h1m-5.5 -0.5h1m15.5 1h1m-10.5 -17.5h1m7.5 17h1m-6.5 -7.5h1m4 0h1m-21 3.5h1m20.5 0.5h1m-10 -5.5h1m2 6h1m1.5 -2.5h1m-6.5 4h1m5 -10h1m-10 1h1m3 11h1m7 -8.5h1m-19 2.5h1m1.5 5.5h1m-7.5 -5h1m3.5 -6h1m9 4h1m-15 -4h1m21.5 -5h1m-21 15.5h1m10 -7h1m-2 -3h1m-13.5 8h1m25.5 2.5h1m-8.5 -8h1m7.5 2h1m-26.5 -5.5h1m5 11h1m10.5 1h1m-10 -7.5h1m14 1h1m-9.5 -5h1m7.5 10.5h1m-22 -4.5h1m7 -10.5h1m-4.5 -1h1m8.5 13.5h1m-16 -8.5h1m13.5 -5.5h1m1.5 9h1m-3 5h1m-3 1.5h1m-1.5 -0.5h1m-11.5 2h1m-5.5 0h1m-2 -6h1m8.5 -2.5h1m2.5 4h1m4 2h1m-14 3h1m11.5 -5h1m-16 -12h1m9.5 0h1m8.5 6.5h1m-6 4h1m-13.5 -1.5h1m8.5 2h1m-11 0h1m-2 -2h1m-3.5 7.5h1m19.5 -8h1m4 -1.5h1m-12.5 8.5h1m3.5 -0.5h1m-13.5 -3h1m4 3.5h1m2.5 -0.5h1m-1.5 2h1m-7 -9h1m10 -5h1m5 11h1m-6 -17.5h1m-12.5 15.5h1m10 -9.5h1m-13.5 9h1m0 0.5h1m-0.5 3.5h1m-9 -1.5h1m4 -1.5h1m-4 -15.5h1m3 20h1m8 -12h1m-17.5 4.5h1m25 -1h1m-9.5 -2.5h1m-13.5 6.5h1m11 -1h1m-7.5 4.5h1m2.5 0h1m-5 -15h1m10.5 13.5h1m-12 -8h1m-3.5 9.5h1m11.5 0.5h1m-19.5 -1h1m1 1.5h1m18.5 -2h1m-2.5 2h1m-16 -6.5h1m12.5 3.5h1m-16.5 2.5h1m10 -0.5h1m-1 -2h1m8 -8.5h1m-24 9h1m2 1h1m20 -12h1m-22 13.5h1m-4 -9h1m0 3.5h1m0.5 4.5h1m2 -22h1m11.5 22.5h1m-2 -11.5h1m-9.5 4h1m-5 6.5h1m19 -3.5h1m-13 3.5h1m-9.5 -7h1m9.5 1h1m-6.5 1h1m12.5 6h1m-8 -3.5h1m1 0.5h1m-7 -2h1m7.5 1.5h1m-5.5 -12.5h1m-13 15.5h1m20.5 -3.5h1m-1.5 3.5h1m-18.5 0.5h1m3.5 -2h1m10.5 1.5h1m-24 -1.5h1m23 -5h1m-22.5 6.5h1m5.5 -2h1m-11.5 -4.5h1m24.5 5.5h1m-2.5 -16h1m-4 5.5h1m-21.5 12h1m17 -1.5h1m-16 -14h1m18 -2.5h1m-21 14.5h1m13.5 -3.5h1m-2.5 -9.5h1m7 16.5h1m-15 0.5h1m15 -7h1m-12.5 -1h1m5.5 -12.5h1m-13 12.5h1m-10 4h1m1 -3.5h1m14 -1h1m-1 7h1m-12.5 -5.5h1m7.5 7h1m-4 -1h1m10.5 0h1m-7 -6.5h1m-5 1.5h1m-6.5 2h1m12 -2.5h1m6 0h1m-16.5 3h1m-5.5 3h1m12 -12.5h1m-1 10h1m-20.5 -5.5h1m18 8.5h1m0.5 -2.5h1m-8.5 0h1m10.5 -0.5h1m-12 -6.5h1m1.5 -7.5h1m5 -4h1m-11 14.5h1m4 1.5h1m-5 -1h1m-3 -4.5h1m5 3h1m8 7.5h1m-26.5 -2h1m6 -1.5h1m-8 3h1m8 0h1m-2 -3.5h1m-6 -2h1m8 5.5h1m-14.5 -0.5h1m21.5 1h1m-12 -1h1m10.5 -11h1m-7 5h1m-8 -11.5h1m5.5 15h1m3 0.5h1m-4.5 -6h1m8.5 0h1m-15 8h1m12.5 -3h1m-15.5 -13h1m14.5 16.5h1m-6 -1.5h1m-22 -1.5h1m19.5 3h1m-1.5 -5h1m-18.5 -0.5h1m-3 -2.5h1m3 1.5h1m-5.5 -5.5h1m10.5 7.5h1m-4 -10h1m-8.5 15.5h1m15 -19h1m-8 18.5h1m4 -15.5h1m-8.5 11h1m-9.5 -18.5h1m15.5 6h1m-12 9h1m-1 6.5h1m-2 -1h1m-2 -1.5h1m3.5 2h1m8 0.5h1m5.5 -2h1m1.5 2h1m-2.5 -5h1m-2 2.5h1m-13.5 2h1m-6 -14h1m9.5 9.5h1m-14 1.5h1m11.5 0.5h1m-5.5 1.5h1m-4.5 -24.5h1m0 18h1m14 7.5h1m-7.5 2.5h1m1.5 -6h1m-9.5 -12h1m-1 13h1m-1 -1.5h1m7 6h1m-10.5 -5.5h1m8 1.5h1m6.5 1.5h1m-23.5 1.5h1m20.5 -1.5h1m-11 -5h1m2 5.5h1m-19.5 -10h1m1.5 10.5h1m7.5 -2h1m-9 1.5h1m7.5 -7h1m11.5 7.5h1m3 -9.5h1m-15.5 1.5h1m-8 -3.5h1m14.5 8.5h1m-11 2h1m6.5 -7.5h1m-2 7.5h1m-14 -1.5h1m20.5 -1.5h1m-23 4.5h1m2.5 -6h1m18 4h1m-6 0.5h1m-7.5 -7.5h1m10 -4.5h1m-9.5 10h1m-17.5 -11.5h1m2.5 5.5h1m-3.5 -0.5h1m24 5.5h1m-20.5 4.5h1m-9 -3h1m15.5 1.5h1m-15.5 -3h1m14 -7h1m-7.5 7h1m-3 -0.5h1m18 -2h1m-5.5 7.5h1m-13 -4.5h1m-4 -1.5h1m12.5 2h1m-1 -5.5h1m1 2h1m-12.5 -1.5h1m-1.5 3h1m11 6h1m-18 -9.5h1m-7 3h1m-0.5 0.5h1m15.5 3.5h1m-7 -6.5h1m13 4h1m-20.5 3h1m11 -7.5h1m8.5 0h1m-10 3.5h1m-4 3h1m-8.5 0.5h1m3.5 0.5h1m-3.5 0h1m1 2.5h1m-4 -2h1m14.5 -7.5h1m-7.5 9h1m-1 -3h1m-17.5 -3h1m16.5 4.5h1m-20.5 -5h1m5.5 5h1m16.5 2h1m-19.5 -5h1m-5 -10h1m-1.5 9.5h1m15 2h1m-6 -2.5h1m11.5 3.5h1m-12.5 1h1m-13 -1h1m26 -8h1m-20 0h1m2 4h1m9.5 -7.5h1m-3.5 2.5h1m-8 8h1m5.5 -8h1m-7.5 4h1m5 -2h1m-7 8h1m2.5 -3.5h1m-10 -3h1m1 8.5h1m4.5 -8h1m-14.5 5.5h1m16.5 -4.5h1m7 1h1m-25.5 -8h1m18.5 1h1m-12.5 0h1m5.5 10h1m-12 0.5h1m-2 -1.5h1m1.5 -5h1m13.5 6h1m-16 -1h1m9.5 1.5h1m8 -3h1m-6.5 0.5h1m-13.5 4.5h1m11 -6h1m-1 6h1m-17.5 -3.5h1m11.5 -4.5h1m6 1h1m-3.5 1.5h1m-12.5 -17h1m-4 15.5h1m14.5 5h1m0 -4h1m-18 2h1m2.5 -7h1m-3.5 8.5h1m7 -27h1m10.5 24.5h1m-24 5h1m23.5 -4h1m-7 -7.5h1m-17.5 11h1m6.5 -9.5h1m7 10h1m-16.5 -13h1m10.5 7h1m-12.5 -3h1m-5 -8h1m18.5 15h1m-19 -6.5h1m1.5 -1.5h1m11.5 8.5h1m-8 -1h1m-6.5 -8.5h1m16.5 0h1m2 10h1m-14.5 -5.5h1m-8 3h1m20 4h1m-17 -2.5h1m-6 -3h1m15.5 2h1m-12.5 -13h1m6 15.5h1m6 -12.5h1m-10.5 9.5h1m-8.5 -8.5h1m-4 -3.5h1m15 8h1m-5.5 6.5h1m-9 0h1m10 -2h1m-7.5 -3.5h1m-3 5h1m-5 -2.5h1m3.5 3.5h1m15.5 -3h1m-4 -3.5h1m-8.5 5.5h1m-11 -3h1m10 -1h1m7 -9h1m-18.5 -4.5h1m6 9.5h1m-14 8.5h1m14.5 -14h1m5 8h1m-10 0.5h1m-0.5 6.5h1m5.5 -3.5h1m-15 -4h1m19 -21h1m-10 16.5h1m-20 6.5h1m17.5 0h1m-1 0.5h1m-10.5 4.5h1m12 -0.5h1m-13.5 0h1m15.5 -0.5h1m-10 -1h1m-9.5 -3.5h1m12 -0.5h1m-15.5 1.5h1m15 5.5h1m-12.5 -4h1m-7.5 -21h1m9 23h1m0 0.5h1m-17 -10.5h1m22.5 4.5h1m-3.5 -14.5h1m-12 15.5h1m9 0.5h1m1.5 -6h1m0.5 6h1m0 -5h1m-9 -1.5h1m-4 12h1m-5 -8h1m-3.5 -1h1m19.5 6h1m-3.5 3h1m-12.5 -7.5h1m2.5 7h1m-9 -12.5h1m-9.5 5.5h1m26 4h1m-6 -1h1m-11 -1.5h1m9 -4.5h1m-21 9h1m-1.5 -7.5h1m13 1h1m5.5 6h1m2.5 1.5h1m-7 1h1m3 -2.5h1m-5 -1.5h1m-17.5 -5.5h1m9.5 6.5h1m5 2.5h1m-7 -11h1m7.5 10h1m-7 -5.5h1m-11 -7h1m0 2h1m15 3.5h1m-1.5 7h1m-10.5 -1.5h1m-1 -5h1m5 2h1m-5.5 5h1m2.5 -12.5h1m7.5 5.5h1m-16.5 -6h1m-8.5 6.5h1m7 6.5h1m-3.5 0.5h1m13 -4h1m-3 0h1m-8 -5h1m10.5 6.5h1m-3.5 -3.5h1m-24.5 3h1m14.5 -14.5h1m-12.5 9.5h1m20.5 4h1m-25 0h1m24.5 -9h1m-16.5 -12.5h1m-11.5 2.5h1m24 13h1m-21 -8h1m-4 2h1m3.5 3h1m-6 -1h1m15.5 10h1m-9.5 -10.5h1m7.5 11h1m-1 2.5h1m6 -26h1m-17 18h1m10.5 -11.5h1m-14 -2.5h1m8.5 4.5h1m5 4h1m-13.5 -11.5h1m13.5 9h1m-7 9.5h1m-5 1h1m3 1h1m-11.5 -1.5h1m-7 -10h1m6.5 14.5h1m7 -26h1m-5 20h1m8 -17h1m-8.5 25h1m6.5 -1h1m-16 -21.5h1m-10.5 17h1m11 -11.5h1m-8.5 14.5h1m16 -23.5h1m-4 22.5h1m6 -7.5h1m-12.5 -12h1m-13 4.5h1m0.5 -1.5h1m2.5 2h1m12.5 3h1m-12 -10h1m17 21.5h1m-11 -24.5h1m7.5 2.5h1m-19.5 22.5h1m4 -25h1m0.5 26.5h1m-6 -11h1m17 3h1m-25 8h1m7.5 -22.5h1m8.5 21h1m1.5 -19.5h1m-5 2.5h1m-4 13.5h1m-8 -17h1m-4 22.5h1m-5 -11h1m11 -0.5h1m5 -14.5h1m-20 23.5h1m11 -2.5h1" stroke="#000" stroke-width="1" stroke-opacity="0.75" fill="none"/>
<path d="M432.5 467.5h1m-16 3.5h1m15.5 3h1m-6 0h1m-1 3h1m-9 4.5h1m4 -15h1m5 15.5h1m-9 -8h1m-9 7.5h1m-2 -0.5h1m7 -2h1m-6 -31h1m11.5 19.5h1m-7 15h1m-4 -9.5h1m-3.5 -0.5h1m8 -0.5h1m1 0.5h1m-14.5 1h1m-2.5 -18.5h1m16.5 25h1m-13 -11.5h1m-3.5 -6.5h1m1 21h1m7 -10.5h1m-11.5 -6h1m7 7h1m-1 -1h1m-9 3h1m1 3h1m1 -2h1m-13 -4.5h1m9 -11.5h1m6.5 21h1m1.5 -6h1m-8 3.5h1m2 0.5h1m-3.5 -6h1m-1 0.5h1m9.5 -0.5h1m-18.5 2.5h1m17 -5h1m-15.5 -1h1m1.5 0h1m1.5 9h1m5.5 -3h1m-13.5 1.5h1m12.5 -5.5h1m-7.5 6h1m-2.5 -3h1m-2 6h1m-8.5 -21.5h1m14 7.5h1m-7.5 14h1m1 -11h1m-6.5 12.5h1m-2.5 -3.5h1m2 -16.5h1m-4 6h1m4 1.5h1m-3.5 -0.5h1m1 0h1m-1.5 -10h1m3 17h1m4.5 -5h1m-10 -1h1m-7.5 -3.5h1m-1 -4.5h1m0 2h1m8 17.5h1m5 -9.5h1m-11 1.5h1m-3.5 5.5h1m11.5 -19h1m-12 11h1m3.5 0h1m-6.5 0.5h1m6 0h1m-3 9.5h1m1 -19.5h1m3 2h1m-5 16h1m-4.5 -12.5h1m2.5 -2h1m-3 10.5h1m-8.5 6.5h1m5.5 -7h1m-9.5 -6h1m10.5 -0.5h1m-9.5 9.5h1m-2 -1h1m-5 -3h1m13.5 -1.5h1m-6.5 8h1m-3.5 -1h1m7.5 -5.5h1m-15.5 3.5h1m12.5 -3.5h1m0 6.5h1m-9.5 -10.5h1m-7.5 2h1m12 -8h1m-11 6.5h1m3.5 10h1m-5.5 -9.5h1m0.5 10h1m4 -2h1m-4 -6h1m7 -9.5h1m-10 11h1m-4 -8.5h1m9 7h1m-4.5 -4.5h1m-6.5 4.5h1m13.5 -10h1m-3 15.5h1m-11.5 -1.5h1m1 -1h1m2.5 -5.5h1m6 7h1m-6 2h1m-5.5 -14.5h1m-2.5 0.5h1m11 0.5h1m-8.5 11h1m1.5 -8.5h1m0 6h1m1 -0.5h1m-15 -6.5h1m12 2.5h1m-13.5 -0.5h1m4.5 7.5h1m7.5 -5h1m-7.5 1.5h1m-6 0h1m4.5 -0.5h1m-9.5 9h1m-1.5 -3.5h1m11.5 -3h1m-6.5 -5.5h1m-7 -6h1m7 14h1m-9.5 -6.5h1m9 -2.5h1m-9.5 -3h1m9.5 6.5h1m-12 -5.5h1m3 7h1m9 6h1m-9.5 -1h1m4 -17.5h1m-12 4h1m3.5 8h1m1 0h1m-11 5h1m10.5 -0.5h1m-0.5 -1h1m-3.5 -11.5h1m-9 15.5h1m5.5 -2h1m-4 -6h1m9 -0.5h1m-6.5 -0.5h1m-2 -6h1m1 1h1m4 5h1m-1 -5.5h1m-7.5 6h1m-2.5 -9.5h1m-9 13h1m10.5 -0.5h1m7 -2h1m-14 4h1m1 -1h1m-2 1.5h1m-6 -9.5h1m-1 -6h1m6 17.5h1m-3.5 -11.5h1m-0.5 -3.5h1m2.5 12h1m4.5 -9.5h1m-7.5 7h1m3 -4h1m-14.5 8h1m8.5 -3.5h1m7 4.5h1m-14 -7.5h1m6 -5h1m-8 11h1m7 -13h1m-9.5 6.5h1m5 -5h1m0.5 4h1m2.5 5h1m0 6h1m-15 -7h1m3 -0.5h1m11.5 2.5h1m-6.5 -4h1m2 -3h1m-11 11h1m4 -8.5h1m-4 5.5h1m1 -7h1m-4.5 -6h1m1.5 13h1m-10.5 2.5h1m10.5 -18h1m7 9h1m-17 -0.5h1m-0.5 2.5h1m12.5 0.5h1m-16 -1h1m10.5 -2.5h1m-1.5 1h1m-7.5 9.5h1m9 -1h1m-4.5 -1h1m-3.5 -6.5h1m4.5 10h1m-2 -14h1m-8.5 6h1m-3 -4.5h1m4.5 2h1m-3 3h1m5 2.5h1m-10 5.5h1m6.5 -7h1m-4.5 -8.5h1m-3.5 -4.5h1m7.5 20h1m-0.5 -4.5h1m-11 -10h1m11.5 1.5h1m-10 6.5h1m5.5 -16.5h1m-8 10h1m0 3.5h1m-1 8h1m-0.5 -15.5h1m-7.5 13.5h1m8 -4h1m4 0h1m-25.5 -14h1m12 14h1m2 -1.5h1m0.5 2.5h1m2 -4.5h1m-4 0.5h1m-4.5 -4.5h1m2.5 6h1m3 -2h1m-11 -0.5h1m-0.5 4.5h1m-11.5 -2.5h1m6.5 3.5h1m3.5 -9h1m0 4h1m2 8h1m-1 -1.5h1m3.5 -17h1m-11.5 19.5h1m2.5 -3.5h1m-6.5 -3h1m-0.5 1.5h1m-2 -17.5h1m9.5 3h1m-7 13.5h1m1 -0.5h1m0 -5.5h1m-6.5 14h1m11.5 -15.5h1m0 10h1m-12 2.5h1m4 -19.5h1m-2 18h1m-3.5 3.5h1m3 -10h1m-15.5 5h1m0.5 0h1m3.5 3.5h1m-1.5 -6.5h1m6.5 2h1m-8 -9h1m-1.5 -3h1m11.5 8.5h1m-4 4h1m-4.5 -7.5h1m2.5 7.5h1m-4 -7h1m1.5 7.5h1m-5 -3.5h1m-0.5 4h1m-2 0.5h1m-3.5 4h1m8.5 -12.5h1m-2.5 8.5h1m-10.5 2h1m6 -4h1m6 4.5h1m-6 0h1m-9.5 -7h1m-8.5 2h1m8.5 -4h1m2.5 2.5h1m-10 -8h1m14.5 9h1m-1.5 -4h1m-4.5 7.5h1m-9 -14h1m9.5 8h1m-9 -0.5h1m4 8.5h1m-10.5 -5h1m0 4h1m3.5 -20.5h1m-3 23.5h1m6 -5h1m-3 5.5h1m1.5 -9.5h1m-0.5 1h1m-1.5 3h1m-1.5 -6.5h1m-6 9h1m-9 -12h1m11.5 -3.5h1m-3 11h1m-3.5 5.5h1m5 -11.5h1m-15 -9h1m1.5 21.5h1m3.5 -13.5h1m1.5 2h1m1 12h1m-12 -7.5h1m16 -0.5h1m-18 5h1m8.5 3h1m-4 -5h1m-6 -1.5h1m13 -6h1m-5 0h1m-13.5 4h1m17.5 -6h1m-9.5 8h1m-4 -6.5h1m0.5 9.5h1m-5 0h1m12 -2h1m-9.5 5h1m-5.5 -9h1m-1.5 5h1m9.5 4.5h1m-11 -7h1m2 4.5h1m-2.5 -9h1m12 7h1m-7 -6h1m-3.5 -8.5h1m0 7h1m-9.5 -1h1m14.5 3h1m-20.5 4h1m7.5 6h1m-10 -6.5h1m10.5 -9h1m3 8.5h1m0 7h1m-8.5 -10.5h1m-11 -4.5h1m10 -2.5h1m1 3.5h1m-5 1.5h1m-2.5 4h1m7 -4h1m-9 9h1m2.5 -14.5h1m-9.5 -9.5h1m17.5 26.5h1m-14 -6.5h1m7 4.5h1m-5 -1.5h1m3.5 -6.5h1m-7.5 8h1m-9.5 -2.5h1m5 -2.5h1m2 -1h1m-4.5 3.5h1m7 -7.5h1m-4.5 -1.5h1m-6 -7.5h1m-1.5 4.5h1m-5 15.5h1m7.5 -12h1m2.5 6.5h1m-7 1h1m-5.5 -5h1m5.5 10h1m5.5 -19.5h1m-5.5 10.5h1m-8 4h1m3.5 2.5h1m-5.5 4.5h1m9.5 -16.5h1m-5.5 3h1m-3 10.5h1m1.5 -13h1m-1.5 7h1m-5.5 -2.5h1m4 2h1m-1 0h1m-3.5 5h1m-5 -12.5h1m7 1h1m2 11.5h1m-2.5 3h1m1 1.5h1m-4 -3h1m-1.5 -17h1m-5.5 16h1m-1.5 -5h1m0 -1h1m-0.5 9.5h1m5.5 -15h1m-2.5 2.5h1m3.5 12h1m2 -16h1m-4.5 10.5h1m-3 1.5h1m-5.5 0h1m8.5 -10h1m-7 4h1m-10 10h1m7.5 -4h1m4.5 -1h1m-12 0h1m11 3h1m-16 -7.5h1m8.5 9h1m-13.5 -14.5h1m6 0.5h1m10 12h1m-16.5 2.5h1m-0.5 -12h1m5.5 -1.5h1m-7 11h1m12 -6h1m-6 -6h1m3 0h1m-6 9.5h1m6 -10h1m-13 6.5h1" stroke="#22bb44" stroke-width="1" stroke-opacity="0.45" fill="none"/>
<path d="M446 502.5h1m1.5 -7.5h1m-3.5 10.5h1m5.5 -2h1m-2.5 3.5h1m-6 -20.5h1m-6 12.5h1m1.5 -4h1m12.5 5h1m-3.5 -6.5h1m-14 1h1m-4.5 10.5h1m2 -4.5h1m-3.5 -2h1m15.5 0.5h1m-10.5 3.5h1m5 3h1m-6 -7.5h1m-5.5 -5h1m15.5 5.5h1m-4 2h1m-13 -2h1m10.5 -2h1m-14 1.5h1m-6.5 6h1m15 -11h1m2.5 10.5h1m-16.5 -4.5h1m-5 1.5h1m1.5 -10.5h1m4 12h1m-5 -2h1m7.5 -6.5h1m-13.5 -1.5h1m16.5 13.5h1m-12 2h1m-1.5 -9.5h1m-2 -11h1m0 11.5h1m4 -4h1m-9.5 16h1m0.5 -13.5h1m-2 8h1m9 -6.5h1m8.5 -3.5h1m-18.5 12.5h1m8.5 -10.5h1m-12 13h1m5 -13h1m-1 -5h1m-3 -0.5h1m9 9.5h1m-3 -3h1m-3 6.5h1m-14.5 -1.5h1m15 -8.5h1m-13.5 -5h1m3 8.5h1m-2 -3h1m19.5 9h1m-28 2.5h1m12 -13.5h1m-8.5 13.5h1m12 -3h1m-11 -0.5h1m2.5 2.5h1m-5.5 -1.5h1m-6 -3h1m14.5 2.5h1m-1 -12h1m-9 5h1m7 1.5h1m1.5 3.5h1m-7.5 -4.5h1m-10.5 -11h1m5.5 18h1m-5 2h1m3.5 -2h1m-6 -6.5h1" stroke="#5555dd" stroke-width="1" stroke-opacity="0.28" fill="none"/>
<rect x="45.7" y="414.4" width="97.49999999999999" height="97.5" fill="none" stroke="#999" stroke-width="1.0"/>
<line x1="73.5" y1="414.4" x2="73.5" y2="511.9" stroke="#888" stroke-width="1.0"/>
<line x1="45.7" y1="484.3" x2="143.2" y2="484.3" stroke="#888" stroke-width="1.0"/>
<rect x="168.5" y="414.4" width="97.5" height="97.5" fill="none" stroke="#999" stroke-width="1.0"/>
<line x1="196.4" y1="414.4" x2="196.4" y2="511.9" stroke="#888" stroke-width="1.0"/>
<line x1="168.5" y1="484.3" x2="266.0" y2="484.3" stroke="#888" stroke-width="1.0"/>
<rect x="286.4" y="414.3" width="97.5" height="97.39999999999998" fill="none" stroke="#999" stroke-width="1.0"/>
<line x1="314.1" y1="414.3" x2="314.1" y2="511.7" stroke="#888" stroke-width="1.0"/>
<line x1="286.4" y1="484.3" x2="383.9" y2="484.3" stroke="#888" stroke-width="1.0"/>
<rect x="406.8" y="414.3" width="97.5" height="97.59999999999997" fill="none" stroke="#999" stroke-width="1.0"/>
<line x1="435.1" y1="414.3" x2="435.1" y2="511.9" stroke="#888" stroke-width="1.0"/>
<line x1="406.8" y1="484.3" x2="504.3" y2="484.3" stroke="#888" stroke-width="1.0"/>
<text x="62.4" y="422.9" font-family="Liberation Serif" font-size="8.4" text-anchor="end" fill="#111" stroke="#111" stroke-width="0.25">0.4</text>
<text x="131.2" y="423.8" font-family="Liberation Serif" font-size="8.4" text-anchor="end" fill="#111" stroke="#111" stroke-width="0.25">0</text>
<text x="140.1" y="504.5" font-family="Liberation Serif" font-size="8.4" text-anchor="end" fill="#111" stroke="#111" stroke-width="0.25">0.3</text>
<text x="188.1" y="426.2" font-family="Liberation Serif" font-size="8.4" text-anchor="end" fill="#111" stroke="#111" stroke-width="0.25">3.9</text>
<text x="262.4" y="427.7" font-family="Liberation Serif" font-size="8.4" text-anchor="end" fill="#111" stroke="#111" stroke-width="0.25">0.9</text>
<text x="265.2" y="507.8" font-family="Liberation Serif" font-size="8.4" text-anchor="end" fill="#111" stroke="#111" stroke-width="0.25">3.5</text>
<text x="306.5" y="426.0" font-family="Liberation Serif" font-size="8.4" text-anchor="end" fill="#111" stroke="#111" stroke-width="0.25">6.3</text>
<text x="380.1" y="427.6" font-family="Liberation Serif" font-size="8.4" text-anchor="end" fill="#111" stroke="#111" stroke-width="0.25">4.0</text>
<text x="381.2" y="508.2" font-family="Liberation Serif" font-size="8.4" text-anchor="end" fill="#111" stroke="#111" stroke-width="0.25">22.8</text>
<text x="422.5" y="426.5" font-family="Liberation Serif" font-size="8.4" text-anchor="end" fill="#111" stroke="#111" stroke-width="0.25">1.9</text>
<text x="489.8" y="427.5" font-family="Liberation Serif" font-size="8.4" text-anchor="end" fill="#111" stroke="#111" stroke-width="0.25">0</text>
<text x="499.0" y="508.0" font-family="Liberation Serif" font-size="8.4" text-anchor="end" fill="#111" stroke="#111" stroke-width="0.25">0.3</text>
<text x="62.8" y="409.2" font-family="Liberation Sans" font-size="13" font-weight="bold" text-anchor="start" fill="#000">i</text>
<text x="71.5" y="409.3" font-family="Liberation Sans" font-size="8.1" font-weight="bold" text-anchor="start" fill="#000">– CRP/TRAP</text>
<text x="178.6" y="409.2" font-family="Liberation Sans" font-size="13" font-weight="bold" text-anchor="start" fill="#000" letter-spacing="0.6">ii</text>
<text x="189.4" y="410.1" font-family="Liberation Sans" font-size="8.1" font-weight="bold" text-anchor="start" fill="#000">+ CRP (0.5 µg/mL)</text>
<text x="298.6" y="409.2" font-family="Liberation Sans" font-size="13" font-weight="bold" text-anchor="start" fill="#000" letter-spacing="1.1">iii</text>
<text x="311.6" y="410.1" font-family="Liberation Sans" font-size="8.2" font-weight="bold" text-anchor="start" fill="#000">+ CRP (5 µg/mL)</text>
<text x="415.6" y="409.2" font-family="Liberation Sans" font-size="13" font-weight="bold" text-anchor="start" fill="#000">iv</text>
<text x="428.1" y="410.1" font-family="Liberation Sans" font-size="8.3" font-weight="bold" text-anchor="start" fill="#000">+ TRAP (40 µM)</text>
<text x="90.4" y="571.7" font-family="Liberation Sans" font-size="8.4" font-weight="bold" text-anchor="middle" fill="#000">v. + CRP (5 µg/mL)</text>
<line x1="32.8" y1="581" x2="32.8" y2="695.3" stroke="#000" stroke-width="1.6"/>
<polygon points="32.3,576.6 29.8,582 34.8,582" fill="#000"/>
<line x1="32" y1="695" x2="142" y2="695" stroke="#000" stroke-width="1.6"/>
<polygon points="147.2,695 141.6,692.5 141.6,697.5" fill="#000"/>
<text x="22.1" y="636.5" font-family="Liberation Sans" font-size="8.1" font-weight="bold" text-anchor="middle" fill="#000" transform="rotate(-90 22.1 636.5)">FSC_LOG</text>
<text x="94.6" y="708.4" font-family="Liberation Sans" font-size="8.15" font-weight="bold" text-anchor="middle" fill="#000">SS_LOG</text>
<text x="44.3" y="690.8" font-family="Liberation Sans" font-size="4.8" text-anchor="middle" fill="#888">10<tspan font-size="3.4" dy="-1.6">0</tspan></text>
<text x="71.5" y="690.8" font-family="Liberation Sans" font-size="4.8" text-anchor="middle" fill="#888">10<tspan font-size="3.4" dy="-1.6">1</tspan></text>
<text x="98.6" y="690.8" font-family="Liberation Sans" font-size="4.8" text-anchor="middle" fill="#888">10<tspan font-size="3.4" dy="-1.6">2</tspan></text>
<text x="125.7" y="690.8" font-family="Liberation Sans" font-size="4.8" text-anchor="middle" fill="#888">10<tspan font-size="3.4" dy="-1.6">3</tspan></text>
<text x="152.9" y="690.8" font-family="Liberation Sans" font-size="4.8" text-anchor="middle" fill="#888">10<tspan font-size="3.4" dy="-1.6">4</tspan></text>
<text x="40.1" y="681.9" font-family="Liberation Sans" font-size="4.8" text-anchor="middle" fill="#888" transform="rotate(-90 40.1 681.9)">10<tspan font-size="3.4" dy="-1.6">0</tspan></text>
<text x="40.1" y="655.3" font-family="Liberation Sans" font-size="4.8" text-anchor="middle" fill="#888" transform="rotate(-90 40.1 655.3)">10<tspan font-size="3.4" dy="-1.6">1</tspan></text>
<text x="40.1" y="628.7" font-family="Liberation Sans" font-size="4.8" text-anchor="middle" fill="#888" transform="rotate(-90 40.1 628.7)">10<tspan font-size="3.4" dy="-1.6">2</tspan></text>
<text x="40.1" y="602.0" font-family="Liberation Sans" font-size="4.8" text-anchor="middle" fill="#888" transform="rotate(-90 40.1 602.0)">10<tspan font-size="3.4" dy="-1.6">3</tspan></text>
<text x="40.1" y="575.4" font-family="Liberation Sans" font-size="4.8" text-anchor="middle" fill="#888" transform="rotate(-90 40.1 575.4)">10<tspan font-size="3.4" dy="-1.6">4</tspan></text>
<path d="M98.5 641h1m-10 8.5h1m-22.5 -11.5h1m43.5 11.5h1m-15 -7h1m-23.5 -4.5h1m16 6h1m2.5 6.5h1m-16.5 -4h1m6 -5.5h1m-10 -4h1m14.5 9h1m15.5 5.5h1m-6 -2h1m-35 -15h1m7 3h1m-13 6.5h1m13.5 0h1m0.5 0.5h1m1 10h1m-30 -20h1m20.5 1h1m16.5 12.5h1m4 -0.5h1m-10.5 -6h1m5.5 8.5h1m-4 -10.5h1m-12 -3h1m-0.5 8.5h1m-14.5 -3h1m-9.5 -5.5h1m22 5.5h1m-12.5 -5.5h1m-3.5 -8.5h1m26 19h1m-8 -2h1m-30.5 -9.5h1m19 8h1m9 9h1m-13.5 -12.5h1m-1.5 2h1m6 -6.5h1m-5.5 -2.5h1m13 17h1m-21 -8.5h1m4 -1.5h1m18.5 19h1m-9.5 -12h1m-6.5 -7.5h1m13.5 13h1m-18 -7.5h1m8 -13h1m-12.5 12.5h1m-2.5 -3.5h1m-8 -16h1m7.5 21h1m11 -7.5h1m-5.5 3.5h1m-9.5 0.5h1m-1.5 -2.5h1m-9.5 -2h1m11.5 1h1m7.5 13h1m0 -8.5h1m-4.5 2h1m-29.5 -15h1m16.5 11h1m8 2h1m2.5 -11h1m-26.5 1.5h1m12 -4.5h1m-20.5 5.5h1m40 1h1m-12.5 7.5h1m-8.5 -1h1m10.5 2h1m-16.5 2.5h1m11.5 -5.5h1m4.5 2h1m-21 2h1m22.5 -4.5h1m-19 -4h1m-5 -1h1m5.5 5.5h1m-2.5 4h1m-2 2.5h1m-2.5 -11.5h1m11 15.5h1m-4 -9.5h1m-3.5 9h1m-4 -20h1m8 6.5h1m-6 3h1m-7 -5.5h1m12.5 7h1m-8 -11h1m-17 5h1m32.5 8.5h1m-39.5 -0.5h1m20 -1.5h1m-7.5 -8h1m1 4h1m6 11.5h1m-8.5 0.5h1m15.5 -12.5h1m-7 17.5h1m-4 -1h1m6.5 2h1m-10 -17.5h1m-27 -8h1m36 8.5h1m-9 4h1m7.5 1.5h1m-11.5 -10.5h1m-34 -8h1m63 36h1m-43.5 -20.5h1m-1.5 -9h1m8 9.5h1m-5.5 -7h1m5.5 -7.5h1m-7.5 16.5h1m-8 0.5h1m16.5 1h1m-22 -13.5h1m13.5 8.5h1m-19.5 -9h1m21 22h1m14.5 -20h1m-14 11h1m2.5 -1.5h1m-20 -4h1m12.5 19.5h1m-11.5 -21.5h1m-0.5 -14h1m20.5 20.5h1m-27 -12h1m22.5 13.5h1m1.5 -18h1m-17 18.5h1m-5.5 -14.5h1m-10 -1.5h1m19.5 9.5h1m-9 -2h1m0 9h1m-19 -19h1m18 18.5h1m7 -10.5h1m-25.5 -2h1m2 -5.5h1m9 5.5h1m5.5 5h1m-24 -5h1m31.5 8.5h1m-12 2.5h1m-20.5 -8.5h1m17.5 13h1m0 -12h1m-8.5 -1.5h1m12.5 8.5h1m-15 -2h1m-10.5 -0.5h1m5 4h1m19 6.5h1m-28.5 -14h1m2.5 -6.5h1m2 3.5h1m27.5 10.5h1m-28.5 -5h1m-3.5 0.5h1m16.5 -2.5h1m-6 -0.5h1m3 2h1m7 -1h1m-16 7.5h1m3.5 -4h1m-25.5 -9h1m9.5 12h1m18.5 9h1m-14 -19h1m-19.5 -7h1m23.5 13h1m-5 -11h1m4 13.5h1m-4 -0.5h1m-7.5 -1h1m9.5 3h1m-10 -13.5h1m-20 7h1m32.5 -2.5h1m-9 5h1m0 -2h1m-17.5 12h1m0.5 -10h1m22 11.5h1m-30 -23.5h1m30.5 19h1m-17.5 -17h1m2 14h1m-0.5 -5.5h1m1.5 -5h1m-25.5 3.5h1m9.5 -7h1m-2 -2h1m9 6h1m6.5 8.5h1m-17.5 -10h1m14 9h1m12 5.5h1m-16 -7.5h1m-22 0h1m26 3h1m7 -4h1m-6 15h1m1 -5.5h1m-2.5 -3.5h1m7 13.5h1m-34 -27h1m17.5 5h1m-2 11h1m5.5 -10h1m-13 5h1m15 2.5h1m2 7.5h1m-17 -21.5h1m-11 -2h1m8 8h1m9.5 -5h1m-18.5 8.5h1m-0.5 -1h1m-0.5 3h1m7.5 -7h1m-13 5.5h1m11 9h1m22.5 1h1m-24.5 -5.5h1m-6 -2.5h1m13 -5.5h1m-19.5 10h1m4.5 -0.5h1m-4.5 -14h1m-13 2.5h1m10 0h1m4 2h1m33 17.5h1m-37.5 -22.5h1m6 11.5h1m-5 -18h1m-4 18.5h1m1 -6h1m12 0h1m-38.5 -10.5h1m25.5 11h1m-18.5 -9h1m24.5 27h1m-6.5 -6.5h1m0.5 -1.5h1m-13 -12.5h1m11.5 4.5h1m1 -0.5h1m-0.5 -5.5h1m-1.5 -0.5h1m-17 0h1m-7.5 -7h1m10 19.5h1m11 -10h1m-4 16h1m-23 -12.5h1m24 7h1m-20.5 -18h1m21 8.5h1m-13.5 -7.5h1m2.5 17.5h1m21.5 -3h1m-20.5 -4.5h1m11 -2h1m-18.5 -7.5h1m-7.5 5h1m1.5 7.5h1m8 -13.5h1m19 22h1m-23.5 -11.5h1m1.5 -3.5h1m2 2.5h1m8.5 4.5h1m-24.5 -12h1m9.5 22h1m-26 -28.5h1m9.5 22h1m15 -9.5h1m-12 2.5h1m10 -7.5h1m-12.5 5.5h1m-4 5.5h1m23 -2.5h1m-25 -18h1m18 21h1m-19 -6.5h1m5 -2.5h1m-8.5 3h1m5 -4h1m-11.5 -2.5h1m15 5.5h1m3.5 0.5h1m2 -0.5h1m2 3h1m5 5h1m-0.5 0.5h1m-19.5 -8.5h1m-14.5 -5h1m14 4.5h1m-7 -5h1m-7 8.5h1m26.5 0.5h1m-37 -6.5h1m30.5 7.5h1m-7 6h1m7.5 0h1m-16.5 -12.5h1m8.5 21h1m-13 -11h1m-5 -6.5h1m6 -13h1m-10 16h1m-10.5 -16.5h1m13.5 5.5h1m-17 -15.5h1m10.5 27h1m18 5h1m-26 -16.5h1m-3.5 -2h1m38.5 21.5h1m0.5 -3h1m-4.5 -10.5h1m-10 1h1m-2.5 -1h1m-7.5 3h1m-9 -5h1m-12 -2.5h1m-9.5 -3.5h1m27.5 9h1m-6.5 8.5h1m12.5 -8h1m-13 -5h1m-5.5 -3h1m18 20.5h1m5.5 -10h1m-23.5 -3h1m-2 -3h1m-14 -7.5h1m35.5 20h1m-10.5 -3.5h1m-1 -3.5h1m5 3.5h1m-38.5 -31h1m20.5 38h1m14.5 -12.5h1m-22 4.5h1m4 -11.5h1m-21 0.5h1m7.5 1.5h1m-16.5 -6h1m35.5 21h1m-6 -12.5h1m3 11h1m-5.5 -16.5h1m8 16.5h1m-12.5 -0.5h1m-2.5 -12.5h1m-18 4.5h1m14.5 -3.5h1m-5.5 1.5h1m-8 -23h1m19 31h1m-4.5 -10h1m-15.5 0.5h1m11.5 17.5h1m-14.5 -20h1m11.5 0h1m19 13.5h1m-30.5 2h1m22 -9.5h1m-24 1.5h1m12 -9.5h1m-10 10h1m18 4.5h1m-24.5 -4.5h1m-8 3h1m27 5h1m-23 -7.5h1m1 -7h1m1 9.5h1m2 -12h1m-2.5 13.5h1m5.5 -8.5h1m2.5 14.5h1m3 -10h1m-11.5 -3h1m4 7h1m-12 -12.5h1m5.5 -6h1m-1.5 23h1m-36 -26.5h1m36.5 27.5h1m-25.5 -10h1m9 -9h1m3.5 5.5h1m16 5h1m-3.5 4h1m-13 -13.5h1m14.5 4.5h1m-5 3h1m-14 3.5h1m12 4h1m-5 -10h1m-21 -1.5h1m23 0h1m-13.5 -2h1m-2.5 3h1m21 9h1m-13.5 -14h1m-5 17h1m-3 -17.5h1m0 12.5h1m7 -6h1m-1.5 -7h1m2.5 24h1m-4.5 -14h1m-7 -5.5h1m0.5 12h1m2.5 1h1m3.5 0h1m-9.5 -9h1m1 1h1m-5 -5h1m8 8h1m-7.5 1h1m-22.5 -11.5h1m32 7.5h1m-16.5 3.5h1m-2.5 -8h1m0 9h1m33 12h1m-13 -21h1m-12 3.5h1m-1.5 6.5h1m13 1.5h1m2.5 -8.5h1m-34 7.5h1m16.5 -1h1m9.5 -16h1m-31 20h1m-8.5 -3.5h1m0 -24.5h1m45 17.5h1m-42.5 18.5h1m-6 -9h1m8.5 0.5h1m39 -9h1m-21 -1h1m17 -11h1m-43 12.5h1m2.5 -16.5h1m21.5 30.5h1m0 -21.5h1m2.5 10h1m1.5 -20.5h1m-29.5 15.5h1m46 1h1m-5 17.5h1m-30 0.5h1m-6 -2.5h1m-6 -21h1m-6.5 -3h1m24 21h1m-36 -29h1m15.5 26h1m-10 2h1m42.5 -7h1m3 4h1m-28.5 0.5h1m-13.5 -14h1m1 -5h1m21.5 22.5h1m-31.5 -24.5h1m19 2.5h1m-11 6h1m21 -9.5h1m-11.5 24h1m14.5 5.5h1m-37 -19.5h1m29.5 -3h1m-16.5 14h1m-27 -15.5h1m32 -5h1m-8.5 -4h1m4 19.5h1m-7 -0.5h1m0.5 9.5h1m32.5 -21h1m-48 24h1m38.5 -6.5h1m-21.5 -25.5h1m9.5 1h1m11.5 11h1m-52 22h1m19.5 -25h1m26 13h1m-10.5 -11h1m9.5 15.5h1m-38 -11.5h1m33.5 19h1m1.5 -31.5h1m-24.5 -3h1m11.5 13h1m-36.5 3.5h1m14 19h1m-15.5 -35h1m40 24h1m-39 -24.5h1m25.5 5h1m-21 1.5h1m16 6h1m8 -12h1m-7.5 5.5h1m13.5 4h1m0.5 19.5h1m-39.5 -20h1m-2 10h1m25 -13.5h1m6 -6h1m1 21h1m-3 2h1m12 11h1m-26 -24.5h1m10.5 19.5h1m-13 5h1m2.5 -30.5h1m-33.5 -4.5h1m18.5 6h1m25 -3.5h1m-45 16.5h1m3.5 -1.5h1m14 -14.5h1m-16 -2h1m1.5 -1h1m-10 2.5h1m-2 -0.5h1m44.5 22h1m-36.5 -15h1" stroke="#2b3bdd" stroke-width="1" stroke-opacity="0.35" fill="none"/>
<path d="M92 636h1m-12 8h1m9 -7.5h1m-13.5 5.5h1m13 0h1m0 -7.5h1m-21 4h1m3 12h1m2.5 2h1m2 -18.5h1m-14.5 7h1m20 -3.5h1m-3.5 3.5h1m-4 2h1m-7.5 -4h1m15 -11h1m-20.5 18.5h1m8.5 -4h1m12 -4.5h1m-17 -4.5h1m-4 19h1m9.5 -18.5h1m-15.5 13.5h1m-4.5 -7.5h1m9.5 0h1m1 -8.5h1m14 -1h1m-16.5 10.5h1m-6.5 -4h1m2.5 9h1m-7.5 -2h1m-4 3h1m4 -2h1m5 -4h1m-1.5 -7.5h1m14 11.5h1m-5 -13h1m-20.5 8.5h1m1.5 -4.5h1m3.5 -1.5h1m14 9h1m-25.5 -2h1m7.5 -8h1m9 -1.5h1m-13.5 3.5h1m17.5 11h1m-14.5 -13.5h1m10 8.5h1m-12 0.5h1m3 -0.5h1m2.5 5h1m-11.5 3.5h1m-10 -4h1m17.5 -6h1m8.5 -8.5h1m-19 6.5h1m15 1h1m-3.5 -5.5h1m-21.5 15.5h1m22.5 -21h1m-7 14.5h1m1.5 -14h1m-2.5 9h1m-15.5 7.5h1m-1.5 -2.5h1m16 -3.5h1m-1.5 -6h1m-22 15.5h1m3.5 -1h1m15.5 -4.5h1m-5 5h1m-5 -6h1m5 -13h1m-5 5.5h1m-2 1.5h1m-1.5 -2.5h1m-4 14h1m2 -5h1m-17.5 2h1m20.5 -10.5h1m-13.5 10h1m-1 -3.5h1m18 -7.5h1m-14.5 8h1m14.5 -3h1m-14.5 -6h1m-14 6.5h1m13 -5h1m-11.5 15h1m12 -17.5h1m6 13h1m-17 1.5h1m-5.5 -2.5h1m11 7.5h1m1 -17.5h1m3 -5.5h1m-19 15h1m23.5 -13h1m-11 8.5h1m-3.5 -9h1m-9 8h1m9 4.5h1m2.5 -7h1m-10 19h1m14.5 -21.5h1m-20.5 13h1m-5.5 3.5h1m17.5 -3h1m4.5 -18h1m-8 3.5h1m-11.5 18h1m14.5 -21.5h1m-9 8.5h1m-7 12.5h1m-11 -7h1m18 5h1m-7 -16h1m1.5 13.5h1m6 -2.5h1m-1 3.5h1m-25 -5.5h1m10.5 13.5h1m9.5 -6h1m-16.5 -14h1m0.5 2.5h1m1.5 11.5h1m11.5 -0.5h1m4.5 -15.5h1m-13 13.5h1m3 -6.5h1m-21.5 8h1m13.5 -12.5h1m11 4h1m-21 0.5h1m-2.5 13h1m4 -15.5h1m-4.5 11.5h1m-8 1.5h1m12.5 -11h1m8.5 7h1m-10 -2h1m-7 -3.5h1m3 -4h1m6 10.5h1m-12 -8h1m1.5 7.5h1m-4 -9h1m14 5h1m-12.5 5h1m0 -4h1m6 5h1m-9.5 3.5h1m-12 -3h1m11.5 -2.5h1m-13 -3h1m22.5 1h1m-25 -3h1m11.5 12h1m-6 -7.5h1m4.5 0.5h1m14 -15h1m-25 17.5h1m21.5 -17.5h1m-25 13.5h1m4.5 -7.5h1m-7 2h1m18 -9h1m-9 11.5h1m-9 -6h1m6.5 6h1m2 -2.5h1m-10.5 -4h1m14.5 -4h1m-10 9.5h1m-10 3h1m13.5 6h1m-7 3h1m5 -21h1m2.5 6h1m-2 3h1m-9 -9.5h1m-11.5 13.5h1m14.5 10.5h1m0.5 -2.5h1m-5.5 -11h1m-11.5 2h1m13 9.5h1m1 -15h1m-13.5 1h1m9 7h1m9 -8h1m-11 8h1m-19.5 -2.5h1m20 5.5h1m-6 -1h1m-3 1h1m10.5 -20h1m-10 11h1m-7 -8.5h1m0 3h1m-13.5 9.5h1m21 -14.5h1m-4.5 12h1m-2.5 -6h1m7 -2.5h1m-10 2.5h1m0 12h1m4 2h1m-9 -9.5h1m-2.5 7.5h1m10 2.5h1m-20.5 -8.5h1m17 -10h1m-6.5 14.5h1m7.5 -0.5h1m-13 -6.5h1m-4 11.5h1m3 -16h1m-3 1.5h1m-3 5.5h1m13.5 -12.5h1m3 9h1m1 -1h1m-11.5 -5h1m-15.5 3.5h1m-0.5 2.5h1m22 -5.5h1m-12.5 21.5h1m3.5 -3h1m-8 -7.5h1m-16 2h1m26 -2h1m-16 -7.5h1m8.5 -4h1m-2 1h1m4 0.5h1m-11 14h1m9 -7h1m-9.5 9h1m6 -15.5h1m-11.5 0.5h1m9.5 15h1m-3 -8.5h1m-19 -3.5h1m-4 7h1m10.5 -7h1m-5.5 6h1m21.5 -10.5h1m-19 19.5h1m15.5 -12.5h1m-18 -6h1m5.5 -1.5h1m-8 5.5h1m-8 7h1m-3 -0.5h1m16.5 7h1m-3 -11h1m4.5 0.5h1m3 -4h1m-7 -7h1m-15 21h1m6 2.5h1m5 -13h1m-6 8h1m1 -6h1m-4.5 12.5h1m6 -20h1m-4 10.5h1m-2.5 6h1m5.5 -3.5h1m-3.5 -17.5h1m-3 13.5h1m4.5 0.5h1m-6 -8.5h1m-8 11h1m14 -3h1m-4 -11.5h1m-7.5 4.5h1m7.5 3h1m4.5 -2.5h1m-4.5 6.5h1m-8.5 -5.5h1m1.5 -10.5h1m-3 12.5h1m-20.5 7.5h1m16 -6.5h1m-1 -4h1m2 14h1m-2.5 -5.5h1m-15.5 0.5h1m-1.5 -7.5h1m-3.5 9.5h1m26 -20h1m-24 20h1m1 -11h1m13.5 -4h1m-3.5 17.5h1m-4.5 -14.5h1m-1.5 0.5h1m5.5 -4h1m-22.5 6.5h1m12.5 -4h1m-3 14.5h1m2 1h1m5 -1h1m-14 -2h1m7.5 -18.5h1m-15.5 11.5h1m9 -3.5h1m-0.5 12h1m-4 -12.5h1m14.5 1h1m-2 4h1m-6.5 3.5h1m-4.5 -5.5h1m-7 3.5h1m7 4h1m-3 -13.5h1m-2 6.5h1m-9 6h1m16 -7.5h1m-15 -7h1m-5 7h1m16 0h1m-6.5 1h1m7.5 4.5h1m-22 1.5h1m9.5 -14.5h1m3.5 16.5h1m-19.5 -7.5h1m24 3.5h1m-6 -10h1m-12.5 11h1m13 -2.5h1m-18.5 0h1m15 7h1m-19 1.5h1m17.5 -1h1m-4.5 -16.5h1m-6 15h1m-10 -7h1m17 3.5h1m-13 -12.5h1m1.5 7.5h1m9.5 1.5h1m-20 -1.5h1m8.5 6h1m0 6.5h1m7 -20.5h1m-20 8h1m12 1h1m-5 3.5h1m13.5 -6h1m-15 12h1m6.5 -1h1m-12.5 -2h1m-4.5 -2h1m9 -4.5h1m6 7h1m-15 -14.5h1m12.5 1h1m3 2h1m-28 6.5h1m15 -12h1m-10.5 19h1m13.5 -8h1m0.5 0.5h1m0.5 -12h1m-18.5 8.5h1m6.5 7.5h1m6 -10h1m-20 6h1m25 -1.5h1m-5 -10.5h1m1.5 1.5h1m-9.5 11.5h1m3 -1.5h1m6.5 -2h1m-15 2h1m-2.5 10h1m12.5 -17.5h1m-6.5 11.5h1m7 -16h1m-15.5 8h1m-7 13.5h1m10 -9h1m-10 -8.5h1m-6 14.5h1m-9 -5h1m4 -1h1m-4 2.5h1m11.5 4h1m14.5 -12h1m-18.5 10.5h1m1 4h1m-6.5 -6h1m11.5 -6h1m-18 9h1m22 -4.5h1m-21.5 -3.5h1m-4 4h1m21.5 0h1m-15.5 -6h1m13 -2h1m-5.5 -3.5h1m5 6h1m-17.5 11h1m7.5 -4h1m-0.5 -4.5h1m9 -11.5h1m-8 6.5h1m-13.5 8.5h1m4.5 -2h1m-8.5 -2.5h1m9 -0.5h1m7 -8.5h1m-15.5 13h1m19.5 -13h1m-7.5 9h1m-6.5 8.5h1m-5.5 -12.5h1m8 -5.5h1m-9.5 24h1m6 -14h1m-0.5 -2.5h1m-5.5 -3.5h1m-1.5 2h1m-11 7h1m20 -13.5h1m-4.5 -0.5h1m-3 18.5h1m-21.5 0h1m3.5 -2.5h1m18.5 -15h1m-16 19h1m11 -19.5h1m-22.5 10h1m13.5 -9.5h1m-7.5 9h1m19 -10h1m-18 15h1m8 -10.5h1m-7 20h1m0.5 -9h1m-2 -8h1m8 -2.5h1m-13.5 9h1m12.5 -8.5h1m-17 0h1m5.5 7.5h1m-6 -10.5h1m-3 7.5h1m11 0.5h1m-11.5 1h1m10 -6h1m-19 2.5h1m23.5 -4h1m-0.5 0h1m-26.5 12.5h1m12 -12.5h1m0.5 -2.5h1m3.5 15h1m-1.5 -4.5h1m0.5 -2h1m-13.5 -6h1m6 13.5h1m-2.5 1h1m6.5 -5.5h1m-21.5 -3.5h1m7.5 4.5h1m8 -13h1m3 15h1m-11.5 -2.5h1m4.5 -4.5h1m7.5 -4.5h1m-9 11h1m-8.5 -7h1m0.5 2.5h1m-14 3.5h1m22 2.5h1m-12 5h1m-0.5 -16.5h1m-2 6.5h1m-3 -2h1m10 8h1m-9 -15h1m-5 13.5h1m6 0.5h1m-8 -9.5h1m7.5 11h1m-12 0h1m5 -8h1m1.5 -3.5h1m5.5 0h1m-0.5 -7.5h1m-10.5 24.5h1m2 -5.5h1m-16 -4h1m8 4h1m15 -15h1m-4 15h1m-7.5 -11h1m0 11h1m9 -10.5h1m-28 7h1m2 -5.5h1m15 -6.5h1m-13.5 19.5h1m6.5 -12.5h1m-2.5 0.5h1m-8.5 -5.5h1m14 -0.5h1m-4.5 5h1m-2.5 8h1m7 1.5h1m-1.5 -2h1m-14 -10h1m15 8.5h1m-25.5 -7h1m20 -6h1m-0.5 4.5h1m0 1.5h1m-15.5 2h1m0 -0.5h1m-4 5h1m20 -15.5h1m-16.5 20h1m-10.5 -9h1m16 4h1m6.5 -13.5h1m-16.5 2h1m6.5 7.5h1m-3.5 -6h1m-16 5.5h1m-2.5 6.5h1m5.5 -7h1m-1.5 -1.5h1m5.5 -6h1m8.5 0h1m-15 5.5h1m16 9.5h1m-22 -4h1m3 3.5h1m16.5 -11.5h1m-14 15h1m-11 -3.5h1m7.5 -3.5h1m-14.5 1h1m10.5 6.5h1m3 -5h1m-16 0.5h1m26 -6h1m-17.5 6h1m-13 -3h1m29 -6.5h1m-4 -8.5h1m2.5 10.5h1m-24.5 1.5h1m2.5 9.5h1m-2 -4h1m-3.5 -9.5h1m19 -2.5h1m-6 14.5h1m-2.5 -1h1m8.5 -9.5h1m-5 -0.5h1m-11 11.5h1m12 -10h1m-25.5 6h1m16.5 -11.5h1m3.5 12.5h1m-0.5 -1h1m-8.5 -3h1m0 8h1m2 -14.5h1m-7 4.5h1m10.5 3.5h1m-21.5 -2.5h1m6.5 3h1m6.5 7.5h1m2.5 -12h1m-5 -10h1m-17.5 22h1m17 -20.5h1m3.5 2h1m-24 18h1m5.5 -3.5h1m15.5 -7h1m-27.5 0h1m11 10.5h1m-5.5 -12h1m0.5 2h1m11.5 7h1m-10.5 -8h1m-10 9h1m18.5 -17h1m2 12.5h1m-18.5 -4.5h1m11.5 -1.5h1m-11.5 2h1m-2.5 9h1m-6 -1h1m17.5 -18h1m-3.5 4h1m-1 8.5h1m-19 -2.5h1m24.5 -8.5h1m-28 14h1m1 -7.5h1m16.5 -2h1m-1 2h1m-6.5 -3h1m10 4h1m0 -7h1m-23 7.5h1m11 -8h1m4 10.5h1m-19 -2.5h1m13 13.5h1m3 -15.5h1m-3 -6h1m8.5 -3h1m-24 12.5h1m15 -1.5h1m-7 12.5h1m-6.5 -17.5h1m-3 4h1m12 -7h1m4 13h1m-16 1h1m6.5 -2h1m-16.5 7h1m10.5 -6.5h1m2.5 -5h1m8.5 -7.5h1m-15 15.5h1m0 1h1m11.5 -15h1m-5.5 16.5h1m0 -11h1m-11.5 10.5h1m-15.5 -5.5h1m24 -6.5h1m-5 -4.5h1m-9.5 15h1m-3 -11.5h1m5.5 9h1m-2 8h1m-8.5 -15h1m10.5 16h1m-3.5 -21.5h1m-6.5 4h1m9 14h1m3.5 -11h1m-18.5 13h1m0.5 -17h1m2.5 5.5h1m-4.5 3.5h1m-5.5 1h1m-2 3h1m14.5 -10h1m-13 13h1m6.5 -2.5h1m10.5 -7.5h1m-26.5 2.5h1m2 -6h1m22.5 -7.5h1m-4 8.5h1m-20.5 -3h1m5 1h1m16.5 2.5h1m-7 -5.5h1m-6.5 8h1m12 -5.5h1m-31 3.5h1m13 11.5h1m-15 -9h1m9.5 11h1m16 -19h1m-1 -4.5h1m-19.5 9h1m1 6h1m4.5 2h1m0 -10h1m5 -6.5h1m-9.5 15.5h1m1 -5.5h1m-10.5 6h1m16 -13h1m-22.5 5h1m22.5 3h1m-12.5 8.5h1m8 -9.5h1m-4.5 6.5h1m-11.5 -7h1m-3 0h1m3 11.5h1m16.5 -19.5h1m-9.5 12.5h1m-18.5 3.5h1m16.5 -16.5h1m1.5 1.5h1m-20 5.5h1m10.5 0.5h1m5 6h1m-11.5 1h1m-6 -7h1m8 3h1m-9 10h1m5 -9.5h1m10 -12h1m-3.5 9.5h1m-1 3h1m-11.5 -2.5h1m3 -3.5h1m7 -1.5h1m-8 4h1m-1 -1h1m10.5 -3h1m-25 3h1m8 -7.5h1m13.5 -2.5h1m-17 5.5h1m12 -4.5h1m-14.5 20.5h1m-10.5 -5h1m20.5 3.5h1m-3 -19h1m-7.5 8h1m-14.5 2h1m22 0.5h1m-1.5 -9h1m0.5 8h1m-20 -3h1m2.5 0.5h1m0 14h1m-11.5 -9.5h1m13 -8h1m-13.5 14.5h1m15 -7.5h1m0.5 7.5h1m-2.5 -8h1m-2 -8h1m9.5 8h1m-8 8.5h1m-8 -11.5h1m12.5 3.5h1m-4 1.5h1m-21.5 -3h1m24 -1h1m-16.5 5h1m10 -2.5h1m-13.5 12.5h1m3 -12.5h1m-8.5 12h1m0 -6.5h1m12 -2.5h1m-6.5 6.5h1m-6.5 -8h1m10.5 5h1m0.5 -3.5h1m-5 -9.5h1m-15 10h1m-4 5h1m16.5 -3.5h1m-4 6h1m-11 -4h1m14.5 -16.5h1m-4.5 20.5h1m7.5 -14.5h1m-3 4h1m-13 -7h1m-3.5 17h1m4 -18.5h1m-5.5 12.5h1m-1.5 -7h1m10.5 10h1m-16.5 0h1m12.5 2.5h1m0 -3h1m6.5 -13h1m-9.5 1.5h1m-20 8h1m15 6.5h1m10 -17.5h1m-8.5 19h1m1.5 -20h1m-2.5 18h1m-7 -10h1m3 1.5h1m-9 -4.5h1m-3.5 -1.5h1m15 3.5h1m-24.5 6.5h1m19.5 2h1m-3.5 -8h1m9 -7.5h1m-23 9.5h1m5 10.5h1m-7 -11.5h1m0 1.5h1m1.5 -7.5h1m4.5 -0.5h1m-15.5 10.5h1m18.5 2.5h1m-8.5 5.5h1m10.5 -12.5h1m-13.5 0h1m9.5 7.5h1m-17 -3h1m0.5 -7h1m8.5 -3.5h1m-13.5 7.5h1m14.5 2.5h1m-12.5 9h1m12.5 -19.5h1m-11 9h1m-2.5 -2.5h1m-7 2h1m13 -4.5h1m-10 6h1m8.5 -3h1m-7.5 -4h1m-1 -4.5h1m0 15h1m9 -15h1m-13.5 2.5h1m11.5 -3.5h1m-7.5 6h1m-12 1.5h1m10 -3.5h1m-2.5 10.5h1m-6.5 -2.5h1m0 -3.5h1m-1 -3.5h1m-12.5 14h1m9.5 0h1m9 -0.5h1m3.5 -7.5h1m-22.5 9h1m3.5 -1h1m-6.5 -7.5h1m15 4.5h1m-14 -7h1m7 9.5h1m7.5 -11.5h1m-18.5 8.5h1m5 -9.5h1m-4 2.5h1m-3 8h1m-3 1h1m10 -14.5h1m13 -1h1m-12 14h1m5.5 -14h1m-26 10.5h1m4 8h1m9 -13h1m-7 11.5h1m8 -4.5h1m-17 -1.5h1m1 0h1m12 9h1m1.5 -1.5h1m-14 -6h1m7.5 0h1m8.5 0.5h1m-13 -10h1m11.5 -5h1m-8.5 10.5h1m-12.5 4.5h1m14.5 -15h1m-9.5 12h1m-14 -0.5h1m24.5 3.5h1m-16.5 -5.5h1m5 1.5h1m-10 -1.5h1m16 -4h1m-21 15h1m6.5 0.5h1m-8 -11.5h1m6 6.5h1m-0.5 -8h1m10.5 10h1m-3.5 -17.5h1m-14 11.5h1m7.5 8.5h1m11 -10h1m-21 6.5h1m10 -7.5h1m-21 3.5h1m24.5 -6.5h1m-7 9h1m5 -3.5h1m-6 2h1m-7.5 -7.5h1m13.5 -7.5h1m-23 18.5h1m8.5 -13.5h1m-1.5 7h1m3.5 10h1m-2.5 -5h1m3.5 -11.5h1m1.5 -5.5h1m-18 21h1m6 1h1m-12 -13.5h1m10 9.5h1m-2 5h1m-12.5 -16h1m3.5 15.5h1m1.5 -5h1m11 -3h1m-20.5 -4h1m18.5 -6h1m-2 8.5h1m-23.5 -1h1m14.5 0h1m-10.5 -5h1m7.5 15h1m-13.5 -6h1m19.5 -6.5h1m-14 12h1m9.5 -8.5h1m7.5 -11h1m0 -3h1m-17.5 23h1m-1 -18h1m6.5 5.5h1m4 -3h1m-5.5 16h1m-20.5 -6h1m20.5 3h1m-15.5 -7h1m13.5 -11.5h1m0 15.5h1m-14.5 -4h1m15 -0.5h1m-10.5 -1h1m10 -11h1m-11 11.5h1m8 -10h1m-9 1.5h1m-15.5 14.5h1m22 -10h1m-13.5 10.5h1m3.5 6h1m5.5 -10h1m0 -9h1m-21 10.5h1m19.5 -13.5h1m-10.5 21h1m-1 -1.5h1m4 -9h1m-7.5 7.5h1m0.5 -17h1m-12.5 12h1m1.5 -9h1m3 7.5h1m6 1h1m0 -1.5h1m-6 -11h1m12.5 0.5h1m-17 10h1m12.5 6.5h1m-11.5 -5h1m-2.5 1.5h1m13 -6.5h1m-3.5 -3h1m-16 14h1m-2 -9h1m11 5h1m4.5 -2.5h1m-12 -3.5h1m10.5 -7h1m-8.5 2.5h1m-10 6.5h1m1.5 -9.5h1m10.5 7.5h1m-20 6h1m10 -3h1m-19 -1.5h1m22.5 -2h1m-2.5 0h1m-2.5 7.5h1m4 -18.5h1m-18.5 14.5h1m19 -9h1m-2.5 7.5h1m-19.5 2h1m7 2.5h1m-2.5 -10.5h1m13 6h1m-17.5 6.5h1m3.5 -3h1m-9.5 1h1m-8 3h1m16.5 4h1m-7.5 -13.5h1m5.5 -1.5h1m11.5 -6h1m-12 13h1m-9.5 -11h1m-3 1h1m-3.5 14.5h1m12.5 -8.5h1m5.5 2h1m-2.5 4h1m-4.5 2.5h1m-1 -6h1m-6.5 -2h1m-9.5 -2h1m0 8h1m20.5 -16.5h1m-14.5 8h1m9.5 -5h1m-11.5 11.5h1m-9 3.5h1m14.5 -16.5h1m3.5 7.5h1m-17 7h1m4 -16.5h1m-18 11h1m27.5 -7.5h1m-11.5 2.5h1m4 1.5h1m-6 -1h1m7 3.5h1m-0.5 -9.5h1m-10 0.5h1m4 -0.5h1m6 4h1m-21 13.5h1m-12 -8h1m8.5 10.5h1m-3 -14h1m12 14.5h1m-0.5 -15h1m-6.5 16h1m7.5 -13h1m-5 4.5h1m-11 2.5h1m7 -0.5h1m-4.5 1h1m10 -14.5h1m0.5 15.5h1m-10 1h1m-5.5 0.5h1m-1 -6h1m4 10h1m-6 -1h1m9.5 -5h1m-19.5 -3.5h1m22 -10.5h1m-24.5 7.5h1m9 3h1m-6 5h1m14 -13h1m-9 18.5h1m-7 -4.5h1m-6.5 -9.5h1m12 13h1m-5 -14.5h1m3 13.5h1m-5.5 -19h1m2.5 21.5h1m-11 -9.5h1m5 -13.5h1m10 2h1m-10.5 2h1m-13 11.5h1m8.5 -3h1m3.5 -9.5h1m0.5 18h1m1.5 -19h1m-21.5 12h1m8 5h1m1 1.5h1m12 -19.5h1m-7 2.5h1m2 14h1m-0.5 -20h1m6.5 5h1m-17 11h1m-2.5 7h1m-10.5 -3h1m21.5 -11h1m-0.5 -2.5h1m-7 5h1m6 -7.5h1m0 14h1m2.5 -16.5h1m-30.5 10.5h1m12 -4.5h1m7.5 -2h1m-5 -4.5h1m0 18.5h1m-5.5 0.5h1m-1.5 -0.5h1m-4.5 -0.5h1m-7.5 -7.5h1m-1.5 -1.5h1m13 10.5h1m-7 -5h1m8.5 -9h1m0.5 1h1m3 0h1m-5 8.5h1m-6.5 -10.5h1m-14.5 14.5h1m2 -3.5h1m8 3.5h1m6 -16.5h1m-7 4h1m-5 13.5h1m-11.5 -0.5h1m3 -6h1m12 -9h1m7 4h1m-0.5 0h1m-11.5 8h1m-2.5 2.5h1m5.5 -14h1m-4.5 -2.5h1m-4.5 5h1m-13.5 10.5h1m19 0.5h1m-18 -2h1m13 -14h1m-7.5 11.5h1m8.5 -4h1m5.5 -10.5h1m-23 11h1m1.5 1.5h1m-6.5 -0.5h1m10 0.5h1m-7.5 9h1m9.5 -18h1m-13 5.5h1m-0.5 6h1m11.5 -7h1m-1 0h1m-4.5 1h1m-10.5 4.5h1m-1.5 7h1m5 -12.5h1m15.5 -2.5h1m-17.5 4h1m5.5 1.5h1m-9.5 -0.5h1m3.5 8h1m8.5 -8h1m-22 -2h1m10 -1.5h1m7.5 -4.5h1m-19 16.5h1m21 -12.5h1m-17 15h1m1.5 -16h1m-12.5 11.5h1m14.5 -5h1m2.5 2h1m-1.5 9h1m4 -21h1m-21.5 14h1m7 -3.5h1m5.5 -0.5h1m-13.5 2.5h1m-2.5 -3h1m11 13h1m-5.5 -14h1m11.5 1.5h1m-11.5 -9h1m16.5 2.5h1m-29.5 15h1m17.5 -18h1m-22 12.5h1m2 5.5h1m6.5 2h1m0 -4.5h1m4 5.5h1m-6 -14.5h1m17 -1.5h1m-12.5 6.5h1m-14.5 4.5h1m8.5 -15h1m-10 8h1m15.5 -8h1m-7.5 19.5h1m9.5 -13h1m-16.5 -4h1m3.5 16.5h1m12.5 -13h1m-6 3.5h1m-2 -0.5h1m-7.5 -8h1m-12.5 6h1m2.5 -4.5h1m15.5 -1.5h1m-12.5 -0.5h1m-11.5 12h1m-0.5 2.5h1m16.5 -2h1m-9.5 5h1m1.5 3.5h1m-13 -10h1m25 -11.5h1m-4.5 -2h1m-18 18h1m13.5 -6.5h1m-12 4h1m-0.5 -6.5h1m8 1.5h1m-23.5 1h1m1.5 2.5h1m14.5 5h1m1.5 -10.5h1m2 -5.5h1m-11 10h1m-0.5 -10h1m0 3h1m-11.5 2h1m-4 5h1m11.5 -2.5h1m5.5 -1.5h1m-13 0h1m2 -6h1m12 5h1m-2.5 3h1m-7.5 4.5h1m-3 -15h1m5.5 15.5h1m-13 -10.5h1m3.5 14h1m-0.5 -9h1m3.5 1.5h1m5 4h1m0 -9h1m-2.5 9h1m-21 -5h1m-1.5 3h1m23.5 -16h1m-2.5 10h1m-8 -0.5h1m-9.5 10h1m17 -13.5h1m-22 5h1m-1 2h1m-8.5 2h1m23.5 4h1m-20.5 0h1m17 -2h1m-12 5.5h1m7 0h1m-10 -18.5h1m12 13h1m-11.5 -7h1m4.5 13h1m-7.5 -9.5h1m1 3h1m12.5 -12.5h1m2 -4h1m-17 8.5h1m1.5 -7h1m-3 18.5h1m-15.5 -0.5h1m18 -18.5h1m3 17h1m1.5 -14h1m0 12.5h1m-18.5 0h1m1.5 -9h1m3 -4h1m-14.5 9.5h1m11.5 -5.5h1m-4 15h1m-11 -9h1m13.5 -9.5h1m-3.5 7h1m5 -5h1m-7 8h1m-14 -3h1m25.5 2.5h1m-11.5 3h1m-14 3h1m8 -14.5h1m14 6.5h1m-1 2.5h1m-25 -3h1m-5.5 4h1m29.5 -5h1m-27 7h1m0 -8h1m-4 8.5h1m13.5 -3h1m-7 1.5h1m-6 2.5h1m-1 1.5h1m-4 -0.5h1m12 -4h1m6.5 2.5h1m0 -15.5h1m-6.5 4h1m2 -2h1m-8.5 2.5h1m-2 16h1m15.5 -23h1m-0.5 5.5h1m-25.5 1.5h1m9.5 -3h1m-17 15h1m9.5 -2.5h1m-3.5 -0.5h1m20 -6.5h1m-24.5 3.5h1m1 3.5h1m7 2.5h1m-9 3h1m13 -2h1m-2.5 2.5h1m-17.5 -10h1m5 9h1m6 2.5h1m-1 -10.5h1m3 -1h1m-14 10.5h1m3.5 0h1m13.5 -9h1m-17 -2h1m-4.5 4h1m-7.5 -4.5h1m12.5 -1h1m-10 6.5h1m14.5 -2h1m4.5 3.5h1m1 -10.5h1m-25.5 0h1m7 2h1m9 6h1m4 -6.5h1m-11.5 12h1m10.5 -12.5h1m-25.5 2.5h1m19 -1h1m-16 -4h1m6.5 9h1m8.5 -10.5h1m-2 -3h1m-6 6h1m-12.5 12.5h1m-5.5 -12h1m-4.5 9h1m5.5 2.5h1m2.5 -6h1m10 -7h1m-3 14h1m3.5 -9.5h1m-4 4h1m-16 -0.5h1m17.5 -8h1m-12.5 13.5h1m14 -20.5h1m-8 22.5h1m4.5 -18h1m-24 6h1m26 2h1m-13 -8.5h1m-13 3.5h1m13.5 15.5h1m-4 -12h1m1.5 -3.5h1m-4 -4h1m-4 0.5h1m1.5 9.5h1m-10 6.5h1m-0.5 1h1m4.5 -1h1m-4.5 -6.5h1m-9 -0.5h1m7 0.5h1m5 8h1m10.5 -11.5h1m-6 4.5h1m-15.5 -3.5h1m-7 4.5h1m14.5 -7h1m-2.5 16.5h1m1 -14h1m8 -10.5h1m-17.5 8h1m7.5 -6h1m9 8h1m-19.5 4.5h1m14.5 -15.5h1m0.5 1.5h1m-26.5 14.5h1m14 -13.5h1m11 0.5h1m-12.5 0h1m1.5 16h1m-11 -11h1m20 -8h1m-4 2h1m-8.5 13.5h1m-1 -10.5h1m-6 5.5h1m4 8.5h1m4 -17h1m-13.5 21h1m0 -16.5h1m-11 2.5h1m13 -5h1m-9.5 16.5h1m8 4.5h1m-9.5 -17.5h1m4 12h1m-7.5 -3.5h1m19.5 -4.5h1m-18 5.5h1m-12.5 -3.5h1m8 2h1m8.5 5h1m-4.5 -3.5h1m7 -14.5h1m-24.5 17h1m7.5 4h1m2 -9.5h1m12 -3.5h1m-5 0h1m-6 -2h1m8 7h1m-18 -4h1m-7.5 0h1m4.5 2.5h1m7 2h1m3.5 -14h1m1 -1h1m-6.5 19h1m-9.5 -1h1m14 -15.5h1m-7 18h1m-6.5 -17h1m17.5 1h1m-10 -2h1m-1 7h1m-8.5 9h1m-8 -5.5h1m13.5 -10h1m1 10.5h1m-7.5 -9h1m13.5 -4.5h1m-11.5 15.5h1m-4.5 -11h1m-1 6.5h1m12 -12h1m-15.5 15h1m-14 4h1m23 -10h1m-3 -7h1m-13.5 18.5h1m12.5 -11h1m-16 -2.5h1m22 -7.5h1m-8 10h1m-19 12h1m13 1h1m4 -15.5h1m-21 11h1m5 -11.5h1m-6 9h1m-3.5 3h1m-1 2.5h1m18.5 -8h1m-19.5 6h1m13.5 -10.5h1m-3.5 11h1m-5.5 -4h1m12.5 -0.5h1m-26 -1.5h1m13.5 -3h1m9.5 -5.5h1m-18.5 10.5h1m17.5 -11.5h1m-10.5 3h1m-13 14.5h1m-5 -4h1m11 -2.5h1m-4.5 0h1m-1 -2h1m-2 10h1m-5 -11.5h1m-4.5 5h1m22 -16h1m-3 11.5h1m-4.5 -9.5h1m6 7.5h1m-24 5.5h1m15.5 -14h1m0.5 12.5h1m-23 0.5h1m18.5 -5.5h1m4 -7h1m-17 17.5h1m6 -5.5h1m-13 -4.5h1m21.5 4.5h1m-14.5 -9.5h1m8 8h1m3.5 -6.5h1m-20 15.5h1m6.5 -13.5h1m10 9.5h1m-17.5 -7.5h1m5 8.5h1m8.5 -15h1m-20.5 8h1m19.5 -3h1m5 -6.5h1m-6 6h1m-4.5 7.5h1m-12.5 -5.5h1m14 3.5h1m-10.5 -9h1m1.5 7h1m3 9.5h1m5 -9h1m-9.5 11h1m-5 -9h1m-13 6h1m-4 -3h1m9 5h1m-2 -18h1m-3 4.5h1m4 12.5h1m-7.5 -3h1m-6.5 -4.5h1m25.5 -2.5h1m-7.5 -0.5h1m-8.5 -6h1m4.5 6.5h1m-3.5 -6h1m-10.5 7.5h1m3 1h1m-3.5 4h1m-8 -7.5h1m4 3.5h1m1 -3.5h1m10.5 -2.5h1m0 3.5h1m-15.5 8.5h1m21.5 -14.5h1m-12.5 4.5h1m-11 1.5h1m17 -10.5h1m-6.5 15h1m3 1h1m-12 5h1m12.5 -18h1m-4 12h1m2 -9.5h1m-16.5 9h1m-11 5h1m26.5 -18.5h1m-15.5 8h1m5 9h1m-16 -2.5h1m12 -12.5h1m-20.5 13h1m11.5 -10h1m16 5h1m-6 -5.5h1m-1 14h1m3.5 -16.5h1m-26 14.5h1m17 -14h1m-20 15h1m21.5 -18.5h1m-12.5 13.5h1m12.5 0.5h1m-14 0h1m1 -5h1m7 0.5h1m-20.5 0h1m10.5 -1h1m-8 6h1m5.5 -3.5h1m5 3h1m3.5 -6h1m-9.5 15.5h1m8 -11h1m-3.5 -13.5h1m-16 19.5h1m1.5 -2h1m-6.5 -1h1m6.5 0h1m-9.5 6h1m-4 -10h1m13 7.5h1m6.5 0h1m-17 -7.5h1m10 -9h1m-4.5 3h1m10.5 9h1m0 -3.5h1m-14 -7h1m-8.5 11.5h1m0.5 5.5h1m6.5 -1.5h1m-3 -9.5h1m-7 2h1m14 -7.5h1m-9.5 -1.5h1m5 17h1m-13 -10h1m16.5 4.5h1m-18 -1.5h1m3.5 -8h1m5 8.5h1m0 -12h1m6 7.5h1m-28 10.5h1m17.5 -12.5h1m-19.5 5h1m29.5 -10h1m-27 16h1m6 -5.5h1m4 -3.5h1m6.5 -9.5h1m-19.5 18.5h1m19.5 -10.5h1m-9 15h1m-1.5 -20.5h1m-3.5 10.5h1m-5 9h1m-1.5 -5h1m7 -3.5h1m-4 0.5h1m-0.5 8.5h1m-2.5 -1.5h1m-15.5 -6.5h1m13.5 9h1m9 -20h1m-7 4.5h1m8.5 -9h1m-24 10.5h1m13 -4h1m-6.5 15h1m-11 -1.5h1m2.5 -6.5h1m0 1h1m9 5h1m-2 -16.5h1m-11.5 6h1m19.5 6.5h1m-18 -5.5h1m7.5 8h1m-12 -3.5h1m13 1h1m-7.5 1h1m11 -1.5h1m-17 3.5h1m11 -16h1m-9 3.5h1m-3.5 19h1m5 -17.5h1m-6 11.5h1m-3.5 1.5h1m14 -10.5h1m-11.5 8h1m3.5 -15h1m-12 6h1m18 -6h1m-28.5 11.5h1m11 -5h1m-12 9.5h1m23.5 -16h1m-13.5 19.5h1m11 -8h1m-17 1h1m1 -0.5h1m8 7.5h1m-18 -11.5h1m11 8h1m7.5 -15.5h1m-5.5 10h1m2 4h1m-4.5 -13.5h1m7 10.5h1m-22 8h1m6 -11h1m11.5 -8h1m-16.5 2.5h1m-3 17h1m4.5 -18.5h1m3.5 11.5h1m-11 2h1m16 -1.5h1m-14 -1.5h1m-0.5 9.5h1m3.5 -10h1m-5 7h1m9 -4h1m-4 -12.5h1m7.5 7h1m-13.5 3h1m-1.5 5.5h1m-2 0.5h1m5 -14h1m-14 10h1m13 -5.5h1m3.5 -10h1m-4.5 13.5h1m-4 5.5h1m-7.5 -10.5h1m-12 3.5h1m2.5 5.5h1m0.5 3.5h1m9 -11h1m2 6h1m-10.5 -3.5h1m5.5 10.5h1m-1 -12.5h1m-7.5 11h1m3 1h1m8 -13h1m-5 -0.5h1m8 2.5h1m-10.5 -7h1m10.5 1h1m-14.5 17.5h1m5 -11.5h1m1.5 0.5h1m-7 -2h1m-0.5 13h1m9 -22.5h1m-13.5 12h1m-10.5 -5h1m21 -6h1m-28.5 18.5h1m8 -6h1m6 -12.5h1m-7.5 6h1m3 2h1m-9.5 -1.5h1m11 5.5h1m-8 9h1m1.5 -6h1m12.5 -8.5h1m-12.5 -3.5h1m12 1.5h1m-20.5 15h1m-6 -4h1m13 -4.5h1m0 -2h1m1.5 6h1m-13 5.5h1m0.5 -16.5h1m1 11h1m-10 -5.5h1m12 -7h1m-3.5 19h1m-13 -5.5h1m-4 -3.5h1m21 -11.5h1m0 16h1m-1.5 -1.5h1m-4 -7h1m-3.5 0.5h1m5 1.5h1m-4.5 -2h1m-15 7.5h1m-9 -3.5h1m21.5 8h1m-12.5 -17h1m-8 6h1m-2.5 4h1m21.5 5.5h1m1 -10.5h1m-16 7.5h1m-5.5 -7.5h1m0.5 3.5h1m3.5 6h1m10 -9h1m-19.5 0.5h1m5.5 -2h1m7.5 -5.5h1m-0.5 12.5h1m1 -9.5h1m-17.5 2.5h1m9.5 -1h1m-2.5 4h1m2 -9.5h1m-13 5.5h1m-7 4.5h1m13 8h1m-1.5 -5h1m-9.5 -3.5h1m3 -7.5h1m16 9.5h1m-22.5 -5h1m-2 11.5h1m17 -10.5h1m-2 6h1m-19 2h1m9 6.5h1m4 -8h1m-3 -0.5h1m10 -15.5h1m2.5 -1h1m-9 4h1m-2 21h1m6.5 -20.5h1m-18.5 9h1m9.5 9.5h1m4.5 -9h1m-10.5 -2.5h1m1.5 -0.5h1m-7 -6h1m-13.5 9h1m11.5 -2h1m0.5 4.5h1m-6.5 -9.5h1m2.5 15h1m14 -23h1m-10.5 7h1m-16 8.5h1m15 4.5h1m6.5 -11h1m-16.5 2h1m4.5 6h1m-9.5 -5h1m11 -1.5h1m-9 13h1m2 -11.5h1m-12 -3h1m5 2.5h1m1.5 1h1m-12 0.5h1m23.5 -5.5h1m-6 3h1m-1.5 -5.5h1m5.5 1h1m-10.5 19h1m-2 -5h1m-1.5 5h1m-2.5 -12h1m7 2h1m-25.5 -0.5h1m26 6h1m-6.5 -8h1m-4 -9h1m1 3h1m-8 9.5h1m-6 0.5h1m17 -10.5h1m-17.5 6.5h1m0 -4h1m5 7.5h1m-17.5 0h1m18.5 9h1m-17.5 -9.5h1m8 -5.5h1m-4 1.5h1m-9 2h1m23 -8h1m-5 -1h1m-1.5 2h1m-3.5 14h1m-5 1.5h1m4 -6h1m-6.5 -7h1m-10 8h1m11.5 5h1m11 -15.5h1m-10 13.5h1m6.5 -4h1m-7 -9h1m-14 3.5h1m1 6.5h1m6 0.5h1m8.5 -4h1m-20 2h1m-5 3.5h1m19.5 2h1m-7.5 1h1m-5 -13h1m-13 7h1m6 -9h1m4 -1.5h1m-6 0h1m17 -1h1m-2 7h1m-11 0.5h1m1 6h1m-14.5 -6.5h1m-4.5 1h1m5.5 2h1m12.5 11h1m-9.5 -17h1m-0.5 4h1m-4 8.5h1m17.5 -19.5h1m-10 5h1m-17 11.5h1m21 4h1m-10.5 0h1m2.5 -13.5h1m0.5 14h1m2 -17.5h1m-10 19.5h1m-10 -3h1m7 -17.5h1m9 9.5h1m-14 10.5h1m-8 -14h1m26 -1h1m-4.5 -1.5h1m-24.5 13.5h1m11 -17.5h1m12 5.5h1m-7 -5h1m-20.5 8.5h1m6.5 0h1m10 6h1m-12 4h1m6.5 -13h1m5 9h1m-13 -13.5h1m17 -3.5h1m-27 10.5h1m18.5 -5h1m2 -3.5h1m-5.5 4h1m-3 14h1m1 -16.5h1m-7.5 12.5h1m-8.5 2h1m0.5 -0.5h1m-0.5 -2.5h1m-6 3.5h1m0 -1.5h1m22 -9h1m-22 9h1m-4 -2h1m2.5 -9.5h1m10.5 -3h1m3.5 1h1m-5.5 4.5h1m-1 10.5h1m-1 -12.5h1m-2.5 4.5h1m-18 7.5h1m19 -16h1m6 6h1m-16.5 8h1m4.5 3.5h1m1.5 -4h1m-18.5 1h1m18 3h1m-17.5 -0.5h1m13.5 -12h1m-2 -0.5h1m-4 17.5h1m-5.5 -0.5h1m-4 -10.5h1m18.5 -12h1m-18 12h1m-2 4h1m11.5 -2h1m-2.5 3h1m-8 -10h1m7.5 3h1m4 -12.5h1m-14.5 13.5h1m4 7h1m-13.5 -9.5h1m4.5 11h1m-6 -7h1m12 -1h1m3 -13h1m-18.5 19h1m15.5 -10h1m-20.5 4h1m20.5 7h1m-3.5 -4h1m-2.5 -3h1m4.5 2h1m-18 2.5h1m19 -5h1m-26.5 0h1m15.5 4.5h1m-6 2h1m5.5 -5h1m-15.5 -1.5h1m13.5 -10h1m-11 15.5h1m2.5 -6.5h1m-4.5 11.5h1m-4 -16h1" stroke="#1a22ee" stroke-width="1" stroke-opacity="0.6" fill="none"/>
<path d="M99.5 631h1m-2.5 -3h1m2.5 -2.5h1m-10.5 8h1m-1.5 -2h1m-1.5 -0.5h1m0 -2h1m0 1h1m-3.5 1.5h1m3 -4h1m2 2.5h1m1 -5.5h1m-5 5h1m4 2h1m-10 0.5h1m8 -7h1m-12 5h1m8.5 -3.5h1m1 1.5h1m-13 2h1m7.5 2h1m-5.5 -3h1m4.5 0h1m-3.5 -1h1m-4.5 2h1m2.5 1.5h1m-5.5 0.5h1m5 -5.5h1m-9.5 3h1m10.5 -2.5h1m-3.5 5h1m1.5 -0.5h1m-8 -1.5h1m5 -1h1m-3.5 -2.5h1m-6 6h1m1.5 -1h1m5 -5.5h1m-4.5 5.5h1m-2 -2.5h1m-1.5 -1h1m2.5 2.5h1m-3.5 0h1m2 -5h1m-0.5 0h1m0 1h1m-13 2h1m-1 2h1m8.5 -3h1m2 2h1m-6 -1h1m4.5 -1h1m-12.5 1.5h1m1.5 0h1m4 3h1m-8 -3.5h1m10 0h1m-6 -3h1m-4.5 5h1m6.5 -5h1m-5.5 3.5h1m-0.5 -1.5h1m-3 4h1m1.5 -4h1m-0.5 2h1m-6 -1.5h1m-1 2h1m6.5 0h1m-7.5 0h1m1 0.5h1m2.5 -3.5h1m-5 0.5h1m-1.5 4h1m0 -5h1m-0.5 4h1m4 1h1m-4.5 -2h1m-8.5 2h1m1.5 1h1m6.5 -2.5h1m-1.5 1h1m-8.5 1h1m3 -0.5h1m-0.5 1h1m2.5 -6h1m-13.5 3h1m2.5 0.5h1m3.5 1.5h1m3.5 1h1m-3.5 -2h1m-2 -0.5h1m1 3h1m-3 -3.5h1m0 2.5h1m-2.5 -4.5h1m-8 4.5h1m4.5 -5h1m4 3.5h1m-10 -1.5h1m0 1h1m7.5 2h1m-1.5 -2h1m-9.5 -0.5h1m9 -2.5h1m-2 0h1m-1.5 -1h1m-5.5 4h1m-3.5 -0.5h1m1.5 3h1m4.5 -0.5h1m-11 -2.5h1m7 1h1m-1 -3h1m-9 3.5h1m7.5 -5.5h1m-2 4h1m-2 -2.5h1m-0.5 -0.5h1m0.5 0h1m-7.5 3.5h1m4 1h1m1 0h1m-9.5 2h1m-2.5 -3h1m0 0.5h1m0.5 1h1m0.5 -1.5h1m-3 2h1m-1.5 0h1m-4 -1.5h1m10 0h1m-2 -3.5h1m0 4.5h1m-6.5 -3h1m-2.5 5h1m7 -4h1m-3.5 1.5h1m-4.5 -2h1m0.5 2h1m-1 0h1m-2.5 -2.5h1m-4.5 0h1m3.5 -0.5h1m1 3h1m0.5 -2h1m-2.5 1.5h1m-5.5 0h1m3 -2h1m1 3h1m-5.5 -4h1m1 3h1m2 -2.5h1m-11 2h1m10.5 -4h1m-2 2.5h1m1.5 -1.5h1m-14 3h1m-1 -1h1m-1 2h1m10.5 -1.5h1m-9 -1h1m3 3.5h1m0 0h1m-0.5 -1h1m-5 1.5h1m2.5 -6h1m-1 2.5h1m-7 0h1m2.5 0.5h1m-1 -0.5h1m3 -3.5h1m0 -0.5h1m-1 1h1m-5.5 3.5h1m5.5 -3.5h1m-9 5h1m-6 -0.5h1m5 -0.5h1m2 1.5h1m-1 0h1m-0.5 -5h1m-0.5 2h1m-5 -1.5h1m2 0h1m-4.5 -0.5h1m6 1h1m-5.5 3h1m-2.5 -1h1m-0.5 -3h1m4.5 0h1m-2 4h1m-4 1.5h1m-2 -3.5h1m0 -3h1m1 1.5h1m-6.5 0.5h1m5.5 1.5h1m-3.5 1h1m-6 -3.5h1m2 0.5h1m-4.5 5.5h1m0.5 -0.5h1m2.5 -0.5h1m-5 -0.5h1m-5.5 -0.5h1m-1.5 0.5h1m8 1h1m0 -2.5h1m0 -1h1m-1.5 1.5h1m-7 -0.5h1m1 -1.5h1m2 4.5h1m-0.5 -8h1m-8.5 6.5h1m7.5 -4.5h1m-7 5.5h1m7 -3h1m-4.5 3.5h1m-7 -2.5h1m-2.5 -1.5h1m7 2h1m-9.5 0.5h1m6.5 -5h1m-1 2.5h1m-2 2h1m-4.5 -1.5h1m0 2h1m5 -2h1m0.5 0.5h1m-6 2.5h1m-6 -4.5h1m-1 5.5h1m2 -3h1m0 -3.5h1m4 0h1m-2 -1.5h1m-3.5 1.5h1m-2.5 -1h1m4.5 -0.5h1m-10 3.5h1m-2 -0.5h1m6 2.5h1m-8 -1.5h1m6.5 -2.5h1m-1 2h1m-3.5 -2h1m-1 1.5h1m-1 1h1m-5 3.5h1" stroke="#1a7080" stroke-width="1" stroke-opacity="0.45" fill="none"/>
<path d="M99.5 625h1m-16.5 7.5h1m4 -2h1m5.5 -4.5h1m-9.5 3.5h1m12 -5.5h1m-3 2h1m-19 5.5h1m9.5 -3h1m1.5 1h1m-3 -0.5h1m8 -3.5h1m-11.5 4h1m4 -1.5h1m-8 1.5h1m-2.5 -0.5h1m3.5 -0.5h1m5.5 -3.5h1m-3.5 1.5h1m-8.5 3h1m9 -2h1m-0.5 -1h1m-16 6h1m9.5 -5.5h1m2 -1h1m-5.5 2h1m-8 3.5h1m1 -2.5h1m0 0h1m3.5 -1h1m7.5 -2.5h1m-18 6h1m12 -4.5h1m0 -2h1m-6.5 3.5h1m-8.5 2h1m1.5 -1h1m-5 2h1m14.5 -6.5h1m-1 2.5h1m-5 -1h1m-0.5 0.5h1m-7.5 2h1m1 -1.5h1m6 0h1m-7.5 1.5h1m-9.5 1.5h1m13.5 -4.5h1m0 -0.5h1m-10.5 3.5h1m2 0h1m-10 4h1m15 -6.5h1m-3 -1.5h1m-15.5 5.5h1m8.5 -3h1m-3 1h1m11 -3h1m-5 1h1m0.5 -1.5h1m-1.5 -0.5h1m1 -1.5h1m-13.5 7h1m7.5 -3.5h1m-10 3h1m-7 4.5h1m11.5 -5h1m6 -3h1m-15 5h1m5.5 -4.5h1m-14 6h1m18.5 -8.5h1m-9.5 4h1m-9 3h1m-4 -0.5h1m19.5 -5.5h1m-19 7h1m17.5 -8h1m-2.5 1.5h1m-10 3.5h1m-1 -0.5h1m-5 1h1m9.5 -2.5h1m-8.5 2.5h1m5.5 -2.5h1m-3.5 0.5h1m-9.5 3.5h1m10 -5h1m-5 2h1m7 -1.5h1m-9 0.5h1m-7.5 3.5h1m-5 2.5h1m7.5 -4h1m-7.5 0h1m-2 3.5h1m14 -7.5h1m-9.5 3.5h1m10 -2.5h1m-9 1h1m7 -1h1m-15 3.5h1m1.5 0h1m0.5 -1h1m5.5 -2.5h1m-0.5 1h1m-4 0.5h1m3.5 -2h1m-6 1h1m-4.5 4h1m-8.5 0.5h1m14 -6h1m-0.5 1.5h1m-4.5 1h1m-6 1h1m1.5 -1h1m-6 4h1m2 -1.5h1m-8 2h1m6.5 -4h1m8 -4h1m0 1h1m-16 5h1m-2.5 0.5h1m2 -1h1m13 -5h1m-20 6.5h1m0 1h1m11 -4.5h1m-11 5h1m4.5 -4.5h1m9.5 -5h1m-9 5h1m-12 4h1m3.5 -1h1m-7.5 1.5h1m4.5 -4.5h1m-3.5 3h1m2 -1.5h1m6 -2h1m-2.5 -1.5h1m4.5 0.5h1m-2 0h1m-15.5 4h1m12 -4h1m-5.5 2.5h1m-3.5 1.5h1m-4 0h1m1.5 -0.5h1m6 -1h1m5.5 -3.5h1m-6.5 0h1m-10 5h1m2 -1.5h1m9 -3.5h1m-5 2h1m-3.5 0h1m-5 2h1m8.5 -4.5h1m-1.5 -1h1m-5.5 1.5h1m-0.5 2h1m-6 0h1m0 3h1m5 -6h1m-14 6.5h1m14 -5.5h1m-8 2.5h1m-7 2.5h1m9.5 -3.5h1m2.5 -3h1m-16.5 7.5h1m3.5 -0.5h1m-4 0h1m-4.5 2h1m15 -7h1m-14.5 6.5h1m14.5 -8h1m-1 0h1m-12 6h1m4.5 -4.5h1m6.5 -1h1m-9 1h1m-6 2h1m-3.5 2.5h1m10.5 -3h1m-8 1.5h1m-9.5 4.5h1m18 -8.5h1m-9.5 1.5h1m8 -2h1m-15.5 6.5h1m-3.5 0h1m6.5 -3h1m2 -0.5h1m-1 -2h1m3 -1.5h1m-1 2h1m-9.5 3h1m3 -2h1m-2.5 -0.5h1m-6 2.5h1m5.5 0h1m-4.5 -1.5h1m8.5 -2h1m-17.5 5.5h1m12.5 -4h1m-16.5 5h1m15 -6.5h1m-8.5 3.5h1m0 -3.5h1m2 2h1m-9.5 3h1m1.5 0h1m-1 -2h1m-1 1.5h1m4 -3h1m2 -1.5h1m-0.5 -0.5h1m0.5 0.5h1m-6 5h1m0.5 -5h1m-14 5.5h1m1.5 -1h1m-5.5 0.5h1m16 -5h1m-3 0h1m-3 2h1m-10 1.5h1m1 -0.5h1m2 2h1m11 -5.5h1m-13.5 3.5h1m3 -0.5h1m5.5 -2.5h1m-17.5 6h1m15.5 -6h1m-5.5 1.5h1m-10.5 2h1m7.5 -1h1m-1.5 1.5h1m-3 -2h1m-2.5 3.5h1m-10.5 1h1m18.5 -7.5h1m-16 6.5h1m7.5 -4h1m2.5 -1h1m1.5 0.5h1m-11 3.5h1m8 -2.5h1m-0.5 -4h1m-13 6.5h1m5.5 0h1m7.5 -4.5h1m-18.5 5.5h1m-4 0h1m14 -5h1m-0.5 -0.5h1m2.5 0h1m-6 1.5h1m5.5 -2h1m-20 6.5h1m15.5 -7h1m-0.5 -0.5h1m-6 3h1m5.5 -1h1m-4.5 1h1m-4.5 -0.5h1m2 1.5h1m3.5 -3.5h1m-19 6.5h1m0 -0.5h1m9 -5.5h1m-11.5 7.5h1m8 -3.5h1m-1 -1.5h1m-5.5 0.5h1m-3 3h1m1.5 -1h1m-7.5 1.5h1m-0.5 0h1m9.5 -3h1m2.5 -3h1m-13 4.5h1m3 -0.5h1m12 -5h1m-3 -1h1m-13 4.5h1m-2 1.5h1m4.5 -3h1m-4 3h1m3 -0.5h1m-6.5 -0.5h1m-4 2h1m-3 0h1m17.5 -4.5h1m-6.5 1h1m-4.5 0.5h1m7 -4h1m-3 2h1m-12.5 4.5h1m12.5 -5.5h1m-18 5.5h1m8.5 -2.5h1m5.5 -1h1m-19 5h1m10.5 -3h1m-4 0h1m10 -4.5h1m-9 3h1m-5 2h1m-10 3h1m13 -4h1m-4 2h1m-3 -1h1m6.5 -1.5h1m-3.5 -1h1m-2.5 1h1m-3.5 1.5h1" stroke="#44bb33" stroke-width="1" stroke-opacity="0.45" fill="none"/>
<path d="M100 624h1m1.5 -0.5h1m-7 1h1m4.5 -1h1m-1.5 -1.5h1m-7 2h1m1.5 0h1m3.5 -2h1m-6 3h1m1 -1.5h1m-1.5 0.5h1m3 -0.5h1m-3 -1h1m-6 1.5h1m4.5 0h1m-4 0.5h1m2.5 -1.5h1m-4 2.5h1m2.5 -4h1m-4.5 1.5h1m2 3h1m-1 -3h1m-6.5 3h1m3.5 -4h1m-1.5 2h1m1.5 -2h1m-2.5 -0.5h1m-6 4h1m1.5 -3h1m1.5 2.5h1m-0.5 -1h1m-3 0.5h1m-2 -1.5h1m-1.5 1.5h1m0 -1.5h1m-3.5 1h1m0 1.5h1m2 0h1m-4.5 0h1m4 -3h1m-3.5 1.5h1m-2.5 1h1m0.5 -1h1m1 -1h1m-5 1h1m0 -2.5h1m2.5 1.5h1m-4 1h1m-0.5 1h1m1.5 -0.5h1m-0.5 -1h1m-6.5 2h1m0.5 -1.5h1m-1.5 2h1m-2 -1.5h1m-0.5 -0.5h1m-0.5 1h1m-1 0h1m1.5 -0.5h1m-1.5 -1h1m-0.5 1.5h1m-4 -1h1m1.5 0.5h1m-1 0h1m0.5 -0.5h1m-2 -0.5h1m-3.5 1.5h1m-0.5 -1h1m1.5 0h1m-5 -0.5h1m-0.5 2h1m0.5 -1.5h1m-3 -0.5h1m3.5 -0.5h1m0 0.5h1m-2.5 1.5h1m-1.5 -1h1m-1 -1.5h1m-6 3h1m5 -2.5h1m-3 0.5h1m-2.5 -1h1m-3.5 1.5h1m3 1h1m-3.5 -1.5h1m-3 -1h1m5.5 0.5h1m-6 0h1m2 2h1m-4.5 0.5h1m0.5 -2h1m1.5 1h1m0 0h1m-3.5 -1.5h1m0 1h1m-3 -0.5h1m0 -0.5h1m2.5 0h1m-5 0.5h1m0.5 0.5h1m-2 2.5h1m-1 -0.5h1m-1 -2.5h1m1 -1h1m0.5 0h1m-6.5 3h1m3 -2h1m-3 1h1m1 -0.5h1m-3 1.5h1m2 -1h1m-6.5 -0.5h1m3 -0.5h1m-3 2h1m0 -3h1m-3 1h1m4 0h1m-6 1h1m-1 -1.5h1m-1.5 0.5h1m1.5 0.5h1m-4 2h1m-1 -1.5h1m1 -0.5h1m-3 0h1m4.5 -0.5h1m-4 2h1m2 -3.5h1m0.5 2.5h1m-4.5 -3h1m-1 4h1m-3.5 -0.5h1m4 -2h1m-3 3h1m-1.5 -2h1m-0.5 0.5h1m-1 -0.5h1m-1 -2h1m-2 2.5h1m0.5 -1.5h1m-4 -1h1m4.5 2h1m-4.5 1.5h1m-3 0h1m-3 -2h1m0.5 1h1m-1 0h1m1.5 0.5h1m0 -0.5h1m-4 0h1" stroke="#99c030" stroke-width="1" stroke-opacity="0.5" fill="none"/>
<path d="M106.5 621.5h1m-0.5 -1h1m-6.5 1h1m4 0h1m-4.5 0.5h1m-2 1.5h1m2 -1.5h1m-3 0.5h1m-1.5 1h1m2 -2h1m-4 2h1m-2.5 -0.5h1m4 -1h1m-3.5 0.5h1m2 -0.5h1m-2.5 -0.5h1m2.5 0h1m-1.5 0.5h1m-3 0h1m-1 -1h1m1 0.5h1m-3 0.5h1m-5.5 -1h1m2.5 2h1m3 0h1m-5 0h1m-4.5 1.5h1m7.5 -2.5h1m-3.5 1h1m-1.5 -3.5h1m-4 2.5h1m-1 2.5h1m1.5 -3.5h1m1.5 -1.5h1m-2 0h1m-6.5 2.5h1m4 -0.5h1m1 -0.5h1m-5.5 1h1m3.5 -1.5h1m-2 1h1m-6 1.5h1m4 -2.5h1m-7 2h1m3 -1.5h1m2 0h1m-4.5 2h1m1.5 -3.5h1m-7.5 3.5h1m6.5 -3h1m-4 1.5h1m2.5 1h1m-8 1.5h1m0.5 -3h1m0 2h1m-4 -1h1m3.5 1.5h1m-1 -3h1m-5 2.5h1m0.5 -1.5h1m-2 0h1m0 0.5h1m1.5 -1h1m-3.5 0.5h1m-4 0h1m3 0.5h1m0 0.5h1m-2 0.5h1m0 0h1m-0.5 -1h1m-2.5 -1.5h1m1 0.5h1m-7 1.5h1m4 0.5h1m2 -2h1m-7 1.5h1m0.5 -0.5h1m-0.5 0.5h1m-3.5 1.5h1m-1 -2.5h1m-2.5 1.5h1m4.5 -1h1m-1.5 1h1m-1 -1h1m2 0h1m-8 0.5h1m0.5 1.5h1m-2.5 -2.5h1m1 1h1m-2.5 3h1m5.5 -4.5h1m-6.5 1.5h1m-1 0h1m-3.5 0h1m5.5 -2h1m-2 1h1m-3 1.5h1m2.5 0h1m-3 -0.5h1m1.5 -2.5h1m-1 0h1m-8 2h1m3.5 0.5h1m-1.5 1h1m3 -2.5h1m-6 1h1m-2 0h1m0.5 0.5h1m-5 0h1m6 -1h1m-7 1.5h1m-2 0.5h1m5 -2h1m1 -1.5h1m-3.5 1h1m-6.5 2h1m6.5 -0.5h1m-0.5 -2.5h1m-3 2.5h1m-6.5 0.5h1" stroke="#c8c030" stroke-width="1" stroke-opacity="0.5" fill="none"/>
<rect x="42.1" y="578.7" width="108.6" height="106.5" fill="none" stroke="#999" stroke-width="1.1"/>
</svg>
</body></html>
